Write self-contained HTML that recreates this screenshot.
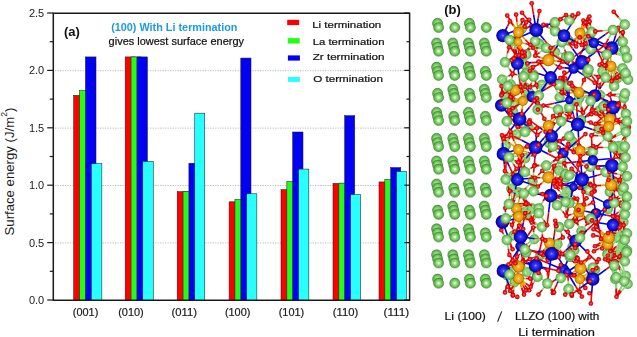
<!DOCTYPE html>
<html><head><meta charset="utf-8"><style>
html,body{margin:0;padding:0;background:#fff;width:637px;height:337px;overflow:hidden}
svg{display:block} text:not([transform]){will-change:transform}
</style></head><body>
<svg width="637" height="337" viewBox="0 0 637 337">
<defs>
<radialGradient id="gg" cx="50%" cy="50%" r="50%"><stop offset="0" stop-color="#ffffff"/><stop offset="0.12" stop-color="#f4fff0"/><stop offset="0.3" stop-color="#a5e88e"/><stop offset="0.56" stop-color="#7cd163"/><stop offset="0.85" stop-color="#5cb24a"/><stop offset="1" stop-color="#3f8535"/></radialGradient>
<radialGradient id="gb" cx="50%" cy="50%" r="50%"><stop offset="0" stop-color="#9a9aff"/><stop offset="0.22" stop-color="#3a3af4"/><stop offset="0.7" stop-color="#1010d8"/><stop offset="1" stop-color="#00007a"/></radialGradient>
<radialGradient id="go" cx="50%" cy="50%" r="50%"><stop offset="0" stop-color="#ffe9a0"/><stop offset="0.25" stop-color="#f7b52a"/><stop offset="0.75" stop-color="#e39a06"/><stop offset="1" stop-color="#9a5a00"/></radialGradient>
<radialGradient id="gr" cx="50%" cy="50%" r="50%"><stop offset="0" stop-color="#ffa0a0"/><stop offset="0.3" stop-color="#ff2a2a"/><stop offset="0.8" stop-color="#e00000"/><stop offset="1" stop-color="#8a0000"/></radialGradient>
<radialGradient id="gl" cx="50%" cy="50%" r="50%"><stop offset="0" stop-color="#ffffff"/><stop offset="0.13" stop-color="#eefce8"/><stop offset="0.36" stop-color="#a9e594"/><stop offset="0.66" stop-color="#88d072"/><stop offset="0.9" stop-color="#67b455"/><stop offset="1" stop-color="#4a8e40"/></radialGradient>
</defs>
<line x1="55" y1="242.90" x2="409" y2="242.90" stroke="#bdbdbd" stroke-width="1" stroke-dasharray="1.3 1.2"/>
<line x1="55" y1="185.50" x2="409" y2="185.50" stroke="#bdbdbd" stroke-width="1" stroke-dasharray="1.3 1.2"/>
<line x1="55" y1="128.10" x2="409" y2="128.10" stroke="#bdbdbd" stroke-width="1" stroke-dasharray="1.3 1.2"/>
<line x1="55" y1="70.70" x2="409" y2="70.70" stroke="#bdbdbd" stroke-width="1" stroke-dasharray="1.3 1.2"/>
<rect x="73.70" y="95.38" width="10.6" height="204.92" fill="#ff0000" stroke="#202020" stroke-width="0.55"/>
<rect x="79.55" y="90.68" width="10.6" height="209.62" fill="#22ff14" stroke="#202020" stroke-width="0.55"/>
<rect x="85.40" y="56.92" width="10.6" height="243.38" fill="#0000f5" stroke="#202020" stroke-width="0.55"/>
<rect x="91.25" y="163.69" width="10.6" height="136.61" fill="#28ffff" stroke="#202020" stroke-width="0.55"/>
<rect x="125.20" y="56.92" width="10.5" height="243.38" fill="#ff0000" stroke="#202020" stroke-width="0.55"/>
<rect x="131.05" y="56.92" width="10.5" height="243.38" fill="#22ff14" stroke="#202020" stroke-width="0.55"/>
<rect x="136.90" y="56.92" width="10.5" height="243.38" fill="#0000f5" stroke="#202020" stroke-width="0.55"/>
<rect x="142.75" y="161.39" width="10.5" height="138.91" fill="#28ffff" stroke="#202020" stroke-width="0.55"/>
<rect x="177.20" y="191.70" width="10.0" height="108.60" fill="#ff0000" stroke="#202020" stroke-width="0.55"/>
<rect x="183.05" y="191.24" width="10.0" height="109.06" fill="#22ff14" stroke="#202020" stroke-width="0.55"/>
<rect x="188.90" y="163.23" width="10.0" height="137.07" fill="#0000f5" stroke="#202020" stroke-width="0.55"/>
<rect x="194.75" y="113.18" width="10.0" height="187.12" fill="#28ffff" stroke="#202020" stroke-width="0.55"/>
<rect x="229.10" y="201.80" width="10.2" height="98.50" fill="#ff0000" stroke="#202020" stroke-width="0.55"/>
<rect x="234.95" y="199.51" width="10.2" height="100.79" fill="#22ff14" stroke="#202020" stroke-width="0.55"/>
<rect x="240.80" y="58.07" width="10.2" height="242.23" fill="#0000f5" stroke="#202020" stroke-width="0.55"/>
<rect x="246.65" y="193.77" width="10.2" height="106.53" fill="#28ffff" stroke="#202020" stroke-width="0.55"/>
<rect x="281.00" y="189.63" width="10.3" height="110.67" fill="#ff0000" stroke="#202020" stroke-width="0.55"/>
<rect x="286.85" y="181.60" width="10.3" height="118.70" fill="#22ff14" stroke="#202020" stroke-width="0.55"/>
<rect x="292.70" y="132.00" width="10.3" height="168.30" fill="#0000f5" stroke="#202020" stroke-width="0.55"/>
<rect x="298.55" y="169.08" width="10.3" height="131.22" fill="#28ffff" stroke="#202020" stroke-width="0.55"/>
<rect x="333.00" y="183.43" width="10.05" height="116.87" fill="#ff0000" stroke="#202020" stroke-width="0.55"/>
<rect x="338.85" y="183.09" width="10.05" height="117.21" fill="#22ff14" stroke="#202020" stroke-width="0.55"/>
<rect x="344.70" y="115.70" width="10.05" height="184.60" fill="#0000f5" stroke="#202020" stroke-width="0.55"/>
<rect x="350.55" y="194.57" width="10.05" height="105.73" fill="#28ffff" stroke="#202020" stroke-width="0.55"/>
<rect x="379.00" y="181.94" width="10.05" height="118.36" fill="#ff0000" stroke="#202020" stroke-width="0.55"/>
<rect x="384.85" y="179.53" width="10.05" height="120.77" fill="#22ff14" stroke="#202020" stroke-width="0.55"/>
<rect x="390.70" y="167.59" width="10.05" height="132.71" fill="#0000f5" stroke="#202020" stroke-width="0.55"/>
<rect x="396.55" y="171.49" width="10.05" height="128.81" fill="#28ffff" stroke="#202020" stroke-width="0.55"/>
<path d="M53.3 13.3 H409.6 V300.3 H53.3 Z" fill="none" stroke="#1a1a1a" stroke-width="1.5"/>
<line x1="47.2" y1="300.00" x2="53.3" y2="300.00" stroke="#1a1a1a" stroke-width="1.2"/>
<line x1="404.2" y1="300.00" x2="409.6" y2="300.00" stroke="#1a1a1a" stroke-width="1.2"/>
<line x1="49.8" y1="271.30" x2="53.3" y2="271.30" stroke="#1a1a1a" stroke-width="1.2"/>
<line x1="406.5" y1="271.30" x2="409.6" y2="271.30" stroke="#1a1a1a" stroke-width="1.2"/>
<line x1="47.2" y1="242.60" x2="53.3" y2="242.60" stroke="#1a1a1a" stroke-width="1.2"/>
<line x1="404.2" y1="242.60" x2="409.6" y2="242.60" stroke="#1a1a1a" stroke-width="1.2"/>
<line x1="49.8" y1="213.90" x2="53.3" y2="213.90" stroke="#1a1a1a" stroke-width="1.2"/>
<line x1="406.5" y1="213.90" x2="409.6" y2="213.90" stroke="#1a1a1a" stroke-width="1.2"/>
<line x1="47.2" y1="185.20" x2="53.3" y2="185.20" stroke="#1a1a1a" stroke-width="1.2"/>
<line x1="404.2" y1="185.20" x2="409.6" y2="185.20" stroke="#1a1a1a" stroke-width="1.2"/>
<line x1="49.8" y1="156.50" x2="53.3" y2="156.50" stroke="#1a1a1a" stroke-width="1.2"/>
<line x1="406.5" y1="156.50" x2="409.6" y2="156.50" stroke="#1a1a1a" stroke-width="1.2"/>
<line x1="47.2" y1="127.80" x2="53.3" y2="127.80" stroke="#1a1a1a" stroke-width="1.2"/>
<line x1="404.2" y1="127.80" x2="409.6" y2="127.80" stroke="#1a1a1a" stroke-width="1.2"/>
<line x1="49.8" y1="99.10" x2="53.3" y2="99.10" stroke="#1a1a1a" stroke-width="1.2"/>
<line x1="406.5" y1="99.10" x2="409.6" y2="99.10" stroke="#1a1a1a" stroke-width="1.2"/>
<line x1="47.2" y1="70.40" x2="53.3" y2="70.40" stroke="#1a1a1a" stroke-width="1.2"/>
<line x1="404.2" y1="70.40" x2="409.6" y2="70.40" stroke="#1a1a1a" stroke-width="1.2"/>
<line x1="49.8" y1="41.70" x2="53.3" y2="41.70" stroke="#1a1a1a" stroke-width="1.2"/>
<line x1="406.5" y1="41.70" x2="409.6" y2="41.70" stroke="#1a1a1a" stroke-width="1.2"/>
<line x1="47.2" y1="13.00" x2="53.3" y2="13.00" stroke="#1a1a1a" stroke-width="1.2"/>
<line x1="404.2" y1="13.00" x2="409.6" y2="13.00" stroke="#1a1a1a" stroke-width="1.2"/>
<text x="44.2" y="17.00" text-anchor="end" font-size="11" fill="#1a1a1a" font-family="Liberation Sans, sans-serif">2.5</text>
<text x="44.2" y="74.40" text-anchor="end" font-size="11" fill="#1a1a1a" font-family="Liberation Sans, sans-serif">2.0</text>
<text x="44.2" y="131.80" text-anchor="end" font-size="11" fill="#1a1a1a" font-family="Liberation Sans, sans-serif">1.5</text>
<text x="44.2" y="189.20" text-anchor="end" font-size="11" fill="#1a1a1a" font-family="Liberation Sans, sans-serif">1.0</text>
<text x="44.2" y="246.60" text-anchor="end" font-size="11" fill="#1a1a1a" font-family="Liberation Sans, sans-serif">0.5</text>
<text x="44.2" y="304.00" text-anchor="end" font-size="11" fill="#1a1a1a" font-family="Liberation Sans, sans-serif">0.0</text>
<text transform="translate(13.6,235.5) rotate(-90)" font-size="13.2" fill="#1a1a1a" font-family="Liberation Sans, sans-serif">Surface energy (J/m<tspan font-size="8.6" dy="-6.9">2</tspan><tspan dy="6.9">)</tspan></text>
<text x="72.8" y="315.8" font-size="11" fill="#1a1a1a" stroke="#1a1a1a" stroke-width="0.2" textLength="25.5" lengthAdjust="spacingAndGlyphs" font-family="Liberation Sans, sans-serif">(001)</text>
<text x="118.2" y="315.8" font-size="11" fill="#1a1a1a" stroke="#1a1a1a" stroke-width="0.2" textLength="25.5" lengthAdjust="spacingAndGlyphs" font-family="Liberation Sans, sans-serif">(010)</text>
<text x="171.6" y="315.8" font-size="11" fill="#1a1a1a" stroke="#1a1a1a" stroke-width="0.2" textLength="25.5" lengthAdjust="spacingAndGlyphs" font-family="Liberation Sans, sans-serif">(011)</text>
<text x="224.9" y="315.8" font-size="11" fill="#1a1a1a" stroke="#1a1a1a" stroke-width="0.2" textLength="25.5" lengthAdjust="spacingAndGlyphs" font-family="Liberation Sans, sans-serif">(100)</text>
<text x="278.7" y="315.8" font-size="11" fill="#1a1a1a" stroke="#1a1a1a" stroke-width="0.2" textLength="25.5" lengthAdjust="spacingAndGlyphs" font-family="Liberation Sans, sans-serif">(101)</text>
<text x="332.7" y="315.8" font-size="11" fill="#1a1a1a" stroke="#1a1a1a" stroke-width="0.2" textLength="25.5" lengthAdjust="spacingAndGlyphs" font-family="Liberation Sans, sans-serif">(110)</text>
<text x="383.6" y="315.8" font-size="11" fill="#1a1a1a" stroke="#1a1a1a" stroke-width="0.2" textLength="25.5" lengthAdjust="spacingAndGlyphs" font-family="Liberation Sans, sans-serif">(111)</text>
<text x="64.0" y="36.0" font-size="13" font-weight="bold" fill="#111" font-family="Liberation Sans, sans-serif">(a)</text>
<text x="111.2" y="31" font-size="10.6" font-weight="bold" fill="#1c9be4" textLength="126.3" lengthAdjust="spacingAndGlyphs" font-family="Liberation Sans, sans-serif">(100) With Li termination</text>
<text x="108.6" y="45.0" font-size="10.8" fill="#111" stroke="#111" stroke-width="0.22" textLength="135.5" lengthAdjust="spacingAndGlyphs" font-family="Liberation Sans, sans-serif">gives lowest surface energy</text>
<rect x="287.2" y="19.8" width="12" height="5.3" fill="#ff0000"/>
<text x="312.2" y="28.1" font-size="9.8" fill="#111" stroke="#111" stroke-width="0.22" textLength="69.0" lengthAdjust="spacingAndGlyphs" font-family="Liberation Sans, sans-serif">Li termination</text>
<rect x="287.7" y="38.1" width="12" height="5.4" fill="#22ff14"/>
<text x="312.7" y="45.0" font-size="9.8" fill="#111" stroke="#111" stroke-width="0.22" textLength="71.8" lengthAdjust="spacingAndGlyphs" font-family="Liberation Sans, sans-serif">La termination</text>
<rect x="287.9" y="55.4" width="12" height="5.2" fill="#0000f5"/>
<text x="312.7" y="59.9" font-size="9.8" fill="#111" stroke="#111" stroke-width="0.22" textLength="71.8" lengthAdjust="spacingAndGlyphs" font-family="Liberation Sans, sans-serif">Zr termination</text>
<rect x="287.9" y="77.0" width="12" height="4.9" fill="#28ffff"/>
<text x="313.2" y="81.5" font-size="9.8" fill="#111" stroke="#111" stroke-width="0.22" textLength="69.8" lengthAdjust="spacingAndGlyphs" font-family="Liberation Sans, sans-serif">O termination</text>
<g><circle cx="437.6" cy="23.4" r="5.1" fill="url(#gg)" stroke="#437f38" stroke-width="0.5"/>
<circle cx="438.6" cy="27.5" r="5.1" fill="url(#gg)" stroke="#437f38" stroke-width="0.5"/>
<circle cx="454.8" cy="27.5" r="5.1" fill="url(#gg)" stroke="#437f38" stroke-width="0.5"/>
<circle cx="469.4" cy="23.4" r="5.1" fill="url(#gg)" stroke="#437f38" stroke-width="0.5"/>
<circle cx="470.4" cy="27.5" r="5.1" fill="url(#gg)" stroke="#437f38" stroke-width="0.5"/>
<circle cx="486.3" cy="27.5" r="5.1" fill="url(#gg)" stroke="#437f38" stroke-width="0.5"/>
<circle cx="436.6" cy="43.0" r="5.1" fill="url(#gg)" stroke="#437f38" stroke-width="0.5"/>
<circle cx="437.6" cy="47.1" r="5.1" fill="url(#gg)" stroke="#437f38" stroke-width="0.5"/>
<circle cx="438.6" cy="51.2" r="5.1" fill="url(#gg)" stroke="#437f38" stroke-width="0.5"/>
<circle cx="452.8" cy="43.0" r="5.1" fill="url(#gg)" stroke="#437f38" stroke-width="0.5"/>
<circle cx="453.8" cy="47.1" r="5.1" fill="url(#gg)" stroke="#437f38" stroke-width="0.5"/>
<circle cx="454.8" cy="51.2" r="5.1" fill="url(#gg)" stroke="#437f38" stroke-width="0.5"/>
<circle cx="468.4" cy="43.0" r="5.1" fill="url(#gg)" stroke="#437f38" stroke-width="0.5"/>
<circle cx="469.4" cy="47.1" r="5.1" fill="url(#gg)" stroke="#437f38" stroke-width="0.5"/>
<circle cx="470.4" cy="51.2" r="5.1" fill="url(#gg)" stroke="#437f38" stroke-width="0.5"/>
<circle cx="484.3" cy="43.0" r="5.1" fill="url(#gg)" stroke="#437f38" stroke-width="0.5"/>
<circle cx="485.3" cy="47.1" r="5.1" fill="url(#gg)" stroke="#437f38" stroke-width="0.5"/>
<circle cx="486.3" cy="51.2" r="5.1" fill="url(#gg)" stroke="#437f38" stroke-width="0.5"/>
<circle cx="436.6" cy="67.2" r="5.1" fill="url(#gg)" stroke="#437f38" stroke-width="0.5"/>
<circle cx="437.6" cy="71.3" r="5.1" fill="url(#gg)" stroke="#437f38" stroke-width="0.5"/>
<circle cx="438.6" cy="75.4" r="5.1" fill="url(#gg)" stroke="#437f38" stroke-width="0.5"/>
<circle cx="453.8" cy="71.3" r="5.1" fill="url(#gg)" stroke="#437f38" stroke-width="0.5"/>
<circle cx="454.8" cy="75.4" r="5.1" fill="url(#gg)" stroke="#437f38" stroke-width="0.5"/>
<circle cx="468.4" cy="67.2" r="5.1" fill="url(#gg)" stroke="#437f38" stroke-width="0.5"/>
<circle cx="469.4" cy="71.3" r="5.1" fill="url(#gg)" stroke="#437f38" stroke-width="0.5"/>
<circle cx="470.4" cy="75.4" r="5.1" fill="url(#gg)" stroke="#437f38" stroke-width="0.5"/>
<circle cx="485.3" cy="71.3" r="5.1" fill="url(#gg)" stroke="#437f38" stroke-width="0.5"/>
<circle cx="486.3" cy="75.4" r="5.1" fill="url(#gg)" stroke="#437f38" stroke-width="0.5"/>
<circle cx="437.6" cy="93.4" r="5.1" fill="url(#gg)" stroke="#437f38" stroke-width="0.5"/>
<circle cx="438.6" cy="97.5" r="5.1" fill="url(#gg)" stroke="#437f38" stroke-width="0.5"/>
<circle cx="452.8" cy="89.3" r="5.1" fill="url(#gg)" stroke="#437f38" stroke-width="0.5"/>
<circle cx="453.8" cy="93.4" r="5.1" fill="url(#gg)" stroke="#437f38" stroke-width="0.5"/>
<circle cx="454.8" cy="97.5" r="5.1" fill="url(#gg)" stroke="#437f38" stroke-width="0.5"/>
<circle cx="469.4" cy="93.4" r="5.1" fill="url(#gg)" stroke="#437f38" stroke-width="0.5"/>
<circle cx="470.4" cy="97.5" r="5.1" fill="url(#gg)" stroke="#437f38" stroke-width="0.5"/>
<circle cx="484.3" cy="89.3" r="5.1" fill="url(#gg)" stroke="#437f38" stroke-width="0.5"/>
<circle cx="485.3" cy="93.4" r="5.1" fill="url(#gg)" stroke="#437f38" stroke-width="0.5"/>
<circle cx="486.3" cy="97.5" r="5.1" fill="url(#gg)" stroke="#437f38" stroke-width="0.5"/>
<circle cx="436.6" cy="112.3" r="5.1" fill="url(#gg)" stroke="#437f38" stroke-width="0.5"/>
<circle cx="437.6" cy="116.4" r="5.1" fill="url(#gg)" stroke="#437f38" stroke-width="0.5"/>
<circle cx="438.6" cy="120.5" r="5.1" fill="url(#gg)" stroke="#437f38" stroke-width="0.5"/>
<circle cx="453.8" cy="116.4" r="5.1" fill="url(#gg)" stroke="#437f38" stroke-width="0.5"/>
<circle cx="454.8" cy="120.5" r="5.1" fill="url(#gg)" stroke="#437f38" stroke-width="0.5"/>
<circle cx="468.4" cy="112.3" r="5.1" fill="url(#gg)" stroke="#437f38" stroke-width="0.5"/>
<circle cx="469.4" cy="116.4" r="5.1" fill="url(#gg)" stroke="#437f38" stroke-width="0.5"/>
<circle cx="470.4" cy="120.5" r="5.1" fill="url(#gg)" stroke="#437f38" stroke-width="0.5"/>
<circle cx="485.3" cy="116.4" r="5.1" fill="url(#gg)" stroke="#437f38" stroke-width="0.5"/>
<circle cx="486.3" cy="120.5" r="5.1" fill="url(#gg)" stroke="#437f38" stroke-width="0.5"/>
<circle cx="436.6" cy="138.4" r="5.1" fill="url(#gg)" stroke="#437f38" stroke-width="0.5"/>
<circle cx="437.6" cy="142.5" r="5.1" fill="url(#gg)" stroke="#437f38" stroke-width="0.5"/>
<circle cx="438.6" cy="146.6" r="5.1" fill="url(#gg)" stroke="#437f38" stroke-width="0.5"/>
<circle cx="452.8" cy="138.4" r="5.1" fill="url(#gg)" stroke="#437f38" stroke-width="0.5"/>
<circle cx="453.8" cy="142.5" r="5.1" fill="url(#gg)" stroke="#437f38" stroke-width="0.5"/>
<circle cx="454.8" cy="146.6" r="5.1" fill="url(#gg)" stroke="#437f38" stroke-width="0.5"/>
<circle cx="468.4" cy="138.4" r="5.1" fill="url(#gg)" stroke="#437f38" stroke-width="0.5"/>
<circle cx="469.4" cy="142.5" r="5.1" fill="url(#gg)" stroke="#437f38" stroke-width="0.5"/>
<circle cx="470.4" cy="146.6" r="5.1" fill="url(#gg)" stroke="#437f38" stroke-width="0.5"/>
<circle cx="484.3" cy="138.4" r="5.1" fill="url(#gg)" stroke="#437f38" stroke-width="0.5"/>
<circle cx="485.3" cy="142.5" r="5.1" fill="url(#gg)" stroke="#437f38" stroke-width="0.5"/>
<circle cx="486.3" cy="146.6" r="5.1" fill="url(#gg)" stroke="#437f38" stroke-width="0.5"/>
<circle cx="436.6" cy="161.0" r="5.1" fill="url(#gg)" stroke="#437f38" stroke-width="0.5"/>
<circle cx="437.6" cy="165.1" r="5.1" fill="url(#gg)" stroke="#437f38" stroke-width="0.5"/>
<circle cx="438.6" cy="169.2" r="5.1" fill="url(#gg)" stroke="#437f38" stroke-width="0.5"/>
<circle cx="452.8" cy="161.0" r="5.1" fill="url(#gg)" stroke="#437f38" stroke-width="0.5"/>
<circle cx="453.8" cy="165.1" r="5.1" fill="url(#gg)" stroke="#437f38" stroke-width="0.5"/>
<circle cx="454.8" cy="169.2" r="5.1" fill="url(#gg)" stroke="#437f38" stroke-width="0.5"/>
<circle cx="468.4" cy="161.0" r="5.1" fill="url(#gg)" stroke="#437f38" stroke-width="0.5"/>
<circle cx="469.4" cy="165.1" r="5.1" fill="url(#gg)" stroke="#437f38" stroke-width="0.5"/>
<circle cx="470.4" cy="169.2" r="5.1" fill="url(#gg)" stroke="#437f38" stroke-width="0.5"/>
<circle cx="484.3" cy="161.0" r="5.1" fill="url(#gg)" stroke="#437f38" stroke-width="0.5"/>
<circle cx="485.3" cy="165.1" r="5.1" fill="url(#gg)" stroke="#437f38" stroke-width="0.5"/>
<circle cx="486.3" cy="169.2" r="5.1" fill="url(#gg)" stroke="#437f38" stroke-width="0.5"/>
<circle cx="436.6" cy="184.0" r="5.1" fill="url(#gg)" stroke="#437f38" stroke-width="0.5"/>
<circle cx="437.6" cy="188.1" r="5.1" fill="url(#gg)" stroke="#437f38" stroke-width="0.5"/>
<circle cx="438.6" cy="192.2" r="5.1" fill="url(#gg)" stroke="#437f38" stroke-width="0.5"/>
<circle cx="453.8" cy="188.1" r="5.1" fill="url(#gg)" stroke="#437f38" stroke-width="0.5"/>
<circle cx="454.8" cy="192.2" r="5.1" fill="url(#gg)" stroke="#437f38" stroke-width="0.5"/>
<circle cx="468.4" cy="184.0" r="5.1" fill="url(#gg)" stroke="#437f38" stroke-width="0.5"/>
<circle cx="469.4" cy="188.1" r="5.1" fill="url(#gg)" stroke="#437f38" stroke-width="0.5"/>
<circle cx="470.4" cy="192.2" r="5.1" fill="url(#gg)" stroke="#437f38" stroke-width="0.5"/>
<circle cx="485.3" cy="188.1" r="5.1" fill="url(#gg)" stroke="#437f38" stroke-width="0.5"/>
<circle cx="486.3" cy="192.2" r="5.1" fill="url(#gg)" stroke="#437f38" stroke-width="0.5"/>
<circle cx="437.6" cy="210.2" r="5.1" fill="url(#gg)" stroke="#437f38" stroke-width="0.5"/>
<circle cx="438.6" cy="214.3" r="5.1" fill="url(#gg)" stroke="#437f38" stroke-width="0.5"/>
<circle cx="452.8" cy="206.1" r="5.1" fill="url(#gg)" stroke="#437f38" stroke-width="0.5"/>
<circle cx="453.8" cy="210.2" r="5.1" fill="url(#gg)" stroke="#437f38" stroke-width="0.5"/>
<circle cx="454.8" cy="214.3" r="5.1" fill="url(#gg)" stroke="#437f38" stroke-width="0.5"/>
<circle cx="469.4" cy="210.2" r="5.1" fill="url(#gg)" stroke="#437f38" stroke-width="0.5"/>
<circle cx="470.4" cy="214.3" r="5.1" fill="url(#gg)" stroke="#437f38" stroke-width="0.5"/>
<circle cx="484.3" cy="206.1" r="5.1" fill="url(#gg)" stroke="#437f38" stroke-width="0.5"/>
<circle cx="485.3" cy="210.2" r="5.1" fill="url(#gg)" stroke="#437f38" stroke-width="0.5"/>
<circle cx="486.3" cy="214.3" r="5.1" fill="url(#gg)" stroke="#437f38" stroke-width="0.5"/>
<circle cx="436.6" cy="228.8" r="5.1" fill="url(#gg)" stroke="#437f38" stroke-width="0.5"/>
<circle cx="437.6" cy="232.9" r="5.1" fill="url(#gg)" stroke="#437f38" stroke-width="0.5"/>
<circle cx="438.6" cy="237.0" r="5.1" fill="url(#gg)" stroke="#437f38" stroke-width="0.5"/>
<circle cx="453.8" cy="232.9" r="5.1" fill="url(#gg)" stroke="#437f38" stroke-width="0.5"/>
<circle cx="454.8" cy="237.0" r="5.1" fill="url(#gg)" stroke="#437f38" stroke-width="0.5"/>
<circle cx="468.4" cy="228.8" r="5.1" fill="url(#gg)" stroke="#437f38" stroke-width="0.5"/>
<circle cx="469.4" cy="232.9" r="5.1" fill="url(#gg)" stroke="#437f38" stroke-width="0.5"/>
<circle cx="470.4" cy="237.0" r="5.1" fill="url(#gg)" stroke="#437f38" stroke-width="0.5"/>
<circle cx="485.3" cy="232.9" r="5.1" fill="url(#gg)" stroke="#437f38" stroke-width="0.5"/>
<circle cx="486.3" cy="237.0" r="5.1" fill="url(#gg)" stroke="#437f38" stroke-width="0.5"/>
<circle cx="436.6" cy="254.8" r="5.1" fill="url(#gg)" stroke="#437f38" stroke-width="0.5"/>
<circle cx="437.6" cy="258.9" r="5.1" fill="url(#gg)" stroke="#437f38" stroke-width="0.5"/>
<circle cx="438.6" cy="263.0" r="5.1" fill="url(#gg)" stroke="#437f38" stroke-width="0.5"/>
<circle cx="452.8" cy="254.8" r="5.1" fill="url(#gg)" stroke="#437f38" stroke-width="0.5"/>
<circle cx="453.8" cy="258.9" r="5.1" fill="url(#gg)" stroke="#437f38" stroke-width="0.5"/>
<circle cx="454.8" cy="263.0" r="5.1" fill="url(#gg)" stroke="#437f38" stroke-width="0.5"/>
<circle cx="468.4" cy="254.8" r="5.1" fill="url(#gg)" stroke="#437f38" stroke-width="0.5"/>
<circle cx="469.4" cy="258.9" r="5.1" fill="url(#gg)" stroke="#437f38" stroke-width="0.5"/>
<circle cx="470.4" cy="263.0" r="5.1" fill="url(#gg)" stroke="#437f38" stroke-width="0.5"/>
<circle cx="484.3" cy="254.8" r="5.1" fill="url(#gg)" stroke="#437f38" stroke-width="0.5"/>
<circle cx="485.3" cy="258.9" r="5.1" fill="url(#gg)" stroke="#437f38" stroke-width="0.5"/>
<circle cx="486.3" cy="263.0" r="5.1" fill="url(#gg)" stroke="#437f38" stroke-width="0.5"/>
<circle cx="437.6" cy="279.1" r="5.1" fill="url(#gg)" stroke="#437f38" stroke-width="0.5"/>
<circle cx="438.6" cy="283.2" r="5.1" fill="url(#gg)" stroke="#437f38" stroke-width="0.5"/>
<circle cx="454.8" cy="283.2" r="5.1" fill="url(#gg)" stroke="#437f38" stroke-width="0.5"/>
<circle cx="469.4" cy="279.1" r="5.1" fill="url(#gg)" stroke="#437f38" stroke-width="0.5"/>
<circle cx="470.4" cy="283.2" r="5.1" fill="url(#gg)" stroke="#437f38" stroke-width="0.5"/>
<circle cx="485.3" cy="279.1" r="5.1" fill="url(#gg)" stroke="#437f38" stroke-width="0.5"/>
<circle cx="486.3" cy="283.2" r="5.1" fill="url(#gg)" stroke="#437f38" stroke-width="0.5"/></g>
<g><circle cx="559.0" cy="170.5" r="4.8" fill="url(#gl)" stroke="#5a9a4e" stroke-width="0.5"/>
<circle cx="618.5" cy="146.1" r="4.8" fill="url(#gl)" stroke="#5a9a4e" stroke-width="0.5"/>
<circle cx="566.0" cy="177.7" r="4.8" fill="url(#gl)" stroke="#5a9a4e" stroke-width="0.5"/>
<circle cx="525.3" cy="158.1" r="4.8" fill="url(#gl)" stroke="#5a9a4e" stroke-width="0.5"/>
<circle cx="581.4" cy="231.2" r="4.8" fill="url(#gl)" stroke="#5a9a4e" stroke-width="0.5"/>
<circle cx="513.9" cy="103.9" r="4.8" fill="url(#gl)" stroke="#5a9a4e" stroke-width="0.5"/>
<circle cx="513.4" cy="235.5" r="4.8" fill="url(#gl)" stroke="#5a9a4e" stroke-width="0.5"/>
<circle cx="589.4" cy="35.9" r="4.8" fill="url(#gl)" stroke="#5a9a4e" stroke-width="0.5"/>
<circle cx="625.8" cy="275.8" r="4.8" fill="url(#gl)" stroke="#5a9a4e" stroke-width="0.5"/>
<circle cx="584.4" cy="185.0" r="4.8" fill="url(#gl)" stroke="#5a9a4e" stroke-width="0.5"/>
<circle cx="521.8" cy="28.9" r="4.8" fill="url(#gl)" stroke="#5a9a4e" stroke-width="0.5"/>
<circle cx="568.6" cy="40.5" r="4.8" fill="url(#gl)" stroke="#5a9a4e" stroke-width="0.5"/>
<circle cx="526.0" cy="87.9" r="4.8" fill="url(#gl)" stroke="#5a9a4e" stroke-width="0.5"/>
<circle cx="505.8" cy="145.6" r="4.8" fill="url(#gl)" stroke="#5a9a4e" stroke-width="0.5"/>
<circle cx="557.5" cy="244.0" r="4.8" fill="url(#gl)" stroke="#5a9a4e" stroke-width="0.5"/>
<circle cx="567.4" cy="191.5" r="4.8" fill="url(#gl)" stroke="#5a9a4e" stroke-width="0.5"/>
<circle cx="565.0" cy="197.2" r="4.8" fill="url(#gl)" stroke="#5a9a4e" stroke-width="0.5"/>
<circle cx="559.6" cy="97.3" r="4.8" fill="url(#gl)" stroke="#5a9a4e" stroke-width="0.5"/>
<circle cx="627.7" cy="283.9" r="4.8" fill="url(#gl)" stroke="#5a9a4e" stroke-width="0.5"/>
<circle cx="607.9" cy="209.0" r="4.8" fill="url(#gl)" stroke="#5a9a4e" stroke-width="0.5"/>
<circle cx="541.7" cy="84.7" r="4.8" fill="url(#gl)" stroke="#5a9a4e" stroke-width="0.5"/>
<circle cx="538.4" cy="43.3" r="4.8" fill="url(#gl)" stroke="#5a9a4e" stroke-width="0.5"/>
<circle cx="598.6" cy="129.1" r="4.8" fill="url(#gl)" stroke="#5a9a4e" stroke-width="0.5"/>
<circle cx="608.7" cy="125.5" r="4.8" fill="url(#gl)" stroke="#5a9a4e" stroke-width="0.5"/>
<circle cx="622.7" cy="245.3" r="4.8" fill="url(#gl)" stroke="#5a9a4e" stroke-width="0.5"/>
<circle cx="502.1" cy="79.5" r="4.8" fill="url(#gl)" stroke="#5a9a4e" stroke-width="0.5"/>
<circle cx="616.7" cy="147.2" r="4.8" fill="url(#gl)" stroke="#5a9a4e" stroke-width="0.5"/>
<circle cx="625.5" cy="128.3" r="4.8" fill="url(#gl)" stroke="#5a9a4e" stroke-width="0.5"/>
<circle cx="511.2" cy="188.7" r="4.8" fill="url(#gl)" stroke="#5a9a4e" stroke-width="0.5"/>
<circle cx="600.1" cy="95.1" r="4.8" fill="url(#gl)" stroke="#5a9a4e" stroke-width="0.5"/>
<circle cx="513.0" cy="111.5" r="4.8" fill="url(#gl)" stroke="#5a9a4e" stroke-width="0.5"/>
<circle cx="623.5" cy="222.1" r="4.8" fill="url(#gl)" stroke="#5a9a4e" stroke-width="0.5"/>
<circle cx="516.9" cy="89.1" r="4.8" fill="url(#gl)" stroke="#5a9a4e" stroke-width="0.5"/>
<circle cx="514.7" cy="40.6" r="4.8" fill="url(#gl)" stroke="#5a9a4e" stroke-width="0.5"/>
<circle cx="602.4" cy="71.2" r="4.8" fill="url(#gl)" stroke="#5a9a4e" stroke-width="0.5"/>
<circle cx="572.5" cy="141.3" r="4.8" fill="url(#gl)" stroke="#5a9a4e" stroke-width="0.5"/>
<circle cx="526.0" cy="215.3" r="4.8" fill="url(#gl)" stroke="#5a9a4e" stroke-width="0.5"/>
<circle cx="518.5" cy="192.4" r="4.8" fill="url(#gl)" stroke="#5a9a4e" stroke-width="0.5"/>
<circle cx="516.7" cy="134.4" r="4.8" fill="url(#gl)" stroke="#5a9a4e" stroke-width="0.5"/>
<circle cx="528.8" cy="95.1" r="4.8" fill="url(#gl)" stroke="#5a9a4e" stroke-width="0.5"/>
<circle cx="624.3" cy="233.9" r="4.8" fill="url(#gl)" stroke="#5a9a4e" stroke-width="0.5"/>
<circle cx="540.3" cy="255.1" r="4.8" fill="url(#gl)" stroke="#5a9a4e" stroke-width="0.5"/>
<circle cx="528.5" cy="127.5" r="4.8" fill="url(#gl)" stroke="#5a9a4e" stroke-width="0.5"/>
<circle cx="609.7" cy="191.9" r="4.8" fill="url(#gl)" stroke="#5a9a4e" stroke-width="0.5"/>
<circle cx="514.6" cy="282.2" r="4.8" fill="url(#gl)" stroke="#5a9a4e" stroke-width="0.5"/>
<circle cx="528.9" cy="92.2" r="4.8" fill="url(#gl)" stroke="#5a9a4e" stroke-width="0.5"/>
<circle cx="599.4" cy="110.5" r="4.8" fill="url(#gl)" stroke="#5a9a4e" stroke-width="0.5"/>
<circle cx="539.3" cy="44.1" r="4.8" fill="url(#gl)" stroke="#5a9a4e" stroke-width="0.5"/>
<circle cx="513.4" cy="176.5" r="4.8" fill="url(#gl)" stroke="#5a9a4e" stroke-width="0.5"/>
<circle cx="532.6" cy="181.3" r="4.8" fill="url(#gl)" stroke="#5a9a4e" stroke-width="0.5"/>
<circle cx="548.8" cy="142.8" r="4.8" fill="url(#gl)" stroke="#5a9a4e" stroke-width="0.5"/>
<circle cx="622.9" cy="150.8" r="4.8" fill="url(#gl)" stroke="#5a9a4e" stroke-width="0.5"/>
<circle cx="574.4" cy="250.3" r="4.8" fill="url(#gl)" stroke="#5a9a4e" stroke-width="0.5"/>
<circle cx="525.0" cy="65.1" r="4.8" fill="url(#gl)" stroke="#5a9a4e" stroke-width="0.5"/>
<circle cx="616.5" cy="237.6" r="4.8" fill="url(#gl)" stroke="#5a9a4e" stroke-width="0.5"/>
<circle cx="533.4" cy="74.3" r="4.8" fill="url(#gl)" stroke="#5a9a4e" stroke-width="0.5"/>
<circle cx="595.2" cy="269.5" r="4.8" fill="url(#gl)" stroke="#5a9a4e" stroke-width="0.5"/>
<circle cx="526.8" cy="272.0" r="4.8" fill="url(#gl)" stroke="#5a9a4e" stroke-width="0.5"/>
<circle cx="613.2" cy="181.9" r="4.8" fill="url(#gl)" stroke="#5a9a4e" stroke-width="0.5"/>
<circle cx="555.1" cy="52.0" r="4.8" fill="url(#gl)" stroke="#5a9a4e" stroke-width="0.5"/>
<circle cx="506.9" cy="275.3" r="4.8" fill="url(#gl)" stroke="#5a9a4e" stroke-width="0.5"/>
<circle cx="532.0" cy="208.2" r="4.8" fill="url(#gl)" stroke="#5a9a4e" stroke-width="0.5"/>
<circle cx="534.4" cy="239.2" r="4.8" fill="url(#gl)" stroke="#5a9a4e" stroke-width="0.5"/>
<circle cx="577.2" cy="101.3" r="4.8" fill="url(#gl)" stroke="#5a9a4e" stroke-width="0.5"/>
<circle cx="524.1" cy="212.3" r="4.8" fill="url(#gl)" stroke="#5a9a4e" stroke-width="0.5"/>
<circle cx="510.7" cy="84.4" r="4.8" fill="url(#gl)" stroke="#5a9a4e" stroke-width="0.5"/>
<circle cx="572.5" cy="246.6" r="4.8" fill="url(#gl)" stroke="#5a9a4e" stroke-width="0.5"/>
<circle cx="579.4" cy="97.9" r="4.8" fill="url(#gl)" stroke="#5a9a4e" stroke-width="0.5"/>
<circle cx="617.6" cy="78.0" r="4.8" fill="url(#gl)" stroke="#5a9a4e" stroke-width="0.5"/>
<circle cx="504.1" cy="95.0" r="4.8" fill="url(#gl)" stroke="#5a9a4e" stroke-width="0.5"/>
<line x1="518.5" y1="149.6" x2="521.1" y2="153.8" stroke="#e8a000" stroke-width="1.6"/>
<line x1="521.1" y1="153.8" x2="522.1" y2="155.3" stroke="#ee0000" stroke-width="1.6"/>
<line x1="555.0" y1="22.3" x2="547.9" y2="23.8" stroke="#8ad67a" stroke-width="1.6"/>
<line x1="547.9" y1="23.8" x2="543.4" y2="24.7" stroke="#ee0000" stroke-width="1.6"/>
<line x1="510.7" y1="84.4" x2="510.6" y2="92.0" stroke="#8ad67a" stroke-width="1.6"/>
<line x1="510.6" y1="92.0" x2="510.6" y2="97.0" stroke="#ee0000" stroke-width="1.6"/>
<line x1="522.8" y1="101.0" x2="515.2" y2="100.8" stroke="#e8a000" stroke-width="1.6"/>
<line x1="515.2" y1="100.8" x2="510.8" y2="100.6" stroke="#ee0000" stroke-width="1.6"/>
<line x1="561.2" y1="159.2" x2="560.6" y2="156.5" stroke="#8ad67a" stroke-width="1.6"/>
<line x1="560.6" y1="156.5" x2="560.5" y2="155.8" stroke="#ee0000" stroke-width="1.6"/>
<line x1="550.6" y1="77.5" x2="559.8" y2="64.4" stroke="#0000e6" stroke-width="1.6"/>
<line x1="559.8" y1="64.4" x2="566.7" y2="54.6" stroke="#ee0000" stroke-width="1.6"/>
<line x1="518.5" y1="278.4" x2="511.9" y2="283.6" stroke="#e8a000" stroke-width="1.6"/>
<line x1="511.9" y1="283.6" x2="507.7" y2="286.8" stroke="#ee0000" stroke-width="1.6"/>
<line x1="509.5" y1="40.0" x2="509.2" y2="44.9" stroke="#8ad67a" stroke-width="1.6"/>
<line x1="509.2" y1="44.9" x2="509.1" y2="47.2" stroke="#ee0000" stroke-width="1.6"/>
<line x1="548.8" y1="142.8" x2="542.3" y2="144.2" stroke="#8ad67a" stroke-width="1.6"/>
<line x1="542.3" y1="144.2" x2="538.3" y2="145.0" stroke="#ee0000" stroke-width="1.6"/>
<line x1="559.0" y1="85.0" x2="555.2" y2="84.4" stroke="#8ad67a" stroke-width="1.6"/>
<line x1="555.2" y1="84.4" x2="554.1" y2="84.3" stroke="#ee0000" stroke-width="1.6"/>
<line x1="589.4" y1="35.9" x2="583.3" y2="36.9" stroke="#8ad67a" stroke-width="1.6"/>
<line x1="583.3" y1="36.9" x2="579.8" y2="37.4" stroke="#ee0000" stroke-width="1.6"/>
<line x1="538.8" y1="213.2" x2="543.7" y2="220.3" stroke="#8ad67a" stroke-width="1.6"/>
<line x1="543.7" y1="220.3" x2="547.1" y2="225.2" stroke="#ee0000" stroke-width="1.6"/>
<line x1="508.9" y1="157.1" x2="515.5" y2="161.9" stroke="#8ad67a" stroke-width="1.6"/>
<line x1="515.5" y1="161.9" x2="519.9" y2="165.1" stroke="#ee0000" stroke-width="1.6"/>
<line x1="550.6" y1="195.6" x2="552.6" y2="178.8" stroke="#0000e6" stroke-width="1.6"/>
<line x1="552.6" y1="178.8" x2="554.2" y2="165.9" stroke="#ee0000" stroke-width="1.6"/>
<line x1="605.6" y1="77.5" x2="605.6" y2="79.5" stroke="#8ad67a" stroke-width="1.6"/>
<line x1="605.6" y1="79.5" x2="605.6" y2="80.0" stroke="#ee0000" stroke-width="1.6"/>
<line x1="505.7" y1="179.5" x2="505.1" y2="173.9" stroke="#8ad67a" stroke-width="1.6"/>
<line x1="505.1" y1="173.9" x2="504.9" y2="171.0" stroke="#ee0000" stroke-width="1.6"/>
<line x1="613.2" y1="181.9" x2="610.8" y2="175.7" stroke="#8ad67a" stroke-width="1.6"/>
<line x1="610.8" y1="175.7" x2="609.4" y2="172.1" stroke="#ee0000" stroke-width="1.6"/>
<line x1="605.6" y1="172.0" x2="607.4" y2="177.2" stroke="#8ad67a" stroke-width="1.6"/>
<line x1="607.4" y1="177.2" x2="608.4" y2="180.0" stroke="#ee0000" stroke-width="1.6"/>
<line x1="552.7" y1="146.4" x2="550.7" y2="149.5" stroke="#8ad67a" stroke-width="1.6"/>
<line x1="550.7" y1="149.5" x2="550.1" y2="150.4" stroke="#ee0000" stroke-width="1.6"/>
<line x1="540.3" y1="255.1" x2="545.2" y2="258.4" stroke="#8ad67a" stroke-width="1.6"/>
<line x1="545.2" y1="258.4" x2="547.8" y2="260.1" stroke="#ee0000" stroke-width="1.6"/>
<line x1="548.4" y1="125.6" x2="545.5" y2="120.8" stroke="#e8a000" stroke-width="1.6"/>
<line x1="545.5" y1="120.8" x2="544.3" y2="118.7" stroke="#ee0000" stroke-width="1.6"/>
<line x1="508.9" y1="204.1" x2="506.2" y2="207.1" stroke="#8ad67a" stroke-width="1.6"/>
<line x1="506.2" y1="207.1" x2="505.3" y2="208.1" stroke="#ee0000" stroke-width="1.6"/>
<line x1="627.0" y1="121.3" x2="625.6" y2="113.0" stroke="#8ad67a" stroke-width="1.6"/>
<line x1="625.6" y1="113.0" x2="624.6" y2="107.4" stroke="#ee0000" stroke-width="1.6"/>
<line x1="561.2" y1="159.2" x2="558.3" y2="158.8" stroke="#8ad67a" stroke-width="1.6"/>
<line x1="558.3" y1="158.8" x2="557.5" y2="158.7" stroke="#ee0000" stroke-width="1.6"/>
<line x1="595.2" y1="269.5" x2="596.4" y2="264.4" stroke="#8ad67a" stroke-width="1.6"/>
<line x1="596.4" y1="264.4" x2="596.9" y2="262.0" stroke="#ee0000" stroke-width="1.6"/>
<line x1="533.5" y1="76.4" x2="535.4" y2="82.0" stroke="#8ad67a" stroke-width="1.6"/>
<line x1="535.4" y1="82.0" x2="536.4" y2="85.1" stroke="#ee0000" stroke-width="1.6"/>
<line x1="532.4" y1="96.7" x2="525.8" y2="84.6" stroke="#0000e6" stroke-width="1.6"/>
<line x1="525.8" y1="84.6" x2="521.2" y2="76.0" stroke="#ee0000" stroke-width="1.6"/>
<line x1="516.9" y1="89.1" x2="520.3" y2="90.5" stroke="#8ad67a" stroke-width="1.6"/>
<line x1="520.3" y1="90.5" x2="521.3" y2="90.9" stroke="#ee0000" stroke-width="1.6"/>
<line x1="513.0" y1="111.5" x2="512.8" y2="109.0" stroke="#8ad67a" stroke-width="1.6"/>
<line x1="512.8" y1="109.0" x2="512.8" y2="108.3" stroke="#ee0000" stroke-width="1.6"/>
<line x1="513.9" y1="103.9" x2="511.7" y2="99.2" stroke="#8ad67a" stroke-width="1.6"/>
<line x1="511.7" y1="99.2" x2="510.6" y2="97.0" stroke="#ee0000" stroke-width="1.6"/>
<line x1="549.5" y1="243.1" x2="553.0" y2="251.9" stroke="#e8a000" stroke-width="1.6"/>
<line x1="553.0" y1="251.9" x2="555.3" y2="257.7" stroke="#ee0000" stroke-width="1.6"/>
<line x1="538.8" y1="95.6" x2="539.1" y2="102.3" stroke="#8ad67a" stroke-width="1.6"/>
<line x1="539.1" y1="102.3" x2="539.2" y2="106.2" stroke="#ee0000" stroke-width="1.6"/>
<line x1="528.5" y1="127.5" x2="534.1" y2="128.0" stroke="#8ad67a" stroke-width="1.6"/>
<line x1="534.1" y1="128.0" x2="536.9" y2="128.2" stroke="#ee0000" stroke-width="1.6"/>
<line x1="575.7" y1="241.0" x2="587.1" y2="230.2" stroke="#0000e6" stroke-width="1.6"/>
<line x1="587.1" y1="230.2" x2="595.6" y2="222.1" stroke="#ee0000" stroke-width="1.6"/>
<line x1="549.5" y1="243.1" x2="552.1" y2="247.3" stroke="#e8a000" stroke-width="1.6"/>
<line x1="552.1" y1="247.3" x2="553.0" y2="248.7" stroke="#ee0000" stroke-width="1.6"/>
<line x1="607.7" y1="244.2" x2="599.4" y2="248.4" stroke="#e8a000" stroke-width="1.6"/>
<line x1="599.4" y1="248.4" x2="593.9" y2="251.2" stroke="#ee0000" stroke-width="1.6"/>
<line x1="515.3" y1="90.3" x2="512.4" y2="96.9" stroke="#e8a000" stroke-width="1.6"/>
<line x1="512.4" y1="96.9" x2="510.8" y2="100.6" stroke="#ee0000" stroke-width="1.6"/>
<line x1="592.8" y1="151.8" x2="589.0" y2="152.9" stroke="#8ad67a" stroke-width="1.6"/>
<line x1="589.0" y1="152.9" x2="587.8" y2="153.2" stroke="#ee0000" stroke-width="1.6"/>
<line x1="607.7" y1="136.2" x2="601.0" y2="142.7" stroke="#8ad67a" stroke-width="1.6"/>
<line x1="601.0" y1="142.7" x2="596.2" y2="147.4" stroke="#ee0000" stroke-width="1.6"/>
<line x1="598.6" y1="129.1" x2="600.9" y2="129.1" stroke="#8ad67a" stroke-width="1.6"/>
<line x1="600.9" y1="129.1" x2="601.5" y2="129.1" stroke="#ee0000" stroke-width="1.6"/>
<line x1="580.5" y1="268.3" x2="585.9" y2="261.5" stroke="#e8a000" stroke-width="1.6"/>
<line x1="585.9" y1="261.5" x2="589.4" y2="257.2" stroke="#ee0000" stroke-width="1.6"/>
<line x1="609.9" y1="119.1" x2="606.8" y2="110.9" stroke="#e8a000" stroke-width="1.6"/>
<line x1="606.8" y1="110.9" x2="604.9" y2="105.7" stroke="#ee0000" stroke-width="1.6"/>
<line x1="523.8" y1="193.4" x2="532.0" y2="189.4" stroke="#8ad67a" stroke-width="1.6"/>
<line x1="532.0" y1="189.4" x2="537.8" y2="186.6" stroke="#ee0000" stroke-width="1.6"/>
<line x1="591.7" y1="32.0" x2="590.4" y2="25.4" stroke="#8ad67a" stroke-width="1.6"/>
<line x1="590.4" y1="25.4" x2="589.6" y2="21.4" stroke="#ee0000" stroke-width="1.6"/>
<line x1="518.5" y1="266.6" x2="517.5" y2="260.1" stroke="#e8a000" stroke-width="1.6"/>
<line x1="517.5" y1="260.1" x2="517.0" y2="256.7" stroke="#ee0000" stroke-width="1.6"/>
<line x1="538.4" y1="43.3" x2="530.4" y2="48.7" stroke="#8ad67a" stroke-width="1.6"/>
<line x1="530.4" y1="48.7" x2="524.6" y2="52.6" stroke="#ee0000" stroke-width="1.6"/>
<line x1="608.8" y1="237.8" x2="615.4" y2="231.5" stroke="#e8a000" stroke-width="1.6"/>
<line x1="615.4" y1="231.5" x2="619.7" y2="227.3" stroke="#ee0000" stroke-width="1.6"/>
<line x1="548.4" y1="177.4" x2="552.9" y2="183.4" stroke="#e8a000" stroke-width="1.6"/>
<line x1="552.9" y1="183.4" x2="555.5" y2="186.8" stroke="#ee0000" stroke-width="1.6"/>
<line x1="615.4" y1="279.0" x2="615.9" y2="269.1" stroke="#8ad67a" stroke-width="1.6"/>
<line x1="615.9" y1="269.1" x2="616.2" y2="262.0" stroke="#ee0000" stroke-width="1.6"/>
<line x1="569.3" y1="136.2" x2="565.3" y2="137.9" stroke="#8ad67a" stroke-width="1.6"/>
<line x1="565.3" y1="137.9" x2="563.9" y2="138.6" stroke="#ee0000" stroke-width="1.6"/>
<line x1="622.5" y1="68.5" x2="612.1" y2="66.7" stroke="#8ad67a" stroke-width="1.6"/>
<line x1="612.1" y1="66.7" x2="604.4" y2="65.4" stroke="#ee0000" stroke-width="1.6"/>
<line x1="616.7" y1="147.2" x2="609.0" y2="139.2" stroke="#8ad67a" stroke-width="1.6"/>
<line x1="609.0" y1="139.2" x2="603.1" y2="133.1" stroke="#ee0000" stroke-width="1.6"/>
<line x1="533.5" y1="76.4" x2="531.4" y2="83.0" stroke="#8ad67a" stroke-width="1.6"/>
<line x1="531.4" y1="83.0" x2="530.0" y2="87.1" stroke="#ee0000" stroke-width="1.6"/>
<line x1="534.4" y1="239.2" x2="527.1" y2="243.9" stroke="#8ad67a" stroke-width="1.6"/>
<line x1="527.1" y1="243.9" x2="522.1" y2="247.1" stroke="#ee0000" stroke-width="1.6"/>
<line x1="607.7" y1="253.8" x2="610.0" y2="257.3" stroke="#8ad67a" stroke-width="1.6"/>
<line x1="610.0" y1="257.3" x2="610.8" y2="258.6" stroke="#ee0000" stroke-width="1.6"/>
<line x1="580.0" y1="208.4" x2="583.1" y2="205.2" stroke="#e8a000" stroke-width="1.6"/>
<line x1="583.1" y1="205.2" x2="584.0" y2="204.2" stroke="#ee0000" stroke-width="1.6"/>
<line x1="609.9" y1="119.1" x2="604.7" y2="125.3" stroke="#e8a000" stroke-width="1.6"/>
<line x1="604.7" y1="125.3" x2="601.5" y2="129.1" stroke="#ee0000" stroke-width="1.6"/>
<line x1="518.0" y1="42.0" x2="516.6" y2="50.3" stroke="#e8a000" stroke-width="1.6"/>
<line x1="516.6" y1="50.3" x2="515.8" y2="55.4" stroke="#ee0000" stroke-width="1.6"/>
<line x1="528.9" y1="92.2" x2="526.3" y2="88.3" stroke="#8ad67a" stroke-width="1.6"/>
<line x1="526.3" y1="88.3" x2="525.2" y2="86.7" stroke="#ee0000" stroke-width="1.6"/>
<line x1="579.7" y1="279.0" x2="587.5" y2="281.1" stroke="#e8a000" stroke-width="1.6"/>
<line x1="587.5" y1="281.1" x2="592.2" y2="282.4" stroke="#ee0000" stroke-width="1.6"/>
<line x1="600.1" y1="95.1" x2="606.3" y2="94.9" stroke="#8ad67a" stroke-width="1.6"/>
<line x1="606.3" y1="94.9" x2="609.7" y2="94.7" stroke="#ee0000" stroke-width="1.6"/>
<line x1="578.9" y1="92.4" x2="569.2" y2="92.9" stroke="#e8a000" stroke-width="1.6"/>
<line x1="569.2" y1="92.9" x2="562.6" y2="93.2" stroke="#ee0000" stroke-width="1.6"/>
<line x1="624.8" y1="214.3" x2="620.7" y2="207.9" stroke="#8ad67a" stroke-width="1.6"/>
<line x1="620.7" y1="207.9" x2="618.0" y2="203.7" stroke="#ee0000" stroke-width="1.6"/>
<line x1="563.4" y1="152.8" x2="574.2" y2="165.4" stroke="#0000e6" stroke-width="1.6"/>
<line x1="574.2" y1="165.4" x2="582.4" y2="175.0" stroke="#ee0000" stroke-width="1.6"/>
<line x1="590.6" y1="218.5" x2="594.2" y2="221.1" stroke="#8ad67a" stroke-width="1.6"/>
<line x1="594.2" y1="221.1" x2="595.6" y2="222.1" stroke="#ee0000" stroke-width="1.6"/>
<line x1="607.7" y1="244.2" x2="599.8" y2="245.5" stroke="#e8a000" stroke-width="1.6"/>
<line x1="599.8" y1="245.5" x2="595.0" y2="246.2" stroke="#ee0000" stroke-width="1.6"/>
<line x1="592.8" y1="160.3" x2="593.6" y2="175.5" stroke="#0000e6" stroke-width="1.6"/>
<line x1="593.6" y1="175.5" x2="594.3" y2="186.7" stroke="#ee0000" stroke-width="1.6"/>
<line x1="535.6" y1="147.5" x2="544.1" y2="137.9" stroke="#0000e6" stroke-width="1.6"/>
<line x1="544.1" y1="137.9" x2="550.0" y2="131.3" stroke="#ee0000" stroke-width="1.6"/>
<line x1="546.3" y1="165.6" x2="539.0" y2="165.8" stroke="#8ad67a" stroke-width="1.6"/>
<line x1="539.0" y1="165.8" x2="534.3" y2="166.0" stroke="#ee0000" stroke-width="1.6"/>
<line x1="513.4" y1="235.5" x2="519.5" y2="231.6" stroke="#8ad67a" stroke-width="1.6"/>
<line x1="519.5" y1="231.6" x2="523.2" y2="229.1" stroke="#ee0000" stroke-width="1.6"/>
<line x1="560.8" y1="277.9" x2="565.6" y2="276.0" stroke="#8ad67a" stroke-width="1.6"/>
<line x1="565.6" y1="276.0" x2="567.9" y2="275.1" stroke="#ee0000" stroke-width="1.6"/>
<line x1="518.4" y1="32.3" x2="515.2" y2="37.5" stroke="#e8a000" stroke-width="1.6"/>
<line x1="515.2" y1="37.5" x2="513.8" y2="39.9" stroke="#ee0000" stroke-width="1.6"/>
<line x1="525.0" y1="65.1" x2="524.9" y2="59.1" stroke="#8ad67a" stroke-width="1.6"/>
<line x1="524.9" y1="59.1" x2="524.8" y2="55.9" stroke="#ee0000" stroke-width="1.6"/>
<line x1="537.7" y1="109.5" x2="535.5" y2="103.8" stroke="#8ad67a" stroke-width="1.6"/>
<line x1="535.5" y1="103.8" x2="534.3" y2="100.6" stroke="#ee0000" stroke-width="1.6"/>
<line x1="524.9" y1="172.0" x2="521.6" y2="167.4" stroke="#8ad67a" stroke-width="1.6"/>
<line x1="521.6" y1="167.4" x2="519.9" y2="165.1" stroke="#ee0000" stroke-width="1.6"/>
<line x1="627.0" y1="57.7" x2="624.0" y2="52.1" stroke="#8ad67a" stroke-width="1.6"/>
<line x1="624.0" y1="52.1" x2="622.2" y2="48.8" stroke="#ee0000" stroke-width="1.6"/>
<line x1="579.4" y1="97.9" x2="573.1" y2="91.4" stroke="#8ad67a" stroke-width="1.6"/>
<line x1="573.1" y1="91.4" x2="568.7" y2="86.9" stroke="#ee0000" stroke-width="1.6"/>
<line x1="623.7" y1="187.5" x2="621.2" y2="182.5" stroke="#8ad67a" stroke-width="1.6"/>
<line x1="621.2" y1="182.5" x2="619.9" y2="179.9" stroke="#ee0000" stroke-width="1.6"/>
<line x1="557.0" y1="205.2" x2="562.6" y2="211.5" stroke="#8ad67a" stroke-width="1.6"/>
<line x1="562.6" y1="211.5" x2="566.5" y2="215.8" stroke="#ee0000" stroke-width="1.6"/>
<line x1="532.4" y1="96.7" x2="537.0" y2="103.1" stroke="#0000e6" stroke-width="1.6"/>
<line x1="537.0" y1="103.1" x2="539.2" y2="106.2" stroke="#ee0000" stroke-width="1.6"/>
<line x1="607.7" y1="244.2" x2="609.6" y2="253.0" stroke="#e8a000" stroke-width="1.6"/>
<line x1="609.6" y1="253.0" x2="610.8" y2="258.6" stroke="#ee0000" stroke-width="1.6"/>
<line x1="506.8" y1="121.3" x2="513.4" y2="124.6" stroke="#8ad67a" stroke-width="1.6"/>
<line x1="513.4" y1="124.6" x2="517.6" y2="126.8" stroke="#ee0000" stroke-width="1.6"/>
<line x1="580.0" y1="150.7" x2="572.8" y2="146.6" stroke="#e8a000" stroke-width="1.6"/>
<line x1="572.8" y1="146.6" x2="568.3" y2="144.1" stroke="#ee0000" stroke-width="1.6"/>
<line x1="559.0" y1="85.0" x2="559.8" y2="80.2" stroke="#8ad67a" stroke-width="1.6"/>
<line x1="559.8" y1="80.2" x2="560.2" y2="78.0" stroke="#ee0000" stroke-width="1.6"/>
<line x1="611.0" y1="184.9" x2="614.0" y2="188.3" stroke="#e8a000" stroke-width="1.6"/>
<line x1="614.0" y1="188.3" x2="614.8" y2="189.3" stroke="#ee0000" stroke-width="1.6"/>
<line x1="518.0" y1="42.0" x2="520.6" y2="48.8" stroke="#e8a000" stroke-width="1.6"/>
<line x1="520.6" y1="48.8" x2="522.1" y2="52.5" stroke="#ee0000" stroke-width="1.6"/>
<line x1="537.4" y1="276.7" x2="533.3" y2="282.9" stroke="#88d878" stroke-width="1.6"/>
<line x1="533.3" y1="282.9" x2="530.7" y2="286.8" stroke="#ee0000" stroke-width="1.6"/>
<line x1="555.1" y1="52.0" x2="559.8" y2="57.9" stroke="#8ad67a" stroke-width="1.6"/>
<line x1="559.8" y1="57.9" x2="562.8" y2="61.8" stroke="#ee0000" stroke-width="1.6"/>
<line x1="509.5" y1="40.0" x2="512.9" y2="40.0" stroke="#8ad67a" stroke-width="1.6"/>
<line x1="512.9" y1="40.0" x2="513.8" y2="39.9" stroke="#ee0000" stroke-width="1.6"/>
<line x1="515.3" y1="90.3" x2="521.8" y2="88.0" stroke="#e8a000" stroke-width="1.6"/>
<line x1="521.8" y1="88.0" x2="525.2" y2="86.7" stroke="#ee0000" stroke-width="1.6"/>
<line x1="611.0" y1="66.2" x2="606.7" y2="58.3" stroke="#e8a000" stroke-width="1.6"/>
<line x1="606.7" y1="58.3" x2="603.9" y2="53.2" stroke="#ee0000" stroke-width="1.6"/>
<line x1="602.4" y1="71.2" x2="603.9" y2="67.0" stroke="#8ad67a" stroke-width="1.6"/>
<line x1="603.9" y1="67.0" x2="604.4" y2="65.4" stroke="#ee0000" stroke-width="1.6"/>
<line x1="535.6" y1="265.6" x2="539.6" y2="250.2" stroke="#0000e6" stroke-width="1.6"/>
<line x1="539.6" y1="250.2" x2="542.5" y2="238.7" stroke="#ee0000" stroke-width="1.6"/>
<line x1="622.5" y1="68.5" x2="612.9" y2="66.8" stroke="#8ad67a" stroke-width="1.6"/>
<line x1="612.9" y1="66.8" x2="606.0" y2="65.6" stroke="#ee0000" stroke-width="1.6"/>
<line x1="532.4" y1="96.7" x2="539.3" y2="109.5" stroke="#0000e6" stroke-width="1.6"/>
<line x1="539.3" y1="109.5" x2="544.3" y2="118.7" stroke="#ee0000" stroke-width="1.6"/>
<line x1="518.5" y1="149.6" x2="509.7" y2="143.1" stroke="#e8a000" stroke-width="1.6"/>
<line x1="509.7" y1="143.1" x2="503.4" y2="138.5" stroke="#ee0000" stroke-width="1.6"/>
<line x1="627.0" y1="121.3" x2="623.8" y2="121.6" stroke="#8ad67a" stroke-width="1.6"/>
<line x1="623.8" y1="121.6" x2="623.0" y2="121.7" stroke="#ee0000" stroke-width="1.6"/>
<line x1="508.9" y1="157.1" x2="513.5" y2="164.1" stroke="#8ad67a" stroke-width="1.6"/>
<line x1="513.5" y1="164.1" x2="516.6" y2="168.8" stroke="#ee0000" stroke-width="1.6"/>
<line x1="608.8" y1="126.6" x2="601.3" y2="118.9" stroke="#e8a000" stroke-width="1.6"/>
<line x1="601.3" y1="118.9" x2="596.1" y2="113.5" stroke="#ee0000" stroke-width="1.6"/>
<line x1="507.8" y1="86.0" x2="504.2" y2="91.0" stroke="#8ad67a" stroke-width="1.6"/>
<line x1="504.2" y1="91.0" x2="502.2" y2="93.7" stroke="#ee0000" stroke-width="1.6"/>
<line x1="513.9" y1="103.9" x2="509.7" y2="101.0" stroke="#8ad67a" stroke-width="1.6"/>
<line x1="509.7" y1="101.0" x2="507.8" y2="99.7" stroke="#ee0000" stroke-width="1.6"/>
<line x1="561.2" y1="121.3" x2="555.8" y2="123.1" stroke="#8ad67a" stroke-width="1.6"/>
<line x1="555.8" y1="123.1" x2="552.9" y2="124.0" stroke="#ee0000" stroke-width="1.6"/>
<line x1="594.9" y1="95.6" x2="587.9" y2="105.8" stroke="#0000e6" stroke-width="1.6"/>
<line x1="587.9" y1="105.8" x2="583.1" y2="112.8" stroke="#ee0000" stroke-width="1.6"/>
<line x1="616.5" y1="237.6" x2="612.8" y2="245.7" stroke="#8ad67a" stroke-width="1.6"/>
<line x1="612.8" y1="245.7" x2="610.3" y2="251.3" stroke="#ee0000" stroke-width="1.6"/>
<line x1="532.0" y1="208.2" x2="528.9" y2="205.0" stroke="#8ad67a" stroke-width="1.6"/>
<line x1="528.9" y1="205.0" x2="527.6" y2="203.7" stroke="#ee0000" stroke-width="1.6"/>
<line x1="594.9" y1="95.6" x2="597.1" y2="84.3" stroke="#0000e6" stroke-width="1.6"/>
<line x1="597.1" y1="84.3" x2="598.5" y2="76.9" stroke="#ee0000" stroke-width="1.6"/>
<line x1="607.7" y1="253.8" x2="607.8" y2="258.3" stroke="#8ad67a" stroke-width="1.6"/>
<line x1="607.8" y1="258.3" x2="607.9" y2="260.2" stroke="#ee0000" stroke-width="1.6"/>
<line x1="607.7" y1="244.2" x2="609.5" y2="249.3" stroke="#e8a000" stroke-width="1.6"/>
<line x1="609.5" y1="249.3" x2="610.3" y2="251.3" stroke="#ee0000" stroke-width="1.6"/>
<line x1="607.7" y1="244.2" x2="607.8" y2="251.4" stroke="#e8a000" stroke-width="1.6"/>
<line x1="607.8" y1="251.4" x2="607.9" y2="255.5" stroke="#ee0000" stroke-width="1.6"/>
<line x1="588.5" y1="69.4" x2="588.7" y2="69.4" stroke="#8ad67a" stroke-width="1.6"/>
<line x1="588.7" y1="69.4" x2="588.8" y2="69.4" stroke="#ee0000" stroke-width="1.6"/>
<line x1="535.6" y1="265.6" x2="548.9" y2="268.7" stroke="#0000e6" stroke-width="1.6"/>
<line x1="548.9" y1="268.7" x2="558.4" y2="270.8" stroke="#ee0000" stroke-width="1.6"/>
<line x1="580.0" y1="237.8" x2="581.0" y2="233.9" stroke="#8ad67a" stroke-width="1.6"/>
<line x1="581.0" y1="233.9" x2="581.4" y2="232.7" stroke="#ee0000" stroke-width="1.6"/>
<line x1="549.5" y1="243.1" x2="555.0" y2="251.5" stroke="#e8a000" stroke-width="1.6"/>
<line x1="555.0" y1="251.5" x2="558.7" y2="257.2" stroke="#ee0000" stroke-width="1.6"/>
<line x1="517.3" y1="63.4" x2="514.2" y2="70.4" stroke="#0000e6" stroke-width="1.6"/>
<line x1="514.2" y1="70.4" x2="512.7" y2="73.8" stroke="#ee0000" stroke-width="1.6"/>
<line x1="559.6" y1="97.3" x2="561.9" y2="94.2" stroke="#8ad67a" stroke-width="1.6"/>
<line x1="561.9" y1="94.2" x2="562.6" y2="93.2" stroke="#ee0000" stroke-width="1.6"/>
<line x1="525.3" y1="158.1" x2="531.1" y2="155.9" stroke="#8ad67a" stroke-width="1.6"/>
<line x1="531.1" y1="155.9" x2="534.4" y2="154.7" stroke="#ee0000" stroke-width="1.6"/>
<line x1="573.5" y1="68.4" x2="580.5" y2="54.3" stroke="#0000e6" stroke-width="1.6"/>
<line x1="580.5" y1="54.3" x2="585.7" y2="43.7" stroke="#ee0000" stroke-width="1.6"/>
<line x1="502.5" y1="221.8" x2="511.8" y2="215.9" stroke="#0000e6" stroke-width="1.6"/>
<line x1="511.8" y1="215.9" x2="517.6" y2="212.2" stroke="#ee0000" stroke-width="1.6"/>
<line x1="522.8" y1="101.0" x2="522.1" y2="109.0" stroke="#e8a000" stroke-width="1.6"/>
<line x1="522.1" y1="109.0" x2="521.7" y2="113.8" stroke="#ee0000" stroke-width="1.6"/>
<line x1="568.6" y1="289.0" x2="568.2" y2="280.7" stroke="#8ad67a" stroke-width="1.6"/>
<line x1="568.2" y1="280.7" x2="567.9" y2="275.1" stroke="#ee0000" stroke-width="1.6"/>
<line x1="535.6" y1="147.5" x2="521.6" y2="140.3" stroke="#0000e6" stroke-width="1.6"/>
<line x1="521.6" y1="140.3" x2="511.2" y2="135.0" stroke="#ee0000" stroke-width="1.6"/>
<line x1="510.7" y1="84.4" x2="512.0" y2="77.7" stroke="#8ad67a" stroke-width="1.6"/>
<line x1="512.0" y1="77.7" x2="512.7" y2="73.8" stroke="#ee0000" stroke-width="1.6"/>
<line x1="548.4" y1="60.1" x2="557.2" y2="61.1" stroke="#e8a000" stroke-width="1.6"/>
<line x1="557.2" y1="61.1" x2="562.8" y2="61.8" stroke="#ee0000" stroke-width="1.6"/>
<line x1="623.7" y1="187.5" x2="624.2" y2="195.0" stroke="#8ad67a" stroke-width="1.6"/>
<line x1="624.2" y1="195.0" x2="624.6" y2="199.9" stroke="#ee0000" stroke-width="1.6"/>
<line x1="607.6" y1="254.5" x2="607.8" y2="258.7" stroke="#8ad67a" stroke-width="1.6"/>
<line x1="607.8" y1="258.7" x2="607.9" y2="260.2" stroke="#ee0000" stroke-width="1.6"/>
<line x1="605.6" y1="172.0" x2="606.6" y2="171.4" stroke="#8ad67a" stroke-width="1.6"/>
<line x1="606.6" y1="171.4" x2="606.9" y2="171.2" stroke="#ee0000" stroke-width="1.6"/>
<line x1="596.0" y1="213.2" x2="606.5" y2="215.2" stroke="#0000e6" stroke-width="1.6"/>
<line x1="606.5" y1="215.2" x2="613.1" y2="216.4" stroke="#ee0000" stroke-width="1.6"/>
<line x1="627.7" y1="283.9" x2="621.2" y2="291.4" stroke="#8ad67a" stroke-width="1.6"/>
<line x1="621.2" y1="291.4" x2="616.5" y2="296.8" stroke="#ee0000" stroke-width="1.6"/>
<line x1="577.8" y1="124.5" x2="592.4" y2="129.5" stroke="#0000e6" stroke-width="1.6"/>
<line x1="592.4" y1="129.5" x2="603.1" y2="133.1" stroke="#ee0000" stroke-width="1.6"/>
<line x1="627.0" y1="250.6" x2="617.7" y2="255.2" stroke="#8ad67a" stroke-width="1.6"/>
<line x1="617.7" y1="255.2" x2="610.8" y2="258.6" stroke="#ee0000" stroke-width="1.6"/>
<line x1="603.5" y1="106.3" x2="598.8" y2="110.8" stroke="#8ad67a" stroke-width="1.6"/>
<line x1="598.8" y1="110.8" x2="596.1" y2="113.5" stroke="#ee0000" stroke-width="1.6"/>
<line x1="565.0" y1="197.2" x2="559.1" y2="196.8" stroke="#8ad67a" stroke-width="1.6"/>
<line x1="559.1" y1="196.8" x2="556.0" y2="196.6" stroke="#ee0000" stroke-width="1.6"/>
<line x1="588.5" y1="190.2" x2="593.0" y2="190.7" stroke="#8ad67a" stroke-width="1.6"/>
<line x1="593.0" y1="190.7" x2="594.7" y2="191.0" stroke="#ee0000" stroke-width="1.6"/>
<line x1="522.8" y1="101.0" x2="514.2" y2="100.9" stroke="#e8a000" stroke-width="1.6"/>
<line x1="514.2" y1="100.9" x2="508.8" y2="100.8" stroke="#ee0000" stroke-width="1.6"/>
<line x1="613.2" y1="181.9" x2="614.3" y2="186.9" stroke="#8ad67a" stroke-width="1.6"/>
<line x1="614.3" y1="186.9" x2="614.8" y2="189.3" stroke="#ee0000" stroke-width="1.6"/>
<line x1="526.2" y1="73.4" x2="530.6" y2="69.3" stroke="#8ad67a" stroke-width="1.6"/>
<line x1="530.6" y1="69.3" x2="533.0" y2="67.1" stroke="#ee0000" stroke-width="1.6"/>
<line x1="516.4" y1="208.4" x2="519.5" y2="198.8" stroke="#e8a000" stroke-width="1.6"/>
<line x1="519.5" y1="198.8" x2="521.6" y2="192.2" stroke="#ee0000" stroke-width="1.6"/>
<line x1="525.3" y1="158.1" x2="520.6" y2="160.9" stroke="#8ad67a" stroke-width="1.6"/>
<line x1="520.6" y1="160.9" x2="518.3" y2="162.3" stroke="#ee0000" stroke-width="1.6"/>
<line x1="579.7" y1="279.0" x2="579.8" y2="287.1" stroke="#e8a000" stroke-width="1.6"/>
<line x1="579.8" y1="287.1" x2="579.8" y2="292.1" stroke="#ee0000" stroke-width="1.6"/>
<line x1="518.5" y1="266.6" x2="511.9" y2="265.2" stroke="#e8a000" stroke-width="1.6"/>
<line x1="511.9" y1="265.2" x2="508.4" y2="264.5" stroke="#ee0000" stroke-width="1.6"/>
<line x1="599.4" y1="110.5" x2="601.2" y2="111.1" stroke="#8ad67a" stroke-width="1.6"/>
<line x1="601.2" y1="111.1" x2="601.7" y2="111.3" stroke="#ee0000" stroke-width="1.6"/>
<line x1="613.2" y1="181.9" x2="617.8" y2="180.5" stroke="#8ad67a" stroke-width="1.6"/>
<line x1="617.8" y1="180.5" x2="619.9" y2="179.9" stroke="#ee0000" stroke-width="1.6"/>
<line x1="535.0" y1="41.2" x2="528.9" y2="47.9" stroke="#8ad67a" stroke-width="1.6"/>
<line x1="528.9" y1="47.9" x2="524.6" y2="52.6" stroke="#ee0000" stroke-width="1.6"/>
<line x1="575.7" y1="241.0" x2="587.7" y2="252.9" stroke="#0000e6" stroke-width="1.6"/>
<line x1="587.7" y1="252.9" x2="596.9" y2="262.0" stroke="#ee0000" stroke-width="1.6"/>
<line x1="572.5" y1="246.6" x2="574.7" y2="247.7" stroke="#8ad67a" stroke-width="1.6"/>
<line x1="574.7" y1="247.7" x2="575.2" y2="248.0" stroke="#ee0000" stroke-width="1.6"/>
<line x1="516.4" y1="208.4" x2="513.8" y2="218.2" stroke="#e8a000" stroke-width="1.6"/>
<line x1="513.8" y1="218.2" x2="512.0" y2="225.0" stroke="#ee0000" stroke-width="1.6"/>
<line x1="505.8" y1="145.6" x2="506.0" y2="154.6" stroke="#8ad67a" stroke-width="1.6"/>
<line x1="506.0" y1="154.6" x2="506.1" y2="160.9" stroke="#ee0000" stroke-width="1.6"/>
<line x1="546.2" y1="47.9" x2="549.7" y2="47.7" stroke="#8ad67a" stroke-width="1.6"/>
<line x1="549.7" y1="47.7" x2="550.6" y2="47.7" stroke="#ee0000" stroke-width="1.6"/>
<line x1="582.0" y1="62.0" x2="591.5" y2="75.4" stroke="#0000e6" stroke-width="1.6"/>
<line x1="591.5" y1="75.4" x2="598.6" y2="85.5" stroke="#ee0000" stroke-width="1.6"/>
<line x1="533.4" y1="74.3" x2="533.1" y2="69.4" stroke="#8ad67a" stroke-width="1.6"/>
<line x1="533.1" y1="69.4" x2="533.0" y2="67.1" stroke="#ee0000" stroke-width="1.6"/>
<line x1="509.5" y1="274.5" x2="511.7" y2="276.3" stroke="#8ad67a" stroke-width="1.6"/>
<line x1="511.7" y1="276.3" x2="512.3" y2="276.8" stroke="#ee0000" stroke-width="1.6"/>
<line x1="506.9" y1="275.3" x2="510.9" y2="276.4" stroke="#8ad67a" stroke-width="1.6"/>
<line x1="510.9" y1="276.4" x2="512.3" y2="276.8" stroke="#ee0000" stroke-width="1.6"/>
<line x1="538.8" y1="213.2" x2="530.7" y2="213.1" stroke="#8ad67a" stroke-width="1.6"/>
<line x1="530.7" y1="213.1" x2="525.2" y2="213.1" stroke="#ee0000" stroke-width="1.6"/>
<line x1="589.4" y1="35.9" x2="593.4" y2="32.8" stroke="#8ad67a" stroke-width="1.6"/>
<line x1="593.4" y1="32.8" x2="595.3" y2="31.4" stroke="#ee0000" stroke-width="1.6"/>
<line x1="532.6" y1="181.3" x2="538.4" y2="175.0" stroke="#8ad67a" stroke-width="1.6"/>
<line x1="538.4" y1="175.0" x2="542.3" y2="170.7" stroke="#ee0000" stroke-width="1.6"/>
<line x1="582.1" y1="179.5" x2="575.5" y2="172.7" stroke="#0000e6" stroke-width="1.6"/>
<line x1="575.5" y1="172.7" x2="571.6" y2="168.8" stroke="#ee0000" stroke-width="1.6"/>
<line x1="593.8" y1="42.7" x2="581.3" y2="51.6" stroke="#0000e6" stroke-width="1.6"/>
<line x1="581.3" y1="51.6" x2="572.1" y2="58.2" stroke="#ee0000" stroke-width="1.6"/>
<line x1="511.2" y1="188.7" x2="510.0" y2="190.4" stroke="#8ad67a" stroke-width="1.6"/>
<line x1="510.0" y1="190.4" x2="509.7" y2="190.9" stroke="#ee0000" stroke-width="1.6"/>
<line x1="590.6" y1="166.7" x2="584.2" y2="162.7" stroke="#8ad67a" stroke-width="1.6"/>
<line x1="584.2" y1="162.7" x2="580.1" y2="160.2" stroke="#ee0000" stroke-width="1.6"/>
<line x1="557.5" y1="244.0" x2="550.0" y2="241.8" stroke="#8ad67a" stroke-width="1.6"/>
<line x1="550.0" y1="241.8" x2="545.2" y2="240.4" stroke="#ee0000" stroke-width="1.6"/>
<line x1="516.4" y1="208.4" x2="521.5" y2="213.6" stroke="#e8a000" stroke-width="1.6"/>
<line x1="521.5" y1="213.6" x2="524.3" y2="216.5" stroke="#ee0000" stroke-width="1.6"/>
<line x1="516.7" y1="134.4" x2="517.3" y2="129.2" stroke="#8ad67a" stroke-width="1.6"/>
<line x1="517.3" y1="129.2" x2="517.6" y2="126.8" stroke="#ee0000" stroke-width="1.6"/>
<line x1="580.0" y1="208.4" x2="574.9" y2="216.0" stroke="#e8a000" stroke-width="1.6"/>
<line x1="574.9" y1="216.0" x2="571.6" y2="221.0" stroke="#ee0000" stroke-width="1.6"/>
<line x1="614.1" y1="265.6" x2="610.0" y2="262.0" stroke="#8ad67a" stroke-width="1.6"/>
<line x1="610.0" y1="262.0" x2="607.9" y2="260.2" stroke="#ee0000" stroke-width="1.6"/>
<line x1="557.0" y1="205.2" x2="550.6" y2="199.7" stroke="#8ad67a" stroke-width="1.6"/>
<line x1="550.6" y1="199.7" x2="546.2" y2="196.0" stroke="#ee0000" stroke-width="1.6"/>
<line x1="625.5" y1="128.3" x2="626.2" y2="132.7" stroke="#8ad67a" stroke-width="1.6"/>
<line x1="626.2" y1="132.7" x2="626.5" y2="134.4" stroke="#ee0000" stroke-width="1.6"/>
<line x1="613.0" y1="30.0" x2="616.8" y2="28.3" stroke="#8ad67a" stroke-width="1.6"/>
<line x1="616.8" y1="28.3" x2="618.2" y2="27.7" stroke="#ee0000" stroke-width="1.6"/>
<line x1="506.8" y1="103.0" x2="508.4" y2="101.2" stroke="#8ad67a" stroke-width="1.6"/>
<line x1="508.4" y1="101.2" x2="508.8" y2="100.8" stroke="#ee0000" stroke-width="1.6"/>
<line x1="526.2" y1="73.4" x2="529.1" y2="71.4" stroke="#8ad67a" stroke-width="1.6"/>
<line x1="529.1" y1="71.4" x2="529.8" y2="70.8" stroke="#ee0000" stroke-width="1.6"/>
<line x1="569.3" y1="175.3" x2="563.8" y2="180.4" stroke="#8ad67a" stroke-width="1.6"/>
<line x1="563.8" y1="180.4" x2="560.3" y2="183.7" stroke="#ee0000" stroke-width="1.6"/>
<line x1="627.0" y1="57.7" x2="622.8" y2="67.8" stroke="#8ad67a" stroke-width="1.6"/>
<line x1="622.8" y1="67.8" x2="619.7" y2="75.5" stroke="#ee0000" stroke-width="1.6"/>
<line x1="520.6" y1="246.3" x2="519.3" y2="236.1" stroke="#0000e6" stroke-width="1.6"/>
<line x1="519.3" y1="236.1" x2="518.5" y2="229.8" stroke="#ee0000" stroke-width="1.6"/>
<line x1="548.4" y1="177.4" x2="541.9" y2="183.1" stroke="#e8a000" stroke-width="1.6"/>
<line x1="541.9" y1="183.1" x2="537.8" y2="186.6" stroke="#ee0000" stroke-width="1.6"/>
<line x1="599.4" y1="110.5" x2="603.2" y2="107.2" stroke="#8ad67a" stroke-width="1.6"/>
<line x1="603.2" y1="107.2" x2="604.9" y2="105.7" stroke="#ee0000" stroke-width="1.6"/>
<line x1="569.3" y1="203.0" x2="561.4" y2="199.2" stroke="#8ad67a" stroke-width="1.6"/>
<line x1="561.4" y1="199.2" x2="556.0" y2="196.6" stroke="#ee0000" stroke-width="1.6"/>
<line x1="548.4" y1="177.4" x2="555.8" y2="181.3" stroke="#e8a000" stroke-width="1.6"/>
<line x1="555.8" y1="181.3" x2="560.3" y2="183.7" stroke="#ee0000" stroke-width="1.6"/>
<line x1="624.8" y1="239.9" x2="621.8" y2="232.4" stroke="#8ad67a" stroke-width="1.6"/>
<line x1="621.8" y1="232.4" x2="619.7" y2="227.3" stroke="#ee0000" stroke-width="1.6"/>
<line x1="561.2" y1="159.2" x2="556.7" y2="163.5" stroke="#8ad67a" stroke-width="1.6"/>
<line x1="556.7" y1="163.5" x2="554.2" y2="165.9" stroke="#ee0000" stroke-width="1.6"/>
<line x1="559.0" y1="170.5" x2="558.1" y2="163.3" stroke="#8ad67a" stroke-width="1.6"/>
<line x1="558.1" y1="163.3" x2="557.5" y2="158.7" stroke="#ee0000" stroke-width="1.6"/>
<line x1="526.8" y1="272.0" x2="534.1" y2="272.7" stroke="#8ad67a" stroke-width="1.6"/>
<line x1="534.1" y1="272.7" x2="538.8" y2="273.0" stroke="#ee0000" stroke-width="1.6"/>
<line x1="590.6" y1="49.1" x2="598.5" y2="51.5" stroke="#8ad67a" stroke-width="1.6"/>
<line x1="598.5" y1="51.5" x2="603.9" y2="53.2" stroke="#ee0000" stroke-width="1.6"/>
<line x1="612.0" y1="165.6" x2="610.2" y2="150.6" stroke="#0000e6" stroke-width="1.6"/>
<line x1="610.2" y1="150.6" x2="608.9" y2="139.5" stroke="#ee0000" stroke-width="1.6"/>
<line x1="528.8" y1="95.1" x2="534.1" y2="97.2" stroke="#8ad67a" stroke-width="1.6"/>
<line x1="534.1" y1="97.2" x2="536.9" y2="98.3" stroke="#ee0000" stroke-width="1.6"/>
<line x1="526.8" y1="272.0" x2="524.5" y2="265.2" stroke="#8ad67a" stroke-width="1.6"/>
<line x1="524.5" y1="265.2" x2="523.1" y2="261.0" stroke="#ee0000" stroke-width="1.6"/>
<line x1="581.0" y1="120.2" x2="587.1" y2="121.7" stroke="#8ad67a" stroke-width="1.6"/>
<line x1="587.1" y1="121.7" x2="590.7" y2="122.5" stroke="#ee0000" stroke-width="1.6"/>
<line x1="559.0" y1="85.0" x2="561.8" y2="80.5" stroke="#8ad67a" stroke-width="1.6"/>
<line x1="561.8" y1="80.5" x2="563.2" y2="78.2" stroke="#ee0000" stroke-width="1.6"/>
<line x1="526.2" y1="73.4" x2="525.6" y2="81.4" stroke="#8ad67a" stroke-width="1.6"/>
<line x1="525.6" y1="81.4" x2="525.2" y2="86.7" stroke="#ee0000" stroke-width="1.6"/>
<line x1="574.4" y1="250.3" x2="575.1" y2="248.5" stroke="#8ad67a" stroke-width="1.6"/>
<line x1="575.1" y1="248.5" x2="575.2" y2="248.0" stroke="#ee0000" stroke-width="1.6"/>
<line x1="508.9" y1="204.1" x2="511.7" y2="205.0" stroke="#8ad67a" stroke-width="1.6"/>
<line x1="511.7" y1="205.0" x2="512.4" y2="205.2" stroke="#ee0000" stroke-width="1.6"/>
<line x1="504.1" y1="95.0" x2="507.3" y2="98.9" stroke="#8ad67a" stroke-width="1.6"/>
<line x1="507.3" y1="98.9" x2="508.8" y2="100.8" stroke="#ee0000" stroke-width="1.6"/>
<line x1="513.0" y1="111.5" x2="510.9" y2="114.2" stroke="#8ad67a" stroke-width="1.6"/>
<line x1="510.9" y1="114.2" x2="510.3" y2="114.9" stroke="#ee0000" stroke-width="1.6"/>
<line x1="625.8" y1="275.8" x2="620.2" y2="267.8" stroke="#8ad67a" stroke-width="1.6"/>
<line x1="620.2" y1="267.8" x2="616.2" y2="262.0" stroke="#ee0000" stroke-width="1.6"/>
<line x1="608.8" y1="126.6" x2="608.9" y2="134.7" stroke="#e8a000" stroke-width="1.6"/>
<line x1="608.9" y1="134.7" x2="608.9" y2="139.5" stroke="#ee0000" stroke-width="1.6"/>
<line x1="580.0" y1="237.8" x2="576.7" y2="242.1" stroke="#8ad67a" stroke-width="1.6"/>
<line x1="576.7" y1="242.1" x2="575.1" y2="244.3" stroke="#ee0000" stroke-width="1.6"/>
<line x1="624.3" y1="233.9" x2="621.3" y2="229.5" stroke="#8ad67a" stroke-width="1.6"/>
<line x1="621.3" y1="229.5" x2="619.7" y2="227.3" stroke="#ee0000" stroke-width="1.6"/>
<line x1="506.8" y1="103.0" x2="509.9" y2="101.1" stroke="#8ad67a" stroke-width="1.6"/>
<line x1="509.9" y1="101.1" x2="510.8" y2="100.6" stroke="#ee0000" stroke-width="1.6"/>
<line x1="611.6" y1="48.1" x2="604.4" y2="58.1" stroke="#0000e6" stroke-width="1.6"/>
<line x1="604.4" y1="58.1" x2="599.6" y2="64.8" stroke="#ee0000" stroke-width="1.6"/>
<line x1="607.7" y1="204.1" x2="605.4" y2="208.6" stroke="#0000e6" stroke-width="1.6"/>
<line x1="605.4" y1="208.6" x2="604.8" y2="209.7" stroke="#ee0000" stroke-width="1.6"/>
<line x1="579.4" y1="97.9" x2="581.6" y2="106.6" stroke="#8ad67a" stroke-width="1.6"/>
<line x1="581.6" y1="106.6" x2="583.1" y2="112.8" stroke="#ee0000" stroke-width="1.6"/>
<line x1="622.9" y1="150.8" x2="621.7" y2="155.4" stroke="#8ad67a" stroke-width="1.6"/>
<line x1="621.7" y1="155.4" x2="621.2" y2="157.5" stroke="#ee0000" stroke-width="1.6"/>
<line x1="607.6" y1="254.5" x2="610.0" y2="257.6" stroke="#8ad67a" stroke-width="1.6"/>
<line x1="610.0" y1="257.6" x2="610.8" y2="258.6" stroke="#ee0000" stroke-width="1.6"/>
<line x1="625.0" y1="93.5" x2="620.6" y2="100.6" stroke="#8ad67a" stroke-width="1.6"/>
<line x1="620.6" y1="100.6" x2="617.7" y2="105.4" stroke="#ee0000" stroke-width="1.6"/>
<line x1="593.8" y1="42.7" x2="600.0" y2="55.9" stroke="#0000e6" stroke-width="1.6"/>
<line x1="600.0" y1="55.9" x2="604.4" y2="65.4" stroke="#ee0000" stroke-width="1.6"/>
<line x1="622.7" y1="191.3" x2="617.4" y2="189.9" stroke="#8ad67a" stroke-width="1.6"/>
<line x1="617.4" y1="189.9" x2="614.8" y2="189.3" stroke="#ee0000" stroke-width="1.6"/>
<line x1="538.8" y1="208.4" x2="530.7" y2="211.2" stroke="#8ad67a" stroke-width="1.6"/>
<line x1="530.7" y1="211.2" x2="525.2" y2="213.1" stroke="#ee0000" stroke-width="1.6"/>
<line x1="563.4" y1="269.8" x2="557.3" y2="283.2" stroke="#0000e6" stroke-width="1.6"/>
<line x1="557.3" y1="283.2" x2="552.8" y2="293.0" stroke="#ee0000" stroke-width="1.6"/>
<line x1="592.8" y1="267.7" x2="595.7" y2="263.7" stroke="#8ad67a" stroke-width="1.6"/>
<line x1="595.7" y1="263.7" x2="596.9" y2="262.0" stroke="#ee0000" stroke-width="1.6"/>
<line x1="542.0" y1="227.0" x2="536.3" y2="227.3" stroke="#8ad67a" stroke-width="1.6"/>
<line x1="536.3" y1="227.3" x2="533.2" y2="227.5" stroke="#ee0000" stroke-width="1.6"/>
<line x1="608.7" y1="125.5" x2="605.1" y2="130.4" stroke="#8ad67a" stroke-width="1.6"/>
<line x1="605.1" y1="130.4" x2="603.1" y2="133.1" stroke="#ee0000" stroke-width="1.6"/>
<line x1="625.9" y1="132.0" x2="620.4" y2="125.0" stroke="#8ad67a" stroke-width="1.6"/>
<line x1="620.4" y1="125.0" x2="616.5" y2="120.2" stroke="#ee0000" stroke-width="1.6"/>
<line x1="569.3" y1="136.2" x2="575.2" y2="141.9" stroke="#8ad67a" stroke-width="1.6"/>
<line x1="575.2" y1="141.9" x2="579.2" y2="145.8" stroke="#ee0000" stroke-width="1.6"/>
<line x1="625.5" y1="73.0" x2="621.4" y2="74.8" stroke="#8ad67a" stroke-width="1.6"/>
<line x1="621.4" y1="74.8" x2="619.7" y2="75.5" stroke="#ee0000" stroke-width="1.6"/>
<line x1="625.0" y1="93.5" x2="621.3" y2="99.9" stroke="#8ad67a" stroke-width="1.6"/>
<line x1="621.3" y1="99.9" x2="618.9" y2="104.0" stroke="#ee0000" stroke-width="1.6"/>
<line x1="592.8" y1="267.7" x2="592.7" y2="269.5" stroke="#8ad67a" stroke-width="1.6"/>
<line x1="592.7" y1="269.5" x2="592.7" y2="270.0" stroke="#ee0000" stroke-width="1.6"/>
<line x1="538.4" y1="43.3" x2="545.8" y2="45.9" stroke="#8ad67a" stroke-width="1.6"/>
<line x1="545.8" y1="45.9" x2="550.6" y2="47.7" stroke="#ee0000" stroke-width="1.6"/>
<line x1="518.4" y1="32.3" x2="525.4" y2="39.7" stroke="#e8a000" stroke-width="1.6"/>
<line x1="525.4" y1="39.7" x2="530.3" y2="44.8" stroke="#ee0000" stroke-width="1.6"/>
<line x1="563.4" y1="269.8" x2="570.1" y2="255.2" stroke="#0000e6" stroke-width="1.6"/>
<line x1="570.1" y1="255.2" x2="575.1" y2="244.3" stroke="#ee0000" stroke-width="1.6"/>
<line x1="535.6" y1="265.6" x2="531.9" y2="279.9" stroke="#0000e6" stroke-width="1.6"/>
<line x1="531.9" y1="279.9" x2="529.2" y2="290.3" stroke="#ee0000" stroke-width="1.6"/>
<line x1="625.0" y1="93.5" x2="624.8" y2="101.8" stroke="#8ad67a" stroke-width="1.6"/>
<line x1="624.8" y1="101.8" x2="624.6" y2="107.4" stroke="#ee0000" stroke-width="1.6"/>
<line x1="559.6" y1="97.3" x2="561.2" y2="93.5" stroke="#8ad67a" stroke-width="1.6"/>
<line x1="561.2" y1="93.5" x2="561.7" y2="92.2" stroke="#ee0000" stroke-width="1.6"/>
<line x1="537.4" y1="276.7" x2="537.0" y2="273.3" stroke="#8ad67a" stroke-width="1.6"/>
<line x1="537.0" y1="273.3" x2="536.9" y2="272.5" stroke="#ee0000" stroke-width="1.6"/>
<line x1="541.7" y1="84.7" x2="534.6" y2="86.2" stroke="#8ad67a" stroke-width="1.6"/>
<line x1="534.6" y1="86.2" x2="530.0" y2="87.1" stroke="#ee0000" stroke-width="1.6"/>
<line x1="518.5" y1="192.4" x2="523.9" y2="199.1" stroke="#8ad67a" stroke-width="1.6"/>
<line x1="523.9" y1="199.1" x2="527.6" y2="203.7" stroke="#ee0000" stroke-width="1.6"/>
<line x1="605.6" y1="77.5" x2="600.7" y2="77.1" stroke="#8ad67a" stroke-width="1.6"/>
<line x1="600.7" y1="77.1" x2="598.5" y2="76.9" stroke="#ee0000" stroke-width="1.6"/>
<line x1="513.4" y1="176.5" x2="513.3" y2="175.0" stroke="#8ad67a" stroke-width="1.6"/>
<line x1="513.3" y1="175.0" x2="513.3" y2="174.6" stroke="#ee0000" stroke-width="1.6"/>
<line x1="611.0" y1="66.2" x2="603.7" y2="65.3" stroke="#e8a000" stroke-width="1.6"/>
<line x1="603.7" y1="65.3" x2="599.6" y2="64.8" stroke="#ee0000" stroke-width="1.6"/>
<line x1="522.8" y1="101.0" x2="524.3" y2="92.3" stroke="#e8a000" stroke-width="1.6"/>
<line x1="524.3" y1="92.3" x2="525.2" y2="86.7" stroke="#ee0000" stroke-width="1.6"/>
<line x1="505.8" y1="145.6" x2="508.6" y2="137.3" stroke="#8ad67a" stroke-width="1.6"/>
<line x1="508.6" y1="137.3" x2="510.5" y2="131.6" stroke="#ee0000" stroke-width="1.6"/>
<line x1="558.0" y1="109.5" x2="565.2" y2="111.9" stroke="#8ad67a" stroke-width="1.6"/>
<line x1="565.2" y1="111.9" x2="569.9" y2="113.4" stroke="#ee0000" stroke-width="1.6"/>
<line x1="603.5" y1="106.3" x2="604.6" y2="105.8" stroke="#8ad67a" stroke-width="1.6"/>
<line x1="604.6" y1="105.8" x2="604.9" y2="105.7" stroke="#ee0000" stroke-width="1.6"/>
<line x1="515.3" y1="90.3" x2="512.0" y2="94.9" stroke="#e8a000" stroke-width="1.6"/>
<line x1="512.0" y1="94.9" x2="510.6" y2="97.0" stroke="#ee0000" stroke-width="1.6"/>
<line x1="582.0" y1="62.0" x2="576.7" y2="63.9" stroke="#0000e6" stroke-width="1.6"/>
<line x1="576.7" y1="63.9" x2="575.2" y2="64.4" stroke="#ee0000" stroke-width="1.6"/>
<line x1="516.7" y1="134.4" x2="508.8" y2="136.9" stroke="#8ad67a" stroke-width="1.6"/>
<line x1="508.8" y1="136.9" x2="503.4" y2="138.5" stroke="#ee0000" stroke-width="1.6"/>
<line x1="569.3" y1="20.3" x2="566.9" y2="16.5" stroke="#8ad67a" stroke-width="1.6"/>
<line x1="566.9" y1="16.5" x2="566.0" y2="15.0" stroke="#ee0000" stroke-width="1.6"/>
<line x1="623.5" y1="222.1" x2="620.8" y2="225.8" stroke="#8ad67a" stroke-width="1.6"/>
<line x1="620.8" y1="225.8" x2="619.7" y2="227.3" stroke="#ee0000" stroke-width="1.6"/>
<line x1="559.1" y1="227.1" x2="556.4" y2="225.1" stroke="#8ad67a" stroke-width="1.6"/>
<line x1="556.4" y1="225.1" x2="555.7" y2="224.6" stroke="#ee0000" stroke-width="1.6"/>
<line x1="608.8" y1="237.8" x2="599.4" y2="236.4" stroke="#e8a000" stroke-width="1.6"/>
<line x1="599.4" y1="236.4" x2="593.2" y2="235.4" stroke="#ee0000" stroke-width="1.6"/>
<line x1="516.4" y1="208.4" x2="523.5" y2="205.4" stroke="#e8a000" stroke-width="1.6"/>
<line x1="523.5" y1="205.4" x2="527.6" y2="203.7" stroke="#ee0000" stroke-width="1.6"/>
<line x1="517.3" y1="63.4" x2="519.2" y2="77.0" stroke="#0000e6" stroke-width="1.6"/>
<line x1="519.2" y1="77.0" x2="520.6" y2="86.7" stroke="#ee0000" stroke-width="1.6"/>
<line x1="528.8" y1="95.1" x2="532.5" y2="98.9" stroke="#8ad67a" stroke-width="1.6"/>
<line x1="532.5" y1="98.9" x2="534.3" y2="100.6" stroke="#ee0000" stroke-width="1.6"/>
<line x1="615.4" y1="279.0" x2="611.1" y2="268.3" stroke="#8ad67a" stroke-width="1.6"/>
<line x1="611.1" y1="268.3" x2="607.9" y2="260.2" stroke="#ee0000" stroke-width="1.6"/>
<line x1="503.5" y1="270.9" x2="509.6" y2="274.9" stroke="#0000e6" stroke-width="1.6"/>
<line x1="509.6" y1="274.9" x2="512.3" y2="276.8" stroke="#ee0000" stroke-width="1.6"/>
<line x1="624.8" y1="261.3" x2="616.4" y2="255.5" stroke="#8ad67a" stroke-width="1.6"/>
<line x1="616.4" y1="255.5" x2="610.3" y2="251.3" stroke="#ee0000" stroke-width="1.6"/>
<line x1="524.9" y1="249.5" x2="520.0" y2="254.0" stroke="#8ad67a" stroke-width="1.6"/>
<line x1="520.0" y1="254.0" x2="517.0" y2="256.7" stroke="#ee0000" stroke-width="1.6"/>
<line x1="624.8" y1="50.2" x2="622.7" y2="49.1" stroke="#8ad67a" stroke-width="1.6"/>
<line x1="622.7" y1="49.1" x2="622.2" y2="48.8" stroke="#ee0000" stroke-width="1.6"/>
<line x1="513.4" y1="235.5" x2="516.8" y2="231.6" stroke="#8ad67a" stroke-width="1.6"/>
<line x1="516.8" y1="231.6" x2="518.5" y2="229.8" stroke="#ee0000" stroke-width="1.6"/>
<line x1="569.3" y1="20.3" x2="566.9" y2="16.5" stroke="#88d878" stroke-width="1.6"/>
<line x1="566.9" y1="16.5" x2="566.0" y2="15.0" stroke="#ee0000" stroke-width="1.6"/>
<line x1="623.7" y1="187.5" x2="617.9" y2="188.6" stroke="#8ad67a" stroke-width="1.6"/>
<line x1="617.9" y1="188.6" x2="614.8" y2="189.3" stroke="#ee0000" stroke-width="1.6"/>
<line x1="548.4" y1="125.6" x2="546.4" y2="130.3" stroke="#e8a000" stroke-width="1.6"/>
<line x1="546.4" y1="130.3" x2="545.6" y2="132.0" stroke="#ee0000" stroke-width="1.6"/>
<line x1="560.8" y1="277.9" x2="559.8" y2="271.7" stroke="#8ad67a" stroke-width="1.6"/>
<line x1="559.8" y1="271.7" x2="559.2" y2="268.3" stroke="#ee0000" stroke-width="1.6"/>
<line x1="570.3" y1="254.9" x2="564.8" y2="254.3" stroke="#8ad67a" stroke-width="1.6"/>
<line x1="564.8" y1="254.3" x2="562.1" y2="254.0" stroke="#ee0000" stroke-width="1.6"/>
<line x1="627.0" y1="176.3" x2="620.0" y2="183.8" stroke="#8ad67a" stroke-width="1.6"/>
<line x1="620.0" y1="183.8" x2="614.8" y2="189.3" stroke="#ee0000" stroke-width="1.6"/>
<line x1="607.7" y1="136.2" x2="608.7" y2="138.9" stroke="#8ad67a" stroke-width="1.6"/>
<line x1="608.7" y1="138.9" x2="608.9" y2="139.5" stroke="#ee0000" stroke-width="1.6"/>
<line x1="579.4" y1="97.9" x2="577.4" y2="102.2" stroke="#8ad67a" stroke-width="1.6"/>
<line x1="577.4" y1="102.2" x2="576.5" y2="104.2" stroke="#ee0000" stroke-width="1.6"/>
<line x1="569.3" y1="203.0" x2="574.4" y2="200.2" stroke="#8ad67a" stroke-width="1.6"/>
<line x1="574.4" y1="200.2" x2="577.2" y2="198.7" stroke="#ee0000" stroke-width="1.6"/>
<line x1="580.0" y1="33.1" x2="585.8" y2="26.0" stroke="#e8a000" stroke-width="1.6"/>
<line x1="585.8" y1="26.0" x2="589.6" y2="21.4" stroke="#ee0000" stroke-width="1.6"/>
<line x1="541.7" y1="84.7" x2="532.1" y2="85.9" stroke="#8ad67a" stroke-width="1.6"/>
<line x1="532.1" y1="85.9" x2="525.2" y2="86.7" stroke="#ee0000" stroke-width="1.6"/>
<line x1="626.0" y1="206.0" x2="619.8" y2="201.9" stroke="#8ad67a" stroke-width="1.6"/>
<line x1="619.8" y1="201.9" x2="615.9" y2="199.2" stroke="#ee0000" stroke-width="1.6"/>
<line x1="549.5" y1="243.1" x2="544.3" y2="249.6" stroke="#e8a000" stroke-width="1.6"/>
<line x1="544.3" y1="249.6" x2="541.1" y2="253.6" stroke="#ee0000" stroke-width="1.6"/>
<line x1="567.4" y1="191.5" x2="573.4" y2="195.9" stroke="#8ad67a" stroke-width="1.6"/>
<line x1="573.4" y1="195.9" x2="577.2" y2="198.7" stroke="#ee0000" stroke-width="1.6"/>
<line x1="513.4" y1="235.5" x2="512.6" y2="228.9" stroke="#8ad67a" stroke-width="1.6"/>
<line x1="512.6" y1="228.9" x2="512.0" y2="225.0" stroke="#ee0000" stroke-width="1.6"/>
<line x1="533.5" y1="191.3" x2="536.5" y2="188.0" stroke="#8ad67a" stroke-width="1.6"/>
<line x1="536.5" y1="188.0" x2="537.8" y2="186.6" stroke="#ee0000" stroke-width="1.6"/>
<line x1="528.5" y1="127.5" x2="529.3" y2="122.6" stroke="#8ad67a" stroke-width="1.6"/>
<line x1="529.3" y1="122.6" x2="529.7" y2="120.3" stroke="#ee0000" stroke-width="1.6"/>
<line x1="625.5" y1="128.3" x2="616.1" y2="134.7" stroke="#8ad67a" stroke-width="1.6"/>
<line x1="616.1" y1="134.7" x2="608.9" y2="139.5" stroke="#ee0000" stroke-width="1.6"/>
<line x1="548.4" y1="60.1" x2="543.7" y2="61.5" stroke="#e8a000" stroke-width="1.6"/>
<line x1="543.7" y1="61.5" x2="542.0" y2="62.0" stroke="#ee0000" stroke-width="1.6"/>
<line x1="514.6" y1="282.2" x2="513.6" y2="290.0" stroke="#8ad67a" stroke-width="1.6"/>
<line x1="513.6" y1="290.0" x2="513.0" y2="295.1" stroke="#ee0000" stroke-width="1.6"/>
<line x1="552.7" y1="146.4" x2="557.0" y2="147.2" stroke="#8ad67a" stroke-width="1.6"/>
<line x1="557.0" y1="147.2" x2="558.7" y2="147.5" stroke="#ee0000" stroke-width="1.6"/>
<line x1="612.0" y1="165.6" x2="614.1" y2="157.2" stroke="#0000e6" stroke-width="1.6"/>
<line x1="614.1" y1="157.2" x2="615.3" y2="152.6" stroke="#ee0000" stroke-width="1.6"/>
<line x1="570.3" y1="254.9" x2="575.0" y2="257.0" stroke="#8ad67a" stroke-width="1.6"/>
<line x1="575.0" y1="257.0" x2="577.3" y2="257.9" stroke="#ee0000" stroke-width="1.6"/>
<line x1="578.9" y1="212.1" x2="577.3" y2="218.4" stroke="#e8a000" stroke-width="1.6"/>
<line x1="577.3" y1="218.4" x2="576.5" y2="221.6" stroke="#ee0000" stroke-width="1.6"/>
<line x1="565.0" y1="197.2" x2="571.1" y2="191.7" stroke="#8ad67a" stroke-width="1.6"/>
<line x1="571.1" y1="191.7" x2="575.2" y2="187.9" stroke="#ee0000" stroke-width="1.6"/>
<line x1="548.4" y1="60.1" x2="550.9" y2="55.6" stroke="#e8a000" stroke-width="1.6"/>
<line x1="550.9" y1="55.6" x2="551.9" y2="53.8" stroke="#ee0000" stroke-width="1.6"/>
<line x1="503.5" y1="153.9" x2="509.2" y2="166.1" stroke="#0000e6" stroke-width="1.6"/>
<line x1="509.2" y1="166.1" x2="513.3" y2="174.6" stroke="#ee0000" stroke-width="1.6"/>
<line x1="547.4" y1="283.4" x2="542.1" y2="290.1" stroke="#88d878" stroke-width="1.6"/>
<line x1="542.1" y1="290.1" x2="538.5" y2="294.6" stroke="#ee0000" stroke-width="1.6"/>
<line x1="624.8" y1="146.4" x2="625.9" y2="139.1" stroke="#8ad67a" stroke-width="1.6"/>
<line x1="625.9" y1="139.1" x2="626.5" y2="134.4" stroke="#ee0000" stroke-width="1.6"/>
<line x1="575.7" y1="241.0" x2="564.0" y2="229.5" stroke="#0000e6" stroke-width="1.6"/>
<line x1="564.0" y1="229.5" x2="555.2" y2="220.7" stroke="#ee0000" stroke-width="1.6"/>
<line x1="579.7" y1="279.0" x2="588.1" y2="276.7" stroke="#e8a000" stroke-width="1.6"/>
<line x1="588.1" y1="276.7" x2="593.5" y2="275.3" stroke="#ee0000" stroke-width="1.6"/>
<line x1="569.3" y1="20.3" x2="571.6" y2="16.7" stroke="#8ad67a" stroke-width="1.6"/>
<line x1="571.6" y1="16.7" x2="572.5" y2="15.4" stroke="#ee0000" stroke-width="1.6"/>
<line x1="596.0" y1="213.2" x2="592.9" y2="197.2" stroke="#0000e6" stroke-width="1.6"/>
<line x1="592.9" y1="197.2" x2="590.6" y2="185.1" stroke="#ee0000" stroke-width="1.6"/>
<line x1="523.8" y1="76.4" x2="521.8" y2="82.8" stroke="#8ad67a" stroke-width="1.6"/>
<line x1="521.8" y1="82.8" x2="520.6" y2="86.7" stroke="#ee0000" stroke-width="1.6"/>
<line x1="626.5" y1="252.2" x2="620.4" y2="258.0" stroke="#8ad67a" stroke-width="1.6"/>
<line x1="620.4" y1="258.0" x2="616.2" y2="262.0" stroke="#ee0000" stroke-width="1.6"/>
<line x1="522.8" y1="101.0" x2="521.8" y2="94.4" stroke="#e8a000" stroke-width="1.6"/>
<line x1="521.8" y1="94.4" x2="521.3" y2="90.9" stroke="#ee0000" stroke-width="1.6"/>
<line x1="520.6" y1="236.7" x2="517.6" y2="251.9" stroke="#0000e6" stroke-width="1.6"/>
<line x1="517.6" y1="251.9" x2="515.4" y2="263.2" stroke="#ee0000" stroke-width="1.6"/>
<line x1="568.2" y1="86.0" x2="568.6" y2="86.7" stroke="#8ad67a" stroke-width="1.6"/>
<line x1="568.6" y1="86.7" x2="568.7" y2="86.9" stroke="#ee0000" stroke-width="1.6"/>
<line x1="624.8" y1="24.6" x2="618.4" y2="17.2" stroke="#88d878" stroke-width="1.6"/>
<line x1="618.4" y1="17.2" x2="613.7" y2="11.8" stroke="#ee0000" stroke-width="1.6"/>
<line x1="578.9" y1="92.4" x2="588.6" y2="92.9" stroke="#e8a000" stroke-width="1.6"/>
<line x1="588.6" y1="92.9" x2="595.2" y2="93.2" stroke="#ee0000" stroke-width="1.6"/>
<line x1="594.9" y1="95.6" x2="608.1" y2="101.3" stroke="#0000e6" stroke-width="1.6"/>
<line x1="608.1" y1="101.3" x2="617.7" y2="105.4" stroke="#ee0000" stroke-width="1.6"/>
<line x1="616.5" y1="237.6" x2="618.5" y2="231.2" stroke="#8ad67a" stroke-width="1.6"/>
<line x1="618.5" y1="231.2" x2="619.7" y2="227.3" stroke="#ee0000" stroke-width="1.6"/>
<line x1="522.8" y1="101.0" x2="531.4" y2="99.3" stroke="#e8a000" stroke-width="1.6"/>
<line x1="531.4" y1="99.3" x2="536.9" y2="98.3" stroke="#ee0000" stroke-width="1.6"/>
<line x1="624.8" y1="261.3" x2="621.3" y2="257.9" stroke="#8ad67a" stroke-width="1.6"/>
<line x1="621.3" y1="257.9" x2="619.7" y2="256.3" stroke="#ee0000" stroke-width="1.6"/>
<line x1="579.7" y1="279.0" x2="587.5" y2="273.6" stroke="#e8a000" stroke-width="1.6"/>
<line x1="587.5" y1="273.6" x2="592.7" y2="270.0" stroke="#ee0000" stroke-width="1.6"/>
<line x1="538.8" y1="95.6" x2="537.3" y2="89.1" stroke="#8ad67a" stroke-width="1.6"/>
<line x1="537.3" y1="89.1" x2="536.4" y2="85.1" stroke="#ee0000" stroke-width="1.6"/>
<line x1="551.6" y1="136.2" x2="539.0" y2="127.1" stroke="#0000e6" stroke-width="1.6"/>
<line x1="539.0" y1="127.1" x2="529.7" y2="120.3" stroke="#ee0000" stroke-width="1.6"/>
<line x1="616.3" y1="277.3" x2="613.2" y2="266.6" stroke="#8ad67a" stroke-width="1.6"/>
<line x1="613.2" y1="266.6" x2="610.8" y2="258.6" stroke="#ee0000" stroke-width="1.6"/>
<line x1="602.4" y1="71.2" x2="604.9" y2="67.2" stroke="#8ad67a" stroke-width="1.6"/>
<line x1="604.9" y1="67.2" x2="606.0" y2="65.6" stroke="#ee0000" stroke-width="1.6"/>
<line x1="555.0" y1="22.3" x2="552.8" y2="24.5" stroke="#8ad67a" stroke-width="1.6"/>
<line x1="552.8" y1="24.5" x2="552.2" y2="25.1" stroke="#ee0000" stroke-width="1.6"/>
<line x1="613.1" y1="147.5" x2="603.3" y2="147.5" stroke="#8ad67a" stroke-width="1.6"/>
<line x1="603.3" y1="147.5" x2="596.2" y2="147.4" stroke="#ee0000" stroke-width="1.6"/>
<line x1="580.0" y1="237.8" x2="582.1" y2="234.1" stroke="#8ad67a" stroke-width="1.6"/>
<line x1="582.1" y1="234.1" x2="582.8" y2="232.8" stroke="#ee0000" stroke-width="1.6"/>
<line x1="587.4" y1="72.1" x2="594.2" y2="75.1" stroke="#8ad67a" stroke-width="1.6"/>
<line x1="594.2" y1="75.1" x2="598.5" y2="76.9" stroke="#ee0000" stroke-width="1.6"/>
<line x1="598.6" y1="129.1" x2="593.6" y2="124.9" stroke="#8ad67a" stroke-width="1.6"/>
<line x1="593.6" y1="124.9" x2="590.7" y2="122.5" stroke="#ee0000" stroke-width="1.6"/>
<line x1="535.0" y1="41.2" x2="533.0" y2="32.2" stroke="#8ad67a" stroke-width="1.6"/>
<line x1="533.0" y1="32.2" x2="531.5" y2="25.8" stroke="#ee0000" stroke-width="1.6"/>
<line x1="524.1" y1="212.3" x2="525.4" y2="206.6" stroke="#8ad67a" stroke-width="1.6"/>
<line x1="525.4" y1="206.6" x2="526.0" y2="203.6" stroke="#ee0000" stroke-width="1.6"/>
<line x1="578.9" y1="212.1" x2="571.1" y2="214.4" stroke="#e8a000" stroke-width="1.6"/>
<line x1="571.1" y1="214.4" x2="566.5" y2="215.8" stroke="#ee0000" stroke-width="1.6"/>
<line x1="507.8" y1="86.0" x2="515.5" y2="86.4" stroke="#8ad67a" stroke-width="1.6"/>
<line x1="515.5" y1="86.4" x2="520.6" y2="86.7" stroke="#ee0000" stroke-width="1.6"/>
<line x1="508.9" y1="204.1" x2="509.4" y2="196.1" stroke="#8ad67a" stroke-width="1.6"/>
<line x1="509.4" y1="196.1" x2="509.7" y2="190.9" stroke="#ee0000" stroke-width="1.6"/>
<line x1="622.7" y1="166.7" x2="618.3" y2="158.5" stroke="#8ad67a" stroke-width="1.6"/>
<line x1="618.3" y1="158.5" x2="615.3" y2="152.6" stroke="#ee0000" stroke-width="1.6"/>
<line x1="590.6" y1="101.0" x2="591.0" y2="109.0" stroke="#8ad67a" stroke-width="1.6"/>
<line x1="591.0" y1="109.0" x2="591.3" y2="114.3" stroke="#ee0000" stroke-width="1.6"/>
<line x1="569.3" y1="175.3" x2="570.9" y2="170.8" stroke="#8ad67a" stroke-width="1.6"/>
<line x1="570.9" y1="170.8" x2="571.6" y2="168.8" stroke="#ee0000" stroke-width="1.6"/>
<line x1="573.5" y1="68.4" x2="561.0" y2="60.0" stroke="#0000e6" stroke-width="1.6"/>
<line x1="561.0" y1="60.0" x2="551.9" y2="53.8" stroke="#ee0000" stroke-width="1.6"/>
<line x1="569.3" y1="203.0" x2="578.0" y2="203.7" stroke="#8ad67a" stroke-width="1.6"/>
<line x1="578.0" y1="203.7" x2="584.0" y2="204.2" stroke="#ee0000" stroke-width="1.6"/>
<line x1="528.8" y1="95.1" x2="526.5" y2="89.7" stroke="#8ad67a" stroke-width="1.6"/>
<line x1="526.5" y1="89.7" x2="525.2" y2="86.7" stroke="#ee0000" stroke-width="1.6"/>
<line x1="611.0" y1="184.9" x2="610.8" y2="193.3" stroke="#e8a000" stroke-width="1.6"/>
<line x1="610.8" y1="193.3" x2="610.7" y2="198.4" stroke="#ee0000" stroke-width="1.6"/>
<line x1="575.7" y1="241.0" x2="571.6" y2="247.0" stroke="#0000e6" stroke-width="1.6"/>
<line x1="571.6" y1="247.0" x2="569.8" y2="249.7" stroke="#ee0000" stroke-width="1.6"/>
<line x1="614.1" y1="265.6" x2="611.9" y2="260.9" stroke="#8ad67a" stroke-width="1.6"/>
<line x1="611.9" y1="260.9" x2="610.8" y2="258.6" stroke="#ee0000" stroke-width="1.6"/>
<line x1="626.5" y1="252.2" x2="617.0" y2="251.7" stroke="#8ad67a" stroke-width="1.6"/>
<line x1="617.0" y1="251.7" x2="610.3" y2="251.3" stroke="#ee0000" stroke-width="1.6"/>
<line x1="611.6" y1="48.1" x2="608.2" y2="58.7" stroke="#0000e6" stroke-width="1.6"/>
<line x1="608.2" y1="58.7" x2="606.0" y2="65.6" stroke="#ee0000" stroke-width="1.6"/>
<line x1="596.0" y1="213.2" x2="608.8" y2="207.7" stroke="#0000e6" stroke-width="1.6"/>
<line x1="608.8" y1="207.7" x2="618.0" y2="203.7" stroke="#ee0000" stroke-width="1.6"/>
<line x1="502.1" y1="79.5" x2="501.7" y2="84.2" stroke="#8ad67a" stroke-width="1.6"/>
<line x1="501.7" y1="84.2" x2="501.5" y2="86.1" stroke="#ee0000" stroke-width="1.6"/>
<line x1="528.5" y1="127.5" x2="521.7" y2="127.1" stroke="#8ad67a" stroke-width="1.6"/>
<line x1="521.7" y1="127.1" x2="517.6" y2="126.8" stroke="#ee0000" stroke-width="1.6"/>
<line x1="611.0" y1="66.2" x2="606.1" y2="65.6" stroke="#e8a000" stroke-width="1.6"/>
<line x1="606.1" y1="65.6" x2="604.4" y2="65.4" stroke="#ee0000" stroke-width="1.6"/>
<line x1="560.8" y1="277.9" x2="564.8" y2="275.9" stroke="#8ad67a" stroke-width="1.6"/>
<line x1="564.8" y1="275.9" x2="566.3" y2="275.1" stroke="#ee0000" stroke-width="1.6"/>
<line x1="503.5" y1="153.9" x2="502.6" y2="142.7" stroke="#0000e6" stroke-width="1.6"/>
<line x1="502.6" y1="142.7" x2="502.0" y2="135.4" stroke="#ee0000" stroke-width="1.6"/>
<line x1="602.4" y1="71.2" x2="604.4" y2="76.9" stroke="#8ad67a" stroke-width="1.6"/>
<line x1="604.4" y1="76.9" x2="605.6" y2="80.0" stroke="#ee0000" stroke-width="1.6"/>
<line x1="609.7" y1="191.9" x2="613.6" y2="196.6" stroke="#8ad67a" stroke-width="1.6"/>
<line x1="613.6" y1="196.6" x2="615.9" y2="199.2" stroke="#ee0000" stroke-width="1.6"/>
<line x1="525.3" y1="158.1" x2="521.8" y2="162.7" stroke="#8ad67a" stroke-width="1.6"/>
<line x1="521.8" y1="162.7" x2="519.9" y2="165.1" stroke="#ee0000" stroke-width="1.6"/>
<line x1="525.0" y1="132.0" x2="527.6" y2="125.8" stroke="#8ad67a" stroke-width="1.6"/>
<line x1="527.6" y1="125.8" x2="529.2" y2="122.0" stroke="#ee0000" stroke-width="1.6"/>
<line x1="623.5" y1="222.1" x2="614.6" y2="228.4" stroke="#8ad67a" stroke-width="1.6"/>
<line x1="614.6" y1="228.4" x2="608.0" y2="233.1" stroke="#ee0000" stroke-width="1.6"/>
<line x1="613.1" y1="225.0" x2="614.7" y2="210.1" stroke="#0000e6" stroke-width="1.6"/>
<line x1="614.7" y1="210.1" x2="615.9" y2="199.2" stroke="#ee0000" stroke-width="1.6"/>
<line x1="514.7" y1="40.6" x2="514.1" y2="39.7" stroke="#8ad67a" stroke-width="1.6"/>
<line x1="514.1" y1="39.7" x2="513.9" y2="39.4" stroke="#ee0000" stroke-width="1.6"/>
<line x1="536.2" y1="30.0" x2="538.2" y2="18.5" stroke="#0000e6" stroke-width="1.6"/>
<line x1="538.2" y1="18.5" x2="539.4" y2="11.0" stroke="#ee0000" stroke-width="1.6"/>
<line x1="587.4" y1="72.1" x2="589.1" y2="74.0" stroke="#8ad67a" stroke-width="1.6"/>
<line x1="589.1" y1="74.0" x2="589.6" y2="74.4" stroke="#ee0000" stroke-width="1.6"/>
<line x1="555.1" y1="52.0" x2="551.7" y2="55.5" stroke="#8ad67a" stroke-width="1.6"/>
<line x1="551.7" y1="55.5" x2="550.1" y2="57.0" stroke="#ee0000" stroke-width="1.6"/>
<line x1="517.4" y1="179.5" x2="514.5" y2="194.3" stroke="#0000e6" stroke-width="1.6"/>
<line x1="514.5" y1="194.3" x2="512.4" y2="205.2" stroke="#ee0000" stroke-width="1.6"/>
<line x1="515.3" y1="90.3" x2="511.2" y2="96.9" stroke="#e8a000" stroke-width="1.6"/>
<line x1="511.2" y1="96.9" x2="508.8" y2="100.8" stroke="#ee0000" stroke-width="1.6"/>
<line x1="568.2" y1="86.0" x2="569.1" y2="84.0" stroke="#8ad67a" stroke-width="1.6"/>
<line x1="569.1" y1="84.0" x2="569.3" y2="83.5" stroke="#ee0000" stroke-width="1.6"/>
<line x1="569.3" y1="56.6" x2="573.1" y2="61.6" stroke="#8ad67a" stroke-width="1.6"/>
<line x1="573.1" y1="61.6" x2="575.2" y2="64.4" stroke="#ee0000" stroke-width="1.6"/>
<line x1="519.6" y1="119.1" x2="529.5" y2="107.2" stroke="#0000e6" stroke-width="1.6"/>
<line x1="529.5" y1="107.2" x2="536.9" y2="98.3" stroke="#ee0000" stroke-width="1.6"/>
<line x1="580.5" y1="268.3" x2="577.7" y2="263.2" stroke="#e8a000" stroke-width="1.6"/>
<line x1="577.7" y1="263.2" x2="576.4" y2="260.8" stroke="#ee0000" stroke-width="1.6"/>
<line x1="600.1" y1="95.1" x2="595.8" y2="94.8" stroke="#8ad67a" stroke-width="1.6"/>
<line x1="595.8" y1="94.8" x2="594.1" y2="94.6" stroke="#ee0000" stroke-width="1.6"/>
<line x1="525.0" y1="132.0" x2="532.3" y2="129.7" stroke="#8ad67a" stroke-width="1.6"/>
<line x1="532.3" y1="129.7" x2="536.9" y2="128.2" stroke="#ee0000" stroke-width="1.6"/>
<line x1="506.9" y1="275.3" x2="507.8" y2="268.6" stroke="#8ad67a" stroke-width="1.6"/>
<line x1="507.8" y1="268.6" x2="508.4" y2="264.5" stroke="#ee0000" stroke-width="1.6"/>
<line x1="559.0" y1="170.5" x2="562.6" y2="165.7" stroke="#8ad67a" stroke-width="1.6"/>
<line x1="562.6" y1="165.7" x2="564.5" y2="163.1" stroke="#ee0000" stroke-width="1.6"/>
<line x1="515.3" y1="90.3" x2="507.2" y2="92.4" stroke="#e8a000" stroke-width="1.6"/>
<line x1="507.2" y1="92.4" x2="502.2" y2="93.7" stroke="#ee0000" stroke-width="1.6"/>
<line x1="611.0" y1="184.9" x2="609.0" y2="181.0" stroke="#e8a000" stroke-width="1.6"/>
<line x1="609.0" y1="181.0" x2="608.4" y2="180.0" stroke="#ee0000" stroke-width="1.6"/>
<line x1="517.3" y1="63.4" x2="515.3" y2="49.4" stroke="#0000e6" stroke-width="1.6"/>
<line x1="515.3" y1="49.4" x2="513.9" y2="39.4" stroke="#ee0000" stroke-width="1.6"/>
<line x1="578.9" y1="212.1" x2="574.2" y2="217.8" stroke="#e8a000" stroke-width="1.6"/>
<line x1="574.2" y1="217.8" x2="571.6" y2="221.0" stroke="#ee0000" stroke-width="1.6"/>
<line x1="548.4" y1="60.1" x2="540.3" y2="57.4" stroke="#e8a000" stroke-width="1.6"/>
<line x1="540.3" y1="57.4" x2="535.2" y2="55.7" stroke="#ee0000" stroke-width="1.6"/>
<line x1="592.8" y1="279.0" x2="606.1" y2="269.3" stroke="#0000e6" stroke-width="1.6"/>
<line x1="606.1" y1="269.3" x2="616.2" y2="262.0" stroke="#ee0000" stroke-width="1.6"/>
<line x1="539.3" y1="44.1" x2="536.8" y2="51.2" stroke="#8ad67a" stroke-width="1.6"/>
<line x1="536.8" y1="51.2" x2="535.2" y2="55.7" stroke="#ee0000" stroke-width="1.6"/>
<line x1="627.0" y1="250.6" x2="616.1" y2="253.4" stroke="#8ad67a" stroke-width="1.6"/>
<line x1="616.1" y1="253.4" x2="607.9" y2="255.5" stroke="#ee0000" stroke-width="1.6"/>
<line x1="614.1" y1="203.0" x2="620.6" y2="201.0" stroke="#8ad67a" stroke-width="1.6"/>
<line x1="620.6" y1="201.0" x2="624.6" y2="199.9" stroke="#ee0000" stroke-width="1.6"/>
<line x1="588.5" y1="190.2" x2="591.2" y2="192.3" stroke="#8ad67a" stroke-width="1.6"/>
<line x1="591.2" y1="192.3" x2="591.8" y2="192.8" stroke="#ee0000" stroke-width="1.6"/>
<line x1="600.1" y1="95.1" x2="596.4" y2="93.7" stroke="#8ad67a" stroke-width="1.6"/>
<line x1="596.4" y1="93.7" x2="595.2" y2="93.2" stroke="#ee0000" stroke-width="1.6"/>
<line x1="516.4" y1="208.4" x2="522.2" y2="211.5" stroke="#e8a000" stroke-width="1.6"/>
<line x1="522.2" y1="211.5" x2="525.2" y2="213.1" stroke="#ee0000" stroke-width="1.6"/>
<line x1="611.0" y1="66.2" x2="616.5" y2="72.0" stroke="#e8a000" stroke-width="1.6"/>
<line x1="616.5" y1="72.0" x2="619.7" y2="75.5" stroke="#ee0000" stroke-width="1.6"/>
<line x1="561.2" y1="159.2" x2="560.4" y2="157.0" stroke="#8ad67a" stroke-width="1.6"/>
<line x1="560.4" y1="157.0" x2="560.2" y2="156.4" stroke="#ee0000" stroke-width="1.6"/>
<line x1="608.8" y1="126.6" x2="613.9" y2="122.4" stroke="#e8a000" stroke-width="1.6"/>
<line x1="613.9" y1="122.4" x2="616.5" y2="120.2" stroke="#ee0000" stroke-width="1.6"/>
<line x1="564.0" y1="35.6" x2="551.9" y2="29.2" stroke="#0000e6" stroke-width="1.6"/>
<line x1="551.9" y1="29.2" x2="543.4" y2="24.7" stroke="#ee0000" stroke-width="1.6"/>
<line x1="518.4" y1="32.3" x2="524.8" y2="24.8" stroke="#e8a000" stroke-width="1.6"/>
<line x1="524.8" y1="24.8" x2="529.2" y2="19.7" stroke="#ee0000" stroke-width="1.6"/>
<line x1="548.4" y1="60.1" x2="541.8" y2="61.1" stroke="#e8a000" stroke-width="1.6"/>
<line x1="541.8" y1="61.1" x2="538.5" y2="61.6" stroke="#ee0000" stroke-width="1.6"/>
<line x1="559.6" y1="97.3" x2="561.3" y2="92.3" stroke="#8ad67a" stroke-width="1.6"/>
<line x1="561.3" y1="92.3" x2="562.0" y2="89.9" stroke="#ee0000" stroke-width="1.6"/>
<line x1="624.3" y1="233.9" x2="614.8" y2="233.4" stroke="#8ad67a" stroke-width="1.6"/>
<line x1="614.8" y1="233.4" x2="608.0" y2="233.1" stroke="#ee0000" stroke-width="1.6"/>
<line x1="577.8" y1="124.5" x2="569.4" y2="132.9" stroke="#0000e6" stroke-width="1.6"/>
<line x1="569.4" y1="132.9" x2="563.9" y2="138.6" stroke="#ee0000" stroke-width="1.6"/>
<line x1="565.5" y1="202.0" x2="566.1" y2="210.2" stroke="#8ad67a" stroke-width="1.6"/>
<line x1="566.1" y1="210.2" x2="566.5" y2="215.8" stroke="#ee0000" stroke-width="1.6"/>
<line x1="581.4" y1="231.2" x2="582.5" y2="232.5" stroke="#8ad67a" stroke-width="1.6"/>
<line x1="582.5" y1="232.5" x2="582.8" y2="232.8" stroke="#ee0000" stroke-width="1.6"/>
<line x1="533.5" y1="191.3" x2="534.3" y2="183.2" stroke="#8ad67a" stroke-width="1.6"/>
<line x1="534.3" y1="183.2" x2="534.8" y2="177.8" stroke="#ee0000" stroke-width="1.6"/>
<line x1="518.5" y1="278.4" x2="516.6" y2="269.2" stroke="#e8a000" stroke-width="1.6"/>
<line x1="516.6" y1="269.2" x2="515.4" y2="263.2" stroke="#ee0000" stroke-width="1.6"/>
<line x1="561.8" y1="42.3" x2="561.4" y2="36.0" stroke="#8ad67a" stroke-width="1.6"/>
<line x1="561.4" y1="36.0" x2="561.1" y2="32.3" stroke="#ee0000" stroke-width="1.6"/>
<line x1="591.7" y1="32.0" x2="587.8" y2="26.1" stroke="#88d878" stroke-width="1.6"/>
<line x1="587.8" y1="26.1" x2="585.3" y2="22.4" stroke="#ee0000" stroke-width="1.6"/>
<line x1="519.6" y1="119.1" x2="510.2" y2="130.3" stroke="#0000e6" stroke-width="1.6"/>
<line x1="510.2" y1="130.3" x2="503.4" y2="138.5" stroke="#ee0000" stroke-width="1.6"/>
<line x1="518.5" y1="216.4" x2="518.9" y2="222.7" stroke="#e8a000" stroke-width="1.6"/>
<line x1="518.9" y1="222.7" x2="519.1" y2="225.8" stroke="#ee0000" stroke-width="1.6"/>
<line x1="580.0" y1="237.8" x2="577.0" y2="244.1" stroke="#8ad67a" stroke-width="1.6"/>
<line x1="577.0" y1="244.1" x2="575.2" y2="248.0" stroke="#ee0000" stroke-width="1.6"/>
<line x1="569.7" y1="256.7" x2="569.7" y2="251.8" stroke="#8ad67a" stroke-width="1.6"/>
<line x1="569.7" y1="251.8" x2="569.8" y2="249.7" stroke="#ee0000" stroke-width="1.6"/>
<line x1="526.2" y1="252.2" x2="523.3" y2="248.6" stroke="#8ad67a" stroke-width="1.6"/>
<line x1="523.3" y1="248.6" x2="522.1" y2="247.1" stroke="#ee0000" stroke-width="1.6"/>
<line x1="506.8" y1="239.9" x2="511.6" y2="234.8" stroke="#8ad67a" stroke-width="1.6"/>
<line x1="511.6" y1="234.8" x2="514.6" y2="231.6" stroke="#ee0000" stroke-width="1.6"/>
<line x1="627.0" y1="233.5" x2="624.8" y2="228.1" stroke="#8ad67a" stroke-width="1.6"/>
<line x1="624.8" y1="228.1" x2="623.6" y2="225.1" stroke="#ee0000" stroke-width="1.6"/>
<line x1="508.9" y1="157.1" x2="516.8" y2="156.0" stroke="#8ad67a" stroke-width="1.6"/>
<line x1="516.8" y1="156.0" x2="522.1" y2="155.3" stroke="#ee0000" stroke-width="1.6"/>
<line x1="548.8" y1="142.8" x2="550.0" y2="143.2" stroke="#8ad67a" stroke-width="1.6"/>
<line x1="550.0" y1="143.2" x2="550.3" y2="143.4" stroke="#ee0000" stroke-width="1.6"/>
<line x1="503.5" y1="153.9" x2="517.2" y2="149.5" stroke="#0000e6" stroke-width="1.6"/>
<line x1="517.2" y1="149.5" x2="527.1" y2="146.4" stroke="#ee0000" stroke-width="1.6"/>
<line x1="516.4" y1="208.4" x2="509.2" y2="208.2" stroke="#e8a000" stroke-width="1.6"/>
<line x1="509.2" y1="208.2" x2="505.3" y2="208.1" stroke="#ee0000" stroke-width="1.6"/>
<line x1="518.5" y1="216.4" x2="521.4" y2="224.2" stroke="#e8a000" stroke-width="1.6"/>
<line x1="521.4" y1="224.2" x2="523.2" y2="229.1" stroke="#ee0000" stroke-width="1.6"/>
<line x1="578.9" y1="92.4" x2="574.4" y2="88.0" stroke="#e8a000" stroke-width="1.6"/>
<line x1="574.4" y1="88.0" x2="572.1" y2="85.8" stroke="#ee0000" stroke-width="1.6"/>
<line x1="506.8" y1="103.0" x2="507.6" y2="100.4" stroke="#8ad67a" stroke-width="1.6"/>
<line x1="507.6" y1="100.4" x2="507.8" y2="99.7" stroke="#ee0000" stroke-width="1.6"/>
<line x1="625.0" y1="93.5" x2="620.8" y2="99.5" stroke="#8ad67a" stroke-width="1.6"/>
<line x1="620.8" y1="99.5" x2="618.1" y2="103.3" stroke="#ee0000" stroke-width="1.6"/>
<line x1="521.8" y1="28.9" x2="524.1" y2="27.2" stroke="#8ad67a" stroke-width="1.6"/>
<line x1="524.1" y1="27.2" x2="524.7" y2="26.8" stroke="#ee0000" stroke-width="1.6"/>
<line x1="611.0" y1="184.9" x2="601.2" y2="185.4" stroke="#e8a000" stroke-width="1.6"/>
<line x1="601.2" y1="185.4" x2="594.5" y2="185.8" stroke="#ee0000" stroke-width="1.6"/>
<line x1="548.4" y1="177.4" x2="540.0" y2="177.7" stroke="#e8a000" stroke-width="1.6"/>
<line x1="540.0" y1="177.7" x2="534.8" y2="177.8" stroke="#ee0000" stroke-width="1.6"/>
<line x1="627.0" y1="196.6" x2="621.4" y2="201.0" stroke="#8ad67a" stroke-width="1.6"/>
<line x1="621.4" y1="201.0" x2="618.0" y2="203.7" stroke="#ee0000" stroke-width="1.6"/>
<line x1="623.5" y1="222.1" x2="623.6" y2="224.5" stroke="#8ad67a" stroke-width="1.6"/>
<line x1="623.6" y1="224.5" x2="623.6" y2="225.1" stroke="#ee0000" stroke-width="1.6"/>
<line x1="616.7" y1="147.2" x2="615.6" y2="151.2" stroke="#8ad67a" stroke-width="1.6"/>
<line x1="615.6" y1="151.2" x2="615.3" y2="152.6" stroke="#ee0000" stroke-width="1.6"/>
<line x1="533.4" y1="74.3" x2="530.7" y2="71.6" stroke="#8ad67a" stroke-width="1.6"/>
<line x1="530.7" y1="71.6" x2="529.8" y2="70.8" stroke="#ee0000" stroke-width="1.6"/>
<line x1="578.9" y1="92.4" x2="577.4" y2="99.9" stroke="#e8a000" stroke-width="1.6"/>
<line x1="577.4" y1="99.9" x2="576.5" y2="104.2" stroke="#ee0000" stroke-width="1.6"/>
<line x1="548.4" y1="125.6" x2="551.4" y2="119.4" stroke="#e8a000" stroke-width="1.6"/>
<line x1="551.4" y1="119.4" x2="553.1" y2="116.1" stroke="#ee0000" stroke-width="1.6"/>
<line x1="625.5" y1="157.5" x2="619.2" y2="154.5" stroke="#8ad67a" stroke-width="1.6"/>
<line x1="619.2" y1="154.5" x2="615.3" y2="152.6" stroke="#ee0000" stroke-width="1.6"/>
<line x1="568.6" y1="289.0" x2="566.2" y2="293.0" stroke="#88d878" stroke-width="1.6"/>
<line x1="566.2" y1="293.0" x2="565.2" y2="294.6" stroke="#ee0000" stroke-width="1.6"/>
<line x1="612.0" y1="165.6" x2="609.7" y2="174.7" stroke="#0000e6" stroke-width="1.6"/>
<line x1="609.7" y1="174.7" x2="608.4" y2="180.0" stroke="#ee0000" stroke-width="1.6"/>
<line x1="546.2" y1="47.9" x2="548.7" y2="53.7" stroke="#8ad67a" stroke-width="1.6"/>
<line x1="548.7" y1="53.7" x2="550.1" y2="57.0" stroke="#ee0000" stroke-width="1.6"/>
<line x1="584.4" y1="185.0" x2="581.1" y2="187.3" stroke="#8ad67a" stroke-width="1.6"/>
<line x1="581.1" y1="187.3" x2="580.1" y2="188.0" stroke="#ee0000" stroke-width="1.6"/>
<line x1="623.8" y1="97.8" x2="620.5" y2="102.0" stroke="#8ad67a" stroke-width="1.6"/>
<line x1="620.5" y1="102.0" x2="618.9" y2="104.0" stroke="#ee0000" stroke-width="1.6"/>
<line x1="569.3" y1="175.3" x2="577.2" y2="175.1" stroke="#8ad67a" stroke-width="1.6"/>
<line x1="577.2" y1="175.1" x2="582.4" y2="175.0" stroke="#ee0000" stroke-width="1.6"/>
<line x1="566.2" y1="56.8" x2="566.6" y2="55.1" stroke="#8ad67a" stroke-width="1.6"/>
<line x1="566.6" y1="55.1" x2="566.7" y2="54.6" stroke="#ee0000" stroke-width="1.6"/>
<line x1="561.8" y1="42.3" x2="564.8" y2="39.7" stroke="#8ad67a" stroke-width="1.6"/>
<line x1="564.8" y1="39.7" x2="565.7" y2="38.9" stroke="#ee0000" stroke-width="1.6"/>
<line x1="594.9" y1="95.6" x2="601.4" y2="86.2" stroke="#0000e6" stroke-width="1.6"/>
<line x1="601.4" y1="86.2" x2="605.6" y2="80.0" stroke="#ee0000" stroke-width="1.6"/>
<line x1="561.2" y1="159.2" x2="563.7" y2="162.2" stroke="#8ad67a" stroke-width="1.6"/>
<line x1="563.7" y1="162.2" x2="564.5" y2="163.1" stroke="#ee0000" stroke-width="1.6"/>
<line x1="624.3" y1="233.9" x2="623.9" y2="228.2" stroke="#8ad67a" stroke-width="1.6"/>
<line x1="623.9" y1="228.2" x2="623.6" y2="225.1" stroke="#ee0000" stroke-width="1.6"/>
<line x1="520.6" y1="236.7" x2="523.3" y2="222.9" stroke="#0000e6" stroke-width="1.6"/>
<line x1="523.3" y1="222.9" x2="525.2" y2="213.1" stroke="#ee0000" stroke-width="1.6"/>
<line x1="608.8" y1="126.6" x2="608.7" y2="116.5" stroke="#e8a000" stroke-width="1.6"/>
<line x1="608.7" y1="116.5" x2="608.6" y2="109.6" stroke="#ee0000" stroke-width="1.6"/>
<line x1="584.4" y1="185.0" x2="583.8" y2="189.8" stroke="#8ad67a" stroke-width="1.6"/>
<line x1="583.8" y1="189.8" x2="583.5" y2="191.9" stroke="#ee0000" stroke-width="1.6"/>
<line x1="534.4" y1="239.2" x2="539.8" y2="238.9" stroke="#8ad67a" stroke-width="1.6"/>
<line x1="539.8" y1="238.9" x2="542.5" y2="238.7" stroke="#ee0000" stroke-width="1.6"/>
<line x1="559.6" y1="97.3" x2="556.3" y2="89.5" stroke="#8ad67a" stroke-width="1.6"/>
<line x1="556.3" y1="89.5" x2="554.1" y2="84.3" stroke="#ee0000" stroke-width="1.6"/>
<line x1="547.4" y1="283.4" x2="547.6" y2="282.5" stroke="#8ad67a" stroke-width="1.6"/>
<line x1="547.6" y1="282.5" x2="547.6" y2="282.3" stroke="#ee0000" stroke-width="1.6"/>
<line x1="588.5" y1="69.4" x2="585.7" y2="76.0" stroke="#8ad67a" stroke-width="1.6"/>
<line x1="585.7" y1="76.0" x2="584.0" y2="80.0" stroke="#ee0000" stroke-width="1.6"/>
<line x1="546.3" y1="165.6" x2="551.6" y2="165.8" stroke="#8ad67a" stroke-width="1.6"/>
<line x1="551.6" y1="165.8" x2="554.2" y2="165.9" stroke="#ee0000" stroke-width="1.6"/>
<line x1="504.1" y1="95.0" x2="506.8" y2="98.4" stroke="#8ad67a" stroke-width="1.6"/>
<line x1="506.8" y1="98.4" x2="507.8" y2="99.7" stroke="#ee0000" stroke-width="1.6"/>
<line x1="538.8" y1="95.6" x2="535.7" y2="99.1" stroke="#8ad67a" stroke-width="1.6"/>
<line x1="535.7" y1="99.1" x2="534.3" y2="100.6" stroke="#ee0000" stroke-width="1.6"/>
<line x1="561.8" y1="42.3" x2="564.7" y2="49.7" stroke="#8ad67a" stroke-width="1.6"/>
<line x1="564.7" y1="49.7" x2="566.7" y2="54.6" stroke="#ee0000" stroke-width="1.6"/>
<line x1="521.8" y1="28.9" x2="522.3" y2="23.2" stroke="#8ad67a" stroke-width="1.6"/>
<line x1="522.3" y1="23.2" x2="522.5" y2="20.1" stroke="#ee0000" stroke-width="1.6"/>
<line x1="624.8" y1="24.6" x2="620.3" y2="26.7" stroke="#8ad67a" stroke-width="1.6"/>
<line x1="620.3" y1="26.7" x2="618.2" y2="27.7" stroke="#ee0000" stroke-width="1.6"/>
<line x1="607.7" y1="204.1" x2="614.7" y2="190.2" stroke="#0000e6" stroke-width="1.6"/>
<line x1="614.7" y1="190.2" x2="619.9" y2="179.9" stroke="#ee0000" stroke-width="1.6"/>
<line x1="607.6" y1="254.5" x2="607.8" y2="255.3" stroke="#8ad67a" stroke-width="1.6"/>
<line x1="607.8" y1="255.3" x2="607.9" y2="255.5" stroke="#ee0000" stroke-width="1.6"/>
<line x1="539.3" y1="44.1" x2="533.5" y2="44.6" stroke="#8ad67a" stroke-width="1.6"/>
<line x1="533.5" y1="44.6" x2="530.3" y2="44.8" stroke="#ee0000" stroke-width="1.6"/>
<line x1="627.0" y1="57.7" x2="617.3" y2="54.2" stroke="#8ad67a" stroke-width="1.6"/>
<line x1="617.3" y1="54.2" x2="610.2" y2="51.7" stroke="#ee0000" stroke-width="1.6"/>
<line x1="569.3" y1="20.3" x2="563.5" y2="19.7" stroke="#8ad67a" stroke-width="1.6"/>
<line x1="563.5" y1="19.7" x2="560.3" y2="19.3" stroke="#ee0000" stroke-width="1.6"/>
<line x1="573.5" y1="187.0" x2="586.1" y2="189.3" stroke="#0000e6" stroke-width="1.6"/>
<line x1="586.1" y1="189.3" x2="594.7" y2="191.0" stroke="#ee0000" stroke-width="1.6"/>
<line x1="625.9" y1="76.4" x2="614.4" y2="78.5" stroke="#8ad67a" stroke-width="1.6"/>
<line x1="614.4" y1="78.5" x2="605.6" y2="80.0" stroke="#ee0000" stroke-width="1.6"/>
<line x1="523.8" y1="193.4" x2="515.4" y2="191.9" stroke="#8ad67a" stroke-width="1.6"/>
<line x1="515.4" y1="191.9" x2="509.7" y2="190.9" stroke="#ee0000" stroke-width="1.6"/>
<line x1="528.9" y1="92.2" x2="523.6" y2="88.7" stroke="#8ad67a" stroke-width="1.6"/>
<line x1="523.6" y1="88.7" x2="520.6" y2="86.7" stroke="#ee0000" stroke-width="1.6"/>
<line x1="614.1" y1="265.6" x2="608.5" y2="261.6" stroke="#8ad67a" stroke-width="1.6"/>
<line x1="608.5" y1="261.6" x2="605.1" y2="259.2" stroke="#ee0000" stroke-width="1.6"/>
<line x1="505.8" y1="145.6" x2="503.4" y2="139.2" stroke="#8ad67a" stroke-width="1.6"/>
<line x1="503.4" y1="139.2" x2="502.0" y2="135.4" stroke="#ee0000" stroke-width="1.6"/>
<line x1="598.6" y1="129.1" x2="601.9" y2="132.0" stroke="#8ad67a" stroke-width="1.6"/>
<line x1="601.9" y1="132.0" x2="603.1" y2="133.1" stroke="#ee0000" stroke-width="1.6"/>
<line x1="613.1" y1="107.4" x2="610.9" y2="99.1" stroke="#0000e6" stroke-width="1.6"/>
<line x1="610.9" y1="99.1" x2="609.7" y2="94.7" stroke="#ee0000" stroke-width="1.6"/>
<line x1="614.1" y1="86.0" x2="608.7" y2="82.2" stroke="#8ad67a" stroke-width="1.6"/>
<line x1="608.7" y1="82.2" x2="605.6" y2="80.0" stroke="#ee0000" stroke-width="1.6"/>
<line x1="606.7" y1="54.5" x2="609.5" y2="52.2" stroke="#8ad67a" stroke-width="1.6"/>
<line x1="609.5" y1="52.2" x2="610.2" y2="51.7" stroke="#ee0000" stroke-width="1.6"/>
<line x1="525.0" y1="65.1" x2="528.3" y2="69.0" stroke="#8ad67a" stroke-width="1.6"/>
<line x1="528.3" y1="69.0" x2="529.8" y2="70.8" stroke="#ee0000" stroke-width="1.6"/>
<line x1="560.8" y1="277.9" x2="559.1" y2="273.1" stroke="#8ad67a" stroke-width="1.6"/>
<line x1="559.1" y1="273.1" x2="558.4" y2="270.8" stroke="#ee0000" stroke-width="1.6"/>
<line x1="627.0" y1="233.5" x2="622.3" y2="229.5" stroke="#8ad67a" stroke-width="1.6"/>
<line x1="622.3" y1="229.5" x2="619.7" y2="227.3" stroke="#ee0000" stroke-width="1.6"/>
<line x1="513.9" y1="103.9" x2="511.4" y2="101.3" stroke="#8ad67a" stroke-width="1.6"/>
<line x1="511.4" y1="101.3" x2="510.8" y2="100.6" stroke="#ee0000" stroke-width="1.6"/>
<line x1="580.0" y1="208.4" x2="584.1" y2="202.0" stroke="#e8a000" stroke-width="1.6"/>
<line x1="584.1" y1="202.0" x2="586.5" y2="198.3" stroke="#ee0000" stroke-width="1.6"/>
<line x1="622.7" y1="245.3" x2="615.3" y2="248.9" stroke="#8ad67a" stroke-width="1.6"/>
<line x1="615.3" y1="248.9" x2="610.3" y2="251.3" stroke="#ee0000" stroke-width="1.6"/>
<line x1="535.6" y1="147.5" x2="536.4" y2="135.9" stroke="#0000e6" stroke-width="1.6"/>
<line x1="536.4" y1="135.9" x2="536.9" y2="128.2" stroke="#ee0000" stroke-width="1.6"/>
<line x1="569.3" y1="56.6" x2="568.1" y2="60.6" stroke="#8ad67a" stroke-width="1.6"/>
<line x1="568.1" y1="60.6" x2="567.6" y2="62.0" stroke="#ee0000" stroke-width="1.6"/>
<line x1="526.0" y1="215.3" x2="524.6" y2="216.3" stroke="#8ad67a" stroke-width="1.6"/>
<line x1="524.6" y1="216.3" x2="524.3" y2="216.5" stroke="#ee0000" stroke-width="1.6"/>
<line x1="624.8" y1="239.9" x2="615.2" y2="236.0" stroke="#8ad67a" stroke-width="1.6"/>
<line x1="615.2" y1="236.0" x2="608.0" y2="233.1" stroke="#ee0000" stroke-width="1.6"/>
<line x1="588.5" y1="69.4" x2="588.4" y2="63.2" stroke="#8ad67a" stroke-width="1.6"/>
<line x1="588.4" y1="63.2" x2="588.3" y2="59.7" stroke="#ee0000" stroke-width="1.6"/>
<line x1="570.3" y1="254.9" x2="570.7" y2="258.5" stroke="#8ad67a" stroke-width="1.6"/>
<line x1="570.7" y1="258.5" x2="570.8" y2="259.5" stroke="#ee0000" stroke-width="1.6"/>
<line x1="538.8" y1="208.4" x2="543.2" y2="201.0" stroke="#8ad67a" stroke-width="1.6"/>
<line x1="543.2" y1="201.0" x2="546.2" y2="196.0" stroke="#ee0000" stroke-width="1.6"/>
<line x1="505.0" y1="62.3" x2="509.5" y2="61.0" stroke="#8ad67a" stroke-width="1.6"/>
<line x1="509.5" y1="61.0" x2="511.4" y2="60.4" stroke="#ee0000" stroke-width="1.6"/>
<line x1="580.5" y1="268.3" x2="572.8" y2="272.4" stroke="#e8a000" stroke-width="1.6"/>
<line x1="572.8" y1="272.4" x2="567.9" y2="275.1" stroke="#ee0000" stroke-width="1.6"/>
<line x1="569.7" y1="256.7" x2="574.8" y2="257.5" stroke="#8ad67a" stroke-width="1.6"/>
<line x1="574.8" y1="257.5" x2="577.3" y2="257.9" stroke="#ee0000" stroke-width="1.6"/>
<line x1="579.7" y1="279.0" x2="575.6" y2="276.3" stroke="#e8a000" stroke-width="1.6"/>
<line x1="575.6" y1="276.3" x2="574.1" y2="275.3" stroke="#ee0000" stroke-width="1.6"/>
<line x1="580.0" y1="208.4" x2="578.9" y2="209.6" stroke="#e8a000" stroke-width="1.6"/>
<line x1="578.9" y1="209.6" x2="578.6" y2="209.9" stroke="#ee0000" stroke-width="1.6"/>
<line x1="526.2" y1="73.4" x2="526.9" y2="67.1" stroke="#8ad67a" stroke-width="1.6"/>
<line x1="526.9" y1="67.1" x2="527.3" y2="63.5" stroke="#ee0000" stroke-width="1.6"/>
<line x1="557.5" y1="244.0" x2="558.2" y2="251.9" stroke="#8ad67a" stroke-width="1.6"/>
<line x1="558.2" y1="251.9" x2="558.7" y2="257.2" stroke="#ee0000" stroke-width="1.6"/>
<line x1="511.2" y1="188.7" x2="517.7" y2="190.9" stroke="#8ad67a" stroke-width="1.6"/>
<line x1="517.7" y1="190.9" x2="521.6" y2="192.2" stroke="#ee0000" stroke-width="1.6"/>
<line x1="569.3" y1="136.2" x2="563.3" y2="139.3" stroke="#8ad67a" stroke-width="1.6"/>
<line x1="563.3" y1="139.3" x2="559.8" y2="141.1" stroke="#ee0000" stroke-width="1.6"/>
<line x1="580.0" y1="150.7" x2="588.2" y2="147.8" stroke="#e8a000" stroke-width="1.6"/>
<line x1="588.2" y1="147.8" x2="593.3" y2="146.0" stroke="#ee0000" stroke-width="1.6"/>
<line x1="566.2" y1="56.8" x2="570.5" y2="57.8" stroke="#8ad67a" stroke-width="1.6"/>
<line x1="570.5" y1="57.8" x2="572.1" y2="58.2" stroke="#ee0000" stroke-width="1.6"/>
<line x1="535.6" y1="265.6" x2="543.5" y2="268.5" stroke="#0000e6" stroke-width="1.6"/>
<line x1="543.5" y1="268.5" x2="547.6" y2="270.0" stroke="#ee0000" stroke-width="1.6"/>
<line x1="538.8" y1="208.4" x2="534.1" y2="215.5" stroke="#8ad67a" stroke-width="1.6"/>
<line x1="534.1" y1="215.5" x2="530.9" y2="220.3" stroke="#ee0000" stroke-width="1.6"/>
<line x1="523.8" y1="193.4" x2="525.2" y2="199.8" stroke="#8ad67a" stroke-width="1.6"/>
<line x1="525.2" y1="199.8" x2="526.0" y2="203.6" stroke="#ee0000" stroke-width="1.6"/>
<line x1="624.8" y1="146.4" x2="615.6" y2="142.4" stroke="#8ad67a" stroke-width="1.6"/>
<line x1="615.6" y1="142.4" x2="608.9" y2="139.5" stroke="#ee0000" stroke-width="1.6"/>
<line x1="592.8" y1="160.3" x2="576.7" y2="161.9" stroke="#0000e6" stroke-width="1.6"/>
<line x1="576.7" y1="161.9" x2="564.5" y2="163.1" stroke="#ee0000" stroke-width="1.6"/>
<line x1="622.7" y1="41.7" x2="615.4" y2="47.5" stroke="#8ad67a" stroke-width="1.6"/>
<line x1="615.4" y1="47.5" x2="610.2" y2="51.7" stroke="#ee0000" stroke-width="1.6"/>
<line x1="595.2" y1="269.5" x2="593.2" y2="269.9" stroke="#8ad67a" stroke-width="1.6"/>
<line x1="593.2" y1="269.9" x2="592.7" y2="270.0" stroke="#ee0000" stroke-width="1.6"/>
<line x1="623.5" y1="222.1" x2="619.4" y2="219.2" stroke="#8ad67a" stroke-width="1.6"/>
<line x1="619.4" y1="219.2" x2="617.6" y2="217.9" stroke="#ee0000" stroke-width="1.6"/>
<line x1="518.0" y1="42.0" x2="514.7" y2="39.9" stroke="#e8a000" stroke-width="1.6"/>
<line x1="514.7" y1="39.9" x2="513.9" y2="39.4" stroke="#ee0000" stroke-width="1.6"/>
<line x1="520.6" y1="246.3" x2="521.9" y2="256.0" stroke="#0000e6" stroke-width="1.6"/>
<line x1="521.9" y1="256.0" x2="522.6" y2="261.7" stroke="#ee0000" stroke-width="1.6"/>
<line x1="577.2" y1="101.3" x2="568.7" y2="96.6" stroke="#8ad67a" stroke-width="1.6"/>
<line x1="568.7" y1="96.6" x2="562.6" y2="93.2" stroke="#ee0000" stroke-width="1.6"/>
<line x1="592.8" y1="160.3" x2="589.2" y2="155.1" stroke="#0000e6" stroke-width="1.6"/>
<line x1="589.2" y1="155.1" x2="587.8" y2="153.2" stroke="#ee0000" stroke-width="1.6"/>
<line x1="548.4" y1="125.6" x2="555.3" y2="119.0" stroke="#e8a000" stroke-width="1.6"/>
<line x1="555.3" y1="119.0" x2="559.9" y2="114.7" stroke="#ee0000" stroke-width="1.6"/>
<line x1="607.7" y1="253.8" x2="609.8" y2="251.8" stroke="#8ad67a" stroke-width="1.6"/>
<line x1="609.8" y1="251.8" x2="610.3" y2="251.3" stroke="#ee0000" stroke-width="1.6"/>
<line x1="609.7" y1="191.9" x2="608.9" y2="184.6" stroke="#8ad67a" stroke-width="1.6"/>
<line x1="608.9" y1="184.6" x2="608.4" y2="180.0" stroke="#ee0000" stroke-width="1.6"/>
<line x1="566.2" y1="56.8" x2="563.7" y2="60.4" stroke="#8ad67a" stroke-width="1.6"/>
<line x1="563.7" y1="60.4" x2="562.8" y2="61.8" stroke="#ee0000" stroke-width="1.6"/>
<line x1="624.3" y1="281.2" x2="619.8" y2="290.2" stroke="#88d878" stroke-width="1.6"/>
<line x1="619.8" y1="290.2" x2="616.5" y2="296.8" stroke="#ee0000" stroke-width="1.6"/>
<line x1="572.5" y1="246.6" x2="570.3" y2="249.1" stroke="#8ad67a" stroke-width="1.6"/>
<line x1="570.3" y1="249.1" x2="569.8" y2="249.7" stroke="#ee0000" stroke-width="1.6"/>
<line x1="569.3" y1="100.0" x2="583.7" y2="96.9" stroke="#0000e6" stroke-width="1.6"/>
<line x1="583.7" y1="96.9" x2="594.1" y2="94.6" stroke="#ee0000" stroke-width="1.6"/>
<line x1="533.4" y1="74.3" x2="529.7" y2="67.7" stroke="#8ad67a" stroke-width="1.6"/>
<line x1="529.7" y1="67.7" x2="527.3" y2="63.5" stroke="#ee0000" stroke-width="1.6"/>
<line x1="526.0" y1="215.3" x2="529.4" y2="218.8" stroke="#8ad67a" stroke-width="1.6"/>
<line x1="529.4" y1="218.8" x2="530.9" y2="220.3" stroke="#ee0000" stroke-width="1.6"/>
<line x1="522.8" y1="101.0" x2="516.5" y2="105.6" stroke="#e8a000" stroke-width="1.6"/>
<line x1="516.5" y1="105.6" x2="512.8" y2="108.3" stroke="#ee0000" stroke-width="1.6"/>
<line x1="627.0" y1="176.3" x2="616.9" y2="173.9" stroke="#8ad67a" stroke-width="1.6"/>
<line x1="616.9" y1="173.9" x2="609.4" y2="172.1" stroke="#ee0000" stroke-width="1.6"/>
<line x1="518.4" y1="32.3" x2="521.0" y2="24.7" stroke="#e8a000" stroke-width="1.6"/>
<line x1="521.0" y1="24.7" x2="522.5" y2="20.1" stroke="#ee0000" stroke-width="1.6"/>
<line x1="608.8" y1="237.8" x2="601.3" y2="231.3" stroke="#e8a000" stroke-width="1.6"/>
<line x1="601.3" y1="231.3" x2="596.2" y2="226.9" stroke="#ee0000" stroke-width="1.6"/>
<line x1="580.5" y1="268.3" x2="576.2" y2="273.0" stroke="#e8a000" stroke-width="1.6"/>
<line x1="576.2" y1="273.0" x2="574.1" y2="275.3" stroke="#ee0000" stroke-width="1.6"/>
<line x1="525.0" y1="132.0" x2="527.8" y2="124.9" stroke="#8ad67a" stroke-width="1.6"/>
<line x1="527.8" y1="124.9" x2="529.7" y2="120.3" stroke="#ee0000" stroke-width="1.6"/>
<line x1="524.1" y1="212.3" x2="524.2" y2="215.7" stroke="#8ad67a" stroke-width="1.6"/>
<line x1="524.2" y1="215.7" x2="524.3" y2="216.5" stroke="#ee0000" stroke-width="1.6"/>
<line x1="503.5" y1="270.9" x2="518.5" y2="264.2" stroke="#0000e6" stroke-width="1.6"/>
<line x1="518.5" y1="264.2" x2="529.8" y2="259.1" stroke="#ee0000" stroke-width="1.6"/>
<line x1="622.7" y1="166.7" x2="621.0" y2="174.6" stroke="#8ad67a" stroke-width="1.6"/>
<line x1="621.0" y1="174.6" x2="619.9" y2="179.9" stroke="#ee0000" stroke-width="1.6"/>
<line x1="569.3" y1="107.4" x2="569.7" y2="111.8" stroke="#8ad67a" stroke-width="1.6"/>
<line x1="569.7" y1="111.8" x2="569.9" y2="113.4" stroke="#ee0000" stroke-width="1.6"/>
<line x1="572.5" y1="141.3" x2="568.7" y2="146.3" stroke="#8ad67a" stroke-width="1.6"/>
<line x1="568.7" y1="146.3" x2="566.6" y2="149.2" stroke="#ee0000" stroke-width="1.6"/>
<line x1="518.5" y1="149.6" x2="528.0" y2="152.6" stroke="#e8a000" stroke-width="1.6"/>
<line x1="528.0" y1="152.6" x2="534.4" y2="154.7" stroke="#ee0000" stroke-width="1.6"/>
<line x1="572.5" y1="141.3" x2="576.9" y2="144.3" stroke="#8ad67a" stroke-width="1.6"/>
<line x1="576.9" y1="144.3" x2="579.2" y2="145.8" stroke="#ee0000" stroke-width="1.6"/>
<line x1="614.1" y1="203.0" x2="611.6" y2="199.6" stroke="#8ad67a" stroke-width="1.6"/>
<line x1="611.6" y1="199.6" x2="610.7" y2="198.4" stroke="#ee0000" stroke-width="1.6"/>
<line x1="580.0" y1="150.7" x2="579.3" y2="146.8" stroke="#e8a000" stroke-width="1.6"/>
<line x1="579.3" y1="146.8" x2="579.2" y2="145.8" stroke="#ee0000" stroke-width="1.6"/>
<line x1="560.8" y1="277.9" x2="562.2" y2="273.3" stroke="#8ad67a" stroke-width="1.6"/>
<line x1="562.2" y1="273.3" x2="562.9" y2="271.3" stroke="#ee0000" stroke-width="1.6"/>
<line x1="578.9" y1="92.4" x2="588.1" y2="93.7" stroke="#e8a000" stroke-width="1.6"/>
<line x1="588.1" y1="93.7" x2="594.1" y2="94.6" stroke="#ee0000" stroke-width="1.6"/>
<line x1="524.1" y1="212.3" x2="525.0" y2="212.9" stroke="#8ad67a" stroke-width="1.6"/>
<line x1="525.0" y1="212.9" x2="525.2" y2="213.1" stroke="#ee0000" stroke-width="1.6"/>
<line x1="505.8" y1="145.6" x2="509.1" y2="139.1" stroke="#8ad67a" stroke-width="1.6"/>
<line x1="509.1" y1="139.1" x2="511.2" y2="135.0" stroke="#ee0000" stroke-width="1.6"/>
<line x1="627.0" y1="176.3" x2="625.0" y2="175.1" stroke="#8ad67a" stroke-width="1.6"/>
<line x1="625.0" y1="175.1" x2="624.5" y2="174.8" stroke="#ee0000" stroke-width="1.6"/>
<line x1="590.6" y1="101.0" x2="593.0" y2="96.6" stroke="#8ad67a" stroke-width="1.6"/>
<line x1="593.0" y1="96.6" x2="594.1" y2="94.6" stroke="#ee0000" stroke-width="1.6"/>
<line x1="592.8" y1="160.3" x2="596.5" y2="165.7" stroke="#0000e6" stroke-width="1.6"/>
<line x1="596.5" y1="165.7" x2="598.0" y2="167.7" stroke="#ee0000" stroke-width="1.6"/>
<line x1="607.6" y1="254.5" x2="609.8" y2="251.9" stroke="#8ad67a" stroke-width="1.6"/>
<line x1="609.8" y1="251.9" x2="610.3" y2="251.3" stroke="#ee0000" stroke-width="1.6"/>
<line x1="614.1" y1="265.6" x2="617.6" y2="259.8" stroke="#8ad67a" stroke-width="1.6"/>
<line x1="617.6" y1="259.8" x2="619.7" y2="256.3" stroke="#ee0000" stroke-width="1.6"/>
<line x1="575.7" y1="241.0" x2="565.7" y2="250.5" stroke="#0000e6" stroke-width="1.6"/>
<line x1="565.7" y1="250.5" x2="558.7" y2="257.2" stroke="#ee0000" stroke-width="1.6"/>
<line x1="623.5" y1="222.1" x2="617.1" y2="218.6" stroke="#8ad67a" stroke-width="1.6"/>
<line x1="617.1" y1="218.6" x2="613.1" y2="216.4" stroke="#ee0000" stroke-width="1.6"/>
<line x1="580.0" y1="33.1" x2="581.1" y2="40.6" stroke="#e8a000" stroke-width="1.6"/>
<line x1="581.1" y1="40.6" x2="581.8" y2="45.0" stroke="#ee0000" stroke-width="1.6"/>
<line x1="515.3" y1="90.3" x2="506.9" y2="87.7" stroke="#e8a000" stroke-width="1.6"/>
<line x1="506.9" y1="87.7" x2="501.5" y2="86.1" stroke="#ee0000" stroke-width="1.6"/>
<line x1="523.8" y1="193.4" x2="526.2" y2="199.8" stroke="#8ad67a" stroke-width="1.6"/>
<line x1="526.2" y1="199.8" x2="527.6" y2="203.7" stroke="#ee0000" stroke-width="1.6"/>
<line x1="607.9" y1="209.0" x2="611.3" y2="213.8" stroke="#8ad67a" stroke-width="1.6"/>
<line x1="611.3" y1="213.8" x2="613.1" y2="216.4" stroke="#ee0000" stroke-width="1.6"/>
<line x1="616.5" y1="237.6" x2="620.7" y2="230.2" stroke="#8ad67a" stroke-width="1.6"/>
<line x1="620.7" y1="230.2" x2="623.6" y2="225.1" stroke="#ee0000" stroke-width="1.6"/>
<line x1="535.6" y1="265.6" x2="527.5" y2="262.6" stroke="#0000e6" stroke-width="1.6"/>
<line x1="527.5" y1="262.6" x2="523.1" y2="261.0" stroke="#ee0000" stroke-width="1.6"/>
<line x1="521.8" y1="28.9" x2="524.8" y2="24.5" stroke="#8ad67a" stroke-width="1.6"/>
<line x1="524.8" y1="24.5" x2="526.2" y2="22.4" stroke="#ee0000" stroke-width="1.6"/>
<line x1="518.5" y1="192.4" x2="521.0" y2="192.2" stroke="#8ad67a" stroke-width="1.6"/>
<line x1="521.0" y1="192.2" x2="521.6" y2="192.2" stroke="#ee0000" stroke-width="1.6"/>
<line x1="574.4" y1="250.3" x2="574.9" y2="245.9" stroke="#8ad67a" stroke-width="1.6"/>
<line x1="574.9" y1="245.9" x2="575.1" y2="244.3" stroke="#ee0000" stroke-width="1.6"/>
<line x1="608.8" y1="237.8" x2="599.8" y2="232.7" stroke="#e8a000" stroke-width="1.6"/>
<line x1="599.8" y1="232.7" x2="593.5" y2="229.2" stroke="#ee0000" stroke-width="1.6"/>
<line x1="615.4" y1="279.0" x2="616.0" y2="289.2" stroke="#8ad67a" stroke-width="1.6"/>
<line x1="616.0" y1="289.2" x2="616.5" y2="296.8" stroke="#ee0000" stroke-width="1.6"/>
<line x1="514.7" y1="40.6" x2="519.1" y2="47.7" stroke="#8ad67a" stroke-width="1.6"/>
<line x1="519.1" y1="47.7" x2="522.1" y2="52.5" stroke="#ee0000" stroke-width="1.6"/>
<line x1="526.8" y1="272.0" x2="533.2" y2="272.3" stroke="#8ad67a" stroke-width="1.6"/>
<line x1="533.2" y1="272.3" x2="536.9" y2="272.5" stroke="#ee0000" stroke-width="1.6"/>
<line x1="540.3" y1="255.1" x2="533.8" y2="257.6" stroke="#8ad67a" stroke-width="1.6"/>
<line x1="533.8" y1="257.6" x2="529.8" y2="259.1" stroke="#ee0000" stroke-width="1.6"/>
<line x1="607.9" y1="209.0" x2="605.4" y2="209.6" stroke="#8ad67a" stroke-width="1.6"/>
<line x1="605.4" y1="209.6" x2="604.8" y2="209.7" stroke="#ee0000" stroke-width="1.6"/>
<line x1="528.9" y1="92.2" x2="523.8" y2="91.3" stroke="#8ad67a" stroke-width="1.6"/>
<line x1="523.8" y1="91.3" x2="521.3" y2="90.9" stroke="#ee0000" stroke-width="1.6"/>
<line x1="569.7" y1="256.7" x2="574.2" y2="259.5" stroke="#8ad67a" stroke-width="1.6"/>
<line x1="574.2" y1="259.5" x2="576.4" y2="260.8" stroke="#ee0000" stroke-width="1.6"/>
<line x1="622.7" y1="41.7" x2="614.7" y2="45.7" stroke="#8ad67a" stroke-width="1.6"/>
<line x1="614.7" y1="45.7" x2="609.1" y2="48.5" stroke="#ee0000" stroke-width="1.6"/>
<line x1="581.0" y1="120.2" x2="573.9" y2="118.3" stroke="#8ad67a" stroke-width="1.6"/>
<line x1="573.9" y1="118.3" x2="569.3" y2="117.2" stroke="#ee0000" stroke-width="1.6"/>
<line x1="570.3" y1="254.9" x2="575.2" y2="257.2" stroke="#8ad67a" stroke-width="1.6"/>
<line x1="575.2" y1="257.2" x2="577.6" y2="258.4" stroke="#ee0000" stroke-width="1.6"/>
<line x1="524.9" y1="172.0" x2="524.1" y2="169.0" stroke="#8ad67a" stroke-width="1.6"/>
<line x1="524.1" y1="169.0" x2="523.9" y2="168.2" stroke="#ee0000" stroke-width="1.6"/>
<line x1="569.3" y1="20.3" x2="569.4" y2="20.9" stroke="#8ad67a" stroke-width="1.6"/>
<line x1="569.4" y1="20.9" x2="569.5" y2="21.0" stroke="#ee0000" stroke-width="1.6"/>
<line x1="599.4" y1="110.5" x2="594.1" y2="113.0" stroke="#8ad67a" stroke-width="1.6"/>
<line x1="594.1" y1="113.0" x2="591.3" y2="114.3" stroke="#ee0000" stroke-width="1.6"/>
<line x1="518.5" y1="192.4" x2="514.9" y2="200.0" stroke="#8ad67a" stroke-width="1.6"/>
<line x1="514.9" y1="200.0" x2="512.4" y2="205.2" stroke="#ee0000" stroke-width="1.6"/>
<line x1="618.5" y1="146.1" x2="623.3" y2="139.1" stroke="#8ad67a" stroke-width="1.6"/>
<line x1="623.3" y1="139.1" x2="626.5" y2="134.4" stroke="#ee0000" stroke-width="1.6"/>
<line x1="508.9" y1="204.1" x2="514.3" y2="209.1" stroke="#8ad67a" stroke-width="1.6"/>
<line x1="514.3" y1="209.1" x2="517.6" y2="212.2" stroke="#ee0000" stroke-width="1.6"/>
<line x1="623.8" y1="97.8" x2="619.9" y2="102.6" stroke="#8ad67a" stroke-width="1.6"/>
<line x1="619.9" y1="102.6" x2="617.7" y2="105.4" stroke="#ee0000" stroke-width="1.6"/>
<line x1="624.8" y1="24.6" x2="618.0" y2="26.9" stroke="#8ad67a" stroke-width="1.6"/>
<line x1="618.0" y1="26.9" x2="613.7" y2="28.4" stroke="#ee0000" stroke-width="1.6"/>
<line x1="606.7" y1="54.5" x2="604.5" y2="53.5" stroke="#8ad67a" stroke-width="1.6"/>
<line x1="604.5" y1="53.5" x2="603.9" y2="53.2" stroke="#ee0000" stroke-width="1.6"/>
<line x1="502.1" y1="79.5" x2="506.9" y2="89.5" stroke="#8ad67a" stroke-width="1.6"/>
<line x1="506.9" y1="89.5" x2="510.6" y2="97.0" stroke="#ee0000" stroke-width="1.6"/>
<line x1="613.1" y1="225.0" x2="611.5" y2="240.1" stroke="#0000e6" stroke-width="1.6"/>
<line x1="611.5" y1="240.1" x2="610.3" y2="251.3" stroke="#ee0000" stroke-width="1.6"/>
<line x1="511.2" y1="188.7" x2="511.9" y2="198.3" stroke="#8ad67a" stroke-width="1.6"/>
<line x1="511.9" y1="198.3" x2="512.4" y2="205.2" stroke="#ee0000" stroke-width="1.6"/>
<line x1="535.6" y1="147.5" x2="534.8" y2="158.7" stroke="#0000e6" stroke-width="1.6"/>
<line x1="534.8" y1="158.7" x2="534.3" y2="166.0" stroke="#ee0000" stroke-width="1.6"/>
<line x1="559.0" y1="170.5" x2="555.6" y2="167.3" stroke="#8ad67a" stroke-width="1.6"/>
<line x1="555.6" y1="167.3" x2="554.2" y2="165.9" stroke="#ee0000" stroke-width="1.6"/>
<line x1="618.5" y1="146.1" x2="609.8" y2="138.7" stroke="#8ad67a" stroke-width="1.6"/>
<line x1="609.8" y1="138.7" x2="603.1" y2="133.1" stroke="#ee0000" stroke-width="1.6"/>
<line x1="536.2" y1="30.0" x2="550.1" y2="23.9" stroke="#0000e6" stroke-width="1.6"/>
<line x1="550.1" y1="23.9" x2="560.3" y2="19.3" stroke="#ee0000" stroke-width="1.6"/>
<line x1="513.4" y1="235.5" x2="514.4" y2="232.4" stroke="#8ad67a" stroke-width="1.6"/>
<line x1="514.4" y1="232.4" x2="514.6" y2="231.6" stroke="#ee0000" stroke-width="1.6"/>
<line x1="548.4" y1="125.6" x2="541.6" y2="131.4" stroke="#e8a000" stroke-width="1.6"/>
<line x1="541.6" y1="131.4" x2="537.3" y2="135.1" stroke="#ee0000" stroke-width="1.6"/>
<line x1="567.1" y1="272.0" x2="575.5" y2="286.0" stroke="#0000e6" stroke-width="1.6"/>
<line x1="575.5" y1="286.0" x2="581.9" y2="296.6" stroke="#ee0000" stroke-width="1.6"/>
<line x1="528.8" y1="95.1" x2="529.6" y2="89.8" stroke="#8ad67a" stroke-width="1.6"/>
<line x1="529.6" y1="89.8" x2="530.0" y2="87.1" stroke="#ee0000" stroke-width="1.6"/>
<line x1="613.1" y1="147.5" x2="610.4" y2="142.3" stroke="#8ad67a" stroke-width="1.6"/>
<line x1="610.4" y1="142.3" x2="608.9" y2="139.5" stroke="#ee0000" stroke-width="1.6"/>
<line x1="606.7" y1="54.5" x2="605.6" y2="48.5" stroke="#8ad67a" stroke-width="1.6"/>
<line x1="605.6" y1="48.5" x2="605.0" y2="45.1" stroke="#ee0000" stroke-width="1.6"/>
<line x1="563.4" y1="269.8" x2="561.3" y2="266.0" stroke="#0000e6" stroke-width="1.6"/>
<line x1="561.3" y1="266.0" x2="560.8" y2="265.0" stroke="#ee0000" stroke-width="1.6"/>
<line x1="588.5" y1="69.4" x2="588.9" y2="73.6" stroke="#8ad67a" stroke-width="1.6"/>
<line x1="588.9" y1="73.6" x2="589.1" y2="75.1" stroke="#ee0000" stroke-width="1.6"/>
<line x1="627.0" y1="250.6" x2="617.3" y2="251.0" stroke="#8ad67a" stroke-width="1.6"/>
<line x1="617.3" y1="251.0" x2="610.3" y2="251.3" stroke="#ee0000" stroke-width="1.6"/>
<line x1="568.6" y1="289.0" x2="570.8" y2="293.6" stroke="#88d878" stroke-width="1.6"/>
<line x1="570.8" y1="293.6" x2="571.9" y2="295.7" stroke="#ee0000" stroke-width="1.6"/>
<line x1="590.6" y1="49.1" x2="589.2" y2="55.7" stroke="#8ad67a" stroke-width="1.6"/>
<line x1="589.2" y1="55.7" x2="588.3" y2="59.7" stroke="#ee0000" stroke-width="1.6"/>
<line x1="523.8" y1="76.4" x2="524.7" y2="82.9" stroke="#8ad67a" stroke-width="1.6"/>
<line x1="524.7" y1="82.9" x2="525.2" y2="86.7" stroke="#ee0000" stroke-width="1.6"/>
<line x1="590.6" y1="101.0" x2="593.6" y2="95.9" stroke="#8ad67a" stroke-width="1.6"/>
<line x1="593.6" y1="95.9" x2="595.2" y2="93.2" stroke="#ee0000" stroke-width="1.6"/>
<line x1="580.0" y1="150.7" x2="585.4" y2="152.4" stroke="#e8a000" stroke-width="1.6"/>
<line x1="585.4" y1="152.4" x2="587.8" y2="153.2" stroke="#ee0000" stroke-width="1.6"/>
<line x1="622.7" y1="245.3" x2="614.2" y2="251.1" stroke="#8ad67a" stroke-width="1.6"/>
<line x1="614.2" y1="251.1" x2="607.9" y2="255.5" stroke="#ee0000" stroke-width="1.6"/>
<line x1="624.8" y1="50.2" x2="615.6" y2="49.2" stroke="#8ad67a" stroke-width="1.6"/>
<line x1="615.6" y1="49.2" x2="609.1" y2="48.5" stroke="#ee0000" stroke-width="1.6"/>
<line x1="587.4" y1="72.1" x2="588.5" y2="69.9" stroke="#8ad67a" stroke-width="1.6"/>
<line x1="588.5" y1="69.9" x2="588.8" y2="69.4" stroke="#ee0000" stroke-width="1.6"/>
<line x1="588.5" y1="69.4" x2="589.3" y2="73.2" stroke="#8ad67a" stroke-width="1.6"/>
<line x1="589.3" y1="73.2" x2="589.6" y2="74.4" stroke="#ee0000" stroke-width="1.6"/>
<line x1="578.9" y1="212.1" x2="577.8" y2="203.8" stroke="#e8a000" stroke-width="1.6"/>
<line x1="577.8" y1="203.8" x2="577.2" y2="198.7" stroke="#ee0000" stroke-width="1.6"/>
<line x1="537.7" y1="109.5" x2="537.7" y2="105.0" stroke="#8ad67a" stroke-width="1.6"/>
<line x1="537.7" y1="105.0" x2="537.7" y2="103.1" stroke="#ee0000" stroke-width="1.6"/>
<line x1="565.5" y1="174.2" x2="558.7" y2="178.2" stroke="#8ad67a" stroke-width="1.6"/>
<line x1="558.7" y1="178.2" x2="554.1" y2="180.9" stroke="#ee0000" stroke-width="1.6"/>
<line x1="505.0" y1="62.3" x2="511.5" y2="58.1" stroke="#8ad67a" stroke-width="1.6"/>
<line x1="511.5" y1="58.1" x2="515.8" y2="55.4" stroke="#ee0000" stroke-width="1.6"/>
<line x1="568.6" y1="289.0" x2="570.8" y2="292.9" stroke="#8ad67a" stroke-width="1.6"/>
<line x1="570.8" y1="292.9" x2="571.6" y2="294.4" stroke="#ee0000" stroke-width="1.6"/>
<line x1="518.5" y1="149.6" x2="519.4" y2="158.9" stroke="#e8a000" stroke-width="1.6"/>
<line x1="519.4" y1="158.9" x2="519.9" y2="165.1" stroke="#ee0000" stroke-width="1.6"/>
<line x1="609.7" y1="191.9" x2="617.5" y2="188.8" stroke="#8ad67a" stroke-width="1.6"/>
<line x1="617.5" y1="188.8" x2="622.9" y2="186.8" stroke="#ee0000" stroke-width="1.6"/>
<line x1="627.0" y1="121.3" x2="628.3" y2="125.4" stroke="#8ad67a" stroke-width="1.6"/>
<line x1="628.3" y1="125.4" x2="628.8" y2="127.0" stroke="#ee0000" stroke-width="1.6"/>
<line x1="532.6" y1="181.3" x2="533.6" y2="172.3" stroke="#8ad67a" stroke-width="1.6"/>
<line x1="533.6" y1="172.3" x2="534.3" y2="166.0" stroke="#ee0000" stroke-width="1.6"/>
<line x1="617.6" y1="78.0" x2="610.2" y2="79.3" stroke="#8ad67a" stroke-width="1.6"/>
<line x1="610.2" y1="79.3" x2="605.6" y2="80.0" stroke="#ee0000" stroke-width="1.6"/>
<line x1="534.4" y1="239.2" x2="533.7" y2="232.0" stroke="#8ad67a" stroke-width="1.6"/>
<line x1="533.7" y1="232.0" x2="533.2" y2="227.5" stroke="#ee0000" stroke-width="1.6"/>
<line x1="510.7" y1="84.4" x2="504.7" y2="85.5" stroke="#8ad67a" stroke-width="1.6"/>
<line x1="504.7" y1="85.5" x2="501.5" y2="86.1" stroke="#ee0000" stroke-width="1.6"/>
<line x1="537.4" y1="276.7" x2="533.3" y2="282.9" stroke="#8ad67a" stroke-width="1.6"/>
<line x1="533.3" y1="282.9" x2="530.7" y2="286.8" stroke="#ee0000" stroke-width="1.6"/>
<line x1="607.7" y1="244.2" x2="603.7" y2="247.4" stroke="#e8a000" stroke-width="1.6"/>
<line x1="603.7" y1="247.4" x2="602.2" y2="248.5" stroke="#ee0000" stroke-width="1.6"/>
<line x1="516.4" y1="208.4" x2="513.2" y2="205.9" stroke="#e8a000" stroke-width="1.6"/>
<line x1="513.2" y1="205.9" x2="512.4" y2="205.2" stroke="#ee0000" stroke-width="1.6"/>
<line x1="605.6" y1="172.0" x2="600.6" y2="169.2" stroke="#8ad67a" stroke-width="1.6"/>
<line x1="600.6" y1="169.2" x2="598.0" y2="167.7" stroke="#ee0000" stroke-width="1.6"/>
<line x1="578.9" y1="92.4" x2="574.0" y2="86.3" stroke="#e8a000" stroke-width="1.6"/>
<line x1="574.0" y1="86.3" x2="571.2" y2="82.7" stroke="#ee0000" stroke-width="1.6"/>
<line x1="584.4" y1="185.0" x2="578.5" y2="186.9" stroke="#8ad67a" stroke-width="1.6"/>
<line x1="578.5" y1="186.9" x2="575.2" y2="187.9" stroke="#ee0000" stroke-width="1.6"/>
<line x1="514.6" y1="282.2" x2="513.5" y2="290.1" stroke="#8ad67a" stroke-width="1.6"/>
<line x1="513.5" y1="290.1" x2="512.7" y2="295.4" stroke="#ee0000" stroke-width="1.6"/>
<line x1="565.5" y1="202.0" x2="573.2" y2="206.7" stroke="#8ad67a" stroke-width="1.6"/>
<line x1="573.2" y1="206.7" x2="578.6" y2="209.9" stroke="#ee0000" stroke-width="1.6"/>
<line x1="517.4" y1="179.5" x2="528.1" y2="178.5" stroke="#0000e6" stroke-width="1.6"/>
<line x1="528.1" y1="178.5" x2="534.8" y2="177.8" stroke="#ee0000" stroke-width="1.6"/>
<line x1="505.0" y1="62.3" x2="509.6" y2="69.2" stroke="#8ad67a" stroke-width="1.6"/>
<line x1="509.6" y1="69.2" x2="512.7" y2="73.8" stroke="#ee0000" stroke-width="1.6"/>
<line x1="584.4" y1="185.0" x2="588.8" y2="185.1" stroke="#8ad67a" stroke-width="1.6"/>
<line x1="588.8" y1="185.1" x2="590.6" y2="185.1" stroke="#ee0000" stroke-width="1.6"/>
<line x1="528.8" y1="95.1" x2="523.9" y2="92.4" stroke="#8ad67a" stroke-width="1.6"/>
<line x1="523.9" y1="92.4" x2="521.3" y2="90.9" stroke="#ee0000" stroke-width="1.6"/>
<line x1="582.0" y1="62.0" x2="587.0" y2="60.2" stroke="#0000e6" stroke-width="1.6"/>
<line x1="587.0" y1="60.2" x2="588.3" y2="59.7" stroke="#ee0000" stroke-width="1.6"/>
<line x1="592.8" y1="151.8" x2="584.7" y2="148.3" stroke="#8ad67a" stroke-width="1.6"/>
<line x1="584.7" y1="148.3" x2="579.2" y2="145.8" stroke="#ee0000" stroke-width="1.6"/>
<line x1="528.5" y1="127.5" x2="529.1" y2="123.4" stroke="#8ad67a" stroke-width="1.6"/>
<line x1="529.1" y1="123.4" x2="529.2" y2="122.0" stroke="#ee0000" stroke-width="1.6"/>
<line x1="536.2" y1="30.0" x2="533.6" y2="14.7" stroke="#0000e6" stroke-width="1.6"/>
<line x1="533.6" y1="14.7" x2="531.7" y2="3.3" stroke="#ee0000" stroke-width="1.6"/>
<line x1="518.4" y1="32.3" x2="517.0" y2="21.8" stroke="#e8a000" stroke-width="1.6"/>
<line x1="517.0" y1="21.8" x2="516.1" y2="14.5" stroke="#ee0000" stroke-width="1.6"/>
<line x1="509.5" y1="274.5" x2="508.8" y2="268.2" stroke="#8ad67a" stroke-width="1.6"/>
<line x1="508.8" y1="268.2" x2="508.4" y2="264.5" stroke="#ee0000" stroke-width="1.6"/>
<line x1="506.8" y1="121.3" x2="509.1" y2="127.7" stroke="#8ad67a" stroke-width="1.6"/>
<line x1="509.1" y1="127.7" x2="510.5" y2="131.6" stroke="#ee0000" stroke-width="1.6"/>
<line x1="549.5" y1="243.1" x2="557.6" y2="239.6" stroke="#e8a000" stroke-width="1.6"/>
<line x1="557.6" y1="239.6" x2="562.8" y2="237.4" stroke="#ee0000" stroke-width="1.6"/>
<line x1="558.0" y1="109.5" x2="554.7" y2="113.9" stroke="#8ad67a" stroke-width="1.6"/>
<line x1="554.7" y1="113.9" x2="553.1" y2="116.1" stroke="#ee0000" stroke-width="1.6"/>
<line x1="524.9" y1="249.5" x2="522.6" y2="247.6" stroke="#8ad67a" stroke-width="1.6"/>
<line x1="522.6" y1="247.6" x2="522.1" y2="247.1" stroke="#ee0000" stroke-width="1.6"/>
<line x1="505.7" y1="179.5" x2="508.2" y2="186.5" stroke="#8ad67a" stroke-width="1.6"/>
<line x1="508.2" y1="186.5" x2="509.7" y2="190.9" stroke="#ee0000" stroke-width="1.6"/>
<line x1="590.6" y1="166.7" x2="585.5" y2="171.8" stroke="#8ad67a" stroke-width="1.6"/>
<line x1="585.5" y1="171.8" x2="582.4" y2="175.0" stroke="#ee0000" stroke-width="1.6"/>
<line x1="609.7" y1="191.9" x2="613.4" y2="190.0" stroke="#8ad67a" stroke-width="1.6"/>
<line x1="613.4" y1="190.0" x2="614.8" y2="189.3" stroke="#ee0000" stroke-width="1.6"/>
<line x1="519.6" y1="119.1" x2="509.1" y2="109.6" stroke="#0000e6" stroke-width="1.6"/>
<line x1="509.1" y1="109.6" x2="501.5" y2="102.7" stroke="#ee0000" stroke-width="1.6"/>
<line x1="516.9" y1="89.1" x2="522.4" y2="87.5" stroke="#8ad67a" stroke-width="1.6"/>
<line x1="522.4" y1="87.5" x2="525.2" y2="86.7" stroke="#ee0000" stroke-width="1.6"/>
<line x1="501.4" y1="105.3" x2="510.7" y2="117.6" stroke="#0000e6" stroke-width="1.6"/>
<line x1="510.7" y1="117.6" x2="517.6" y2="126.8" stroke="#ee0000" stroke-width="1.6"/>
<line x1="607.7" y1="204.1" x2="610.1" y2="199.5" stroke="#0000e6" stroke-width="1.6"/>
<line x1="610.1" y1="199.5" x2="610.7" y2="198.4" stroke="#ee0000" stroke-width="1.6"/>
<line x1="626.0" y1="206.0" x2="620.7" y2="204.5" stroke="#8ad67a" stroke-width="1.6"/>
<line x1="620.7" y1="204.5" x2="618.0" y2="203.7" stroke="#ee0000" stroke-width="1.6"/>
<line x1="582.0" y1="62.0" x2="572.7" y2="48.8" stroke="#0000e6" stroke-width="1.6"/>
<line x1="572.7" y1="48.8" x2="565.7" y2="38.9" stroke="#ee0000" stroke-width="1.6"/>
<line x1="611.6" y1="48.1" x2="618.4" y2="38.6" stroke="#0000e6" stroke-width="1.6"/>
<line x1="618.4" y1="38.6" x2="622.9" y2="32.4" stroke="#ee0000" stroke-width="1.6"/>
<line x1="607.6" y1="254.5" x2="605.7" y2="258.0" stroke="#8ad67a" stroke-width="1.6"/>
<line x1="605.7" y1="258.0" x2="605.1" y2="259.2" stroke="#ee0000" stroke-width="1.6"/>
<line x1="580.0" y1="150.7" x2="580.3" y2="155.0" stroke="#e8a000" stroke-width="1.6"/>
<line x1="580.3" y1="155.0" x2="580.3" y2="156.1" stroke="#ee0000" stroke-width="1.6"/>
<line x1="569.3" y1="203.0" x2="567.6" y2="210.7" stroke="#8ad67a" stroke-width="1.6"/>
<line x1="567.6" y1="210.7" x2="566.5" y2="215.8" stroke="#ee0000" stroke-width="1.6"/>
<line x1="607.7" y1="253.8" x2="605.8" y2="257.7" stroke="#8ad67a" stroke-width="1.6"/>
<line x1="605.8" y1="257.7" x2="605.1" y2="259.2" stroke="#ee0000" stroke-width="1.6"/>
<line x1="563.4" y1="152.8" x2="551.3" y2="163.0" stroke="#0000e6" stroke-width="1.6"/>
<line x1="551.3" y1="163.0" x2="542.3" y2="170.7" stroke="#ee0000" stroke-width="1.6"/>
<line x1="568.2" y1="86.0" x2="571.3" y2="85.9" stroke="#8ad67a" stroke-width="1.6"/>
<line x1="571.3" y1="85.9" x2="572.1" y2="85.8" stroke="#ee0000" stroke-width="1.6"/>
<line x1="582.0" y1="62.0" x2="569.5" y2="71.2" stroke="#0000e6" stroke-width="1.6"/>
<line x1="569.5" y1="71.2" x2="560.2" y2="78.0" stroke="#ee0000" stroke-width="1.6"/>
<line x1="505.7" y1="179.5" x2="512.1" y2="173.2" stroke="#8ad67a" stroke-width="1.6"/>
<line x1="512.1" y1="173.2" x2="516.6" y2="168.8" stroke="#ee0000" stroke-width="1.6"/>
<line x1="618.5" y1="146.1" x2="616.3" y2="150.6" stroke="#8ad67a" stroke-width="1.6"/>
<line x1="616.3" y1="150.6" x2="615.3" y2="152.6" stroke="#ee0000" stroke-width="1.6"/>
<line x1="547.4" y1="283.4" x2="546.5" y2="285.4" stroke="#8ad67a" stroke-width="1.6"/>
<line x1="546.5" y1="285.4" x2="546.3" y2="285.9" stroke="#ee0000" stroke-width="1.6"/>
<line x1="613.1" y1="107.4" x2="602.9" y2="117.0" stroke="#0000e6" stroke-width="1.6"/>
<line x1="602.9" y1="117.0" x2="595.5" y2="123.9" stroke="#ee0000" stroke-width="1.6"/>
<line x1="569.3" y1="223.9" x2="568.3" y2="229.3" stroke="#8ad67a" stroke-width="1.6"/>
<line x1="568.3" y1="229.3" x2="567.8" y2="232.0" stroke="#ee0000" stroke-width="1.6"/>
<line x1="514.6" y1="282.2" x2="511.8" y2="287.7" stroke="#8ad67a" stroke-width="1.6"/>
<line x1="511.8" y1="287.7" x2="510.2" y2="290.9" stroke="#ee0000" stroke-width="1.6"/>
<line x1="518.5" y1="278.4" x2="521.8" y2="288.0" stroke="#e8a000" stroke-width="1.6"/>
<line x1="521.8" y1="288.0" x2="524.0" y2="294.6" stroke="#ee0000" stroke-width="1.6"/>
<line x1="622.9" y1="150.8" x2="617.7" y2="152.0" stroke="#8ad67a" stroke-width="1.6"/>
<line x1="617.7" y1="152.0" x2="615.3" y2="152.6" stroke="#ee0000" stroke-width="1.6"/>
<line x1="559.0" y1="85.0" x2="561.2" y2="88.6" stroke="#8ad67a" stroke-width="1.6"/>
<line x1="561.2" y1="88.6" x2="562.0" y2="89.9" stroke="#ee0000" stroke-width="1.6"/>
<line x1="518.0" y1="42.0" x2="522.1" y2="48.7" stroke="#e8a000" stroke-width="1.6"/>
<line x1="522.1" y1="48.7" x2="524.6" y2="52.6" stroke="#ee0000" stroke-width="1.6"/>
<line x1="546.3" y1="165.6" x2="539.2" y2="165.3" stroke="#8ad67a" stroke-width="1.6"/>
<line x1="539.2" y1="165.3" x2="534.7" y2="165.0" stroke="#ee0000" stroke-width="1.6"/>
<line x1="611.6" y1="48.1" x2="615.5" y2="36.0" stroke="#0000e6" stroke-width="1.6"/>
<line x1="615.5" y1="36.0" x2="618.2" y2="27.7" stroke="#ee0000" stroke-width="1.6"/>
<line x1="607.7" y1="136.2" x2="604.3" y2="133.9" stroke="#8ad67a" stroke-width="1.6"/>
<line x1="604.3" y1="133.9" x2="603.1" y2="133.1" stroke="#ee0000" stroke-width="1.6"/>
<line x1="627.0" y1="196.6" x2="624.4" y2="190.4" stroke="#8ad67a" stroke-width="1.6"/>
<line x1="624.4" y1="190.4" x2="622.9" y2="186.8" stroke="#ee0000" stroke-width="1.6"/>
<line x1="572.5" y1="141.3" x2="569.3" y2="143.5" stroke="#8ad67a" stroke-width="1.6"/>
<line x1="569.3" y1="143.5" x2="568.3" y2="144.1" stroke="#ee0000" stroke-width="1.6"/>
<line x1="577.2" y1="101.3" x2="580.8" y2="108.2" stroke="#8ad67a" stroke-width="1.6"/>
<line x1="580.8" y1="108.2" x2="583.1" y2="112.8" stroke="#ee0000" stroke-width="1.6"/>
<line x1="590.6" y1="49.1" x2="585.0" y2="46.5" stroke="#8ad67a" stroke-width="1.6"/>
<line x1="585.0" y1="46.5" x2="581.8" y2="45.0" stroke="#ee0000" stroke-width="1.6"/>
<line x1="541.7" y1="84.7" x2="537.7" y2="85.0" stroke="#8ad67a" stroke-width="1.6"/>
<line x1="537.7" y1="85.0" x2="536.4" y2="85.1" stroke="#ee0000" stroke-width="1.6"/>
<line x1="541.7" y1="84.7" x2="549.2" y2="84.4" stroke="#8ad67a" stroke-width="1.6"/>
<line x1="549.2" y1="84.4" x2="554.1" y2="84.3" stroke="#ee0000" stroke-width="1.6"/>
<line x1="572.5" y1="246.6" x2="575.4" y2="253.5" stroke="#8ad67a" stroke-width="1.6"/>
<line x1="575.4" y1="253.5" x2="577.3" y2="257.9" stroke="#ee0000" stroke-width="1.6"/>
<line x1="548.4" y1="177.4" x2="544.3" y2="172.8" stroke="#e8a000" stroke-width="1.6"/>
<line x1="544.3" y1="172.8" x2="542.3" y2="170.7" stroke="#ee0000" stroke-width="1.6"/>
<line x1="616.3" y1="277.3" x2="616.4" y2="288.4" stroke="#8ad67a" stroke-width="1.6"/>
<line x1="616.4" y1="288.4" x2="616.5" y2="296.8" stroke="#ee0000" stroke-width="1.6"/>
<line x1="575.7" y1="241.0" x2="579.7" y2="235.2" stroke="#0000e6" stroke-width="1.6"/>
<line x1="579.7" y1="235.2" x2="581.4" y2="232.7" stroke="#ee0000" stroke-width="1.6"/>
<line x1="548.4" y1="177.4" x2="552.6" y2="180.0" stroke="#e8a000" stroke-width="1.6"/>
<line x1="552.6" y1="180.0" x2="554.1" y2="180.9" stroke="#ee0000" stroke-width="1.6"/>
<line x1="603.5" y1="106.3" x2="602.1" y2="110.1" stroke="#8ad67a" stroke-width="1.6"/>
<line x1="602.1" y1="110.1" x2="601.7" y2="111.3" stroke="#ee0000" stroke-width="1.6"/>
<line x1="526.0" y1="87.9" x2="522.0" y2="87.0" stroke="#8ad67a" stroke-width="1.6"/>
<line x1="522.0" y1="87.0" x2="520.6" y2="86.7" stroke="#ee0000" stroke-width="1.6"/>
<line x1="518.0" y1="42.0" x2="518.6" y2="50.1" stroke="#e8a000" stroke-width="1.6"/>
<line x1="518.6" y1="50.1" x2="519.0" y2="55.1" stroke="#ee0000" stroke-width="1.6"/>
<line x1="513.9" y1="103.9" x2="510.2" y2="101.6" stroke="#8ad67a" stroke-width="1.6"/>
<line x1="510.2" y1="101.6" x2="508.8" y2="100.8" stroke="#ee0000" stroke-width="1.6"/>
<line x1="520.6" y1="246.3" x2="513.4" y2="257.1" stroke="#0000e6" stroke-width="1.6"/>
<line x1="513.4" y1="257.1" x2="508.4" y2="264.5" stroke="#ee0000" stroke-width="1.6"/>
<line x1="513.9" y1="103.9" x2="513.0" y2="107.4" stroke="#8ad67a" stroke-width="1.6"/>
<line x1="513.0" y1="107.4" x2="512.8" y2="108.3" stroke="#ee0000" stroke-width="1.6"/>
<line x1="607.7" y1="136.2" x2="603.7" y2="131.6" stroke="#8ad67a" stroke-width="1.6"/>
<line x1="603.7" y1="131.6" x2="601.5" y2="129.1" stroke="#ee0000" stroke-width="1.6"/>
<line x1="569.3" y1="100.0" x2="554.4" y2="103.2" stroke="#0000e6" stroke-width="1.6"/>
<line x1="554.4" y1="103.2" x2="543.3" y2="105.6" stroke="#ee0000" stroke-width="1.6"/>
<line x1="579.7" y1="279.0" x2="583.4" y2="284.8" stroke="#e8a000" stroke-width="1.6"/>
<line x1="583.4" y1="284.8" x2="585.3" y2="287.9" stroke="#ee0000" stroke-width="1.6"/>
<line x1="578.9" y1="92.4" x2="572.9" y2="86.9" stroke="#e8a000" stroke-width="1.6"/>
<line x1="572.9" y1="86.9" x2="569.3" y2="83.5" stroke="#ee0000" stroke-width="1.6"/>
<line x1="590.6" y1="166.7" x2="587.3" y2="166.5" stroke="#8ad67a" stroke-width="1.6"/>
<line x1="587.3" y1="166.5" x2="586.5" y2="166.5" stroke="#ee0000" stroke-width="1.6"/>
<line x1="565.5" y1="174.2" x2="562.2" y2="177.2" stroke="#8ad67a" stroke-width="1.6"/>
<line x1="562.2" y1="177.2" x2="561.0" y2="178.4" stroke="#ee0000" stroke-width="1.6"/>
<line x1="580.5" y1="268.3" x2="578.4" y2="261.6" stroke="#e8a000" stroke-width="1.6"/>
<line x1="578.4" y1="261.6" x2="577.3" y2="257.9" stroke="#ee0000" stroke-width="1.6"/>
<line x1="523.8" y1="76.4" x2="517.0" y2="74.8" stroke="#8ad67a" stroke-width="1.6"/>
<line x1="517.0" y1="74.8" x2="512.7" y2="73.8" stroke="#ee0000" stroke-width="1.6"/>
<line x1="511.2" y1="188.7" x2="507.6" y2="178.6" stroke="#8ad67a" stroke-width="1.6"/>
<line x1="507.6" y1="178.6" x2="504.9" y2="171.0" stroke="#ee0000" stroke-width="1.6"/>
<line x1="550.6" y1="77.5" x2="561.8" y2="81.1" stroke="#0000e6" stroke-width="1.6"/>
<line x1="561.8" y1="81.1" x2="569.3" y2="83.5" stroke="#ee0000" stroke-width="1.6"/>
<line x1="505.7" y1="218.5" x2="505.4" y2="212.0" stroke="#8ad67a" stroke-width="1.6"/>
<line x1="505.4" y1="212.0" x2="505.3" y2="208.1" stroke="#ee0000" stroke-width="1.6"/>
<line x1="516.4" y1="208.4" x2="517.4" y2="211.4" stroke="#e8a000" stroke-width="1.6"/>
<line x1="517.4" y1="211.4" x2="517.6" y2="212.2" stroke="#ee0000" stroke-width="1.6"/>
<line x1="624.3" y1="281.2" x2="619.8" y2="290.2" stroke="#8ad67a" stroke-width="1.6"/>
<line x1="619.8" y1="290.2" x2="616.5" y2="296.8" stroke="#ee0000" stroke-width="1.6"/>
<line x1="623.7" y1="187.5" x2="623.1" y2="186.9" stroke="#8ad67a" stroke-width="1.6"/>
<line x1="623.1" y1="186.9" x2="622.9" y2="186.8" stroke="#ee0000" stroke-width="1.6"/>
<line x1="518.0" y1="42.0" x2="512.2" y2="45.4" stroke="#e8a000" stroke-width="1.6"/>
<line x1="512.2" y1="45.4" x2="509.1" y2="47.2" stroke="#ee0000" stroke-width="1.6"/>
<line x1="611.0" y1="66.2" x2="610.5" y2="57.3" stroke="#e8a000" stroke-width="1.6"/>
<line x1="610.5" y1="57.3" x2="610.2" y2="51.7" stroke="#ee0000" stroke-width="1.6"/>
<line x1="569.3" y1="107.4" x2="577.5" y2="110.6" stroke="#8ad67a" stroke-width="1.6"/>
<line x1="577.5" y1="110.6" x2="583.1" y2="112.8" stroke="#ee0000" stroke-width="1.6"/>
<line x1="548.8" y1="142.8" x2="555.6" y2="141.8" stroke="#8ad67a" stroke-width="1.6"/>
<line x1="555.6" y1="141.8" x2="559.8" y2="141.1" stroke="#ee0000" stroke-width="1.6"/>
<line x1="528.9" y1="92.2" x2="529.8" y2="88.3" stroke="#8ad67a" stroke-width="1.6"/>
<line x1="529.8" y1="88.3" x2="530.0" y2="87.1" stroke="#ee0000" stroke-width="1.6"/>
<line x1="514.7" y1="40.6" x2="511.0" y2="44.9" stroke="#8ad67a" stroke-width="1.6"/>
<line x1="511.0" y1="44.9" x2="509.1" y2="47.2" stroke="#ee0000" stroke-width="1.6"/>
<line x1="538.4" y1="43.3" x2="534.8" y2="46.5" stroke="#8ad67a" stroke-width="1.6"/>
<line x1="534.8" y1="46.5" x2="533.1" y2="48.0" stroke="#ee0000" stroke-width="1.6"/>
<line x1="626.0" y1="206.0" x2="625.0" y2="201.6" stroke="#8ad67a" stroke-width="1.6"/>
<line x1="625.0" y1="201.6" x2="624.6" y2="199.9" stroke="#ee0000" stroke-width="1.6"/>
<line x1="580.5" y1="268.3" x2="588.2" y2="269.4" stroke="#e8a000" stroke-width="1.6"/>
<line x1="588.2" y1="269.4" x2="592.7" y2="270.0" stroke="#ee0000" stroke-width="1.6"/>
<line x1="569.3" y1="175.3" x2="566.4" y2="167.9" stroke="#8ad67a" stroke-width="1.6"/>
<line x1="566.4" y1="167.9" x2="564.5" y2="163.1" stroke="#ee0000" stroke-width="1.6"/>
<line x1="536.2" y1="30.0" x2="544.7" y2="40.4" stroke="#0000e6" stroke-width="1.6"/>
<line x1="544.7" y1="40.4" x2="550.6" y2="47.7" stroke="#ee0000" stroke-width="1.6"/>
<line x1="590.6" y1="49.1" x2="589.2" y2="41.4" stroke="#8ad67a" stroke-width="1.6"/>
<line x1="589.2" y1="41.4" x2="588.3" y2="36.3" stroke="#ee0000" stroke-width="1.6"/>
<line x1="505.0" y1="62.3" x2="507.4" y2="53.4" stroke="#8ad67a" stroke-width="1.6"/>
<line x1="507.4" y1="53.4" x2="509.1" y2="47.2" stroke="#ee0000" stroke-width="1.6"/>
<line x1="622.7" y1="166.7" x2="621.7" y2="160.8" stroke="#8ad67a" stroke-width="1.6"/>
<line x1="621.7" y1="160.8" x2="621.2" y2="157.5" stroke="#ee0000" stroke-width="1.6"/>
<line x1="552.7" y1="146.4" x2="557.4" y2="152.2" stroke="#8ad67a" stroke-width="1.6"/>
<line x1="557.4" y1="152.2" x2="560.5" y2="155.8" stroke="#ee0000" stroke-width="1.6"/>
<line x1="609.9" y1="119.1" x2="614.8" y2="119.9" stroke="#e8a000" stroke-width="1.6"/>
<line x1="614.8" y1="119.9" x2="616.5" y2="120.2" stroke="#ee0000" stroke-width="1.6"/>
<line x1="523.8" y1="193.4" x2="522.1" y2="192.4" stroke="#8ad67a" stroke-width="1.6"/>
<line x1="522.1" y1="192.4" x2="521.6" y2="192.2" stroke="#ee0000" stroke-width="1.6"/>
<line x1="526.0" y1="87.9" x2="525.4" y2="87.0" stroke="#8ad67a" stroke-width="1.6"/>
<line x1="525.4" y1="87.0" x2="525.2" y2="86.7" stroke="#ee0000" stroke-width="1.6"/>
<line x1="616.7" y1="147.2" x2="622.4" y2="139.7" stroke="#8ad67a" stroke-width="1.6"/>
<line x1="622.4" y1="139.7" x2="626.5" y2="134.4" stroke="#ee0000" stroke-width="1.6"/>
<line x1="563.4" y1="269.8" x2="578.5" y2="276.3" stroke="#0000e6" stroke-width="1.6"/>
<line x1="578.5" y1="276.3" x2="590.0" y2="281.3" stroke="#ee0000" stroke-width="1.6"/>
<line x1="569.3" y1="107.4" x2="569.3" y2="113.6" stroke="#8ad67a" stroke-width="1.6"/>
<line x1="569.3" y1="113.6" x2="569.3" y2="117.2" stroke="#ee0000" stroke-width="1.6"/>
<line x1="608.8" y1="237.8" x2="603.3" y2="238.6" stroke="#e8a000" stroke-width="1.6"/>
<line x1="603.3" y1="238.6" x2="601.0" y2="238.9" stroke="#ee0000" stroke-width="1.6"/>
<line x1="581.4" y1="231.2" x2="585.4" y2="225.9" stroke="#8ad67a" stroke-width="1.6"/>
<line x1="585.4" y1="225.9" x2="587.8" y2="222.8" stroke="#ee0000" stroke-width="1.6"/>
<line x1="625.9" y1="113.8" x2="620.8" y2="108.6" stroke="#8ad67a" stroke-width="1.6"/>
<line x1="620.8" y1="108.6" x2="617.7" y2="105.4" stroke="#ee0000" stroke-width="1.6"/>
<line x1="591.7" y1="32.0" x2="584.5" y2="35.3" stroke="#8ad67a" stroke-width="1.6"/>
<line x1="584.5" y1="35.3" x2="579.8" y2="37.4" stroke="#ee0000" stroke-width="1.6"/>
<line x1="581.0" y1="120.2" x2="587.3" y2="116.6" stroke="#8ad67a" stroke-width="1.6"/>
<line x1="587.3" y1="116.6" x2="591.3" y2="114.3" stroke="#ee0000" stroke-width="1.6"/>
<line x1="624.3" y1="281.2" x2="619.8" y2="270.3" stroke="#8ad67a" stroke-width="1.6"/>
<line x1="619.8" y1="270.3" x2="616.2" y2="262.0" stroke="#ee0000" stroke-width="1.6"/>
<line x1="524.9" y1="172.0" x2="530.7" y2="168.3" stroke="#8ad67a" stroke-width="1.6"/>
<line x1="530.7" y1="168.3" x2="534.3" y2="166.0" stroke="#ee0000" stroke-width="1.6"/>
<line x1="567.1" y1="272.0" x2="579.9" y2="263.5" stroke="#0000e6" stroke-width="1.6"/>
<line x1="579.9" y1="263.5" x2="589.4" y2="257.2" stroke="#ee0000" stroke-width="1.6"/>
<line x1="533.5" y1="191.3" x2="539.3" y2="193.1" stroke="#8ad67a" stroke-width="1.6"/>
<line x1="539.3" y1="193.1" x2="542.5" y2="194.1" stroke="#ee0000" stroke-width="1.6"/>
<line x1="581.4" y1="231.2" x2="578.3" y2="225.2" stroke="#8ad67a" stroke-width="1.6"/>
<line x1="578.3" y1="225.2" x2="576.5" y2="221.6" stroke="#ee0000" stroke-width="1.6"/>
<line x1="592.8" y1="279.0" x2="584.0" y2="267.1" stroke="#0000e6" stroke-width="1.6"/>
<line x1="584.0" y1="267.1" x2="577.6" y2="258.4" stroke="#ee0000" stroke-width="1.6"/>
<line x1="624.8" y1="239.9" x2="621.8" y2="249.4" stroke="#8ad67a" stroke-width="1.6"/>
<line x1="621.8" y1="249.4" x2="619.7" y2="256.3" stroke="#ee0000" stroke-width="1.6"/>
<line x1="600.1" y1="95.1" x2="599.1" y2="89.0" stroke="#8ad67a" stroke-width="1.6"/>
<line x1="599.1" y1="89.0" x2="598.6" y2="85.5" stroke="#ee0000" stroke-width="1.6"/>
<line x1="613.1" y1="147.5" x2="618.0" y2="153.5" stroke="#8ad67a" stroke-width="1.6"/>
<line x1="618.0" y1="153.5" x2="621.2" y2="157.5" stroke="#ee0000" stroke-width="1.6"/>
<line x1="613.2" y1="181.9" x2="609.5" y2="180.4" stroke="#8ad67a" stroke-width="1.6"/>
<line x1="609.5" y1="180.4" x2="608.4" y2="180.0" stroke="#ee0000" stroke-width="1.6"/>
<line x1="588.5" y1="190.2" x2="590.0" y2="186.4" stroke="#8ad67a" stroke-width="1.6"/>
<line x1="590.0" y1="186.4" x2="590.6" y2="185.1" stroke="#ee0000" stroke-width="1.6"/>
<line x1="534.4" y1="239.2" x2="529.8" y2="245.6" stroke="#8ad67a" stroke-width="1.6"/>
<line x1="529.8" y1="245.6" x2="526.7" y2="249.8" stroke="#ee0000" stroke-width="1.6"/>
<line x1="551.6" y1="253.8" x2="566.4" y2="256.2" stroke="#0000e6" stroke-width="1.6"/>
<line x1="566.4" y1="256.2" x2="577.3" y2="257.9" stroke="#ee0000" stroke-width="1.6"/>
<line x1="537.4" y1="276.7" x2="538.5" y2="273.8" stroke="#8ad67a" stroke-width="1.6"/>
<line x1="538.5" y1="273.8" x2="538.8" y2="273.0" stroke="#ee0000" stroke-width="1.6"/>
<line x1="613.1" y1="225.0" x2="598.1" y2="222.7" stroke="#0000e6" stroke-width="1.6"/>
<line x1="598.1" y1="222.7" x2="587.0" y2="221.0" stroke="#ee0000" stroke-width="1.6"/>
<line x1="578.9" y1="212.1" x2="578.7" y2="210.4" stroke="#e8a000" stroke-width="1.6"/>
<line x1="578.7" y1="210.4" x2="578.6" y2="209.9" stroke="#ee0000" stroke-width="1.6"/>
<line x1="593.8" y1="42.7" x2="605.4" y2="34.4" stroke="#0000e6" stroke-width="1.6"/>
<line x1="605.4" y1="34.4" x2="613.7" y2="28.4" stroke="#ee0000" stroke-width="1.6"/>
<line x1="569.3" y1="56.6" x2="567.2" y2="55.0" stroke="#8ad67a" stroke-width="1.6"/>
<line x1="567.2" y1="55.0" x2="566.7" y2="54.6" stroke="#ee0000" stroke-width="1.6"/>
<line x1="532.4" y1="96.7" x2="518.9" y2="104.4" stroke="#0000e6" stroke-width="1.6"/>
<line x1="518.9" y1="104.4" x2="508.9" y2="110.2" stroke="#ee0000" stroke-width="1.6"/>
<line x1="501.4" y1="105.3" x2="513.0" y2="96.9" stroke="#0000e6" stroke-width="1.6"/>
<line x1="513.0" y1="96.9" x2="521.3" y2="90.9" stroke="#ee0000" stroke-width="1.6"/>
<line x1="502.8" y1="35.6" x2="507.3" y2="26.6" stroke="#0000e6" stroke-width="1.6"/>
<line x1="507.3" y1="26.6" x2="510.0" y2="21.2" stroke="#ee0000" stroke-width="1.6"/>
<line x1="547.4" y1="283.4" x2="547.5" y2="275.4" stroke="#8ad67a" stroke-width="1.6"/>
<line x1="547.5" y1="275.4" x2="547.6" y2="270.0" stroke="#ee0000" stroke-width="1.6"/>
<line x1="580.0" y1="33.1" x2="585.6" y2="35.3" stroke="#e8a000" stroke-width="1.6"/>
<line x1="585.6" y1="35.3" x2="588.3" y2="36.3" stroke="#ee0000" stroke-width="1.6"/>
<line x1="555.0" y1="31.2" x2="548.0" y2="27.3" stroke="#8ad67a" stroke-width="1.6"/>
<line x1="548.0" y1="27.3" x2="543.4" y2="24.7" stroke="#ee0000" stroke-width="1.6"/>
<line x1="595.2" y1="269.5" x2="593.9" y2="273.7" stroke="#8ad67a" stroke-width="1.6"/>
<line x1="593.9" y1="273.7" x2="593.5" y2="275.3" stroke="#ee0000" stroke-width="1.6"/>
<line x1="561.2" y1="121.3" x2="556.0" y2="118.0" stroke="#8ad67a" stroke-width="1.6"/>
<line x1="556.0" y1="118.0" x2="553.1" y2="116.1" stroke="#ee0000" stroke-width="1.6"/>
<line x1="579.7" y1="279.0" x2="572.3" y2="276.5" stroke="#e8a000" stroke-width="1.6"/>
<line x1="572.3" y1="276.5" x2="567.9" y2="275.1" stroke="#ee0000" stroke-width="1.6"/>
<line x1="506.8" y1="103.0" x2="509.4" y2="98.8" stroke="#8ad67a" stroke-width="1.6"/>
<line x1="509.4" y1="98.8" x2="510.6" y2="97.0" stroke="#ee0000" stroke-width="1.6"/>
<line x1="625.9" y1="113.8" x2="624.0" y2="119.0" stroke="#8ad67a" stroke-width="1.6"/>
<line x1="624.0" y1="119.0" x2="623.0" y2="121.7" stroke="#ee0000" stroke-width="1.6"/>
<line x1="525.0" y1="132.0" x2="520.2" y2="128.6" stroke="#8ad67a" stroke-width="1.6"/>
<line x1="520.2" y1="128.6" x2="517.6" y2="126.8" stroke="#ee0000" stroke-width="1.6"/>
<line x1="580.0" y1="150.7" x2="571.7" y2="149.8" stroke="#e8a000" stroke-width="1.6"/>
<line x1="571.7" y1="149.8" x2="566.6" y2="149.2" stroke="#ee0000" stroke-width="1.6"/>
<line x1="623.7" y1="187.5" x2="624.2" y2="179.8" stroke="#8ad67a" stroke-width="1.6"/>
<line x1="624.2" y1="179.8" x2="624.5" y2="174.8" stroke="#ee0000" stroke-width="1.6"/>
<line x1="625.9" y1="113.8" x2="625.0" y2="109.3" stroke="#8ad67a" stroke-width="1.6"/>
<line x1="625.0" y1="109.3" x2="624.6" y2="107.4" stroke="#ee0000" stroke-width="1.6"/>
<line x1="550.6" y1="77.5" x2="541.3" y2="90.7" stroke="#0000e6" stroke-width="1.6"/>
<line x1="541.3" y1="90.7" x2="534.3" y2="100.6" stroke="#ee0000" stroke-width="1.6"/>
<line x1="564.0" y1="35.6" x2="572.2" y2="22.9" stroke="#0000e6" stroke-width="1.6"/>
<line x1="572.2" y1="22.9" x2="578.3" y2="13.6" stroke="#ee0000" stroke-width="1.6"/>
<line x1="526.0" y1="87.9" x2="529.2" y2="87.2" stroke="#8ad67a" stroke-width="1.6"/>
<line x1="529.2" y1="87.2" x2="530.0" y2="87.1" stroke="#ee0000" stroke-width="1.6"/>
<line x1="518.5" y1="278.4" x2="513.5" y2="286.0" stroke="#e8a000" stroke-width="1.6"/>
<line x1="513.5" y1="286.0" x2="510.2" y2="290.9" stroke="#ee0000" stroke-width="1.6"/>
<line x1="515.3" y1="90.3" x2="510.6" y2="96.3" stroke="#e8a000" stroke-width="1.6"/>
<line x1="510.6" y1="96.3" x2="507.8" y2="99.7" stroke="#ee0000" stroke-width="1.6"/>
<line x1="569.3" y1="136.2" x2="568.6" y2="141.5" stroke="#8ad67a" stroke-width="1.6"/>
<line x1="568.6" y1="141.5" x2="568.3" y2="144.1" stroke="#ee0000" stroke-width="1.6"/>
<line x1="502.5" y1="221.8" x2="515.3" y2="218.7" stroke="#0000e6" stroke-width="1.6"/>
<line x1="515.3" y1="218.7" x2="524.3" y2="216.5" stroke="#ee0000" stroke-width="1.6"/>
<line x1="605.6" y1="77.5" x2="601.2" y2="82.5" stroke="#8ad67a" stroke-width="1.6"/>
<line x1="601.2" y1="82.5" x2="598.6" y2="85.5" stroke="#ee0000" stroke-width="1.6"/>
<line x1="532.6" y1="181.3" x2="536.1" y2="184.9" stroke="#8ad67a" stroke-width="1.6"/>
<line x1="536.1" y1="184.9" x2="537.8" y2="186.6" stroke="#ee0000" stroke-width="1.6"/>
<line x1="535.6" y1="147.5" x2="526.4" y2="157.8" stroke="#0000e6" stroke-width="1.6"/>
<line x1="526.4" y1="157.8" x2="519.9" y2="165.1" stroke="#ee0000" stroke-width="1.6"/>
<line x1="509.5" y1="40.0" x2="513.0" y2="39.5" stroke="#8ad67a" stroke-width="1.6"/>
<line x1="513.0" y1="39.5" x2="513.9" y2="39.4" stroke="#ee0000" stroke-width="1.6"/>
<line x1="607.9" y1="209.0" x2="609.6" y2="202.4" stroke="#8ad67a" stroke-width="1.6"/>
<line x1="609.6" y1="202.4" x2="610.7" y2="198.4" stroke="#ee0000" stroke-width="1.6"/>
<line x1="548.4" y1="60.1" x2="555.5" y2="64.7" stroke="#e8a000" stroke-width="1.6"/>
<line x1="555.5" y1="64.7" x2="559.9" y2="67.6" stroke="#ee0000" stroke-width="1.6"/>
<line x1="564.0" y1="35.6" x2="571.6" y2="42.4" stroke="#0000e6" stroke-width="1.6"/>
<line x1="571.6" y1="42.4" x2="576.2" y2="46.5" stroke="#ee0000" stroke-width="1.6"/>
<line x1="573.5" y1="187.0" x2="577.3" y2="171.7" stroke="#0000e6" stroke-width="1.6"/>
<line x1="577.3" y1="171.7" x2="580.1" y2="160.2" stroke="#ee0000" stroke-width="1.6"/>
<line x1="514.7" y1="40.6" x2="515.3" y2="49.3" stroke="#8ad67a" stroke-width="1.6"/>
<line x1="515.3" y1="49.3" x2="515.8" y2="55.4" stroke="#ee0000" stroke-width="1.6"/>
<line x1="505.0" y1="62.3" x2="510.6" y2="59.8" stroke="#8ad67a" stroke-width="1.6"/>
<line x1="510.6" y1="59.8" x2="513.8" y2="58.5" stroke="#ee0000" stroke-width="1.6"/>
<line x1="532.6" y1="181.3" x2="534.4" y2="178.5" stroke="#8ad67a" stroke-width="1.6"/>
<line x1="534.4" y1="178.5" x2="534.8" y2="177.8" stroke="#ee0000" stroke-width="1.6"/>
<line x1="580.0" y1="208.4" x2="577.9" y2="216.5" stroke="#e8a000" stroke-width="1.6"/>
<line x1="577.9" y1="216.5" x2="576.5" y2="221.6" stroke="#ee0000" stroke-width="1.6"/>
<line x1="524.1" y1="212.3" x2="526.4" y2="206.7" stroke="#8ad67a" stroke-width="1.6"/>
<line x1="526.4" y1="206.7" x2="527.6" y2="203.7" stroke="#ee0000" stroke-width="1.6"/>
<line x1="573.5" y1="187.0" x2="584.6" y2="190.5" stroke="#0000e6" stroke-width="1.6"/>
<line x1="584.6" y1="190.5" x2="591.8" y2="192.8" stroke="#ee0000" stroke-width="1.6"/>
<line x1="506.8" y1="121.3" x2="509.2" y2="116.9" stroke="#8ad67a" stroke-width="1.6"/>
<line x1="509.2" y1="116.9" x2="510.3" y2="114.9" stroke="#ee0000" stroke-width="1.6"/>
<line x1="626.5" y1="252.2" x2="617.4" y2="255.9" stroke="#8ad67a" stroke-width="1.6"/>
<line x1="617.4" y1="255.9" x2="610.8" y2="258.6" stroke="#ee0000" stroke-width="1.6"/>
<line x1="558.0" y1="109.5" x2="549.4" y2="107.2" stroke="#8ad67a" stroke-width="1.6"/>
<line x1="549.4" y1="107.2" x2="543.3" y2="105.6" stroke="#ee0000" stroke-width="1.6"/>
<line x1="578.9" y1="212.1" x2="584.4" y2="218.7" stroke="#e8a000" stroke-width="1.6"/>
<line x1="584.4" y1="218.7" x2="587.8" y2="222.8" stroke="#ee0000" stroke-width="1.6"/>
<line x1="579.4" y1="97.9" x2="588.1" y2="95.9" stroke="#8ad67a" stroke-width="1.6"/>
<line x1="588.1" y1="95.9" x2="594.1" y2="94.6" stroke="#ee0000" stroke-width="1.6"/>
<line x1="569.3" y1="56.6" x2="565.0" y2="60.0" stroke="#8ad67a" stroke-width="1.6"/>
<line x1="565.0" y1="60.0" x2="562.8" y2="61.8" stroke="#ee0000" stroke-width="1.6"/>
<line x1="611.0" y1="184.9" x2="610.0" y2="176.9" stroke="#e8a000" stroke-width="1.6"/>
<line x1="610.0" y1="176.9" x2="609.4" y2="172.1" stroke="#ee0000" stroke-width="1.6"/>
<line x1="622.7" y1="41.7" x2="622.8" y2="35.7" stroke="#8ad67a" stroke-width="1.6"/>
<line x1="622.8" y1="35.7" x2="622.9" y2="32.4" stroke="#ee0000" stroke-width="1.6"/>
<line x1="550.6" y1="195.6" x2="565.9" y2="197.4" stroke="#0000e6" stroke-width="1.6"/>
<line x1="565.9" y1="197.4" x2="577.2" y2="198.7" stroke="#ee0000" stroke-width="1.6"/>
<line x1="609.9" y1="119.1" x2="618.0" y2="120.7" stroke="#e8a000" stroke-width="1.6"/>
<line x1="618.0" y1="120.7" x2="623.0" y2="121.7" stroke="#ee0000" stroke-width="1.6"/>
<line x1="611.0" y1="184.9" x2="616.8" y2="181.6" stroke="#e8a000" stroke-width="1.6"/>
<line x1="616.8" y1="181.6" x2="619.9" y2="179.9" stroke="#ee0000" stroke-width="1.6"/>
<line x1="521.8" y1="28.9" x2="526.3" y2="23.3" stroke="#8ad67a" stroke-width="1.6"/>
<line x1="526.3" y1="23.3" x2="529.2" y2="19.7" stroke="#ee0000" stroke-width="1.6"/>
<line x1="510.7" y1="84.4" x2="516.9" y2="85.8" stroke="#8ad67a" stroke-width="1.6"/>
<line x1="516.9" y1="85.8" x2="520.6" y2="86.7" stroke="#ee0000" stroke-width="1.6"/>
<line x1="625.5" y1="73.0" x2="614.5" y2="68.8" stroke="#8ad67a" stroke-width="1.6"/>
<line x1="614.5" y1="68.8" x2="606.0" y2="65.6" stroke="#ee0000" stroke-width="1.6"/>
<line x1="593.8" y1="42.7" x2="585.0" y2="39.3" stroke="#0000e6" stroke-width="1.6"/>
<line x1="585.0" y1="39.3" x2="579.8" y2="37.4" stroke="#ee0000" stroke-width="1.6"/>
<line x1="519.6" y1="119.1" x2="529.9" y2="128.5" stroke="#0000e6" stroke-width="1.6"/>
<line x1="529.9" y1="128.5" x2="537.3" y2="135.1" stroke="#ee0000" stroke-width="1.6"/>
<line x1="569.3" y1="223.9" x2="571.1" y2="221.6" stroke="#8ad67a" stroke-width="1.6"/>
<line x1="571.1" y1="221.6" x2="571.6" y2="221.0" stroke="#ee0000" stroke-width="1.6"/>
<line x1="590.6" y1="101.0" x2="593.9" y2="108.5" stroke="#8ad67a" stroke-width="1.6"/>
<line x1="593.9" y1="108.5" x2="596.1" y2="113.5" stroke="#ee0000" stroke-width="1.6"/>
<line x1="513.4" y1="235.5" x2="516.9" y2="229.5" stroke="#8ad67a" stroke-width="1.6"/>
<line x1="516.9" y1="229.5" x2="519.1" y2="225.8" stroke="#ee0000" stroke-width="1.6"/>
<line x1="555.0" y1="31.2" x2="559.4" y2="32.0" stroke="#8ad67a" stroke-width="1.6"/>
<line x1="559.4" y1="32.0" x2="561.1" y2="32.3" stroke="#ee0000" stroke-width="1.6"/>
<line x1="573.5" y1="187.0" x2="561.9" y2="183.3" stroke="#0000e6" stroke-width="1.6"/>
<line x1="561.9" y1="183.3" x2="554.1" y2="180.9" stroke="#ee0000" stroke-width="1.6"/>
<line x1="525.0" y1="65.1" x2="526.9" y2="63.8" stroke="#8ad67a" stroke-width="1.6"/>
<line x1="526.9" y1="63.8" x2="527.3" y2="63.5" stroke="#ee0000" stroke-width="1.6"/>
<line x1="580.0" y1="208.4" x2="578.1" y2="202.0" stroke="#e8a000" stroke-width="1.6"/>
<line x1="578.1" y1="202.0" x2="577.2" y2="198.7" stroke="#ee0000" stroke-width="1.6"/>
<line x1="613.0" y1="30.0" x2="602.8" y2="30.8" stroke="#8ad67a" stroke-width="1.6"/>
<line x1="602.8" y1="30.8" x2="595.3" y2="31.4" stroke="#ee0000" stroke-width="1.6"/>
<line x1="608.8" y1="237.8" x2="609.7" y2="246.1" stroke="#e8a000" stroke-width="1.6"/>
<line x1="609.7" y1="246.1" x2="610.3" y2="251.3" stroke="#ee0000" stroke-width="1.6"/>
<line x1="580.5" y1="268.3" x2="581.1" y2="263.8" stroke="#e8a000" stroke-width="1.6"/>
<line x1="581.1" y1="263.8" x2="581.2" y2="262.5" stroke="#ee0000" stroke-width="1.6"/>
<line x1="625.9" y1="76.4" x2="617.5" y2="79.2" stroke="#8ad67a" stroke-width="1.6"/>
<line x1="617.5" y1="79.2" x2="611.7" y2="81.1" stroke="#ee0000" stroke-width="1.6"/>
<line x1="616.5" y1="237.6" x2="611.1" y2="234.7" stroke="#8ad67a" stroke-width="1.6"/>
<line x1="611.1" y1="234.7" x2="608.0" y2="233.1" stroke="#ee0000" stroke-width="1.6"/>
<line x1="548.4" y1="125.6" x2="549.5" y2="136.1" stroke="#e8a000" stroke-width="1.6"/>
<line x1="549.5" y1="136.1" x2="550.3" y2="143.4" stroke="#ee0000" stroke-width="1.6"/>
<line x1="520.6" y1="236.7" x2="521.6" y2="243.9" stroke="#0000e6" stroke-width="1.6"/>
<line x1="521.6" y1="243.9" x2="522.1" y2="247.1" stroke="#ee0000" stroke-width="1.6"/>
<line x1="524.9" y1="249.5" x2="526.4" y2="249.7" stroke="#8ad67a" stroke-width="1.6"/>
<line x1="526.4" y1="249.7" x2="526.7" y2="249.8" stroke="#ee0000" stroke-width="1.6"/>
<line x1="582.0" y1="62.0" x2="595.1" y2="52.4" stroke="#0000e6" stroke-width="1.6"/>
<line x1="595.1" y1="52.4" x2="605.0" y2="45.1" stroke="#ee0000" stroke-width="1.6"/>
<line x1="538.4" y1="43.3" x2="533.0" y2="44.3" stroke="#8ad67a" stroke-width="1.6"/>
<line x1="533.0" y1="44.3" x2="530.3" y2="44.8" stroke="#ee0000" stroke-width="1.6"/>
<line x1="502.8" y1="35.6" x2="515.6" y2="30.4" stroke="#0000e6" stroke-width="1.6"/>
<line x1="515.6" y1="30.4" x2="524.7" y2="26.8" stroke="#ee0000" stroke-width="1.6"/>
<line x1="565.5" y1="202.0" x2="559.6" y2="198.6" stroke="#8ad67a" stroke-width="1.6"/>
<line x1="559.6" y1="198.6" x2="556.0" y2="196.6" stroke="#ee0000" stroke-width="1.6"/>
<line x1="589.4" y1="35.9" x2="588.5" y2="36.2" stroke="#8ad67a" stroke-width="1.6"/>
<line x1="588.5" y1="36.2" x2="588.3" y2="36.3" stroke="#ee0000" stroke-width="1.6"/>
<line x1="513.4" y1="176.5" x2="508.0" y2="173.0" stroke="#8ad67a" stroke-width="1.6"/>
<line x1="508.0" y1="173.0" x2="504.9" y2="171.0" stroke="#ee0000" stroke-width="1.6"/>
<line x1="537.7" y1="109.5" x2="538.9" y2="106.9" stroke="#8ad67a" stroke-width="1.6"/>
<line x1="538.9" y1="106.9" x2="539.2" y2="106.2" stroke="#ee0000" stroke-width="1.6"/>
<line x1="602.4" y1="71.2" x2="600.4" y2="66.8" stroke="#8ad67a" stroke-width="1.6"/>
<line x1="600.4" y1="66.8" x2="599.6" y2="64.8" stroke="#ee0000" stroke-width="1.6"/>
<line x1="608.8" y1="126.6" x2="604.9" y2="131.1" stroke="#e8a000" stroke-width="1.6"/>
<line x1="604.9" y1="131.1" x2="603.1" y2="133.1" stroke="#ee0000" stroke-width="1.6"/>
<line x1="580.0" y1="33.1" x2="582.1" y2="25.3" stroke="#e8a000" stroke-width="1.6"/>
<line x1="582.1" y1="25.3" x2="583.4" y2="20.5" stroke="#ee0000" stroke-width="1.6"/>
<line x1="624.8" y1="24.6" x2="618.4" y2="17.2" stroke="#8ad67a" stroke-width="1.6"/>
<line x1="618.4" y1="17.2" x2="613.7" y2="11.8" stroke="#ee0000" stroke-width="1.6"/>
<line x1="578.9" y1="92.4" x2="582.1" y2="84.7" stroke="#e8a000" stroke-width="1.6"/>
<line x1="582.1" y1="84.7" x2="584.0" y2="80.0" stroke="#ee0000" stroke-width="1.6"/>
<line x1="622.9" y1="150.8" x2="625.0" y2="141.3" stroke="#8ad67a" stroke-width="1.6"/>
<line x1="625.0" y1="141.3" x2="626.5" y2="134.4" stroke="#ee0000" stroke-width="1.6"/>
<line x1="557.5" y1="244.0" x2="560.4" y2="250.3" stroke="#8ad67a" stroke-width="1.6"/>
<line x1="560.4" y1="250.3" x2="562.1" y2="254.0" stroke="#ee0000" stroke-width="1.6"/>
<line x1="505.7" y1="218.5" x2="509.8" y2="222.7" stroke="#8ad67a" stroke-width="1.6"/>
<line x1="509.8" y1="222.7" x2="512.0" y2="225.0" stroke="#ee0000" stroke-width="1.6"/>
<line x1="596.0" y1="213.2" x2="598.9" y2="228.0" stroke="#0000e6" stroke-width="1.6"/>
<line x1="598.9" y1="228.0" x2="601.0" y2="238.9" stroke="#ee0000" stroke-width="1.6"/>
<line x1="518.0" y1="42.0" x2="514.6" y2="40.4" stroke="#e8a000" stroke-width="1.6"/>
<line x1="514.6" y1="40.4" x2="513.8" y2="39.9" stroke="#ee0000" stroke-width="1.6"/>
<line x1="627.0" y1="250.6" x2="622.3" y2="254.3" stroke="#8ad67a" stroke-width="1.6"/>
<line x1="622.3" y1="254.3" x2="619.7" y2="256.3" stroke="#ee0000" stroke-width="1.6"/>
<line x1="528.5" y1="127.5" x2="529.5" y2="124.5" stroke="#8ad67a" stroke-width="1.6"/>
<line x1="529.5" y1="124.5" x2="529.7" y2="123.7" stroke="#ee0000" stroke-width="1.6"/>
<line x1="627.0" y1="176.3" x2="624.5" y2="182.8" stroke="#8ad67a" stroke-width="1.6"/>
<line x1="624.5" y1="182.8" x2="622.9" y2="186.8" stroke="#ee0000" stroke-width="1.6"/>
<line x1="548.4" y1="177.4" x2="556.3" y2="178.0" stroke="#e8a000" stroke-width="1.6"/>
<line x1="556.3" y1="178.0" x2="561.0" y2="178.4" stroke="#ee0000" stroke-width="1.6"/>
<line x1="614.1" y1="203.0" x2="617.2" y2="203.6" stroke="#8ad67a" stroke-width="1.6"/>
<line x1="617.2" y1="203.6" x2="618.0" y2="203.7" stroke="#ee0000" stroke-width="1.6"/>
<line x1="566.0" y1="177.7" x2="562.1" y2="178.2" stroke="#8ad67a" stroke-width="1.6"/>
<line x1="562.1" y1="178.2" x2="561.0" y2="178.4" stroke="#ee0000" stroke-width="1.6"/>
<line x1="506.8" y1="103.0" x2="502.8" y2="102.8" stroke="#8ad67a" stroke-width="1.6"/>
<line x1="502.8" y1="102.8" x2="501.5" y2="102.7" stroke="#ee0000" stroke-width="1.6"/>
<line x1="622.9" y1="150.8" x2="614.8" y2="144.3" stroke="#8ad67a" stroke-width="1.6"/>
<line x1="614.8" y1="144.3" x2="608.9" y2="139.5" stroke="#ee0000" stroke-width="1.6"/>
<line x1="518.5" y1="216.4" x2="514.7" y2="209.4" stroke="#e8a000" stroke-width="1.6"/>
<line x1="514.7" y1="209.4" x2="512.4" y2="205.2" stroke="#ee0000" stroke-width="1.6"/>
<line x1="526.0" y1="215.3" x2="525.4" y2="213.5" stroke="#8ad67a" stroke-width="1.6"/>
<line x1="525.4" y1="213.5" x2="525.2" y2="213.1" stroke="#ee0000" stroke-width="1.6"/>
<line x1="502.1" y1="79.5" x2="501.7" y2="88.7" stroke="#8ad67a" stroke-width="1.6"/>
<line x1="501.7" y1="88.7" x2="501.5" y2="95.2" stroke="#ee0000" stroke-width="1.6"/>
<line x1="565.0" y1="197.2" x2="559.4" y2="191.0" stroke="#8ad67a" stroke-width="1.6"/>
<line x1="559.4" y1="191.0" x2="555.5" y2="186.8" stroke="#ee0000" stroke-width="1.6"/>
<line x1="625.8" y1="275.8" x2="622.3" y2="264.8" stroke="#8ad67a" stroke-width="1.6"/>
<line x1="622.3" y1="264.8" x2="619.7" y2="256.3" stroke="#ee0000" stroke-width="1.6"/>
<line x1="628.0" y1="79.6" x2="618.5" y2="80.5" stroke="#8ad67a" stroke-width="1.6"/>
<line x1="618.5" y1="80.5" x2="611.7" y2="81.1" stroke="#ee0000" stroke-width="1.6"/>
<line x1="625.5" y1="128.3" x2="628.1" y2="127.3" stroke="#8ad67a" stroke-width="1.6"/>
<line x1="628.1" y1="127.3" x2="628.8" y2="127.0" stroke="#ee0000" stroke-width="1.6"/>
<line x1="506.8" y1="239.9" x2="510.4" y2="245.7" stroke="#8ad67a" stroke-width="1.6"/>
<line x1="510.4" y1="245.7" x2="512.6" y2="249.2" stroke="#ee0000" stroke-width="1.6"/>
<line x1="550.6" y1="195.6" x2="554.9" y2="196.4" stroke="#0000e6" stroke-width="1.6"/>
<line x1="554.9" y1="196.4" x2="556.0" y2="196.6" stroke="#ee0000" stroke-width="1.6"/>
<line x1="546.3" y1="165.6" x2="543.5" y2="169.2" stroke="#8ad67a" stroke-width="1.6"/>
<line x1="543.5" y1="169.2" x2="542.3" y2="170.7" stroke="#ee0000" stroke-width="1.6"/>
<line x1="558.0" y1="109.5" x2="559.4" y2="113.3" stroke="#8ad67a" stroke-width="1.6"/>
<line x1="559.4" y1="113.3" x2="559.9" y2="114.7" stroke="#ee0000" stroke-width="1.6"/>
<line x1="618.5" y1="146.1" x2="612.6" y2="142.0" stroke="#8ad67a" stroke-width="1.6"/>
<line x1="612.6" y1="142.0" x2="608.9" y2="139.5" stroke="#ee0000" stroke-width="1.6"/>
<line x1="533.5" y1="76.4" x2="530.9" y2="72.5" stroke="#8ad67a" stroke-width="1.6"/>
<line x1="530.9" y1="72.5" x2="529.8" y2="70.8" stroke="#ee0000" stroke-width="1.6"/>
<line x1="509.5" y1="40.0" x2="513.1" y2="49.0" stroke="#8ad67a" stroke-width="1.6"/>
<line x1="513.1" y1="49.0" x2="515.8" y2="55.4" stroke="#ee0000" stroke-width="1.6"/>
<line x1="611.0" y1="184.9" x2="613.9" y2="193.6" stroke="#e8a000" stroke-width="1.6"/>
<line x1="613.9" y1="193.6" x2="615.9" y2="199.2" stroke="#ee0000" stroke-width="1.6"/>
<line x1="569.3" y1="203.0" x2="575.0" y2="207.3" stroke="#8ad67a" stroke-width="1.6"/>
<line x1="575.0" y1="207.3" x2="578.6" y2="209.9" stroke="#ee0000" stroke-width="1.6"/>
<line x1="516.7" y1="134.4" x2="512.6" y2="134.9" stroke="#8ad67a" stroke-width="1.6"/>
<line x1="512.6" y1="134.9" x2="511.2" y2="135.0" stroke="#ee0000" stroke-width="1.6"/>
<line x1="569.3" y1="56.6" x2="571.6" y2="57.9" stroke="#8ad67a" stroke-width="1.6"/>
<line x1="571.6" y1="57.9" x2="572.1" y2="58.2" stroke="#ee0000" stroke-width="1.6"/>
<line x1="569.3" y1="175.3" x2="563.9" y2="177.3" stroke="#8ad67a" stroke-width="1.6"/>
<line x1="563.9" y1="177.3" x2="561.0" y2="178.4" stroke="#ee0000" stroke-width="1.6"/>
<line x1="563.4" y1="152.8" x2="553.2" y2="140.9" stroke="#0000e6" stroke-width="1.6"/>
<line x1="553.2" y1="140.9" x2="545.6" y2="132.0" stroke="#ee0000" stroke-width="1.6"/>
<line x1="611.0" y1="66.2" x2="611.4" y2="75.3" stroke="#e8a000" stroke-width="1.6"/>
<line x1="611.4" y1="75.3" x2="611.7" y2="81.1" stroke="#ee0000" stroke-width="1.6"/>
<line x1="624.8" y1="214.3" x2="621.8" y2="222.1" stroke="#8ad67a" stroke-width="1.6"/>
<line x1="621.8" y1="222.1" x2="619.7" y2="227.3" stroke="#ee0000" stroke-width="1.6"/>
<line x1="513.0" y1="111.5" x2="509.7" y2="110.4" stroke="#8ad67a" stroke-width="1.6"/>
<line x1="509.7" y1="110.4" x2="508.9" y2="110.2" stroke="#ee0000" stroke-width="1.6"/>
<line x1="622.7" y1="245.3" x2="619.0" y2="254.9" stroke="#8ad67a" stroke-width="1.6"/>
<line x1="619.0" y1="254.9" x2="616.2" y2="262.0" stroke="#ee0000" stroke-width="1.6"/>
<line x1="568.6" y1="40.5" x2="563.9" y2="35.4" stroke="#8ad67a" stroke-width="1.6"/>
<line x1="563.9" y1="35.4" x2="561.1" y2="32.3" stroke="#ee0000" stroke-width="1.6"/>
<line x1="508.9" y1="157.1" x2="506.7" y2="160.1" stroke="#8ad67a" stroke-width="1.6"/>
<line x1="506.7" y1="160.1" x2="506.1" y2="160.9" stroke="#ee0000" stroke-width="1.6"/>
<line x1="522.8" y1="101.0" x2="515.2" y2="98.5" stroke="#e8a000" stroke-width="1.6"/>
<line x1="515.2" y1="98.5" x2="510.6" y2="97.0" stroke="#ee0000" stroke-width="1.6"/>
<line x1="627.0" y1="233.5" x2="616.2" y2="233.3" stroke="#8ad67a" stroke-width="1.6"/>
<line x1="616.2" y1="233.3" x2="608.0" y2="233.1" stroke="#ee0000" stroke-width="1.6"/>
<line x1="618.5" y1="146.1" x2="620.2" y2="153.1" stroke="#8ad67a" stroke-width="1.6"/>
<line x1="620.2" y1="153.1" x2="621.2" y2="157.5" stroke="#ee0000" stroke-width="1.6"/>
<line x1="518.5" y1="278.4" x2="524.9" y2="285.5" stroke="#e8a000" stroke-width="1.6"/>
<line x1="524.9" y1="285.5" x2="529.2" y2="290.3" stroke="#ee0000" stroke-width="1.6"/>
<line x1="568.6" y1="40.5" x2="575.5" y2="38.6" stroke="#8ad67a" stroke-width="1.6"/>
<line x1="575.5" y1="38.6" x2="579.8" y2="37.4" stroke="#ee0000" stroke-width="1.6"/>
<line x1="579.4" y1="97.9" x2="575.1" y2="90.7" stroke="#8ad67a" stroke-width="1.6"/>
<line x1="575.1" y1="90.7" x2="572.1" y2="85.8" stroke="#ee0000" stroke-width="1.6"/>
<line x1="608.7" y1="125.5" x2="613.7" y2="122.1" stroke="#8ad67a" stroke-width="1.6"/>
<line x1="613.7" y1="122.1" x2="616.5" y2="120.2" stroke="#ee0000" stroke-width="1.6"/>
<line x1="518.5" y1="216.4" x2="523.3" y2="214.0" stroke="#e8a000" stroke-width="1.6"/>
<line x1="523.3" y1="214.0" x2="525.2" y2="213.1" stroke="#ee0000" stroke-width="1.6"/>
<line x1="518.5" y1="149.6" x2="524.3" y2="147.4" stroke="#e8a000" stroke-width="1.6"/>
<line x1="524.3" y1="147.4" x2="527.1" y2="146.4" stroke="#ee0000" stroke-width="1.6"/>
<line x1="518.0" y1="42.0" x2="520.7" y2="50.7" stroke="#e8a000" stroke-width="1.6"/>
<line x1="520.7" y1="50.7" x2="522.5" y2="56.4" stroke="#ee0000" stroke-width="1.6"/>
<line x1="591.7" y1="32.0" x2="587.8" y2="26.1" stroke="#8ad67a" stroke-width="1.6"/>
<line x1="587.8" y1="26.1" x2="585.3" y2="22.4" stroke="#ee0000" stroke-width="1.6"/>
<line x1="614.1" y1="86.0" x2="611.3" y2="91.6" stroke="#8ad67a" stroke-width="1.6"/>
<line x1="611.3" y1="91.6" x2="609.7" y2="94.7" stroke="#ee0000" stroke-width="1.6"/>
<line x1="611.0" y1="66.2" x2="607.7" y2="74.6" stroke="#e8a000" stroke-width="1.6"/>
<line x1="607.7" y1="74.6" x2="605.6" y2="80.0" stroke="#ee0000" stroke-width="1.6"/>
<line x1="506.8" y1="121.3" x2="508.1" y2="114.4" stroke="#8ad67a" stroke-width="1.6"/>
<line x1="508.1" y1="114.4" x2="508.9" y2="110.2" stroke="#ee0000" stroke-width="1.6"/>
<line x1="569.3" y1="20.3" x2="571.6" y2="16.7" stroke="#88d878" stroke-width="1.6"/>
<line x1="571.6" y1="16.7" x2="572.5" y2="15.4" stroke="#ee0000" stroke-width="1.6"/>
<line x1="566.2" y1="56.8" x2="567.3" y2="60.7" stroke="#8ad67a" stroke-width="1.6"/>
<line x1="567.3" y1="60.7" x2="567.6" y2="62.0" stroke="#ee0000" stroke-width="1.6"/>
<line x1="526.0" y1="215.3" x2="529.7" y2="220.0" stroke="#8ad67a" stroke-width="1.6"/>
<line x1="529.7" y1="220.0" x2="531.8" y2="222.6" stroke="#ee0000" stroke-width="1.6"/>
<line x1="580.0" y1="33.1" x2="577.7" y2="41.3" stroke="#e8a000" stroke-width="1.6"/>
<line x1="577.7" y1="41.3" x2="576.2" y2="46.5" stroke="#ee0000" stroke-width="1.6"/>
<line x1="513.0" y1="111.5" x2="518.6" y2="113.0" stroke="#8ad67a" stroke-width="1.6"/>
<line x1="518.6" y1="113.0" x2="521.7" y2="113.8" stroke="#ee0000" stroke-width="1.6"/>
<line x1="555.0" y1="22.3" x2="558.8" y2="28.5" stroke="#8ad67a" stroke-width="1.6"/>
<line x1="558.8" y1="28.5" x2="561.1" y2="32.3" stroke="#ee0000" stroke-width="1.6"/>
<line x1="626.0" y1="206.0" x2="618.5" y2="212.1" stroke="#8ad67a" stroke-width="1.6"/>
<line x1="618.5" y1="212.1" x2="613.1" y2="216.4" stroke="#ee0000" stroke-width="1.6"/>
<line x1="522.8" y1="101.0" x2="530.2" y2="100.8" stroke="#e8a000" stroke-width="1.6"/>
<line x1="530.2" y1="100.8" x2="534.3" y2="100.6" stroke="#ee0000" stroke-width="1.6"/>
<line x1="599.4" y1="110.5" x2="594.3" y2="110.3" stroke="#8ad67a" stroke-width="1.6"/>
<line x1="594.3" y1="110.3" x2="592.0" y2="110.2" stroke="#ee0000" stroke-width="1.6"/>
<line x1="625.5" y1="157.5" x2="622.1" y2="157.5" stroke="#8ad67a" stroke-width="1.6"/>
<line x1="622.1" y1="157.5" x2="621.2" y2="157.5" stroke="#ee0000" stroke-width="1.6"/>
<line x1="548.8" y1="142.8" x2="555.0" y2="145.7" stroke="#8ad67a" stroke-width="1.6"/>
<line x1="555.0" y1="145.7" x2="558.7" y2="147.5" stroke="#ee0000" stroke-width="1.6"/>
<line x1="580.0" y1="33.1" x2="575.5" y2="39.5" stroke="#e8a000" stroke-width="1.6"/>
<line x1="575.5" y1="39.5" x2="572.8" y2="43.4" stroke="#ee0000" stroke-width="1.6"/>
<line x1="624.8" y1="146.4" x2="627.1" y2="135.4" stroke="#8ad67a" stroke-width="1.6"/>
<line x1="627.1" y1="135.4" x2="628.8" y2="127.0" stroke="#ee0000" stroke-width="1.6"/>
<line x1="590.6" y1="101.0" x2="591.5" y2="106.9" stroke="#8ad67a" stroke-width="1.6"/>
<line x1="591.5" y1="106.9" x2="592.0" y2="110.2" stroke="#ee0000" stroke-width="1.6"/>
<line x1="580.0" y1="150.7" x2="579.0" y2="159.3" stroke="#e8a000" stroke-width="1.6"/>
<line x1="579.0" y1="159.3" x2="578.4" y2="164.7" stroke="#ee0000" stroke-width="1.6"/>
<line x1="555.1" y1="52.0" x2="551.9" y2="48.9" stroke="#8ad67a" stroke-width="1.6"/>
<line x1="551.9" y1="48.9" x2="550.6" y2="47.7" stroke="#ee0000" stroke-width="1.6"/>
<line x1="518.4" y1="32.3" x2="522.8" y2="28.5" stroke="#e8a000" stroke-width="1.6"/>
<line x1="522.8" y1="28.5" x2="524.7" y2="26.8" stroke="#ee0000" stroke-width="1.6"/>
<line x1="533.5" y1="191.3" x2="540.8" y2="193.4" stroke="#8ad67a" stroke-width="1.6"/>
<line x1="540.8" y1="193.4" x2="545.4" y2="194.7" stroke="#ee0000" stroke-width="1.6"/>
<line x1="627.0" y1="196.6" x2="620.1" y2="198.2" stroke="#8ad67a" stroke-width="1.6"/>
<line x1="620.1" y1="198.2" x2="615.9" y2="199.2" stroke="#ee0000" stroke-width="1.6"/>
<line x1="524.9" y1="172.0" x2="519.5" y2="169.9" stroke="#8ad67a" stroke-width="1.6"/>
<line x1="519.5" y1="169.9" x2="516.6" y2="168.8" stroke="#ee0000" stroke-width="1.6"/>
<line x1="520.6" y1="246.3" x2="533.6" y2="251.4" stroke="#0000e6" stroke-width="1.6"/>
<line x1="533.6" y1="251.4" x2="542.9" y2="255.1" stroke="#ee0000" stroke-width="1.6"/>
<line x1="568.6" y1="40.5" x2="573.5" y2="44.3" stroke="#8ad67a" stroke-width="1.6"/>
<line x1="573.5" y1="44.3" x2="576.2" y2="46.5" stroke="#ee0000" stroke-width="1.6"/>
<line x1="538.8" y1="213.2" x2="533.9" y2="217.6" stroke="#8ad67a" stroke-width="1.6"/>
<line x1="533.9" y1="217.6" x2="530.9" y2="220.3" stroke="#ee0000" stroke-width="1.6"/>
<line x1="548.4" y1="125.6" x2="541.1" y2="127.3" stroke="#e8a000" stroke-width="1.6"/>
<line x1="541.1" y1="127.3" x2="536.9" y2="128.2" stroke="#ee0000" stroke-width="1.6"/>
<line x1="608.7" y1="125.5" x2="600.8" y2="124.6" stroke="#8ad67a" stroke-width="1.6"/>
<line x1="600.8" y1="124.6" x2="595.5" y2="123.9" stroke="#ee0000" stroke-width="1.6"/>
<line x1="582.1" y1="179.5" x2="581.1" y2="165.8" stroke="#0000e6" stroke-width="1.6"/>
<line x1="581.1" y1="165.8" x2="580.3" y2="156.1" stroke="#ee0000" stroke-width="1.6"/>
<line x1="592.8" y1="279.0" x2="593.3" y2="276.0" stroke="#0000e6" stroke-width="1.6"/>
<line x1="593.3" y1="276.0" x2="593.5" y2="275.3" stroke="#ee0000" stroke-width="1.6"/>
<line x1="563.4" y1="152.8" x2="560.9" y2="155.7" stroke="#0000e6" stroke-width="1.6"/>
<line x1="560.9" y1="155.7" x2="560.2" y2="156.4" stroke="#ee0000" stroke-width="1.6"/>
<line x1="538.8" y1="213.2" x2="532.2" y2="207.6" stroke="#8ad67a" stroke-width="1.6"/>
<line x1="532.2" y1="207.6" x2="527.6" y2="203.7" stroke="#ee0000" stroke-width="1.6"/>
<line x1="546.3" y1="165.6" x2="553.1" y2="161.5" stroke="#8ad67a" stroke-width="1.6"/>
<line x1="553.1" y1="161.5" x2="557.5" y2="158.7" stroke="#ee0000" stroke-width="1.6"/>
<line x1="557.0" y1="205.2" x2="550.2" y2="199.0" stroke="#8ad67a" stroke-width="1.6"/>
<line x1="550.2" y1="199.0" x2="545.4" y2="194.7" stroke="#ee0000" stroke-width="1.6"/>
<line x1="614.1" y1="86.0" x2="612.3" y2="82.3" stroke="#8ad67a" stroke-width="1.6"/>
<line x1="612.3" y1="82.3" x2="611.7" y2="81.1" stroke="#ee0000" stroke-width="1.6"/>
<line x1="551.6" y1="136.2" x2="564.3" y2="145.4" stroke="#0000e6" stroke-width="1.6"/>
<line x1="564.3" y1="145.4" x2="573.8" y2="152.3" stroke="#ee0000" stroke-width="1.6"/>
<line x1="611.6" y1="48.1" x2="598.2" y2="41.3" stroke="#0000e6" stroke-width="1.6"/>
<line x1="598.2" y1="41.3" x2="588.3" y2="36.3" stroke="#ee0000" stroke-width="1.6"/>
<line x1="573.5" y1="187.0" x2="561.7" y2="184.8" stroke="#0000e6" stroke-width="1.6"/>
<line x1="561.7" y1="184.8" x2="553.8" y2="183.3" stroke="#ee0000" stroke-width="1.6"/>
<line x1="622.7" y1="191.3" x2="618.4" y2="196.3" stroke="#8ad67a" stroke-width="1.6"/>
<line x1="618.4" y1="196.3" x2="615.9" y2="199.2" stroke="#ee0000" stroke-width="1.6"/>
<line x1="622.7" y1="245.3" x2="615.9" y2="252.9" stroke="#8ad67a" stroke-width="1.6"/>
<line x1="615.9" y1="252.9" x2="610.8" y2="258.6" stroke="#ee0000" stroke-width="1.6"/>
<line x1="518.5" y1="216.4" x2="518.5" y2="224.7" stroke="#e8a000" stroke-width="1.6"/>
<line x1="518.5" y1="224.7" x2="518.5" y2="229.8" stroke="#ee0000" stroke-width="1.6"/>
<line x1="624.8" y1="239.9" x2="616.5" y2="246.4" stroke="#8ad67a" stroke-width="1.6"/>
<line x1="616.5" y1="246.4" x2="610.3" y2="251.3" stroke="#ee0000" stroke-width="1.6"/>
<line x1="624.8" y1="146.4" x2="618.9" y2="150.3" stroke="#8ad67a" stroke-width="1.6"/>
<line x1="618.9" y1="150.3" x2="615.3" y2="152.6" stroke="#ee0000" stroke-width="1.6"/>
<line x1="550.6" y1="77.5" x2="557.8" y2="87.0" stroke="#0000e6" stroke-width="1.6"/>
<line x1="557.8" y1="87.0" x2="562.6" y2="93.2" stroke="#ee0000" stroke-width="1.6"/>
<line x1="577.8" y1="124.5" x2="586.3" y2="115.9" stroke="#0000e6" stroke-width="1.6"/>
<line x1="586.3" y1="115.9" x2="592.0" y2="110.2" stroke="#ee0000" stroke-width="1.6"/>
<line x1="613.0" y1="30.0" x2="608.4" y2="38.8" stroke="#8ad67a" stroke-width="1.6"/>
<line x1="608.4" y1="38.8" x2="605.0" y2="45.1" stroke="#ee0000" stroke-width="1.6"/>
<line x1="533.5" y1="191.3" x2="526.2" y2="191.8" stroke="#8ad67a" stroke-width="1.6"/>
<line x1="526.2" y1="191.8" x2="521.6" y2="192.2" stroke="#ee0000" stroke-width="1.6"/>
<line x1="625.5" y1="73.0" x2="620.4" y2="75.7" stroke="#8ad67a" stroke-width="1.6"/>
<line x1="620.4" y1="75.7" x2="617.7" y2="77.2" stroke="#ee0000" stroke-width="1.6"/>
<line x1="608.8" y1="126.6" x2="617.4" y2="123.6" stroke="#e8a000" stroke-width="1.6"/>
<line x1="617.4" y1="123.6" x2="623.0" y2="121.7" stroke="#ee0000" stroke-width="1.6"/>
<line x1="565.5" y1="202.0" x2="572.6" y2="200.0" stroke="#8ad67a" stroke-width="1.6"/>
<line x1="572.6" y1="200.0" x2="577.2" y2="198.7" stroke="#ee0000" stroke-width="1.6"/>
<line x1="577.8" y1="124.5" x2="563.5" y2="119.6" stroke="#0000e6" stroke-width="1.6"/>
<line x1="563.5" y1="119.6" x2="553.1" y2="116.1" stroke="#ee0000" stroke-width="1.6"/>
<line x1="516.7" y1="134.4" x2="512.4" y2="132.4" stroke="#8ad67a" stroke-width="1.6"/>
<line x1="512.4" y1="132.4" x2="510.5" y2="131.6" stroke="#ee0000" stroke-width="1.6"/>
<line x1="615.4" y1="279.0" x2="612.8" y2="267.5" stroke="#8ad67a" stroke-width="1.6"/>
<line x1="612.8" y1="267.5" x2="610.8" y2="258.6" stroke="#ee0000" stroke-width="1.6"/>
<line x1="526.0" y1="215.3" x2="520.6" y2="213.3" stroke="#8ad67a" stroke-width="1.6"/>
<line x1="520.6" y1="213.3" x2="517.6" y2="212.2" stroke="#ee0000" stroke-width="1.6"/>
<line x1="573.5" y1="68.4" x2="564.7" y2="67.9" stroke="#0000e6" stroke-width="1.6"/>
<line x1="564.7" y1="67.9" x2="559.9" y2="67.6" stroke="#ee0000" stroke-width="1.6"/>
<line x1="625.9" y1="132.0" x2="624.1" y2="125.5" stroke="#8ad67a" stroke-width="1.6"/>
<line x1="624.1" y1="125.5" x2="623.0" y2="121.7" stroke="#ee0000" stroke-width="1.6"/>
<line x1="567.4" y1="191.5" x2="560.5" y2="194.6" stroke="#8ad67a" stroke-width="1.6"/>
<line x1="560.5" y1="194.6" x2="556.0" y2="196.6" stroke="#ee0000" stroke-width="1.6"/>
<line x1="566.0" y1="177.7" x2="569.5" y2="172.1" stroke="#8ad67a" stroke-width="1.6"/>
<line x1="569.5" y1="172.1" x2="571.6" y2="168.8" stroke="#ee0000" stroke-width="1.6"/>
<line x1="579.7" y1="279.0" x2="583.4" y2="284.8" stroke="#e8a000" stroke-width="1.6"/>
<line x1="583.4" y1="284.8" x2="585.3" y2="287.9" stroke="#ee0000" stroke-width="1.6"/>
<line x1="605.6" y1="172.0" x2="608.6" y2="172.0" stroke="#8ad67a" stroke-width="1.6"/>
<line x1="608.6" y1="172.0" x2="609.4" y2="172.1" stroke="#ee0000" stroke-width="1.6"/>
<line x1="503.5" y1="153.9" x2="504.3" y2="164.4" stroke="#0000e6" stroke-width="1.6"/>
<line x1="504.3" y1="164.4" x2="504.9" y2="171.0" stroke="#ee0000" stroke-width="1.6"/>
<line x1="572.5" y1="141.3" x2="573.3" y2="148.1" stroke="#8ad67a" stroke-width="1.6"/>
<line x1="573.3" y1="148.1" x2="573.8" y2="152.3" stroke="#ee0000" stroke-width="1.6"/>
<line x1="607.7" y1="244.2" x2="606.1" y2="253.3" stroke="#e8a000" stroke-width="1.6"/>
<line x1="606.1" y1="253.3" x2="605.1" y2="259.2" stroke="#ee0000" stroke-width="1.6"/>
<line x1="525.3" y1="158.1" x2="522.7" y2="155.9" stroke="#8ad67a" stroke-width="1.6"/>
<line x1="522.7" y1="155.9" x2="522.1" y2="155.3" stroke="#ee0000" stroke-width="1.6"/>
<line x1="582.1" y1="179.5" x2="566.9" y2="183.7" stroke="#0000e6" stroke-width="1.6"/>
<line x1="566.9" y1="183.7" x2="555.5" y2="186.8" stroke="#ee0000" stroke-width="1.6"/>
<line x1="559.0" y1="170.5" x2="556.0" y2="176.9" stroke="#8ad67a" stroke-width="1.6"/>
<line x1="556.0" y1="176.9" x2="554.1" y2="180.9" stroke="#ee0000" stroke-width="1.6"/>
<line x1="550.6" y1="195.6" x2="534.1" y2="193.7" stroke="#0000e6" stroke-width="1.6"/>
<line x1="534.1" y1="193.7" x2="521.6" y2="192.2" stroke="#ee0000" stroke-width="1.6"/>
<line x1="518.5" y1="192.4" x2="512.8" y2="191.4" stroke="#8ad67a" stroke-width="1.6"/>
<line x1="512.8" y1="191.4" x2="509.7" y2="190.9" stroke="#ee0000" stroke-width="1.6"/>
<line x1="547.4" y1="283.4" x2="551.6" y2="289.0" stroke="#8ad67a" stroke-width="1.6"/>
<line x1="551.6" y1="289.0" x2="554.1" y2="292.4" stroke="#ee0000" stroke-width="1.6"/>
<line x1="589.4" y1="35.9" x2="584.7" y2="41.5" stroke="#8ad67a" stroke-width="1.6"/>
<line x1="584.7" y1="41.5" x2="581.8" y2="45.0" stroke="#ee0000" stroke-width="1.6"/>
<line x1="592.8" y1="267.7" x2="595.7" y2="268.2" stroke="#8ad67a" stroke-width="1.6"/>
<line x1="595.7" y1="268.2" x2="596.4" y2="268.3" stroke="#ee0000" stroke-width="1.6"/>
<line x1="590.6" y1="218.5" x2="591.6" y2="220.0" stroke="#8ad67a" stroke-width="1.6"/>
<line x1="591.6" y1="220.0" x2="591.9" y2="220.4" stroke="#ee0000" stroke-width="1.6"/>
<line x1="555.0" y1="22.3" x2="561.6" y2="17.9" stroke="#8ad67a" stroke-width="1.6"/>
<line x1="561.6" y1="17.9" x2="566.0" y2="15.0" stroke="#ee0000" stroke-width="1.6"/>
<line x1="559.1" y1="227.1" x2="564.6" y2="230.2" stroke="#8ad67a" stroke-width="1.6"/>
<line x1="564.6" y1="230.2" x2="567.8" y2="232.0" stroke="#ee0000" stroke-width="1.6"/>
<line x1="588.5" y1="190.2" x2="592.5" y2="191.2" stroke="#8ad67a" stroke-width="1.6"/>
<line x1="592.5" y1="191.2" x2="593.9" y2="191.6" stroke="#ee0000" stroke-width="1.6"/>
<line x1="624.8" y1="261.3" x2="615.0" y2="260.7" stroke="#8ad67a" stroke-width="1.6"/>
<line x1="615.0" y1="260.7" x2="607.9" y2="260.2" stroke="#ee0000" stroke-width="1.6"/>
<line x1="627.0" y1="176.3" x2="622.2" y2="178.7" stroke="#8ad67a" stroke-width="1.6"/>
<line x1="622.2" y1="178.7" x2="619.9" y2="179.9" stroke="#ee0000" stroke-width="1.6"/>
<line x1="592.8" y1="267.7" x2="596.5" y2="262.4" stroke="#8ad67a" stroke-width="1.6"/>
<line x1="596.5" y1="262.4" x2="598.7" y2="259.3" stroke="#ee0000" stroke-width="1.6"/>
<line x1="518.0" y1="42.0" x2="525.7" y2="43.8" stroke="#e8a000" stroke-width="1.6"/>
<line x1="525.7" y1="43.8" x2="530.3" y2="44.8" stroke="#ee0000" stroke-width="1.6"/>
<line x1="541.7" y1="84.7" x2="538.9" y2="92.8" stroke="#8ad67a" stroke-width="1.6"/>
<line x1="538.9" y1="92.8" x2="536.9" y2="98.3" stroke="#ee0000" stroke-width="1.6"/>
<line x1="555.0" y1="31.2" x2="553.1" y2="26.9" stroke="#8ad67a" stroke-width="1.6"/>
<line x1="553.1" y1="26.9" x2="552.2" y2="25.1" stroke="#ee0000" stroke-width="1.6"/>
<line x1="623.8" y1="97.8" x2="620.0" y2="101.5" stroke="#8ad67a" stroke-width="1.6"/>
<line x1="620.0" y1="101.5" x2="618.1" y2="103.3" stroke="#ee0000" stroke-width="1.6"/>
<line x1="536.2" y1="30.0" x2="523.1" y2="35.8" stroke="#0000e6" stroke-width="1.6"/>
<line x1="523.1" y1="35.8" x2="513.8" y2="39.9" stroke="#ee0000" stroke-width="1.6"/>
<line x1="567.4" y1="191.5" x2="572.5" y2="189.2" stroke="#8ad67a" stroke-width="1.6"/>
<line x1="572.5" y1="189.2" x2="575.2" y2="187.9" stroke="#ee0000" stroke-width="1.6"/>
<line x1="596.0" y1="213.2" x2="584.4" y2="218.2" stroke="#0000e6" stroke-width="1.6"/>
<line x1="584.4" y1="218.2" x2="576.5" y2="221.6" stroke="#ee0000" stroke-width="1.6"/>
<line x1="580.5" y1="268.3" x2="574.5" y2="262.8" stroke="#e8a000" stroke-width="1.6"/>
<line x1="574.5" y1="262.8" x2="570.8" y2="259.5" stroke="#ee0000" stroke-width="1.6"/>
<line x1="608.7" y1="125.5" x2="608.8" y2="133.9" stroke="#8ad67a" stroke-width="1.6"/>
<line x1="608.8" y1="133.9" x2="608.9" y2="139.5" stroke="#ee0000" stroke-width="1.6"/>
<line x1="616.5" y1="237.6" x2="607.4" y2="238.4" stroke="#8ad67a" stroke-width="1.6"/>
<line x1="607.4" y1="238.4" x2="601.0" y2="238.9" stroke="#ee0000" stroke-width="1.6"/>
<line x1="580.0" y1="208.4" x2="588.0" y2="204.9" stroke="#e8a000" stroke-width="1.6"/>
<line x1="588.0" y1="204.9" x2="593.0" y2="202.6" stroke="#ee0000" stroke-width="1.6"/>
<line x1="548.8" y1="142.8" x2="549.7" y2="148.0" stroke="#8ad67a" stroke-width="1.6"/>
<line x1="549.7" y1="148.0" x2="550.1" y2="150.4" stroke="#ee0000" stroke-width="1.6"/>
<line x1="518.5" y1="266.6" x2="521.6" y2="262.9" stroke="#e8a000" stroke-width="1.6"/>
<line x1="521.6" y1="262.9" x2="522.6" y2="261.7" stroke="#ee0000" stroke-width="1.6"/>
<line x1="607.7" y1="244.2" x2="603.1" y2="240.6" stroke="#e8a000" stroke-width="1.6"/>
<line x1="603.1" y1="240.6" x2="601.0" y2="238.9" stroke="#ee0000" stroke-width="1.6"/>
<line x1="580.0" y1="33.1" x2="583.4" y2="26.3" stroke="#e8a000" stroke-width="1.6"/>
<line x1="583.4" y1="26.3" x2="585.3" y2="22.4" stroke="#ee0000" stroke-width="1.6"/>
<line x1="558.0" y1="109.5" x2="564.8" y2="114.1" stroke="#8ad67a" stroke-width="1.6"/>
<line x1="564.8" y1="114.1" x2="569.3" y2="117.2" stroke="#ee0000" stroke-width="1.6"/>
<line x1="609.9" y1="119.1" x2="605.8" y2="127.6" stroke="#e8a000" stroke-width="1.6"/>
<line x1="605.8" y1="127.6" x2="603.1" y2="133.1" stroke="#ee0000" stroke-width="1.6"/>
<line x1="608.8" y1="237.8" x2="600.5" y2="242.8" stroke="#e8a000" stroke-width="1.6"/>
<line x1="600.5" y1="242.8" x2="595.0" y2="246.2" stroke="#ee0000" stroke-width="1.6"/>
<line x1="625.9" y1="113.8" x2="621.6" y2="107.8" stroke="#8ad67a" stroke-width="1.6"/>
<line x1="621.6" y1="107.8" x2="618.9" y2="104.0" stroke="#ee0000" stroke-width="1.6"/>
<line x1="609.9" y1="119.1" x2="601.5" y2="115.7" stroke="#e8a000" stroke-width="1.6"/>
<line x1="601.5" y1="115.7" x2="596.1" y2="113.5" stroke="#ee0000" stroke-width="1.6"/>
<line x1="588.5" y1="190.2" x2="584.7" y2="191.5" stroke="#8ad67a" stroke-width="1.6"/>
<line x1="584.7" y1="191.5" x2="583.5" y2="191.9" stroke="#ee0000" stroke-width="1.6"/>
<line x1="628.0" y1="79.6" x2="622.6" y2="76.9" stroke="#8ad67a" stroke-width="1.6"/>
<line x1="622.6" y1="76.9" x2="619.7" y2="75.5" stroke="#ee0000" stroke-width="1.6"/>
<line x1="506.9" y1="275.3" x2="507.4" y2="282.4" stroke="#8ad67a" stroke-width="1.6"/>
<line x1="507.4" y1="282.4" x2="507.7" y2="286.8" stroke="#ee0000" stroke-width="1.6"/>
<line x1="523.8" y1="76.4" x2="521.7" y2="76.1" stroke="#8ad67a" stroke-width="1.6"/>
<line x1="521.7" y1="76.1" x2="521.2" y2="76.0" stroke="#ee0000" stroke-width="1.6"/>
<line x1="506.9" y1="275.3" x2="511.9" y2="268.1" stroke="#8ad67a" stroke-width="1.6"/>
<line x1="511.9" y1="268.1" x2="515.4" y2="263.2" stroke="#ee0000" stroke-width="1.6"/>
<line x1="561.2" y1="121.3" x2="560.3" y2="116.7" stroke="#8ad67a" stroke-width="1.6"/>
<line x1="560.3" y1="116.7" x2="559.9" y2="114.7" stroke="#ee0000" stroke-width="1.6"/>
<line x1="624.3" y1="233.9" x2="620.4" y2="224.6" stroke="#8ad67a" stroke-width="1.6"/>
<line x1="620.4" y1="224.6" x2="617.6" y2="217.9" stroke="#ee0000" stroke-width="1.6"/>
<line x1="592.8" y1="160.3" x2="609.0" y2="158.7" stroke="#0000e6" stroke-width="1.6"/>
<line x1="609.0" y1="158.7" x2="621.2" y2="157.5" stroke="#ee0000" stroke-width="1.6"/>
<line x1="518.5" y1="149.6" x2="511.1" y2="156.3" stroke="#e8a000" stroke-width="1.6"/>
<line x1="511.1" y1="156.3" x2="506.1" y2="160.9" stroke="#ee0000" stroke-width="1.6"/>
<line x1="590.6" y1="218.5" x2="588.5" y2="221.8" stroke="#8ad67a" stroke-width="1.6"/>
<line x1="588.5" y1="221.8" x2="587.8" y2="222.8" stroke="#ee0000" stroke-width="1.6"/>
<line x1="569.3" y1="136.2" x2="567.7" y2="144.0" stroke="#8ad67a" stroke-width="1.6"/>
<line x1="567.7" y1="144.0" x2="566.6" y2="149.2" stroke="#ee0000" stroke-width="1.6"/>
<line x1="573.5" y1="68.4" x2="566.7" y2="82.1" stroke="#0000e6" stroke-width="1.6"/>
<line x1="566.7" y1="82.1" x2="561.7" y2="92.2" stroke="#ee0000" stroke-width="1.6"/>
<line x1="569.3" y1="107.4" x2="563.5" y2="111.9" stroke="#8ad67a" stroke-width="1.6"/>
<line x1="563.5" y1="111.9" x2="559.9" y2="114.7" stroke="#ee0000" stroke-width="1.6"/>
<line x1="513.4" y1="176.5" x2="519.7" y2="171.5" stroke="#8ad67a" stroke-width="1.6"/>
<line x1="519.7" y1="171.5" x2="523.9" y2="168.2" stroke="#ee0000" stroke-width="1.6"/>
<line x1="600.1" y1="95.1" x2="603.1" y2="101.6" stroke="#8ad67a" stroke-width="1.6"/>
<line x1="603.1" y1="101.6" x2="604.9" y2="105.7" stroke="#ee0000" stroke-width="1.6"/>
<line x1="507.8" y1="86.0" x2="503.9" y2="91.7" stroke="#8ad67a" stroke-width="1.6"/>
<line x1="503.9" y1="91.7" x2="501.5" y2="95.2" stroke="#ee0000" stroke-width="1.6"/>
<line x1="624.8" y1="261.3" x2="619.2" y2="261.8" stroke="#8ad67a" stroke-width="1.6"/>
<line x1="619.2" y1="261.8" x2="616.2" y2="262.0" stroke="#ee0000" stroke-width="1.6"/>
<line x1="526.2" y1="252.2" x2="523.9" y2="258.2" stroke="#8ad67a" stroke-width="1.6"/>
<line x1="523.9" y1="258.2" x2="522.6" y2="261.7" stroke="#ee0000" stroke-width="1.6"/>
<line x1="513.0" y1="111.5" x2="511.0" y2="112.2" stroke="#8ad67a" stroke-width="1.6"/>
<line x1="511.0" y1="112.2" x2="510.5" y2="112.3" stroke="#ee0000" stroke-width="1.6"/>
<line x1="538.4" y1="43.3" x2="536.5" y2="50.8" stroke="#8ad67a" stroke-width="1.6"/>
<line x1="536.5" y1="50.8" x2="535.2" y2="55.7" stroke="#ee0000" stroke-width="1.6"/>
<line x1="526.0" y1="87.9" x2="522.5" y2="90.1" stroke="#8ad67a" stroke-width="1.6"/>
<line x1="522.5" y1="90.1" x2="521.3" y2="90.9" stroke="#ee0000" stroke-width="1.6"/>
<line x1="617.6" y1="78.0" x2="613.5" y2="80.2" stroke="#8ad67a" stroke-width="1.6"/>
<line x1="613.5" y1="80.2" x2="611.7" y2="81.1" stroke="#ee0000" stroke-width="1.6"/>
<line x1="548.4" y1="60.1" x2="539.2" y2="64.3" stroke="#e8a000" stroke-width="1.6"/>
<line x1="539.2" y1="64.3" x2="533.0" y2="67.1" stroke="#ee0000" stroke-width="1.6"/>
<line x1="607.9" y1="209.0" x2="614.1" y2="205.8" stroke="#8ad67a" stroke-width="1.6"/>
<line x1="614.1" y1="205.8" x2="618.0" y2="203.7" stroke="#ee0000" stroke-width="1.6"/>
<line x1="540.3" y1="255.1" x2="540.9" y2="253.9" stroke="#8ad67a" stroke-width="1.6"/>
<line x1="540.9" y1="253.9" x2="541.1" y2="253.6" stroke="#ee0000" stroke-width="1.6"/>
<line x1="611.0" y1="184.9" x2="608.5" y2="176.5" stroke="#e8a000" stroke-width="1.6"/>
<line x1="608.5" y1="176.5" x2="606.9" y2="171.2" stroke="#ee0000" stroke-width="1.6"/>
<line x1="559.0" y1="170.5" x2="560.3" y2="175.8" stroke="#8ad67a" stroke-width="1.6"/>
<line x1="560.3" y1="175.8" x2="561.0" y2="178.4" stroke="#ee0000" stroke-width="1.6"/>
<line x1="539.3" y1="44.1" x2="546.2" y2="46.3" stroke="#8ad67a" stroke-width="1.6"/>
<line x1="546.2" y1="46.3" x2="550.6" y2="47.7" stroke="#ee0000" stroke-width="1.6"/>
<line x1="624.8" y1="50.2" x2="616.1" y2="51.1" stroke="#8ad67a" stroke-width="1.6"/>
<line x1="616.1" y1="51.1" x2="610.2" y2="51.7" stroke="#ee0000" stroke-width="1.6"/>
<line x1="518.5" y1="278.4" x2="523.1" y2="285.7" stroke="#e8a000" stroke-width="1.6"/>
<line x1="523.1" y1="285.7" x2="525.9" y2="290.4" stroke="#ee0000" stroke-width="1.6"/>
<line x1="573.5" y1="68.4" x2="583.1" y2="69.0" stroke="#0000e6" stroke-width="1.6"/>
<line x1="583.1" y1="69.0" x2="588.8" y2="69.4" stroke="#ee0000" stroke-width="1.6"/>
<line x1="539.3" y1="44.1" x2="546.7" y2="49.8" stroke="#8ad67a" stroke-width="1.6"/>
<line x1="546.7" y1="49.8" x2="551.9" y2="53.8" stroke="#ee0000" stroke-width="1.6"/>
<line x1="538.8" y1="95.6" x2="537.3" y2="97.7" stroke="#8ad67a" stroke-width="1.6"/>
<line x1="537.3" y1="97.7" x2="536.9" y2="98.3" stroke="#ee0000" stroke-width="1.6"/>
<line x1="613.1" y1="225.0" x2="616.4" y2="219.8" stroke="#0000e6" stroke-width="1.6"/>
<line x1="616.4" y1="219.8" x2="617.6" y2="217.9" stroke="#ee0000" stroke-width="1.6"/>
<line x1="526.2" y1="54.5" x2="521.2" y2="54.9" stroke="#8ad67a" stroke-width="1.6"/>
<line x1="521.2" y1="54.9" x2="519.0" y2="55.1" stroke="#ee0000" stroke-width="1.6"/>
<line x1="524.9" y1="249.5" x2="523.8" y2="256.6" stroke="#8ad67a" stroke-width="1.6"/>
<line x1="523.8" y1="256.6" x2="523.1" y2="261.0" stroke="#ee0000" stroke-width="1.6"/>
<line x1="592.8" y1="279.0" x2="580.6" y2="287.9" stroke="#0000e6" stroke-width="1.6"/>
<line x1="580.6" y1="287.9" x2="571.6" y2="294.4" stroke="#ee0000" stroke-width="1.6"/>
<line x1="569.3" y1="223.9" x2="573.7" y2="222.0" stroke="#8ad67a" stroke-width="1.6"/>
<line x1="573.7" y1="222.0" x2="575.7" y2="221.1" stroke="#ee0000" stroke-width="1.6"/>
<line x1="521.8" y1="28.9" x2="528.0" y2="26.9" stroke="#8ad67a" stroke-width="1.6"/>
<line x1="528.0" y1="26.9" x2="531.5" y2="25.8" stroke="#ee0000" stroke-width="1.6"/>
<line x1="518.5" y1="278.4" x2="521.8" y2="288.0" stroke="#e8a000" stroke-width="1.6"/>
<line x1="521.8" y1="288.0" x2="524.0" y2="294.6" stroke="#ee0000" stroke-width="1.6"/>
<line x1="518.5" y1="192.4" x2="523.0" y2="199.1" stroke="#8ad67a" stroke-width="1.6"/>
<line x1="523.0" y1="199.1" x2="526.0" y2="203.6" stroke="#ee0000" stroke-width="1.6"/>
<line x1="518.4" y1="32.3" x2="515.3" y2="37.2" stroke="#e8a000" stroke-width="1.6"/>
<line x1="515.3" y1="37.2" x2="513.9" y2="39.4" stroke="#ee0000" stroke-width="1.6"/>
<line x1="627.0" y1="233.5" x2="621.6" y2="224.5" stroke="#8ad67a" stroke-width="1.6"/>
<line x1="621.6" y1="224.5" x2="617.6" y2="217.9" stroke="#ee0000" stroke-width="1.6"/>
<line x1="622.7" y1="191.3" x2="621.0" y2="184.3" stroke="#8ad67a" stroke-width="1.6"/>
<line x1="621.0" y1="184.3" x2="619.9" y2="179.9" stroke="#ee0000" stroke-width="1.6"/>
<line x1="581.0" y1="120.2" x2="577.5" y2="123.0" stroke="#8ad67a" stroke-width="1.6"/>
<line x1="577.5" y1="123.0" x2="576.1" y2="124.1" stroke="#ee0000" stroke-width="1.6"/>
<line x1="551.6" y1="253.8" x2="558.8" y2="254.0" stroke="#0000e6" stroke-width="1.6"/>
<line x1="558.8" y1="254.0" x2="562.1" y2="254.0" stroke="#ee0000" stroke-width="1.6"/>
<line x1="592.8" y1="267.7" x2="593.3" y2="272.8" stroke="#8ad67a" stroke-width="1.6"/>
<line x1="593.3" y1="272.8" x2="593.5" y2="275.3" stroke="#ee0000" stroke-width="1.6"/>
<line x1="506.8" y1="239.9" x2="513.7" y2="234.0" stroke="#8ad67a" stroke-width="1.6"/>
<line x1="513.7" y1="234.0" x2="518.5" y2="229.8" stroke="#ee0000" stroke-width="1.6"/>
<line x1="524.9" y1="172.0" x2="531.0" y2="175.6" stroke="#8ad67a" stroke-width="1.6"/>
<line x1="531.0" y1="175.6" x2="534.8" y2="177.8" stroke="#ee0000" stroke-width="1.6"/>
<line x1="623.8" y1="97.8" x2="624.3" y2="103.9" stroke="#8ad67a" stroke-width="1.6"/>
<line x1="624.3" y1="103.9" x2="624.6" y2="107.4" stroke="#ee0000" stroke-width="1.6"/>
<line x1="508.9" y1="204.1" x2="518.8" y2="203.8" stroke="#8ad67a" stroke-width="1.6"/>
<line x1="518.8" y1="203.8" x2="526.0" y2="203.6" stroke="#ee0000" stroke-width="1.6"/>
<line x1="625.5" y1="73.0" x2="617.5" y2="77.7" stroke="#8ad67a" stroke-width="1.6"/>
<line x1="617.5" y1="77.7" x2="611.7" y2="81.1" stroke="#ee0000" stroke-width="1.6"/>
<line x1="569.3" y1="100.0" x2="565.7" y2="87.2" stroke="#0000e6" stroke-width="1.6"/>
<line x1="565.7" y1="87.2" x2="563.2" y2="78.2" stroke="#ee0000" stroke-width="1.6"/>
<line x1="607.9" y1="209.0" x2="612.7" y2="203.1" stroke="#8ad67a" stroke-width="1.6"/>
<line x1="612.7" y1="203.1" x2="615.9" y2="199.2" stroke="#ee0000" stroke-width="1.6"/>
<line x1="605.6" y1="77.5" x2="609.8" y2="80.0" stroke="#8ad67a" stroke-width="1.6"/>
<line x1="609.8" y1="80.0" x2="611.7" y2="81.1" stroke="#ee0000" stroke-width="1.6"/>
<line x1="509.5" y1="274.5" x2="513.1" y2="267.6" stroke="#8ad67a" stroke-width="1.6"/>
<line x1="513.1" y1="267.6" x2="515.4" y2="263.2" stroke="#ee0000" stroke-width="1.6"/>
<line x1="617.6" y1="78.0" x2="610.9" y2="70.8" stroke="#8ad67a" stroke-width="1.6"/>
<line x1="610.9" y1="70.8" x2="606.0" y2="65.6" stroke="#ee0000" stroke-width="1.6"/>
<line x1="550.6" y1="77.5" x2="543.3" y2="68.0" stroke="#0000e6" stroke-width="1.6"/>
<line x1="543.3" y1="68.0" x2="538.5" y2="61.6" stroke="#ee0000" stroke-width="1.6"/>
<line x1="608.8" y1="126.6" x2="604.6" y2="117.5" stroke="#e8a000" stroke-width="1.6"/>
<line x1="604.6" y1="117.5" x2="601.7" y2="111.3" stroke="#ee0000" stroke-width="1.6"/>
<line x1="566.2" y1="56.8" x2="571.7" y2="61.5" stroke="#8ad67a" stroke-width="1.6"/>
<line x1="571.7" y1="61.5" x2="575.2" y2="64.4" stroke="#ee0000" stroke-width="1.6"/>
<line x1="625.5" y1="157.5" x2="624.9" y2="167.5" stroke="#8ad67a" stroke-width="1.6"/>
<line x1="624.9" y1="167.5" x2="624.5" y2="174.8" stroke="#ee0000" stroke-width="1.6"/>
<line x1="532.0" y1="208.2" x2="531.4" y2="215.6" stroke="#8ad67a" stroke-width="1.6"/>
<line x1="531.4" y1="215.6" x2="530.9" y2="220.3" stroke="#ee0000" stroke-width="1.6"/>
<line x1="569.7" y1="256.7" x2="570.6" y2="258.9" stroke="#8ad67a" stroke-width="1.6"/>
<line x1="570.6" y1="258.9" x2="570.8" y2="259.5" stroke="#ee0000" stroke-width="1.6"/>
<line x1="590.6" y1="218.5" x2="587.7" y2="220.5" stroke="#8ad67a" stroke-width="1.6"/>
<line x1="587.7" y1="220.5" x2="587.0" y2="221.0" stroke="#ee0000" stroke-width="1.6"/>
<line x1="526.0" y1="87.9" x2="532.5" y2="86.2" stroke="#8ad67a" stroke-width="1.6"/>
<line x1="532.5" y1="86.2" x2="536.4" y2="85.1" stroke="#ee0000" stroke-width="1.6"/>
<line x1="609.9" y1="119.1" x2="609.0" y2="112.8" stroke="#e8a000" stroke-width="1.6"/>
<line x1="609.0" y1="112.8" x2="608.6" y2="109.6" stroke="#ee0000" stroke-width="1.6"/>
<line x1="567.1" y1="272.0" x2="572.4" y2="274.5" stroke="#0000e6" stroke-width="1.6"/>
<line x1="572.4" y1="274.5" x2="574.1" y2="275.3" stroke="#ee0000" stroke-width="1.6"/>
<line x1="537.4" y1="276.7" x2="543.7" y2="280.1" stroke="#8ad67a" stroke-width="1.6"/>
<line x1="543.7" y1="280.1" x2="547.6" y2="282.3" stroke="#ee0000" stroke-width="1.6"/>
<line x1="505.8" y1="145.6" x2="504.2" y2="140.8" stroke="#8ad67a" stroke-width="1.6"/>
<line x1="504.2" y1="140.8" x2="503.4" y2="138.5" stroke="#ee0000" stroke-width="1.6"/>
<line x1="514.6" y1="282.2" x2="512.9" y2="278.2" stroke="#8ad67a" stroke-width="1.6"/>
<line x1="512.9" y1="278.2" x2="512.3" y2="276.8" stroke="#ee0000" stroke-width="1.6"/>
<line x1="605.6" y1="172.0" x2="613.9" y2="176.6" stroke="#8ad67a" stroke-width="1.6"/>
<line x1="613.9" y1="176.6" x2="619.9" y2="179.9" stroke="#ee0000" stroke-width="1.6"/>
<line x1="624.8" y1="146.4" x2="622.6" y2="153.2" stroke="#8ad67a" stroke-width="1.6"/>
<line x1="622.6" y1="153.2" x2="621.2" y2="157.5" stroke="#ee0000" stroke-width="1.6"/>
<line x1="502.1" y1="79.5" x2="502.1" y2="88.0" stroke="#8ad67a" stroke-width="1.6"/>
<line x1="502.1" y1="88.0" x2="502.2" y2="93.7" stroke="#ee0000" stroke-width="1.6"/>
<line x1="572.5" y1="246.6" x2="574.6" y2="244.7" stroke="#8ad67a" stroke-width="1.6"/>
<line x1="574.6" y1="244.7" x2="575.1" y2="244.3" stroke="#ee0000" stroke-width="1.6"/>
<line x1="525.0" y1="65.1" x2="530.3" y2="66.4" stroke="#8ad67a" stroke-width="1.6"/>
<line x1="530.3" y1="66.4" x2="533.0" y2="67.1" stroke="#ee0000" stroke-width="1.6"/>
<line x1="551.6" y1="136.2" x2="552.5" y2="128.1" stroke="#0000e6" stroke-width="1.6"/>
<line x1="552.5" y1="128.1" x2="552.9" y2="124.0" stroke="#ee0000" stroke-width="1.6"/>
<line x1="509.5" y1="274.5" x2="508.4" y2="282.0" stroke="#8ad67a" stroke-width="1.6"/>
<line x1="508.4" y1="282.0" x2="507.7" y2="286.8" stroke="#ee0000" stroke-width="1.6"/>
<line x1="566.0" y1="177.7" x2="562.2" y2="181.7" stroke="#8ad67a" stroke-width="1.6"/>
<line x1="562.2" y1="181.7" x2="560.3" y2="183.7" stroke="#ee0000" stroke-width="1.6"/>
<line x1="616.7" y1="147.2" x2="619.5" y2="153.6" stroke="#8ad67a" stroke-width="1.6"/>
<line x1="619.5" y1="153.6" x2="621.2" y2="157.5" stroke="#ee0000" stroke-width="1.6"/>
<line x1="539.3" y1="44.1" x2="535.1" y2="46.7" stroke="#8ad67a" stroke-width="1.6"/>
<line x1="535.1" y1="46.7" x2="533.1" y2="48.0" stroke="#ee0000" stroke-width="1.6"/>
<line x1="574.4" y1="250.3" x2="576.3" y2="255.4" stroke="#8ad67a" stroke-width="1.6"/>
<line x1="576.3" y1="255.4" x2="577.3" y2="257.9" stroke="#ee0000" stroke-width="1.6"/>
<line x1="580.0" y1="150.7" x2="580.0" y2="157.1" stroke="#e8a000" stroke-width="1.6"/>
<line x1="580.0" y1="157.1" x2="580.1" y2="160.2" stroke="#ee0000" stroke-width="1.6"/>
<line x1="520.6" y1="236.7" x2="534.9" y2="238.8" stroke="#0000e6" stroke-width="1.6"/>
<line x1="534.9" y1="238.8" x2="545.2" y2="240.4" stroke="#ee0000" stroke-width="1.6"/>
<line x1="563.4" y1="269.8" x2="565.7" y2="274.0" stroke="#0000e6" stroke-width="1.6"/>
<line x1="565.7" y1="274.0" x2="566.3" y2="275.1" stroke="#ee0000" stroke-width="1.6"/>
<line x1="591.7" y1="32.0" x2="589.2" y2="35.2" stroke="#8ad67a" stroke-width="1.6"/>
<line x1="589.2" y1="35.2" x2="588.3" y2="36.3" stroke="#ee0000" stroke-width="1.6"/>
<line x1="565.5" y1="202.0" x2="571.1" y2="193.9" stroke="#8ad67a" stroke-width="1.6"/>
<line x1="571.1" y1="193.9" x2="575.2" y2="187.9" stroke="#ee0000" stroke-width="1.6"/>
<line x1="557.5" y1="244.0" x2="561.0" y2="239.7" stroke="#8ad67a" stroke-width="1.6"/>
<line x1="561.0" y1="239.7" x2="562.8" y2="237.4" stroke="#ee0000" stroke-width="1.6"/>
<line x1="509.5" y1="274.5" x2="511.4" y2="266.1" stroke="#8ad67a" stroke-width="1.6"/>
<line x1="511.4" y1="266.1" x2="512.7" y2="260.4" stroke="#ee0000" stroke-width="1.6"/>
<line x1="623.8" y1="97.8" x2="615.5" y2="96.0" stroke="#8ad67a" stroke-width="1.6"/>
<line x1="615.5" y1="96.0" x2="609.7" y2="94.7" stroke="#ee0000" stroke-width="1.6"/>
<line x1="559.0" y1="85.0" x2="560.9" y2="89.9" stroke="#8ad67a" stroke-width="1.6"/>
<line x1="560.9" y1="89.9" x2="561.7" y2="92.2" stroke="#ee0000" stroke-width="1.6"/>
<line x1="569.3" y1="100.0" x2="568.9" y2="91.5" stroke="#0000e6" stroke-width="1.6"/>
<line x1="568.9" y1="91.5" x2="568.7" y2="86.9" stroke="#ee0000" stroke-width="1.6"/>
<line x1="518.5" y1="278.4" x2="513.8" y2="277.2" stroke="#e8a000" stroke-width="1.6"/>
<line x1="513.8" y1="277.2" x2="512.3" y2="276.8" stroke="#ee0000" stroke-width="1.6"/>
<line x1="625.0" y1="93.5" x2="616.0" y2="94.2" stroke="#8ad67a" stroke-width="1.6"/>
<line x1="616.0" y1="94.2" x2="609.7" y2="94.7" stroke="#ee0000" stroke-width="1.6"/>
<line x1="505.7" y1="218.5" x2="505.3" y2="222.0" stroke="#8ad67a" stroke-width="1.6"/>
<line x1="505.3" y1="222.0" x2="505.2" y2="222.8" stroke="#ee0000" stroke-width="1.6"/>
<line x1="581.0" y1="120.2" x2="582.4" y2="115.2" stroke="#8ad67a" stroke-width="1.6"/>
<line x1="582.4" y1="115.2" x2="583.1" y2="112.8" stroke="#ee0000" stroke-width="1.6"/>
<line x1="607.7" y1="204.1" x2="593.8" y2="197.1" stroke="#0000e6" stroke-width="1.6"/>
<line x1="593.8" y1="197.1" x2="583.5" y2="191.9" stroke="#ee0000" stroke-width="1.6"/>
<line x1="516.7" y1="134.4" x2="508.0" y2="135.0" stroke="#8ad67a" stroke-width="1.6"/>
<line x1="508.0" y1="135.0" x2="502.0" y2="135.4" stroke="#ee0000" stroke-width="1.6"/>
<line x1="550.6" y1="77.5" x2="538.3" y2="73.6" stroke="#0000e6" stroke-width="1.6"/>
<line x1="538.3" y1="73.6" x2="529.8" y2="70.8" stroke="#ee0000" stroke-width="1.6"/>
<line x1="517.3" y1="63.4" x2="520.5" y2="56.1" stroke="#0000e6" stroke-width="1.6"/>
<line x1="520.5" y1="56.1" x2="522.1" y2="52.5" stroke="#ee0000" stroke-width="1.6"/>
<line x1="611.0" y1="66.2" x2="615.2" y2="73.1" stroke="#e8a000" stroke-width="1.6"/>
<line x1="615.2" y1="73.1" x2="617.7" y2="77.2" stroke="#ee0000" stroke-width="1.6"/>
<line x1="518.5" y1="149.6" x2="528.5" y2="148.1" stroke="#e8a000" stroke-width="1.6"/>
<line x1="528.5" y1="148.1" x2="535.2" y2="147.0" stroke="#ee0000" stroke-width="1.6"/>
<line x1="574.4" y1="250.3" x2="576.5" y2="255.6" stroke="#8ad67a" stroke-width="1.6"/>
<line x1="576.5" y1="255.6" x2="577.6" y2="258.4" stroke="#ee0000" stroke-width="1.6"/>
<line x1="557.0" y1="205.2" x2="551.5" y2="200.1" stroke="#8ad67a" stroke-width="1.6"/>
<line x1="551.5" y1="200.1" x2="547.9" y2="196.8" stroke="#ee0000" stroke-width="1.6"/>
<line x1="538.8" y1="213.2" x2="534.5" y2="219.0" stroke="#8ad67a" stroke-width="1.6"/>
<line x1="534.5" y1="219.0" x2="531.8" y2="222.6" stroke="#ee0000" stroke-width="1.6"/>
<line x1="596.0" y1="213.2" x2="585.3" y2="211.2" stroke="#0000e6" stroke-width="1.6"/>
<line x1="585.3" y1="211.2" x2="578.6" y2="209.9" stroke="#ee0000" stroke-width="1.6"/>
<line x1="518.4" y1="32.3" x2="526.4" y2="28.3" stroke="#e8a000" stroke-width="1.6"/>
<line x1="526.4" y1="28.3" x2="531.5" y2="25.8" stroke="#ee0000" stroke-width="1.6"/>
<line x1="569.3" y1="223.9" x2="574.2" y2="222.3" stroke="#8ad67a" stroke-width="1.6"/>
<line x1="574.2" y1="222.3" x2="576.5" y2="221.6" stroke="#ee0000" stroke-width="1.6"/>
<line x1="608.8" y1="126.6" x2="600.6" y2="124.9" stroke="#e8a000" stroke-width="1.6"/>
<line x1="600.6" y1="124.9" x2="595.5" y2="123.9" stroke="#ee0000" stroke-width="1.6"/>
<line x1="607.7" y1="253.8" x2="607.8" y2="255.1" stroke="#8ad67a" stroke-width="1.6"/>
<line x1="607.8" y1="255.1" x2="607.9" y2="255.5" stroke="#ee0000" stroke-width="1.6"/>
<line x1="617.6" y1="78.0" x2="617.6" y2="77.4" stroke="#8ad67a" stroke-width="1.6"/>
<line x1="617.6" y1="77.4" x2="617.7" y2="77.2" stroke="#ee0000" stroke-width="1.6"/>
<line x1="567.4" y1="191.5" x2="560.2" y2="188.6" stroke="#8ad67a" stroke-width="1.6"/>
<line x1="560.2" y1="188.6" x2="555.5" y2="186.8" stroke="#ee0000" stroke-width="1.6"/>
<line x1="505.7" y1="218.5" x2="512.9" y2="214.7" stroke="#8ad67a" stroke-width="1.6"/>
<line x1="512.9" y1="214.7" x2="517.6" y2="212.2" stroke="#ee0000" stroke-width="1.6"/>
<line x1="622.7" y1="191.3" x2="622.9" y2="187.7" stroke="#8ad67a" stroke-width="1.6"/>
<line x1="622.9" y1="187.7" x2="622.9" y2="186.8" stroke="#ee0000" stroke-width="1.6"/>
<line x1="518.5" y1="266.6" x2="514.6" y2="273.0" stroke="#e8a000" stroke-width="1.6"/>
<line x1="514.6" y1="273.0" x2="512.3" y2="276.8" stroke="#ee0000" stroke-width="1.6"/>
<line x1="609.7" y1="191.9" x2="610.4" y2="196.5" stroke="#8ad67a" stroke-width="1.6"/>
<line x1="610.4" y1="196.5" x2="610.7" y2="198.4" stroke="#ee0000" stroke-width="1.6"/>
<line x1="573.5" y1="68.4" x2="585.8" y2="76.7" stroke="#0000e6" stroke-width="1.6"/>
<line x1="585.8" y1="76.7" x2="594.7" y2="82.7" stroke="#ee0000" stroke-width="1.6"/>
<line x1="542.0" y1="227.0" x2="535.7" y2="224.3" stroke="#8ad67a" stroke-width="1.6"/>
<line x1="535.7" y1="224.3" x2="531.8" y2="222.6" stroke="#ee0000" stroke-width="1.6"/>
<line x1="524.9" y1="249.5" x2="527.9" y2="255.5" stroke="#8ad67a" stroke-width="1.6"/>
<line x1="527.9" y1="255.5" x2="529.8" y2="259.1" stroke="#ee0000" stroke-width="1.6"/>
<line x1="538.8" y1="208.4" x2="531.2" y2="205.5" stroke="#8ad67a" stroke-width="1.6"/>
<line x1="531.2" y1="205.5" x2="526.0" y2="203.6" stroke="#ee0000" stroke-width="1.6"/>
<line x1="557.5" y1="244.0" x2="554.3" y2="247.3" stroke="#8ad67a" stroke-width="1.6"/>
<line x1="554.3" y1="247.3" x2="553.0" y2="248.7" stroke="#ee0000" stroke-width="1.6"/>
<line x1="517.4" y1="179.5" x2="520.1" y2="165.5" stroke="#0000e6" stroke-width="1.6"/>
<line x1="520.1" y1="165.5" x2="522.1" y2="155.3" stroke="#ee0000" stroke-width="1.6"/>
<line x1="590.6" y1="218.5" x2="590.9" y2="219.6" stroke="#8ad67a" stroke-width="1.6"/>
<line x1="590.9" y1="219.6" x2="591.0" y2="219.9" stroke="#ee0000" stroke-width="1.6"/>
<line x1="534.4" y1="239.2" x2="541.1" y2="239.9" stroke="#8ad67a" stroke-width="1.6"/>
<line x1="541.1" y1="239.9" x2="545.2" y2="240.4" stroke="#ee0000" stroke-width="1.6"/>
<line x1="538.8" y1="95.6" x2="538.0" y2="100.7" stroke="#8ad67a" stroke-width="1.6"/>
<line x1="538.0" y1="100.7" x2="537.7" y2="103.1" stroke="#ee0000" stroke-width="1.6"/>
<line x1="559.1" y1="227.1" x2="561.4" y2="233.5" stroke="#8ad67a" stroke-width="1.6"/>
<line x1="561.4" y1="233.5" x2="562.8" y2="237.4" stroke="#ee0000" stroke-width="1.6"/>
<line x1="606.7" y1="54.5" x2="608.4" y2="50.2" stroke="#8ad67a" stroke-width="1.6"/>
<line x1="608.4" y1="50.2" x2="609.1" y2="48.5" stroke="#ee0000" stroke-width="1.6"/>
<line x1="614.1" y1="203.0" x2="608.3" y2="207.2" stroke="#8ad67a" stroke-width="1.6"/>
<line x1="608.3" y1="207.2" x2="604.8" y2="209.7" stroke="#ee0000" stroke-width="1.6"/>
<line x1="548.4" y1="177.4" x2="552.2" y2="181.6" stroke="#e8a000" stroke-width="1.6"/>
<line x1="552.2" y1="181.6" x2="553.8" y2="183.3" stroke="#ee0000" stroke-width="1.6"/>
<line x1="613.1" y1="225.0" x2="609.5" y2="230.7" stroke="#0000e6" stroke-width="1.6"/>
<line x1="609.5" y1="230.7" x2="608.0" y2="233.1" stroke="#ee0000" stroke-width="1.6"/>
<line x1="608.8" y1="126.6" x2="603.7" y2="128.4" stroke="#e8a000" stroke-width="1.6"/>
<line x1="603.7" y1="128.4" x2="601.5" y2="129.1" stroke="#ee0000" stroke-width="1.6"/>
<line x1="627.0" y1="196.6" x2="619.7" y2="192.2" stroke="#8ad67a" stroke-width="1.6"/>
<line x1="619.7" y1="192.2" x2="614.8" y2="189.3" stroke="#ee0000" stroke-width="1.6"/>
<line x1="567.1" y1="272.0" x2="559.0" y2="258.6" stroke="#0000e6" stroke-width="1.6"/>
<line x1="559.0" y1="258.6" x2="553.0" y2="248.7" stroke="#ee0000" stroke-width="1.6"/>
<line x1="516.9" y1="89.1" x2="513.2" y2="96.0" stroke="#8ad67a" stroke-width="1.6"/>
<line x1="513.2" y1="96.0" x2="510.8" y2="100.6" stroke="#ee0000" stroke-width="1.6"/>
<line x1="582.1" y1="179.5" x2="589.4" y2="187.0" stroke="#0000e6" stroke-width="1.6"/>
<line x1="589.4" y1="187.0" x2="593.9" y2="191.6" stroke="#ee0000" stroke-width="1.6"/>
<line x1="626.5" y1="252.2" x2="615.9" y2="254.1" stroke="#8ad67a" stroke-width="1.6"/>
<line x1="615.9" y1="254.1" x2="607.9" y2="255.5" stroke="#ee0000" stroke-width="1.6"/>
<line x1="533.4" y1="74.3" x2="535.3" y2="81.0" stroke="#8ad67a" stroke-width="1.6"/>
<line x1="535.3" y1="81.0" x2="536.4" y2="85.1" stroke="#ee0000" stroke-width="1.6"/>
<line x1="551.6" y1="136.2" x2="561.8" y2="125.2" stroke="#0000e6" stroke-width="1.6"/>
<line x1="561.8" y1="125.2" x2="569.3" y2="117.2" stroke="#ee0000" stroke-width="1.6"/>
<line x1="567.4" y1="191.5" x2="562.9" y2="186.6" stroke="#8ad67a" stroke-width="1.6"/>
<line x1="562.9" y1="186.6" x2="560.3" y2="183.7" stroke="#ee0000" stroke-width="1.6"/>
<line x1="535.6" y1="265.6" x2="522.2" y2="262.5" stroke="#0000e6" stroke-width="1.6"/>
<line x1="522.2" y1="262.5" x2="512.7" y2="260.4" stroke="#ee0000" stroke-width="1.6"/>
<line x1="625.9" y1="76.4" x2="620.4" y2="76.9" stroke="#8ad67a" stroke-width="1.6"/>
<line x1="620.4" y1="76.9" x2="617.7" y2="77.2" stroke="#ee0000" stroke-width="1.6"/>
<line x1="532.6" y1="181.3" x2="526.2" y2="187.7" stroke="#8ad67a" stroke-width="1.6"/>
<line x1="526.2" y1="187.7" x2="521.6" y2="192.2" stroke="#ee0000" stroke-width="1.6"/>
<line x1="592.8" y1="151.8" x2="595.3" y2="148.5" stroke="#8ad67a" stroke-width="1.6"/>
<line x1="595.3" y1="148.5" x2="596.2" y2="147.4" stroke="#ee0000" stroke-width="1.6"/>
<line x1="559.1" y1="227.1" x2="556.4" y2="222.8" stroke="#8ad67a" stroke-width="1.6"/>
<line x1="556.4" y1="222.8" x2="555.2" y2="220.7" stroke="#ee0000" stroke-width="1.6"/>
<line x1="625.9" y1="132.0" x2="626.4" y2="133.9" stroke="#8ad67a" stroke-width="1.6"/>
<line x1="626.4" y1="133.9" x2="626.5" y2="134.4" stroke="#ee0000" stroke-width="1.6"/>
<line x1="593.8" y1="42.7" x2="603.3" y2="46.3" stroke="#0000e6" stroke-width="1.6"/>
<line x1="603.3" y1="46.3" x2="609.1" y2="48.5" stroke="#ee0000" stroke-width="1.6"/>
<line x1="578.9" y1="212.1" x2="582.3" y2="206.8" stroke="#e8a000" stroke-width="1.6"/>
<line x1="582.3" y1="206.8" x2="584.0" y2="204.2" stroke="#ee0000" stroke-width="1.6"/>
<line x1="613.1" y1="107.4" x2="602.6" y2="99.0" stroke="#0000e6" stroke-width="1.6"/>
<line x1="602.6" y1="99.0" x2="595.2" y2="93.2" stroke="#ee0000" stroke-width="1.6"/>
<line x1="613.0" y1="30.0" x2="619.3" y2="31.5" stroke="#8ad67a" stroke-width="1.6"/>
<line x1="619.3" y1="31.5" x2="622.9" y2="32.4" stroke="#ee0000" stroke-width="1.6"/>
<line x1="578.9" y1="212.1" x2="576.8" y2="218.1" stroke="#e8a000" stroke-width="1.6"/>
<line x1="576.8" y1="218.1" x2="575.7" y2="221.1" stroke="#ee0000" stroke-width="1.6"/>
<line x1="569.3" y1="100.0" x2="569.7" y2="108.7" stroke="#0000e6" stroke-width="1.6"/>
<line x1="569.7" y1="108.7" x2="569.9" y2="113.4" stroke="#ee0000" stroke-width="1.6"/>
<line x1="548.4" y1="125.6" x2="552.0" y2="124.3" stroke="#e8a000" stroke-width="1.6"/>
<line x1="552.0" y1="124.3" x2="552.9" y2="124.0" stroke="#ee0000" stroke-width="1.6"/>
<line x1="508.9" y1="157.1" x2="514.8" y2="160.4" stroke="#8ad67a" stroke-width="1.6"/>
<line x1="514.8" y1="160.4" x2="518.3" y2="162.3" stroke="#ee0000" stroke-width="1.6"/>
<line x1="552.7" y1="146.4" x2="550.8" y2="144.0" stroke="#8ad67a" stroke-width="1.6"/>
<line x1="550.8" y1="144.0" x2="550.3" y2="143.4" stroke="#ee0000" stroke-width="1.6"/>
<line x1="504.1" y1="95.0" x2="502.0" y2="95.1" stroke="#8ad67a" stroke-width="1.6"/>
<line x1="502.0" y1="95.1" x2="501.5" y2="95.2" stroke="#ee0000" stroke-width="1.6"/>
<line x1="580.5" y1="268.3" x2="578.6" y2="261.8" stroke="#e8a000" stroke-width="1.6"/>
<line x1="578.6" y1="261.8" x2="577.6" y2="258.4" stroke="#ee0000" stroke-width="1.6"/>
<line x1="505.7" y1="179.5" x2="510.6" y2="176.3" stroke="#8ad67a" stroke-width="1.6"/>
<line x1="510.6" y1="176.3" x2="513.3" y2="174.6" stroke="#ee0000" stroke-width="1.6"/>
<line x1="509.5" y1="274.5" x2="506.9" y2="284.8" stroke="#88d878" stroke-width="1.6"/>
<line x1="506.9" y1="284.8" x2="505.0" y2="292.4" stroke="#ee0000" stroke-width="1.6"/>
<line x1="564.0" y1="35.6" x2="556.0" y2="48.0" stroke="#0000e6" stroke-width="1.6"/>
<line x1="556.0" y1="48.0" x2="550.1" y2="57.0" stroke="#ee0000" stroke-width="1.6"/>
<line x1="624.8" y1="50.2" x2="623.7" y2="39.9" stroke="#8ad67a" stroke-width="1.6"/>
<line x1="623.7" y1="39.9" x2="622.9" y2="32.4" stroke="#ee0000" stroke-width="1.6"/>
<line x1="622.5" y1="68.5" x2="619.4" y2="74.0" stroke="#8ad67a" stroke-width="1.6"/>
<line x1="619.4" y1="74.0" x2="617.7" y2="77.2" stroke="#ee0000" stroke-width="1.6"/>
<line x1="611.0" y1="184.9" x2="618.5" y2="186.1" stroke="#e8a000" stroke-width="1.6"/>
<line x1="618.5" y1="186.1" x2="622.9" y2="186.8" stroke="#ee0000" stroke-width="1.6"/>
<line x1="568.6" y1="40.5" x2="571.8" y2="42.7" stroke="#8ad67a" stroke-width="1.6"/>
<line x1="571.8" y1="42.7" x2="572.8" y2="43.4" stroke="#ee0000" stroke-width="1.6"/>
<line x1="592.8" y1="151.8" x2="593.2" y2="147.5" stroke="#8ad67a" stroke-width="1.6"/>
<line x1="593.2" y1="147.5" x2="593.3" y2="146.0" stroke="#ee0000" stroke-width="1.6"/>
<line x1="520.6" y1="236.7" x2="519.5" y2="229.3" stroke="#0000e6" stroke-width="1.6"/>
<line x1="519.5" y1="229.3" x2="519.1" y2="225.8" stroke="#ee0000" stroke-width="1.6"/>
<line x1="595.2" y1="269.5" x2="597.3" y2="263.1" stroke="#8ad67a" stroke-width="1.6"/>
<line x1="597.3" y1="263.1" x2="598.7" y2="259.3" stroke="#ee0000" stroke-width="1.6"/>
<line x1="549.5" y1="243.1" x2="546.0" y2="240.9" stroke="#e8a000" stroke-width="1.6"/>
<line x1="546.0" y1="240.9" x2="545.2" y2="240.4" stroke="#ee0000" stroke-width="1.6"/>
<line x1="517.4" y1="179.5" x2="529.5" y2="183.7" stroke="#0000e6" stroke-width="1.6"/>
<line x1="529.5" y1="183.7" x2="537.8" y2="186.6" stroke="#ee0000" stroke-width="1.6"/>
<line x1="548.4" y1="60.1" x2="549.8" y2="57.6" stroke="#e8a000" stroke-width="1.6"/>
<line x1="549.8" y1="57.6" x2="550.1" y2="57.0" stroke="#ee0000" stroke-width="1.6"/>
<line x1="504.1" y1="95.0" x2="508.6" y2="96.4" stroke="#8ad67a" stroke-width="1.6"/>
<line x1="508.6" y1="96.4" x2="510.6" y2="97.0" stroke="#ee0000" stroke-width="1.6"/>
<line x1="625.5" y1="128.3" x2="623.8" y2="123.8" stroke="#8ad67a" stroke-width="1.6"/>
<line x1="623.8" y1="123.8" x2="623.0" y2="121.7" stroke="#ee0000" stroke-width="1.6"/>
<line x1="577.8" y1="124.5" x2="578.6" y2="137.1" stroke="#0000e6" stroke-width="1.6"/>
<line x1="578.6" y1="137.1" x2="579.2" y2="145.8" stroke="#ee0000" stroke-width="1.6"/>
<line x1="513.4" y1="176.5" x2="517.3" y2="169.6" stroke="#8ad67a" stroke-width="1.6"/>
<line x1="517.3" y1="169.6" x2="519.9" y2="165.1" stroke="#ee0000" stroke-width="1.6"/>
<line x1="622.5" y1="68.5" x2="620.6" y2="73.2" stroke="#8ad67a" stroke-width="1.6"/>
<line x1="620.6" y1="73.2" x2="619.7" y2="75.5" stroke="#ee0000" stroke-width="1.6"/>
<line x1="608.7" y1="125.5" x2="603.9" y2="127.9" stroke="#8ad67a" stroke-width="1.6"/>
<line x1="603.9" y1="127.9" x2="601.5" y2="129.1" stroke="#ee0000" stroke-width="1.6"/>
<line x1="568.6" y1="289.0" x2="570.8" y2="293.6" stroke="#8ad67a" stroke-width="1.6"/>
<line x1="570.8" y1="293.6" x2="571.9" y2="295.7" stroke="#ee0000" stroke-width="1.6"/>
<line x1="564.0" y1="35.6" x2="574.7" y2="41.2" stroke="#0000e6" stroke-width="1.6"/>
<line x1="574.7" y1="41.2" x2="581.8" y2="45.0" stroke="#ee0000" stroke-width="1.6"/>
<line x1="518.4" y1="32.3" x2="511.9" y2="22.6" stroke="#e8a000" stroke-width="1.6"/>
<line x1="511.9" y1="22.6" x2="507.2" y2="15.6" stroke="#ee0000" stroke-width="1.6"/>
<line x1="594.9" y1="95.6" x2="581.7" y2="89.9" stroke="#0000e6" stroke-width="1.6"/>
<line x1="581.7" y1="89.9" x2="572.1" y2="85.8" stroke="#ee0000" stroke-width="1.6"/>
<line x1="540.3" y1="255.1" x2="537.3" y2="257.5" stroke="#8ad67a" stroke-width="1.6"/>
<line x1="537.3" y1="257.5" x2="536.4" y2="258.2" stroke="#ee0000" stroke-width="1.6"/>
<line x1="567.1" y1="272.0" x2="555.0" y2="280.0" stroke="#0000e6" stroke-width="1.6"/>
<line x1="555.0" y1="280.0" x2="546.3" y2="285.9" stroke="#ee0000" stroke-width="1.6"/>
<line x1="561.8" y1="42.3" x2="555.0" y2="45.6" stroke="#8ad67a" stroke-width="1.6"/>
<line x1="555.0" y1="45.6" x2="550.6" y2="47.7" stroke="#ee0000" stroke-width="1.6"/>
<line x1="577.2" y1="101.3" x2="572.8" y2="108.5" stroke="#8ad67a" stroke-width="1.6"/>
<line x1="572.8" y1="108.5" x2="569.9" y2="113.4" stroke="#ee0000" stroke-width="1.6"/>
<line x1="584.4" y1="185.0" x2="588.6" y2="184.1" stroke="#8ad67a" stroke-width="1.6"/>
<line x1="588.6" y1="184.1" x2="590.2" y2="183.8" stroke="#ee0000" stroke-width="1.6"/>
<line x1="555.0" y1="31.2" x2="561.4" y2="35.9" stroke="#8ad67a" stroke-width="1.6"/>
<line x1="561.4" y1="35.9" x2="565.7" y2="38.9" stroke="#ee0000" stroke-width="1.6"/>
<line x1="617.6" y1="78.0" x2="619.3" y2="76.0" stroke="#8ad67a" stroke-width="1.6"/>
<line x1="619.3" y1="76.0" x2="619.7" y2="75.5" stroke="#ee0000" stroke-width="1.6"/>
<line x1="613.2" y1="181.9" x2="619.2" y2="184.9" stroke="#8ad67a" stroke-width="1.6"/>
<line x1="619.2" y1="184.9" x2="622.9" y2="186.8" stroke="#ee0000" stroke-width="1.6"/>
<line x1="516.9" y1="89.1" x2="512.9" y2="94.1" stroke="#8ad67a" stroke-width="1.6"/>
<line x1="512.9" y1="94.1" x2="510.6" y2="97.0" stroke="#ee0000" stroke-width="1.6"/>
<line x1="627.0" y1="121.3" x2="626.7" y2="129.2" stroke="#8ad67a" stroke-width="1.6"/>
<line x1="626.7" y1="129.2" x2="626.5" y2="134.4" stroke="#ee0000" stroke-width="1.6"/>
<line x1="518.5" y1="216.4" x2="526.2" y2="218.8" stroke="#e8a000" stroke-width="1.6"/>
<line x1="526.2" y1="218.8" x2="530.9" y2="220.3" stroke="#ee0000" stroke-width="1.6"/>
<line x1="507.8" y1="86.0" x2="509.5" y2="92.8" stroke="#8ad67a" stroke-width="1.6"/>
<line x1="509.5" y1="92.8" x2="510.6" y2="97.0" stroke="#ee0000" stroke-width="1.6"/>
<line x1="609.9" y1="119.1" x2="601.2" y2="122.0" stroke="#e8a000" stroke-width="1.6"/>
<line x1="601.2" y1="122.0" x2="595.5" y2="123.9" stroke="#ee0000" stroke-width="1.6"/>
<line x1="526.2" y1="54.5" x2="523.2" y2="56.0" stroke="#8ad67a" stroke-width="1.6"/>
<line x1="523.2" y1="56.0" x2="522.5" y2="56.4" stroke="#ee0000" stroke-width="1.6"/>
<line x1="555.0" y1="31.2" x2="558.2" y2="24.0" stroke="#8ad67a" stroke-width="1.6"/>
<line x1="558.2" y1="24.0" x2="560.3" y2="19.3" stroke="#ee0000" stroke-width="1.6"/>
<line x1="518.5" y1="216.4" x2="523.0" y2="216.5" stroke="#e8a000" stroke-width="1.6"/>
<line x1="523.0" y1="216.5" x2="524.3" y2="216.5" stroke="#ee0000" stroke-width="1.6"/>
<line x1="514.7" y1="40.6" x2="513.9" y2="40.1" stroke="#8ad67a" stroke-width="1.6"/>
<line x1="513.9" y1="40.1" x2="513.8" y2="39.9" stroke="#ee0000" stroke-width="1.6"/>
<line x1="614.1" y1="265.6" x2="615.8" y2="262.7" stroke="#8ad67a" stroke-width="1.6"/>
<line x1="615.8" y1="262.7" x2="616.2" y2="262.0" stroke="#ee0000" stroke-width="1.6"/>
<line x1="518.5" y1="278.4" x2="525.9" y2="278.5" stroke="#e8a000" stroke-width="1.6"/>
<line x1="525.9" y1="278.5" x2="530.2" y2="278.6" stroke="#ee0000" stroke-width="1.6"/>
<line x1="624.8" y1="50.2" x2="613.6" y2="47.3" stroke="#8ad67a" stroke-width="1.6"/>
<line x1="613.6" y1="47.3" x2="605.0" y2="45.1" stroke="#ee0000" stroke-width="1.6"/>
<line x1="613.0" y1="30.0" x2="613.6" y2="28.7" stroke="#8ad67a" stroke-width="1.6"/>
<line x1="613.6" y1="28.7" x2="613.7" y2="28.4" stroke="#ee0000" stroke-width="1.6"/>
<line x1="514.6" y1="282.2" x2="510.1" y2="285.3" stroke="#8ad67a" stroke-width="1.6"/>
<line x1="510.1" y1="285.3" x2="507.7" y2="286.8" stroke="#ee0000" stroke-width="1.6"/>
<line x1="590.6" y1="49.1" x2="587.2" y2="45.4" stroke="#8ad67a" stroke-width="1.6"/>
<line x1="587.2" y1="45.4" x2="585.7" y2="43.7" stroke="#ee0000" stroke-width="1.6"/>
<line x1="533.5" y1="76.4" x2="526.0" y2="76.1" stroke="#8ad67a" stroke-width="1.6"/>
<line x1="526.0" y1="76.1" x2="521.2" y2="76.0" stroke="#ee0000" stroke-width="1.6"/>
<line x1="625.5" y1="128.3" x2="620.0" y2="123.4" stroke="#8ad67a" stroke-width="1.6"/>
<line x1="620.0" y1="123.4" x2="616.5" y2="120.2" stroke="#ee0000" stroke-width="1.6"/>
<line x1="537.7" y1="109.5" x2="541.6" y2="106.8" stroke="#8ad67a" stroke-width="1.6"/>
<line x1="541.6" y1="106.8" x2="543.3" y2="105.6" stroke="#ee0000" stroke-width="1.6"/>
<line x1="548.4" y1="60.1" x2="549.8" y2="52.3" stroke="#e8a000" stroke-width="1.6"/>
<line x1="549.8" y1="52.3" x2="550.6" y2="47.7" stroke="#ee0000" stroke-width="1.6"/>
<line x1="598.6" y1="129.1" x2="594.0" y2="133.1" stroke="#8ad67a" stroke-width="1.6"/>
<line x1="594.0" y1="133.1" x2="591.4" y2="135.4" stroke="#ee0000" stroke-width="1.6"/>
<line x1="526.2" y1="54.5" x2="524.9" y2="53.0" stroke="#8ad67a" stroke-width="1.6"/>
<line x1="524.9" y1="53.0" x2="524.6" y2="52.6" stroke="#ee0000" stroke-width="1.6"/>
<line x1="602.4" y1="71.2" x2="599.7" y2="75.2" stroke="#8ad67a" stroke-width="1.6"/>
<line x1="599.7" y1="75.2" x2="598.5" y2="76.9" stroke="#ee0000" stroke-width="1.6"/>
<line x1="542.0" y1="227.0" x2="542.3" y2="234.2" stroke="#8ad67a" stroke-width="1.6"/>
<line x1="542.3" y1="234.2" x2="542.5" y2="238.7" stroke="#ee0000" stroke-width="1.6"/>
<line x1="515.3" y1="90.3" x2="519.3" y2="87.6" stroke="#e8a000" stroke-width="1.6"/>
<line x1="519.3" y1="87.6" x2="520.6" y2="86.7" stroke="#ee0000" stroke-width="1.6"/>
<line x1="546.2" y1="47.9" x2="539.6" y2="52.6" stroke="#8ad67a" stroke-width="1.6"/>
<line x1="539.6" y1="52.6" x2="535.2" y2="55.7" stroke="#ee0000" stroke-width="1.6"/>
<line x1="580.0" y1="150.7" x2="575.3" y2="151.9" stroke="#e8a000" stroke-width="1.6"/>
<line x1="575.3" y1="151.9" x2="573.8" y2="152.3" stroke="#ee0000" stroke-width="1.6"/>
<line x1="616.3" y1="277.3" x2="611.5" y2="267.5" stroke="#8ad67a" stroke-width="1.6"/>
<line x1="611.5" y1="267.5" x2="607.9" y2="260.2" stroke="#ee0000" stroke-width="1.6"/>
<line x1="532.0" y1="208.2" x2="527.5" y2="211.4" stroke="#8ad67a" stroke-width="1.6"/>
<line x1="527.5" y1="211.4" x2="525.2" y2="213.1" stroke="#ee0000" stroke-width="1.6"/>
<line x1="624.8" y1="214.3" x2="617.6" y2="215.6" stroke="#8ad67a" stroke-width="1.6"/>
<line x1="617.6" y1="215.6" x2="613.1" y2="216.4" stroke="#ee0000" stroke-width="1.6"/>
<line x1="592.8" y1="279.0" x2="592.3" y2="281.7" stroke="#0000e6" stroke-width="1.6"/>
<line x1="592.3" y1="281.7" x2="592.2" y2="282.4" stroke="#ee0000" stroke-width="1.6"/>
<line x1="608.8" y1="237.8" x2="604.6" y2="244.5" stroke="#e8a000" stroke-width="1.6"/>
<line x1="604.6" y1="244.5" x2="602.2" y2="248.5" stroke="#ee0000" stroke-width="1.6"/>
<line x1="520.6" y1="246.3" x2="528.0" y2="235.2" stroke="#0000e6" stroke-width="1.6"/>
<line x1="528.0" y1="235.2" x2="533.2" y2="227.5" stroke="#ee0000" stroke-width="1.6"/>
<line x1="595.2" y1="269.5" x2="596.2" y2="268.6" stroke="#8ad67a" stroke-width="1.6"/>
<line x1="596.2" y1="268.6" x2="596.4" y2="268.3" stroke="#ee0000" stroke-width="1.6"/>
<line x1="502.5" y1="221.8" x2="508.3" y2="237.4" stroke="#0000e6" stroke-width="1.6"/>
<line x1="508.3" y1="237.4" x2="512.6" y2="249.2" stroke="#ee0000" stroke-width="1.6"/>
<line x1="591.7" y1="32.0" x2="590.4" y2="25.4" stroke="#88d878" stroke-width="1.6"/>
<line x1="590.4" y1="25.4" x2="589.6" y2="21.4" stroke="#ee0000" stroke-width="1.6"/>
<line x1="580.0" y1="237.8" x2="573.4" y2="237.6" stroke="#8ad67a" stroke-width="1.6"/>
<line x1="573.4" y1="237.6" x2="569.6" y2="237.4" stroke="#ee0000" stroke-width="1.6"/>
<line x1="518.5" y1="149.6" x2="514.1" y2="140.9" stroke="#e8a000" stroke-width="1.6"/>
<line x1="514.1" y1="140.9" x2="511.2" y2="135.0" stroke="#ee0000" stroke-width="1.6"/>
<line x1="627.0" y1="121.3" x2="620.4" y2="120.6" stroke="#8ad67a" stroke-width="1.6"/>
<line x1="620.4" y1="120.6" x2="616.5" y2="120.2" stroke="#ee0000" stroke-width="1.6"/>
<line x1="502.1" y1="79.5" x2="508.6" y2="76.0" stroke="#8ad67a" stroke-width="1.6"/>
<line x1="508.6" y1="76.0" x2="512.7" y2="73.8" stroke="#ee0000" stroke-width="1.6"/>
<line x1="511.2" y1="188.7" x2="512.4" y2="180.3" stroke="#8ad67a" stroke-width="1.6"/>
<line x1="512.4" y1="180.3" x2="513.3" y2="174.6" stroke="#ee0000" stroke-width="1.6"/>
<line x1="626.5" y1="252.2" x2="621.9" y2="255.0" stroke="#8ad67a" stroke-width="1.6"/>
<line x1="621.9" y1="255.0" x2="619.7" y2="256.3" stroke="#ee0000" stroke-width="1.6"/>
<line x1="555.1" y1="52.0" x2="562.2" y2="53.6" stroke="#8ad67a" stroke-width="1.6"/>
<line x1="562.2" y1="53.6" x2="566.7" y2="54.6" stroke="#ee0000" stroke-width="1.6"/>
<line x1="582.1" y1="179.5" x2="597.7" y2="175.2" stroke="#0000e6" stroke-width="1.6"/>
<line x1="597.7" y1="175.2" x2="609.4" y2="172.1" stroke="#ee0000" stroke-width="1.6"/>
<line x1="559.1" y1="227.1" x2="557.0" y2="226.3" stroke="#8ad67a" stroke-width="1.6"/>
<line x1="557.0" y1="226.3" x2="556.4" y2="226.2" stroke="#ee0000" stroke-width="1.6"/>
<line x1="535.0" y1="41.2" x2="533.7" y2="45.9" stroke="#8ad67a" stroke-width="1.6"/>
<line x1="533.7" y1="45.9" x2="533.1" y2="48.0" stroke="#ee0000" stroke-width="1.6"/>
<line x1="518.5" y1="149.6" x2="518.4" y2="157.6" stroke="#e8a000" stroke-width="1.6"/>
<line x1="518.4" y1="157.6" x2="518.3" y2="162.3" stroke="#ee0000" stroke-width="1.6"/>
<line x1="622.7" y1="191.3" x2="623.9" y2="196.9" stroke="#8ad67a" stroke-width="1.6"/>
<line x1="623.9" y1="196.9" x2="624.6" y2="199.9" stroke="#ee0000" stroke-width="1.6"/>
<line x1="518.5" y1="266.6" x2="525.5" y2="262.0" stroke="#e8a000" stroke-width="1.6"/>
<line x1="525.5" y1="262.0" x2="529.8" y2="259.1" stroke="#ee0000" stroke-width="1.6"/>
<line x1="568.6" y1="40.5" x2="566.2" y2="39.2" stroke="#8ad67a" stroke-width="1.6"/>
<line x1="566.2" y1="39.2" x2="565.7" y2="38.9" stroke="#ee0000" stroke-width="1.6"/>
<line x1="551.6" y1="253.8" x2="553.9" y2="237.2" stroke="#0000e6" stroke-width="1.6"/>
<line x1="553.9" y1="237.2" x2="555.7" y2="224.6" stroke="#ee0000" stroke-width="1.6"/>
<line x1="565.5" y1="174.2" x2="569.6" y2="170.6" stroke="#8ad67a" stroke-width="1.6"/>
<line x1="569.6" y1="170.6" x2="571.6" y2="168.8" stroke="#ee0000" stroke-width="1.6"/>
<line x1="524.1" y1="212.3" x2="519.5" y2="212.2" stroke="#8ad67a" stroke-width="1.6"/>
<line x1="519.5" y1="212.2" x2="517.6" y2="212.2" stroke="#ee0000" stroke-width="1.6"/>
<line x1="605.6" y1="77.5" x2="605.8" y2="70.2" stroke="#8ad67a" stroke-width="1.6"/>
<line x1="605.8" y1="70.2" x2="606.0" y2="65.6" stroke="#ee0000" stroke-width="1.6"/>
<line x1="625.9" y1="132.0" x2="628.0" y2="128.3" stroke="#8ad67a" stroke-width="1.6"/>
<line x1="628.0" y1="128.3" x2="628.8" y2="127.0" stroke="#ee0000" stroke-width="1.6"/>
<line x1="526.2" y1="54.5" x2="522.9" y2="52.9" stroke="#8ad67a" stroke-width="1.6"/>
<line x1="522.9" y1="52.9" x2="522.1" y2="52.5" stroke="#ee0000" stroke-width="1.6"/>
<line x1="609.9" y1="119.1" x2="604.6" y2="114.1" stroke="#e8a000" stroke-width="1.6"/>
<line x1="604.6" y1="114.1" x2="601.7" y2="111.3" stroke="#ee0000" stroke-width="1.6"/>
<line x1="568.2" y1="86.0" x2="570.6" y2="83.3" stroke="#8ad67a" stroke-width="1.6"/>
<line x1="570.6" y1="83.3" x2="571.2" y2="82.7" stroke="#ee0000" stroke-width="1.6"/>
<line x1="517.3" y1="63.4" x2="531.7" y2="62.6" stroke="#0000e6" stroke-width="1.6"/>
<line x1="531.7" y1="62.6" x2="542.0" y2="62.0" stroke="#ee0000" stroke-width="1.6"/>
<line x1="580.0" y1="208.4" x2="577.3" y2="216.3" stroke="#e8a000" stroke-width="1.6"/>
<line x1="577.3" y1="216.3" x2="575.7" y2="221.1" stroke="#ee0000" stroke-width="1.6"/>
<line x1="581.4" y1="231.2" x2="581.4" y2="232.4" stroke="#8ad67a" stroke-width="1.6"/>
<line x1="581.4" y1="232.4" x2="581.4" y2="232.7" stroke="#ee0000" stroke-width="1.6"/>
<line x1="515.3" y1="90.3" x2="519.9" y2="90.8" stroke="#e8a000" stroke-width="1.6"/>
<line x1="519.9" y1="90.8" x2="521.3" y2="90.9" stroke="#ee0000" stroke-width="1.6"/>
<line x1="566.0" y1="177.7" x2="558.7" y2="181.1" stroke="#8ad67a" stroke-width="1.6"/>
<line x1="558.7" y1="181.1" x2="553.8" y2="183.3" stroke="#ee0000" stroke-width="1.6"/>
<line x1="624.8" y1="239.9" x2="624.1" y2="231.2" stroke="#8ad67a" stroke-width="1.6"/>
<line x1="624.1" y1="231.2" x2="623.6" y2="225.1" stroke="#ee0000" stroke-width="1.6"/>
<line x1="569.3" y1="20.3" x2="574.9" y2="16.1" stroke="#8ad67a" stroke-width="1.6"/>
<line x1="574.9" y1="16.1" x2="578.3" y2="13.6" stroke="#ee0000" stroke-width="1.6"/>
<line x1="590.6" y1="166.7" x2="595.6" y2="167.4" stroke="#8ad67a" stroke-width="1.6"/>
<line x1="595.6" y1="167.4" x2="598.0" y2="167.7" stroke="#ee0000" stroke-width="1.6"/>
<line x1="526.2" y1="252.2" x2="524.2" y2="257.9" stroke="#8ad67a" stroke-width="1.6"/>
<line x1="524.2" y1="257.9" x2="523.1" y2="261.0" stroke="#ee0000" stroke-width="1.6"/>
<line x1="577.2" y1="101.3" x2="574.2" y2="92.3" stroke="#8ad67a" stroke-width="1.6"/>
<line x1="574.2" y1="92.3" x2="572.1" y2="85.8" stroke="#ee0000" stroke-width="1.6"/>
<line x1="547.4" y1="283.4" x2="551.6" y2="289.0" stroke="#88d878" stroke-width="1.6"/>
<line x1="551.6" y1="289.0" x2="554.1" y2="292.4" stroke="#ee0000" stroke-width="1.6"/>
<line x1="546.2" y1="47.9" x2="538.3" y2="47.9" stroke="#8ad67a" stroke-width="1.6"/>
<line x1="538.3" y1="47.9" x2="533.1" y2="48.0" stroke="#ee0000" stroke-width="1.6"/>
<line x1="519.6" y1="119.1" x2="526.5" y2="122.2" stroke="#0000e6" stroke-width="1.6"/>
<line x1="526.5" y1="122.2" x2="529.7" y2="123.7" stroke="#ee0000" stroke-width="1.6"/>
<line x1="582.1" y1="179.5" x2="583.2" y2="193.9" stroke="#0000e6" stroke-width="1.6"/>
<line x1="583.2" y1="193.9" x2="584.0" y2="204.2" stroke="#ee0000" stroke-width="1.6"/>
<line x1="536.2" y1="30.0" x2="534.3" y2="41.0" stroke="#0000e6" stroke-width="1.6"/>
<line x1="534.3" y1="41.0" x2="533.1" y2="48.0" stroke="#ee0000" stroke-width="1.6"/>
<line x1="525.0" y1="132.0" x2="528.0" y2="126.7" stroke="#8ad67a" stroke-width="1.6"/>
<line x1="528.0" y1="126.7" x2="529.7" y2="123.7" stroke="#ee0000" stroke-width="1.6"/>
<line x1="523.8" y1="76.4" x2="527.8" y2="72.7" stroke="#8ad67a" stroke-width="1.6"/>
<line x1="527.8" y1="72.7" x2="529.8" y2="70.8" stroke="#ee0000" stroke-width="1.6"/>
<line x1="587.4" y1="72.1" x2="585.2" y2="77.3" stroke="#8ad67a" stroke-width="1.6"/>
<line x1="585.2" y1="77.3" x2="584.0" y2="80.0" stroke="#ee0000" stroke-width="1.6"/>
<line x1="622.7" y1="41.7" x2="620.0" y2="33.4" stroke="#8ad67a" stroke-width="1.6"/>
<line x1="620.0" y1="33.4" x2="618.2" y2="27.7" stroke="#ee0000" stroke-width="1.6"/>
<line x1="569.3" y1="100.0" x2="573.2" y2="114.0" stroke="#0000e6" stroke-width="1.6"/>
<line x1="573.2" y1="114.0" x2="576.1" y2="124.1" stroke="#ee0000" stroke-width="1.6"/>
<line x1="569.3" y1="107.4" x2="574.1" y2="105.2" stroke="#8ad67a" stroke-width="1.6"/>
<line x1="574.1" y1="105.2" x2="576.5" y2="104.2" stroke="#ee0000" stroke-width="1.6"/>
<line x1="606.7" y1="54.5" x2="606.3" y2="61.4" stroke="#8ad67a" stroke-width="1.6"/>
<line x1="606.3" y1="61.4" x2="606.0" y2="65.6" stroke="#ee0000" stroke-width="1.6"/>
<line x1="565.5" y1="174.2" x2="564.9" y2="167.3" stroke="#8ad67a" stroke-width="1.6"/>
<line x1="564.9" y1="167.3" x2="564.5" y2="163.1" stroke="#ee0000" stroke-width="1.6"/>
<line x1="603.5" y1="106.3" x2="596.5" y2="108.7" stroke="#8ad67a" stroke-width="1.6"/>
<line x1="596.5" y1="108.7" x2="592.0" y2="110.2" stroke="#ee0000" stroke-width="1.6"/>
<line x1="540.3" y1="255.1" x2="542.4" y2="255.1" stroke="#8ad67a" stroke-width="1.6"/>
<line x1="542.4" y1="255.1" x2="542.9" y2="255.1" stroke="#ee0000" stroke-width="1.6"/>
<line x1="518.5" y1="266.6" x2="521.8" y2="262.6" stroke="#e8a000" stroke-width="1.6"/>
<line x1="521.8" y1="262.6" x2="523.1" y2="261.0" stroke="#ee0000" stroke-width="1.6"/>
<line x1="506.9" y1="275.3" x2="508.8" y2="284.4" stroke="#8ad67a" stroke-width="1.6"/>
<line x1="508.8" y1="284.4" x2="510.2" y2="290.9" stroke="#ee0000" stroke-width="1.6"/>
<line x1="612.0" y1="165.6" x2="613.6" y2="179.4" stroke="#0000e6" stroke-width="1.6"/>
<line x1="613.6" y1="179.4" x2="614.8" y2="189.3" stroke="#ee0000" stroke-width="1.6"/>
<line x1="612.0" y1="165.6" x2="597.2" y2="166.1" stroke="#0000e6" stroke-width="1.6"/>
<line x1="597.2" y1="166.1" x2="586.5" y2="166.5" stroke="#ee0000" stroke-width="1.6"/>
<line x1="526.2" y1="252.2" x2="526.6" y2="250.3" stroke="#8ad67a" stroke-width="1.6"/>
<line x1="526.6" y1="250.3" x2="526.7" y2="249.8" stroke="#ee0000" stroke-width="1.6"/>
<line x1="594.9" y1="95.6" x2="592.7" y2="106.9" stroke="#0000e6" stroke-width="1.6"/>
<line x1="592.7" y1="106.9" x2="591.3" y2="114.3" stroke="#ee0000" stroke-width="1.6"/>
<line x1="613.1" y1="147.5" x2="607.4" y2="139.2" stroke="#8ad67a" stroke-width="1.6"/>
<line x1="607.4" y1="139.2" x2="603.1" y2="133.1" stroke="#ee0000" stroke-width="1.6"/>
<line x1="577.8" y1="124.5" x2="577.0" y2="112.3" stroke="#0000e6" stroke-width="1.6"/>
<line x1="577.0" y1="112.3" x2="576.5" y2="104.2" stroke="#ee0000" stroke-width="1.6"/>
<line x1="505.7" y1="218.5" x2="503.0" y2="225.6" stroke="#8ad67a" stroke-width="1.6"/>
<line x1="503.0" y1="225.6" x2="501.3" y2="230.1" stroke="#ee0000" stroke-width="1.6"/>
<line x1="535.0" y1="41.2" x2="535.1" y2="49.8" stroke="#8ad67a" stroke-width="1.6"/>
<line x1="535.1" y1="49.8" x2="535.2" y2="55.7" stroke="#ee0000" stroke-width="1.6"/>
<line x1="506.8" y1="239.9" x2="503.4" y2="233.8" stroke="#8ad67a" stroke-width="1.6"/>
<line x1="503.4" y1="233.8" x2="501.3" y2="230.1" stroke="#ee0000" stroke-width="1.6"/>
<line x1="532.4" y1="96.7" x2="545.0" y2="89.5" stroke="#0000e6" stroke-width="1.6"/>
<line x1="545.0" y1="89.5" x2="554.1" y2="84.3" stroke="#ee0000" stroke-width="1.6"/>
<line x1="568.6" y1="289.0" x2="566.2" y2="293.0" stroke="#8ad67a" stroke-width="1.6"/>
<line x1="566.2" y1="293.0" x2="565.2" y2="294.6" stroke="#ee0000" stroke-width="1.6"/>
<line x1="557.0" y1="205.2" x2="556.3" y2="199.5" stroke="#8ad67a" stroke-width="1.6"/>
<line x1="556.3" y1="199.5" x2="556.0" y2="196.6" stroke="#ee0000" stroke-width="1.6"/>
<line x1="625.9" y1="113.8" x2="620.1" y2="117.8" stroke="#8ad67a" stroke-width="1.6"/>
<line x1="620.1" y1="117.8" x2="616.5" y2="120.2" stroke="#ee0000" stroke-width="1.6"/>
<line x1="549.5" y1="243.1" x2="557.0" y2="249.6" stroke="#e8a000" stroke-width="1.6"/>
<line x1="557.0" y1="249.6" x2="562.1" y2="254.0" stroke="#ee0000" stroke-width="1.6"/>
<line x1="616.3" y1="277.3" x2="616.3" y2="268.3" stroke="#8ad67a" stroke-width="1.6"/>
<line x1="616.3" y1="268.3" x2="616.2" y2="262.0" stroke="#ee0000" stroke-width="1.6"/>
<line x1="622.7" y1="245.3" x2="620.8" y2="252.1" stroke="#8ad67a" stroke-width="1.6"/>
<line x1="620.8" y1="252.1" x2="619.7" y2="256.3" stroke="#ee0000" stroke-width="1.6"/>
<line x1="592.8" y1="151.8" x2="585.3" y2="154.4" stroke="#8ad67a" stroke-width="1.6"/>
<line x1="585.3" y1="154.4" x2="580.3" y2="156.1" stroke="#ee0000" stroke-width="1.6"/>
<line x1="518.5" y1="266.6" x2="514.5" y2="262.3" stroke="#e8a000" stroke-width="1.6"/>
<line x1="514.5" y1="262.3" x2="512.7" y2="260.4" stroke="#ee0000" stroke-width="1.6"/>
<line x1="569.7" y1="256.7" x2="575.0" y2="257.8" stroke="#8ad67a" stroke-width="1.6"/>
<line x1="575.0" y1="257.8" x2="577.6" y2="258.4" stroke="#ee0000" stroke-width="1.6"/>
<line x1="535.6" y1="147.5" x2="548.3" y2="154.0" stroke="#0000e6" stroke-width="1.6"/>
<line x1="548.3" y1="154.0" x2="557.5" y2="158.7" stroke="#ee0000" stroke-width="1.6"/>
<line x1="563.4" y1="269.8" x2="548.1" y2="263.2" stroke="#0000e6" stroke-width="1.6"/>
<line x1="548.1" y1="263.2" x2="536.4" y2="258.2" stroke="#ee0000" stroke-width="1.6"/>
<line x1="627.0" y1="250.6" x2="620.7" y2="257.3" stroke="#8ad67a" stroke-width="1.6"/>
<line x1="620.7" y1="257.3" x2="616.2" y2="262.0" stroke="#ee0000" stroke-width="1.6"/>
<line x1="614.1" y1="86.0" x2="617.5" y2="79.5" stroke="#8ad67a" stroke-width="1.6"/>
<line x1="617.5" y1="79.5" x2="619.7" y2="75.5" stroke="#ee0000" stroke-width="1.6"/>
<line x1="538.8" y1="208.4" x2="532.0" y2="205.5" stroke="#8ad67a" stroke-width="1.6"/>
<line x1="532.0" y1="205.5" x2="527.6" y2="203.7" stroke="#ee0000" stroke-width="1.6"/>
<line x1="622.7" y1="166.7" x2="614.8" y2="169.9" stroke="#8ad67a" stroke-width="1.6"/>
<line x1="614.8" y1="169.9" x2="609.4" y2="172.1" stroke="#ee0000" stroke-width="1.6"/>
<line x1="608.8" y1="237.8" x2="608.2" y2="234.0" stroke="#e8a000" stroke-width="1.6"/>
<line x1="608.2" y1="234.0" x2="608.0" y2="233.1" stroke="#ee0000" stroke-width="1.6"/>
<line x1="516.9" y1="89.1" x2="519.8" y2="87.2" stroke="#8ad67a" stroke-width="1.6"/>
<line x1="519.8" y1="87.2" x2="520.6" y2="86.7" stroke="#ee0000" stroke-width="1.6"/>
<line x1="580.0" y1="33.1" x2="579.9" y2="36.5" stroke="#e8a000" stroke-width="1.6"/>
<line x1="579.9" y1="36.5" x2="579.8" y2="37.4" stroke="#ee0000" stroke-width="1.6"/>
<line x1="532.0" y1="208.2" x2="528.0" y2="205.1" stroke="#8ad67a" stroke-width="1.6"/>
<line x1="528.0" y1="205.1" x2="526.0" y2="203.6" stroke="#ee0000" stroke-width="1.6"/>
<line x1="505.7" y1="179.5" x2="505.9" y2="168.8" stroke="#8ad67a" stroke-width="1.6"/>
<line x1="505.9" y1="168.8" x2="506.1" y2="160.9" stroke="#ee0000" stroke-width="1.6"/>
<line x1="551.6" y1="253.8" x2="544.4" y2="253.6" stroke="#0000e6" stroke-width="1.6"/>
<line x1="544.4" y1="253.6" x2="541.1" y2="253.6" stroke="#ee0000" stroke-width="1.6"/>
<line x1="507.8" y1="86.0" x2="503.3" y2="86.1" stroke="#8ad67a" stroke-width="1.6"/>
<line x1="503.3" y1="86.1" x2="501.5" y2="86.1" stroke="#ee0000" stroke-width="1.6"/>
<line x1="551.6" y1="253.8" x2="549.3" y2="270.0" stroke="#0000e6" stroke-width="1.6"/>
<line x1="549.3" y1="270.0" x2="547.6" y2="282.3" stroke="#ee0000" stroke-width="1.6"/>
<line x1="536.2" y1="30.0" x2="527.9" y2="19.8" stroke="#0000e6" stroke-width="1.6"/>
<line x1="527.9" y1="19.8" x2="522.1" y2="12.7" stroke="#ee0000" stroke-width="1.6"/>
<line x1="533.4" y1="74.3" x2="526.0" y2="75.3" stroke="#8ad67a" stroke-width="1.6"/>
<line x1="526.0" y1="75.3" x2="521.2" y2="76.0" stroke="#ee0000" stroke-width="1.6"/>
<line x1="516.4" y1="208.4" x2="522.7" y2="205.3" stroke="#e8a000" stroke-width="1.6"/>
<line x1="522.7" y1="205.3" x2="526.0" y2="203.6" stroke="#ee0000" stroke-width="1.6"/>
<line x1="624.8" y1="261.3" x2="616.5" y2="259.7" stroke="#8ad67a" stroke-width="1.6"/>
<line x1="616.5" y1="259.7" x2="610.8" y2="258.6" stroke="#ee0000" stroke-width="1.6"/>
<line x1="607.7" y1="136.2" x2="598.2" y2="135.7" stroke="#8ad67a" stroke-width="1.6"/>
<line x1="598.2" y1="135.7" x2="591.4" y2="135.4" stroke="#ee0000" stroke-width="1.6"/>
<line x1="613.1" y1="147.5" x2="614.7" y2="151.3" stroke="#8ad67a" stroke-width="1.6"/>
<line x1="614.7" y1="151.3" x2="615.3" y2="152.6" stroke="#ee0000" stroke-width="1.6"/>
<line x1="622.7" y1="166.7" x2="623.9" y2="172.1" stroke="#8ad67a" stroke-width="1.6"/>
<line x1="623.9" y1="172.1" x2="624.5" y2="174.8" stroke="#ee0000" stroke-width="1.6"/>
<line x1="526.8" y1="272.0" x2="529.1" y2="276.5" stroke="#8ad67a" stroke-width="1.6"/>
<line x1="529.1" y1="276.5" x2="530.2" y2="278.6" stroke="#ee0000" stroke-width="1.6"/>
<line x1="551.6" y1="136.2" x2="541.7" y2="146.9" stroke="#0000e6" stroke-width="1.6"/>
<line x1="541.7" y1="146.9" x2="534.4" y2="154.7" stroke="#ee0000" stroke-width="1.6"/>
<line x1="547.4" y1="283.4" x2="550.8" y2="289.4" stroke="#8ad67a" stroke-width="1.6"/>
<line x1="550.8" y1="289.4" x2="552.8" y2="293.0" stroke="#ee0000" stroke-width="1.6"/>
<line x1="504.1" y1="95.0" x2="502.5" y2="94.0" stroke="#8ad67a" stroke-width="1.6"/>
<line x1="502.5" y1="94.0" x2="502.2" y2="93.7" stroke="#ee0000" stroke-width="1.6"/>
<line x1="518.5" y1="216.4" x2="517.8" y2="213.0" stroke="#e8a000" stroke-width="1.6"/>
<line x1="517.8" y1="213.0" x2="517.6" y2="212.2" stroke="#ee0000" stroke-width="1.6"/>
<line x1="549.5" y1="243.1" x2="544.7" y2="240.1" stroke="#e8a000" stroke-width="1.6"/>
<line x1="544.7" y1="240.1" x2="542.5" y2="238.7" stroke="#ee0000" stroke-width="1.6"/>
<line x1="625.9" y1="132.0" x2="616.2" y2="136.3" stroke="#8ad67a" stroke-width="1.6"/>
<line x1="616.2" y1="136.3" x2="608.9" y2="139.5" stroke="#ee0000" stroke-width="1.6"/>
<line x1="548.4" y1="177.4" x2="552.0" y2="170.2" stroke="#e8a000" stroke-width="1.6"/>
<line x1="552.0" y1="170.2" x2="554.2" y2="165.9" stroke="#ee0000" stroke-width="1.6"/>
<line x1="551.6" y1="253.8" x2="537.2" y2="251.5" stroke="#0000e6" stroke-width="1.6"/>
<line x1="537.2" y1="251.5" x2="526.7" y2="249.8" stroke="#ee0000" stroke-width="1.6"/>
<line x1="518.4" y1="32.3" x2="513.3" y2="25.4" stroke="#e8a000" stroke-width="1.6"/>
<line x1="513.3" y1="25.4" x2="510.0" y2="21.2" stroke="#ee0000" stroke-width="1.6"/>
<line x1="628.0" y1="79.6" x2="621.5" y2="78.1" stroke="#8ad67a" stroke-width="1.6"/>
<line x1="621.5" y1="78.1" x2="617.7" y2="77.2" stroke="#ee0000" stroke-width="1.6"/>
<line x1="622.5" y1="68.5" x2="616.2" y2="75.8" stroke="#8ad67a" stroke-width="1.6"/>
<line x1="616.2" y1="75.8" x2="611.7" y2="81.1" stroke="#ee0000" stroke-width="1.6"/>
<line x1="525.0" y1="65.1" x2="523.4" y2="59.5" stroke="#8ad67a" stroke-width="1.6"/>
<line x1="523.4" y1="59.5" x2="522.5" y2="56.4" stroke="#ee0000" stroke-width="1.6"/>
<line x1="580.0" y1="208.4" x2="584.3" y2="216.1" stroke="#e8a000" stroke-width="1.6"/>
<line x1="584.3" y1="216.1" x2="587.0" y2="221.0" stroke="#ee0000" stroke-width="1.6"/>
<line x1="592.8" y1="160.3" x2="592.0" y2="145.8" stroke="#0000e6" stroke-width="1.6"/>
<line x1="592.0" y1="145.8" x2="591.4" y2="135.4" stroke="#ee0000" stroke-width="1.6"/>
<line x1="550.6" y1="195.6" x2="546.5" y2="194.9" stroke="#0000e6" stroke-width="1.6"/>
<line x1="546.5" y1="194.9" x2="545.4" y2="194.7" stroke="#ee0000" stroke-width="1.6"/>
<line x1="542.0" y1="227.0" x2="545.8" y2="225.6" stroke="#8ad67a" stroke-width="1.6"/>
<line x1="545.8" y1="225.6" x2="547.1" y2="225.2" stroke="#ee0000" stroke-width="1.6"/>
<line x1="548.4" y1="125.6" x2="549.7" y2="130.0" stroke="#e8a000" stroke-width="1.6"/>
<line x1="549.7" y1="130.0" x2="550.0" y2="131.3" stroke="#ee0000" stroke-width="1.6"/>
<line x1="599.4" y1="110.5" x2="596.8" y2="112.9" stroke="#8ad67a" stroke-width="1.6"/>
<line x1="596.8" y1="112.9" x2="596.1" y2="113.5" stroke="#ee0000" stroke-width="1.6"/>
<line x1="519.6" y1="119.1" x2="513.2" y2="116.2" stroke="#0000e6" stroke-width="1.6"/>
<line x1="513.2" y1="116.2" x2="510.3" y2="114.9" stroke="#ee0000" stroke-width="1.6"/>
<line x1="607.7" y1="244.2" x2="607.9" y2="237.1" stroke="#e8a000" stroke-width="1.6"/>
<line x1="607.9" y1="237.1" x2="608.0" y2="233.1" stroke="#ee0000" stroke-width="1.6"/>
<line x1="550.6" y1="195.6" x2="548.6" y2="212.4" stroke="#0000e6" stroke-width="1.6"/>
<line x1="548.6" y1="212.4" x2="547.1" y2="225.2" stroke="#ee0000" stroke-width="1.6"/>
<line x1="627.0" y1="196.6" x2="625.1" y2="199.2" stroke="#8ad67a" stroke-width="1.6"/>
<line x1="625.1" y1="199.2" x2="624.6" y2="199.9" stroke="#ee0000" stroke-width="1.6"/>
<line x1="578.9" y1="92.4" x2="572.4" y2="88.9" stroke="#e8a000" stroke-width="1.6"/>
<line x1="572.4" y1="88.9" x2="568.7" y2="86.9" stroke="#ee0000" stroke-width="1.6"/>
<line x1="528.9" y1="92.2" x2="532.3" y2="97.5" stroke="#8ad67a" stroke-width="1.6"/>
<line x1="532.3" y1="97.5" x2="534.3" y2="100.6" stroke="#ee0000" stroke-width="1.6"/>
<line x1="563.4" y1="152.8" x2="576.0" y2="142.1" stroke="#0000e6" stroke-width="1.6"/>
<line x1="576.0" y1="142.1" x2="585.5" y2="134.1" stroke="#ee0000" stroke-width="1.6"/>
<line x1="542.0" y1="227.0" x2="535.3" y2="222.9" stroke="#8ad67a" stroke-width="1.6"/>
<line x1="535.3" y1="222.9" x2="530.9" y2="220.3" stroke="#ee0000" stroke-width="1.6"/>
<line x1="537.4" y1="276.7" x2="532.5" y2="278.0" stroke="#8ad67a" stroke-width="1.6"/>
<line x1="532.5" y1="278.0" x2="530.2" y2="278.6" stroke="#ee0000" stroke-width="1.6"/>
<line x1="510.7" y1="84.4" x2="517.1" y2="88.4" stroke="#8ad67a" stroke-width="1.6"/>
<line x1="517.1" y1="88.4" x2="521.3" y2="90.9" stroke="#ee0000" stroke-width="1.6"/>
<line x1="518.5" y1="216.4" x2="514.3" y2="222.0" stroke="#e8a000" stroke-width="1.6"/>
<line x1="514.3" y1="222.0" x2="512.0" y2="225.0" stroke="#ee0000" stroke-width="1.6"/>
<line x1="574.4" y1="250.3" x2="570.7" y2="249.8" stroke="#8ad67a" stroke-width="1.6"/>
<line x1="570.7" y1="249.8" x2="569.8" y2="249.7" stroke="#ee0000" stroke-width="1.6"/>
<line x1="526.8" y1="272.0" x2="524.2" y2="265.6" stroke="#8ad67a" stroke-width="1.6"/>
<line x1="524.2" y1="265.6" x2="522.6" y2="261.7" stroke="#ee0000" stroke-width="1.6"/>
<line x1="592.8" y1="279.0" x2="591.7" y2="293.2" stroke="#0000e6" stroke-width="1.6"/>
<line x1="591.7" y1="293.2" x2="590.9" y2="303.5" stroke="#ee0000" stroke-width="1.6"/>
<line x1="506.8" y1="121.3" x2="509.2" y2="115.6" stroke="#8ad67a" stroke-width="1.6"/>
<line x1="509.2" y1="115.6" x2="510.5" y2="112.3" stroke="#ee0000" stroke-width="1.6"/>
<line x1="627.0" y1="57.7" x2="616.8" y2="52.5" stroke="#8ad67a" stroke-width="1.6"/>
<line x1="616.8" y1="52.5" x2="609.1" y2="48.5" stroke="#ee0000" stroke-width="1.6"/>
<line x1="579.7" y1="279.0" x2="586.4" y2="280.5" stroke="#e8a000" stroke-width="1.6"/>
<line x1="586.4" y1="280.5" x2="590.0" y2="281.3" stroke="#ee0000" stroke-width="1.6"/>
<line x1="526.2" y1="252.2" x2="528.6" y2="256.8" stroke="#8ad67a" stroke-width="1.6"/>
<line x1="528.6" y1="256.8" x2="529.8" y2="259.1" stroke="#ee0000" stroke-width="1.6"/>
<line x1="561.8" y1="42.3" x2="568.6" y2="43.0" stroke="#8ad67a" stroke-width="1.6"/>
<line x1="568.6" y1="43.0" x2="572.8" y2="43.4" stroke="#ee0000" stroke-width="1.6"/>
<line x1="532.0" y1="208.2" x2="527.2" y2="213.3" stroke="#8ad67a" stroke-width="1.6"/>
<line x1="527.2" y1="213.3" x2="524.3" y2="216.5" stroke="#ee0000" stroke-width="1.6"/>
<line x1="625.9" y1="76.4" x2="621.5" y2="75.7" stroke="#8ad67a" stroke-width="1.6"/>
<line x1="621.5" y1="75.7" x2="619.7" y2="75.5" stroke="#ee0000" stroke-width="1.6"/>
<line x1="518.5" y1="278.4" x2="525.9" y2="283.5" stroke="#e8a000" stroke-width="1.6"/>
<line x1="525.9" y1="283.5" x2="530.7" y2="286.8" stroke="#ee0000" stroke-width="1.6"/>
<line x1="525.3" y1="158.1" x2="524.4" y2="164.5" stroke="#8ad67a" stroke-width="1.6"/>
<line x1="524.4" y1="164.5" x2="523.9" y2="168.2" stroke="#ee0000" stroke-width="1.6"/>
<line x1="578.9" y1="212.1" x2="584.0" y2="217.7" stroke="#e8a000" stroke-width="1.6"/>
<line x1="584.0" y1="217.7" x2="587.0" y2="221.0" stroke="#ee0000" stroke-width="1.6"/>
<line x1="573.5" y1="187.0" x2="569.5" y2="203.3" stroke="#0000e6" stroke-width="1.6"/>
<line x1="569.5" y1="203.3" x2="566.5" y2="215.8" stroke="#ee0000" stroke-width="1.6"/>
<line x1="589.4" y1="35.9" x2="586.9" y2="41.0" stroke="#8ad67a" stroke-width="1.6"/>
<line x1="586.9" y1="41.0" x2="585.7" y2="43.7" stroke="#ee0000" stroke-width="1.6"/>
<line x1="537.7" y1="109.5" x2="537.8" y2="109.6" stroke="#8ad67a" stroke-width="1.6"/>
<line x1="537.8" y1="109.6" x2="537.9" y2="109.6" stroke="#ee0000" stroke-width="1.6"/>
<line x1="564.0" y1="35.6" x2="556.6" y2="29.0" stroke="#0000e6" stroke-width="1.6"/>
<line x1="556.6" y1="29.0" x2="552.2" y2="25.1" stroke="#ee0000" stroke-width="1.6"/>
<line x1="518.5" y1="266.6" x2="512.9" y2="259.5" stroke="#e8a000" stroke-width="1.6"/>
<line x1="512.9" y1="259.5" x2="509.4" y2="254.9" stroke="#ee0000" stroke-width="1.6"/>
<line x1="614.1" y1="203.0" x2="615.5" y2="200.0" stroke="#8ad67a" stroke-width="1.6"/>
<line x1="615.5" y1="200.0" x2="615.9" y2="199.2" stroke="#ee0000" stroke-width="1.6"/>
<line x1="565.5" y1="174.2" x2="562.3" y2="180.1" stroke="#8ad67a" stroke-width="1.6"/>
<line x1="562.3" y1="180.1" x2="560.3" y2="183.7" stroke="#ee0000" stroke-width="1.6"/>
<line x1="624.8" y1="214.3" x2="624.1" y2="221.0" stroke="#8ad67a" stroke-width="1.6"/>
<line x1="624.1" y1="221.0" x2="623.6" y2="225.1" stroke="#ee0000" stroke-width="1.6"/>
<line x1="603.5" y1="106.3" x2="607.2" y2="108.7" stroke="#8ad67a" stroke-width="1.6"/>
<line x1="607.2" y1="108.7" x2="608.6" y2="109.6" stroke="#ee0000" stroke-width="1.6"/>
<line x1="551.6" y1="136.2" x2="550.6" y2="145.3" stroke="#0000e6" stroke-width="1.6"/>
<line x1="550.6" y1="145.3" x2="550.1" y2="150.4" stroke="#ee0000" stroke-width="1.6"/>
<line x1="566.0" y1="177.7" x2="558.8" y2="179.7" stroke="#8ad67a" stroke-width="1.6"/>
<line x1="558.8" y1="179.7" x2="554.1" y2="180.9" stroke="#ee0000" stroke-width="1.6"/>
<line x1="509.5" y1="40.0" x2="516.8" y2="47.2" stroke="#8ad67a" stroke-width="1.6"/>
<line x1="516.8" y1="47.2" x2="522.1" y2="52.5" stroke="#ee0000" stroke-width="1.6"/>
<line x1="552.7" y1="146.4" x2="557.3" y2="143.0" stroke="#8ad67a" stroke-width="1.6"/>
<line x1="557.3" y1="143.0" x2="559.8" y2="141.1" stroke="#ee0000" stroke-width="1.6"/>
<line x1="569.3" y1="223.9" x2="567.4" y2="218.6" stroke="#8ad67a" stroke-width="1.6"/>
<line x1="567.4" y1="218.6" x2="566.5" y2="215.8" stroke="#ee0000" stroke-width="1.6"/>
<line x1="555.0" y1="22.3" x2="558.8" y2="20.2" stroke="#8ad67a" stroke-width="1.6"/>
<line x1="558.8" y1="20.2" x2="560.3" y2="19.3" stroke="#ee0000" stroke-width="1.6"/>
<line x1="624.8" y1="24.6" x2="623.5" y2="29.8" stroke="#8ad67a" stroke-width="1.6"/>
<line x1="623.5" y1="29.8" x2="622.9" y2="32.4" stroke="#ee0000" stroke-width="1.6"/>
<line x1="503.5" y1="270.9" x2="508.8" y2="285.0" stroke="#0000e6" stroke-width="1.6"/>
<line x1="508.8" y1="285.0" x2="512.7" y2="295.4" stroke="#ee0000" stroke-width="1.6"/>
<line x1="624.8" y1="214.3" x2="620.0" y2="216.7" stroke="#8ad67a" stroke-width="1.6"/>
<line x1="620.0" y1="216.7" x2="617.6" y2="217.9" stroke="#ee0000" stroke-width="1.6"/>
<line x1="581.4" y1="231.2" x2="577.9" y2="225.0" stroke="#8ad67a" stroke-width="1.6"/>
<line x1="577.9" y1="225.0" x2="575.7" y2="221.1" stroke="#ee0000" stroke-width="1.6"/>
<line x1="518.5" y1="266.6" x2="516.0" y2="263.9" stroke="#e8a000" stroke-width="1.6"/>
<line x1="516.0" y1="263.9" x2="515.4" y2="263.2" stroke="#ee0000" stroke-width="1.6"/>
<line x1="501.4" y1="105.3" x2="507.5" y2="99.8" stroke="#0000e6" stroke-width="1.6"/>
<line x1="507.5" y1="99.8" x2="510.6" y2="97.0" stroke="#ee0000" stroke-width="1.6"/>
<line x1="563.4" y1="152.8" x2="565.9" y2="149.9" stroke="#0000e6" stroke-width="1.6"/>
<line x1="565.9" y1="149.9" x2="566.6" y2="149.2" stroke="#ee0000" stroke-width="1.6"/>
<line x1="614.1" y1="86.0" x2="616.4" y2="80.3" stroke="#8ad67a" stroke-width="1.6"/>
<line x1="616.4" y1="80.3" x2="617.7" y2="77.2" stroke="#ee0000" stroke-width="1.6"/>
<line x1="506.8" y1="239.9" x2="508.3" y2="248.7" stroke="#8ad67a" stroke-width="1.6"/>
<line x1="508.3" y1="248.7" x2="509.4" y2="254.9" stroke="#ee0000" stroke-width="1.6"/>
<line x1="532.4" y1="96.7" x2="527.7" y2="90.1" stroke="#0000e6" stroke-width="1.6"/>
<line x1="527.7" y1="90.1" x2="525.2" y2="86.7" stroke="#ee0000" stroke-width="1.6"/>
<line x1="535.0" y1="41.2" x2="531.6" y2="43.8" stroke="#8ad67a" stroke-width="1.6"/>
<line x1="531.6" y1="43.8" x2="530.3" y2="44.8" stroke="#ee0000" stroke-width="1.6"/>
<line x1="616.7" y1="147.2" x2="611.8" y2="142.4" stroke="#8ad67a" stroke-width="1.6"/>
<line x1="611.8" y1="142.4" x2="608.9" y2="139.5" stroke="#ee0000" stroke-width="1.6"/>
<line x1="526.2" y1="54.5" x2="525.1" y2="55.6" stroke="#8ad67a" stroke-width="1.6"/>
<line x1="525.1" y1="55.6" x2="524.8" y2="55.9" stroke="#ee0000" stroke-width="1.6"/>
<line x1="565.0" y1="197.2" x2="562.2" y2="189.2" stroke="#8ad67a" stroke-width="1.6"/>
<line x1="562.2" y1="189.2" x2="560.3" y2="183.7" stroke="#ee0000" stroke-width="1.6"/>
<line x1="568.6" y1="289.0" x2="575.5" y2="290.9" stroke="#8ad67a" stroke-width="1.6"/>
<line x1="575.5" y1="290.9" x2="579.8" y2="292.1" stroke="#ee0000" stroke-width="1.6"/>
<line x1="526.2" y1="73.4" x2="522.5" y2="75.3" stroke="#8ad67a" stroke-width="1.6"/>
<line x1="522.5" y1="75.3" x2="521.2" y2="76.0" stroke="#ee0000" stroke-width="1.6"/>
<line x1="587.4" y1="72.1" x2="588.8" y2="74.5" stroke="#8ad67a" stroke-width="1.6"/>
<line x1="588.8" y1="74.5" x2="589.1" y2="75.1" stroke="#ee0000" stroke-width="1.6"/>
<line x1="533.5" y1="76.4" x2="533.2" y2="70.4" stroke="#8ad67a" stroke-width="1.6"/>
<line x1="533.2" y1="70.4" x2="533.0" y2="67.1" stroke="#ee0000" stroke-width="1.6"/>
<line x1="626.0" y1="206.0" x2="621.0" y2="213.0" stroke="#8ad67a" stroke-width="1.6"/>
<line x1="621.0" y1="213.0" x2="617.6" y2="217.9" stroke="#ee0000" stroke-width="1.6"/>
<line x1="561.2" y1="121.3" x2="566.6" y2="116.5" stroke="#8ad67a" stroke-width="1.6"/>
<line x1="566.6" y1="116.5" x2="569.9" y2="113.4" stroke="#ee0000" stroke-width="1.6"/>
<line x1="598.6" y1="129.1" x2="596.4" y2="125.3" stroke="#8ad67a" stroke-width="1.6"/>
<line x1="596.4" y1="125.3" x2="595.5" y2="123.9" stroke="#ee0000" stroke-width="1.6"/>
<line x1="593.8" y1="42.7" x2="587.8" y2="29.8" stroke="#0000e6" stroke-width="1.6"/>
<line x1="587.8" y1="29.8" x2="583.4" y2="20.5" stroke="#ee0000" stroke-width="1.6"/>
<line x1="502.8" y1="35.6" x2="510.4" y2="47.2" stroke="#0000e6" stroke-width="1.6"/>
<line x1="510.4" y1="47.2" x2="515.8" y2="55.4" stroke="#ee0000" stroke-width="1.6"/>
<line x1="513.4" y1="176.5" x2="515.5" y2="171.4" stroke="#8ad67a" stroke-width="1.6"/>
<line x1="515.5" y1="171.4" x2="516.6" y2="168.8" stroke="#ee0000" stroke-width="1.6"/>
<line x1="579.7" y1="279.0" x2="571.5" y2="276.6" stroke="#e8a000" stroke-width="1.6"/>
<line x1="571.5" y1="276.6" x2="566.3" y2="275.1" stroke="#ee0000" stroke-width="1.6"/>
<line x1="622.7" y1="41.7" x2="622.4" y2="46.6" stroke="#8ad67a" stroke-width="1.6"/>
<line x1="622.4" y1="46.6" x2="622.2" y2="48.8" stroke="#ee0000" stroke-width="1.6"/>
<line x1="590.6" y1="166.7" x2="583.1" y2="165.5" stroke="#8ad67a" stroke-width="1.6"/>
<line x1="583.1" y1="165.5" x2="578.4" y2="164.7" stroke="#ee0000" stroke-width="1.6"/>
<line x1="549.5" y1="243.1" x2="545.5" y2="250.5" stroke="#e8a000" stroke-width="1.6"/>
<line x1="545.5" y1="250.5" x2="542.9" y2="255.1" stroke="#ee0000" stroke-width="1.6"/>
<line x1="624.3" y1="233.9" x2="618.0" y2="224.0" stroke="#8ad67a" stroke-width="1.6"/>
<line x1="618.0" y1="224.0" x2="613.1" y2="216.4" stroke="#ee0000" stroke-width="1.6"/>
<line x1="565.0" y1="197.2" x2="572.4" y2="198.1" stroke="#8ad67a" stroke-width="1.6"/>
<line x1="572.4" y1="198.1" x2="577.2" y2="198.7" stroke="#ee0000" stroke-width="1.6"/>
<line x1="561.2" y1="121.3" x2="566.5" y2="118.6" stroke="#8ad67a" stroke-width="1.6"/>
<line x1="566.5" y1="118.6" x2="569.3" y2="117.2" stroke="#ee0000" stroke-width="1.6"/>
<line x1="607.7" y1="204.1" x2="601.1" y2="217.3" stroke="#0000e6" stroke-width="1.6"/>
<line x1="601.1" y1="217.3" x2="596.2" y2="226.9" stroke="#ee0000" stroke-width="1.6"/>
<line x1="567.1" y1="272.0" x2="561.4" y2="269.3" stroke="#0000e6" stroke-width="1.6"/>
<line x1="561.4" y1="269.3" x2="559.2" y2="268.3" stroke="#ee0000" stroke-width="1.6"/>
<line x1="518.4" y1="32.3" x2="523.3" y2="26.1" stroke="#e8a000" stroke-width="1.6"/>
<line x1="523.3" y1="26.1" x2="526.2" y2="22.4" stroke="#ee0000" stroke-width="1.6"/>
<line x1="570.3" y1="254.9" x2="569.9" y2="250.9" stroke="#8ad67a" stroke-width="1.6"/>
<line x1="569.9" y1="250.9" x2="569.8" y2="249.7" stroke="#ee0000" stroke-width="1.6"/>
<line x1="577.2" y1="101.3" x2="576.6" y2="103.6" stroke="#8ad67a" stroke-width="1.6"/>
<line x1="576.6" y1="103.6" x2="576.5" y2="104.2" stroke="#ee0000" stroke-width="1.6"/>
<line x1="559.6" y1="97.3" x2="565.0" y2="91.1" stroke="#8ad67a" stroke-width="1.6"/>
<line x1="565.0" y1="91.1" x2="568.7" y2="86.9" stroke="#ee0000" stroke-width="1.6"/>
<line x1="591.7" y1="32.0" x2="594.6" y2="31.5" stroke="#8ad67a" stroke-width="1.6"/>
<line x1="594.6" y1="31.5" x2="595.3" y2="31.4" stroke="#ee0000" stroke-width="1.6"/>
<line x1="555.1" y1="52.0" x2="552.5" y2="53.5" stroke="#8ad67a" stroke-width="1.6"/>
<line x1="552.5" y1="53.5" x2="551.9" y2="53.8" stroke="#ee0000" stroke-width="1.6"/>
<line x1="611.0" y1="66.2" x2="607.0" y2="65.7" stroke="#e8a000" stroke-width="1.6"/>
<line x1="607.0" y1="65.7" x2="606.0" y2="65.6" stroke="#ee0000" stroke-width="1.6"/>
<line x1="568.2" y1="86.0" x2="564.0" y2="88.7" stroke="#8ad67a" stroke-width="1.6"/>
<line x1="564.0" y1="88.7" x2="562.0" y2="89.9" stroke="#ee0000" stroke-width="1.6"/>
<line x1="572.5" y1="246.6" x2="570.6" y2="240.7" stroke="#8ad67a" stroke-width="1.6"/>
<line x1="570.6" y1="240.7" x2="569.6" y2="237.4" stroke="#ee0000" stroke-width="1.6"/>
<line x1="613.1" y1="107.4" x2="615.3" y2="115.7" stroke="#0000e6" stroke-width="1.6"/>
<line x1="615.3" y1="115.7" x2="616.5" y2="120.2" stroke="#ee0000" stroke-width="1.6"/>
<line x1="572.5" y1="141.3" x2="566.9" y2="139.5" stroke="#8ad67a" stroke-width="1.6"/>
<line x1="566.9" y1="139.5" x2="563.9" y2="138.6" stroke="#ee0000" stroke-width="1.6"/>
<line x1="546.2" y1="47.9" x2="550.0" y2="51.8" stroke="#8ad67a" stroke-width="1.6"/>
<line x1="550.0" y1="51.8" x2="551.9" y2="53.8" stroke="#ee0000" stroke-width="1.6"/>
<line x1="580.0" y1="33.1" x2="583.6" y2="39.8" stroke="#e8a000" stroke-width="1.6"/>
<line x1="583.6" y1="39.8" x2="585.7" y2="43.7" stroke="#ee0000" stroke-width="1.6"/>
<circle cx="526.7" cy="249.8" r="2.3" fill="url(#gr)"/>
<circle cx="526.2" cy="252.2" r="5.0" fill="url(#gl)" stroke="#5a9a4e" stroke-width="0.5"/>
<circle cx="609.7" cy="94.7" r="2.3" fill="url(#gr)"/>
<circle cx="618.1" cy="103.3" r="2.3" fill="url(#gr)"/>
<circle cx="567.9" cy="275.1" r="2.3" fill="url(#gr)"/>
<circle cx="575.2" cy="64.4" r="2.3" fill="url(#gr)"/>
<circle cx="591.0" cy="219.9" r="2.3" fill="url(#gr)"/>
<circle cx="501.3" cy="230.1" r="2.3" fill="url(#gr)"/>
<circle cx="587.0" cy="221.0" r="2.3" fill="url(#gr)"/>
<circle cx="581.9" cy="296.6" r="2.3" fill="url(#gr)"/>
<circle cx="624.5" cy="174.8" r="2.3" fill="url(#gr)"/>
<circle cx="614.8" cy="189.3" r="2.3" fill="url(#gr)"/>
<circle cx="519.1" cy="225.8" r="2.3" fill="url(#gr)"/>
<circle cx="545.4" cy="194.7" r="2.3" fill="url(#gr)"/>
<circle cx="515.8" cy="55.4" r="2.3" fill="url(#gr)"/>
<circle cx="608.9" cy="139.5" r="2.3" fill="url(#gr)"/>
<circle cx="561.8" cy="42.3" r="5.0" fill="url(#gl)" stroke="#5a9a4e" stroke-width="0.5"/>
<circle cx="602.2" cy="248.5" r="2.3" fill="url(#gr)"/>
<circle cx="534.7" cy="165.0" r="2.3" fill="url(#gr)"/>
<circle cx="526.2" cy="73.4" r="5.0" fill="url(#gl)" stroke="#5a9a4e" stroke-width="0.5"/>
<circle cx="571.9" cy="295.7" r="2.3" fill="url(#gr)"/>
<circle cx="507.8" cy="99.7" r="2.3" fill="url(#gr)"/>
<circle cx="538.5" cy="294.6" r="2.3" fill="url(#gr)"/>
<circle cx="619.7" cy="256.3" r="2.3" fill="url(#gr)"/>
<circle cx="524.7" cy="26.8" r="2.3" fill="url(#gr)"/>
<circle cx="561.2" cy="159.2" r="5.0" fill="url(#gl)" stroke="#5a9a4e" stroke-width="0.5"/>
<circle cx="605.6" cy="80.0" r="2.3" fill="url(#gr)"/>
<circle cx="525.2" cy="213.1" r="2.3" fill="url(#gr)"/>
<circle cx="591.7" cy="32.0" r="5.0" fill="url(#gl)" stroke="#5a9a4e" stroke-width="0.5"/>
<circle cx="513.8" cy="39.9" r="2.3" fill="url(#gr)"/>
<circle cx="579.2" cy="145.8" r="2.3" fill="url(#gr)"/>
<circle cx="512.0" cy="225.0" r="2.3" fill="url(#gr)"/>
<circle cx="596.9" cy="262.0" r="2.3" fill="url(#gr)"/>
<circle cx="618.0" cy="203.7" r="2.3" fill="url(#gr)"/>
<circle cx="512.4" cy="205.2" r="2.3" fill="url(#gr)"/>
<circle cx="571.6" cy="221.0" r="2.3" fill="url(#gr)"/>
<circle cx="594.7" cy="191.0" r="2.3" fill="url(#gr)"/>
<circle cx="580.1" cy="160.2" r="2.3" fill="url(#gr)"/>
<circle cx="590.7" cy="122.5" r="2.3" fill="url(#gr)"/>
<circle cx="568.7" cy="86.9" r="2.3" fill="url(#gr)"/>
<circle cx="567.8" cy="232.0" r="2.3" fill="url(#gr)"/>
<circle cx="521.6" cy="192.2" r="2.3" fill="url(#gr)"/>
<circle cx="569.3" cy="203.0" r="5.0" fill="url(#gl)" stroke="#5a9a4e" stroke-width="0.5"/>
<circle cx="545.6" cy="132.0" r="2.3" fill="url(#gr)"/>
<circle cx="546.2" cy="47.9" r="5.0" fill="url(#gl)" stroke="#5a9a4e" stroke-width="0.5"/>
<circle cx="547.6" cy="282.3" r="2.3" fill="url(#gr)"/>
<circle cx="624.6" cy="199.9" r="2.3" fill="url(#gr)"/>
<circle cx="531.7" cy="3.3" r="2.3" fill="url(#gr)"/>
<circle cx="509.1" cy="47.2" r="2.3" fill="url(#gr)"/>
<circle cx="517.0" cy="256.7" r="2.3" fill="url(#gr)"/>
<circle cx="592.8" cy="267.7" r="5.0" fill="url(#gl)" stroke="#5a9a4e" stroke-width="0.5"/>
<circle cx="555.0" cy="31.2" r="5.0" fill="url(#gl)" stroke="#5a9a4e" stroke-width="0.5"/>
<circle cx="569.8" cy="249.7" r="2.3" fill="url(#gr)"/>
<circle cx="513.9" cy="39.4" r="2.3" fill="url(#gr)"/>
<circle cx="567.6" cy="62.0" r="2.3" fill="url(#gr)"/>
<circle cx="517.3" cy="296.9" r="2.3" fill="url(#gr)"/>
<circle cx="526.2" cy="54.5" r="5.0" fill="url(#gl)" stroke="#5a9a4e" stroke-width="0.5"/>
<circle cx="564.5" cy="163.1" r="2.3" fill="url(#gr)"/>
<circle cx="580.5" cy="268.3" r="6.1" fill="url(#go)"/>
<circle cx="516.6" cy="168.8" r="2.3" fill="url(#gr)"/>
<circle cx="594.5" cy="185.8" r="2.3" fill="url(#gr)"/>
<circle cx="589.6" cy="74.4" r="2.3" fill="url(#gr)"/>
<circle cx="590.6" cy="166.7" r="5.0" fill="url(#gl)" stroke="#5a9a4e" stroke-width="0.5"/>
<circle cx="562.6" cy="93.2" r="2.3" fill="url(#gr)"/>
<circle cx="609.9" cy="119.1" r="6.1" fill="url(#go)"/>
<circle cx="610.2" cy="51.7" r="2.3" fill="url(#gr)"/>
<circle cx="579.8" cy="292.1" r="2.3" fill="url(#gr)"/>
<circle cx="539.2" cy="106.2" r="2.3" fill="url(#gr)"/>
<circle cx="559.2" cy="268.3" r="2.3" fill="url(#gr)"/>
<circle cx="607.7" cy="253.8" r="5.0" fill="url(#gl)" stroke="#5a9a4e" stroke-width="0.5"/>
<circle cx="594.7" cy="82.7" r="2.3" fill="url(#gr)"/>
<circle cx="519.0" cy="55.1" r="2.3" fill="url(#gr)"/>
<circle cx="578.9" cy="212.1" r="5.5" fill="url(#go)"/>
<circle cx="601.0" cy="238.9" r="2.3" fill="url(#gr)"/>
<circle cx="503.4" cy="138.5" r="2.3" fill="url(#gr)"/>
<circle cx="569.5" cy="21.0" r="2.3" fill="url(#gr)"/>
<circle cx="607.7" cy="136.2" r="5.0" fill="url(#gl)" stroke="#5a9a4e" stroke-width="0.5"/>
<circle cx="583.4" cy="20.5" r="2.3" fill="url(#gr)"/>
<circle cx="542.0" cy="62.0" r="2.3" fill="url(#gr)"/>
<circle cx="569.3" cy="20.3" r="5.0" fill="url(#gl)" stroke="#5a9a4e" stroke-width="0.5"/>
<circle cx="580.1" cy="188.0" r="2.3" fill="url(#gr)"/>
<circle cx="524.3" cy="216.5" r="2.3" fill="url(#gr)"/>
<circle cx="571.2" cy="82.7" r="2.3" fill="url(#gr)"/>
<circle cx="550.3" cy="143.4" r="2.3" fill="url(#gr)"/>
<circle cx="579.7" cy="279.0" r="5.0" fill="url(#go)"/>
<circle cx="536.9" cy="272.5" r="2.3" fill="url(#gr)"/>
<circle cx="616.2" cy="262.0" r="2.3" fill="url(#gr)"/>
<circle cx="510.8" cy="100.6" r="2.3" fill="url(#gr)"/>
<circle cx="619.9" cy="179.9" r="2.3" fill="url(#gr)"/>
<circle cx="507.2" cy="15.6" r="2.3" fill="url(#gr)"/>
<circle cx="605.6" cy="77.5" r="5.0" fill="url(#gl)" stroke="#5a9a4e" stroke-width="0.5"/>
<circle cx="562.0" cy="89.9" r="2.3" fill="url(#gr)"/>
<circle cx="577.3" cy="257.9" r="2.3" fill="url(#gr)"/>
<circle cx="613.7" cy="11.8" r="2.3" fill="url(#gr)"/>
<circle cx="576.1" cy="124.1" r="2.3" fill="url(#gr)"/>
<circle cx="588.5" cy="190.2" r="5.0" fill="url(#gl)" stroke="#5a9a4e" stroke-width="0.5"/>
<circle cx="554.2" cy="165.9" r="2.3" fill="url(#gr)"/>
<circle cx="569.9" cy="113.4" r="2.3" fill="url(#gr)"/>
<circle cx="542.3" cy="170.7" r="2.3" fill="url(#gr)"/>
<circle cx="546.3" cy="165.6" r="5.0" fill="url(#gl)" stroke="#5a9a4e" stroke-width="0.5"/>
<circle cx="572.5" cy="15.4" r="2.3" fill="url(#gr)"/>
<circle cx="593.0" cy="202.6" r="2.3" fill="url(#gr)"/>
<circle cx="525.9" cy="290.4" r="2.3" fill="url(#gr)"/>
<circle cx="537.7" cy="103.1" r="2.3" fill="url(#gr)"/>
<circle cx="537.4" cy="276.7" r="5.0" fill="url(#gl)" stroke="#5a9a4e" stroke-width="0.5"/>
<circle cx="553.8" cy="183.3" r="2.3" fill="url(#gr)"/>
<circle cx="558.7" cy="257.2" r="2.3" fill="url(#gr)"/>
<circle cx="521.3" cy="90.9" r="2.3" fill="url(#gr)"/>
<circle cx="517.6" cy="212.2" r="2.3" fill="url(#gr)"/>
<circle cx="566.2" cy="56.8" r="5.0" fill="url(#gl)" stroke="#5a9a4e" stroke-width="0.5"/>
<circle cx="561.1" cy="32.3" r="2.3" fill="url(#gr)"/>
<circle cx="555.3" cy="257.7" r="2.3" fill="url(#gr)"/>
<circle cx="588.1" cy="19.4" r="2.3" fill="url(#gr)"/>
<circle cx="575.7" cy="221.1" r="2.3" fill="url(#gr)"/>
<circle cx="523.2" cy="229.1" r="2.3" fill="url(#gr)"/>
<circle cx="559.9" cy="67.6" r="2.3" fill="url(#gr)"/>
<circle cx="519.9" cy="165.1" r="2.3" fill="url(#gr)"/>
<circle cx="546.3" cy="285.9" r="2.3" fill="url(#gr)"/>
<circle cx="535.2" cy="147.0" r="2.3" fill="url(#gr)"/>
<circle cx="523.1" cy="261.0" r="2.3" fill="url(#gr)"/>
<circle cx="603.1" cy="133.1" r="2.3" fill="url(#gr)"/>
<circle cx="529.2" cy="19.7" r="2.3" fill="url(#gr)"/>
<circle cx="530.9" cy="220.3" r="2.3" fill="url(#gr)"/>
<circle cx="533.0" cy="67.1" r="2.3" fill="url(#gr)"/>
<circle cx="529.7" cy="123.7" r="2.3" fill="url(#gr)"/>
<circle cx="559.1" cy="227.1" r="5.0" fill="url(#gl)" stroke="#5a9a4e" stroke-width="0.5"/>
<circle cx="588.3" cy="36.3" r="2.3" fill="url(#gr)"/>
<circle cx="509.4" cy="254.9" r="2.3" fill="url(#gr)"/>
<circle cx="508.8" cy="100.8" r="2.3" fill="url(#gr)"/>
<circle cx="614.1" cy="265.6" r="5.0" fill="url(#gl)" stroke="#5a9a4e" stroke-width="0.5"/>
<circle cx="582.4" cy="175.0" r="2.3" fill="url(#gr)"/>
<circle cx="622.9" cy="32.4" r="2.3" fill="url(#gr)"/>
<circle cx="556.0" cy="196.6" r="2.3" fill="url(#gr)"/>
<circle cx="601.7" cy="111.3" r="2.3" fill="url(#gr)"/>
<circle cx="501.5" cy="86.1" r="2.3" fill="url(#gr)"/>
<circle cx="538.5" cy="61.6" r="2.3" fill="url(#gr)"/>
<circle cx="504.9" cy="171.0" r="2.3" fill="url(#gr)"/>
<circle cx="558.7" cy="147.5" r="2.3" fill="url(#gr)"/>
<circle cx="522.5" cy="20.1" r="2.3" fill="url(#gr)"/>
<circle cx="568.6" cy="289.0" r="5.0" fill="url(#gl)" stroke="#5a9a4e" stroke-width="0.5"/>
<circle cx="614.1" cy="86.0" r="5.0" fill="url(#gl)" stroke="#5a9a4e" stroke-width="0.5"/>
<circle cx="611.0" cy="66.2" r="5.5" fill="url(#go)"/>
<circle cx="589.1" cy="75.1" r="2.3" fill="url(#gr)"/>
<circle cx="591.3" cy="114.3" r="2.3" fill="url(#gr)"/>
<circle cx="595.5" cy="223.0" r="2.3" fill="url(#gr)"/>
<circle cx="539.4" cy="11.0" r="2.3" fill="url(#gr)"/>
<circle cx="522.1" cy="155.3" r="2.3" fill="url(#gr)"/>
<circle cx="552.2" cy="25.1" r="2.3" fill="url(#gr)"/>
<circle cx="608.8" cy="126.6" r="5.5" fill="url(#go)"/>
<circle cx="555.7" cy="224.6" r="2.3" fill="url(#gr)"/>
<circle cx="566.5" cy="215.8" r="2.3" fill="url(#gr)"/>
<circle cx="562.9" cy="271.3" r="2.3" fill="url(#gr)"/>
<circle cx="543.3" cy="105.6" r="2.3" fill="url(#gr)"/>
<circle cx="510.3" cy="114.9" r="2.3" fill="url(#gr)"/>
<circle cx="595.6" cy="222.1" r="2.3" fill="url(#gr)"/>
<circle cx="569.3" cy="107.4" r="5.0" fill="url(#gl)" stroke="#5a9a4e" stroke-width="0.5"/>
<circle cx="516.1" cy="14.5" r="2.3" fill="url(#gr)"/>
<circle cx="593.9" cy="251.2" r="2.3" fill="url(#gr)"/>
<circle cx="603.5" cy="106.3" r="5.0" fill="url(#gl)" stroke="#5a9a4e" stroke-width="0.5"/>
<circle cx="592.2" cy="282.4" r="2.3" fill="url(#gr)"/>
<circle cx="587.4" cy="72.1" r="5.0" fill="url(#gl)" stroke="#5a9a4e" stroke-width="0.5"/>
<circle cx="606.0" cy="65.6" r="2.3" fill="url(#gr)"/>
<circle cx="591.4" cy="135.4" r="2.3" fill="url(#gr)"/>
<circle cx="535.0" cy="41.2" r="5.0" fill="url(#gl)" stroke="#5a9a4e" stroke-width="0.5"/>
<circle cx="596.1" cy="113.5" r="2.3" fill="url(#gr)"/>
<circle cx="538.8" cy="208.4" r="5.0" fill="url(#gl)" stroke="#5a9a4e" stroke-width="0.5"/>
<circle cx="548.4" cy="177.4" r="6.1" fill="url(#go)"/>
<circle cx="556.4" cy="226.2" r="2.3" fill="url(#gr)"/>
<circle cx="570.8" cy="259.5" r="2.3" fill="url(#gr)"/>
<circle cx="520.6" cy="246.3" r="5.3" fill="url(#gb)"/>
<circle cx="565.5" cy="202.0" r="5.0" fill="url(#gl)" stroke="#5a9a4e" stroke-width="0.5"/>
<circle cx="592.0" cy="110.2" r="2.3" fill="url(#gr)"/>
<circle cx="561.0" cy="178.4" r="2.3" fill="url(#gr)"/>
<circle cx="531.8" cy="222.6" r="2.3" fill="url(#gr)"/>
<circle cx="513.3" cy="174.6" r="2.3" fill="url(#gr)"/>
<circle cx="580.0" cy="150.7" r="5.5" fill="url(#go)"/>
<circle cx="530.0" cy="87.1" r="2.3" fill="url(#gr)"/>
<circle cx="593.5" cy="229.2" r="2.3" fill="url(#gr)"/>
<circle cx="503.5" cy="153.9" r="6.9" fill="url(#gb)"/>
<circle cx="581.4" cy="232.7" r="2.3" fill="url(#gr)"/>
<circle cx="568.2" cy="86.0" r="5.0" fill="url(#gl)" stroke="#5a9a4e" stroke-width="0.5"/>
<circle cx="515.3" cy="90.3" r="5.5" fill="url(#go)"/>
<circle cx="586.5" cy="166.5" r="2.3" fill="url(#gr)"/>
<circle cx="583.5" cy="191.9" r="2.3" fill="url(#gr)"/>
<circle cx="534.8" cy="177.8" r="2.3" fill="url(#gr)"/>
<circle cx="542.9" cy="255.1" r="2.3" fill="url(#gr)"/>
<circle cx="518.0" cy="42.0" r="4.4" fill="url(#go)"/>
<circle cx="613.1" cy="216.4" r="2.3" fill="url(#gr)"/>
<circle cx="522.6" cy="261.7" r="2.3" fill="url(#gr)"/>
<circle cx="613.1" cy="107.4" r="6.9" fill="url(#gb)"/>
<circle cx="517.6" cy="126.8" r="2.3" fill="url(#gr)"/>
<circle cx="615.3" cy="152.6" r="2.3" fill="url(#gr)"/>
<circle cx="533.2" cy="227.5" r="2.3" fill="url(#gr)"/>
<circle cx="569.7" cy="256.7" r="5.0" fill="url(#gl)" stroke="#5a9a4e" stroke-width="0.5"/>
<circle cx="573.8" cy="152.3" r="2.3" fill="url(#gr)"/>
<circle cx="595.2" cy="93.2" r="2.3" fill="url(#gr)"/>
<circle cx="615.9" cy="199.2" r="2.3" fill="url(#gr)"/>
<circle cx="596.0" cy="213.2" r="5.3" fill="url(#gb)"/>
<circle cx="525.0" cy="132.0" r="5.0" fill="url(#gl)" stroke="#5a9a4e" stroke-width="0.5"/>
<circle cx="588.8" cy="69.4" r="2.3" fill="url(#gr)"/>
<circle cx="533.1" cy="48.0" r="2.3" fill="url(#gr)"/>
<circle cx="518.5" cy="229.8" r="2.3" fill="url(#gr)"/>
<circle cx="595.3" cy="31.4" r="2.3" fill="url(#gr)"/>
<circle cx="583.1" cy="112.8" r="2.3" fill="url(#gr)"/>
<circle cx="587.8" cy="222.8" r="2.3" fill="url(#gr)"/>
<circle cx="589.6" cy="21.4" r="2.3" fill="url(#gr)"/>
<circle cx="576.5" cy="104.2" r="2.3" fill="url(#gr)"/>
<circle cx="596.4" cy="268.3" r="2.3" fill="url(#gr)"/>
<circle cx="610.8" cy="258.6" r="2.3" fill="url(#gr)"/>
<circle cx="510.5" cy="112.3" r="2.3" fill="url(#gr)"/>
<circle cx="626.5" cy="134.4" r="2.3" fill="url(#gr)"/>
<circle cx="569.3" cy="223.9" r="5.0" fill="url(#gl)" stroke="#5a9a4e" stroke-width="0.5"/>
<circle cx="590.6" cy="218.5" r="5.0" fill="url(#gl)" stroke="#5a9a4e" stroke-width="0.5"/>
<circle cx="589.4" cy="16.5" r="2.3" fill="url(#gr)"/>
<circle cx="589.4" cy="257.2" r="2.3" fill="url(#gr)"/>
<circle cx="611.6" cy="48.1" r="6.9" fill="url(#gb)"/>
<circle cx="585.3" cy="22.4" r="2.3" fill="url(#gr)"/>
<circle cx="564.3" cy="72.6" r="2.3" fill="url(#gr)"/>
<circle cx="517.4" cy="179.5" r="6.4" fill="url(#gb)"/>
<circle cx="607.6" cy="254.5" r="5.0" fill="url(#gl)" stroke="#5a9a4e" stroke-width="0.5"/>
<circle cx="574.1" cy="275.3" r="2.3" fill="url(#gr)"/>
<circle cx="590.6" cy="49.1" r="5.0" fill="url(#gl)" stroke="#5a9a4e" stroke-width="0.5"/>
<circle cx="512.7" cy="295.4" r="2.3" fill="url(#gr)"/>
<circle cx="508.4" cy="264.5" r="2.3" fill="url(#gr)"/>
<circle cx="582.0" cy="62.0" r="6.9" fill="url(#gb)"/>
<circle cx="622.2" cy="48.8" r="2.3" fill="url(#gr)"/>
<circle cx="502.2" cy="93.7" r="2.3" fill="url(#gr)"/>
<circle cx="569.6" cy="237.4" r="2.3" fill="url(#gr)"/>
<circle cx="606.9" cy="171.2" r="2.3" fill="url(#gr)"/>
<circle cx="587.8" cy="153.2" r="2.3" fill="url(#gr)"/>
<circle cx="518.5" cy="266.6" r="6.1" fill="url(#go)"/>
<circle cx="537.3" cy="135.1" r="2.3" fill="url(#gr)"/>
<circle cx="571.6" cy="294.4" r="2.3" fill="url(#gr)"/>
<circle cx="613.7" cy="28.4" r="2.3" fill="url(#gr)"/>
<circle cx="580.0" cy="208.4" r="5.5" fill="url(#go)"/>
<circle cx="524.0" cy="294.6" r="2.3" fill="url(#gr)"/>
<circle cx="558.0" cy="109.5" r="5.0" fill="url(#gl)" stroke="#5a9a4e" stroke-width="0.5"/>
<circle cx="535.6" cy="265.6" r="6.9" fill="url(#gb)"/>
<circle cx="531.5" cy="25.8" r="2.3" fill="url(#gr)"/>
<circle cx="595.4" cy="211.7" r="2.3" fill="url(#gr)"/>
<circle cx="537.8" cy="186.6" r="2.3" fill="url(#gr)"/>
<circle cx="547.8" cy="260.1" r="2.3" fill="url(#gr)"/>
<circle cx="607.7" cy="244.2" r="5.5" fill="url(#go)"/>
<circle cx="538.8" cy="273.0" r="2.3" fill="url(#gr)"/>
<circle cx="552.8" cy="293.0" r="2.3" fill="url(#gr)"/>
<circle cx="512.7" cy="73.8" r="2.3" fill="url(#gr)"/>
<circle cx="502.8" cy="35.6" r="6.6" fill="url(#gb)"/>
<circle cx="512.3" cy="276.8" r="2.3" fill="url(#gr)"/>
<circle cx="518.5" cy="278.4" r="5.5" fill="url(#go)"/>
<circle cx="609.1" cy="48.5" r="2.3" fill="url(#gr)"/>
<circle cx="530.3" cy="44.8" r="2.3" fill="url(#gr)"/>
<circle cx="512.7" cy="260.4" r="2.3" fill="url(#gr)"/>
<circle cx="529.7" cy="120.3" r="2.3" fill="url(#gr)"/>
<circle cx="571.6" cy="168.8" r="2.3" fill="url(#gr)"/>
<circle cx="557.5" cy="158.7" r="2.3" fill="url(#gr)"/>
<circle cx="508.9" cy="110.2" r="2.3" fill="url(#gr)"/>
<circle cx="563.2" cy="78.2" r="2.3" fill="url(#gr)"/>
<circle cx="604.8" cy="209.7" r="2.3" fill="url(#gr)"/>
<circle cx="603.9" cy="53.2" r="2.3" fill="url(#gr)"/>
<circle cx="611.7" cy="81.1" r="2.3" fill="url(#gr)"/>
<circle cx="606.7" cy="54.5" r="5.0" fill="url(#gl)" stroke="#5a9a4e" stroke-width="0.5"/>
<circle cx="529.2" cy="290.3" r="2.3" fill="url(#gr)"/>
<circle cx="524.6" cy="52.6" r="2.3" fill="url(#gr)"/>
<circle cx="563.4" cy="152.8" r="5.3" fill="url(#gb)"/>
<circle cx="565.5" cy="174.2" r="5.0" fill="url(#gl)" stroke="#5a9a4e" stroke-width="0.5"/>
<circle cx="618.9" cy="104.0" r="2.3" fill="url(#gr)"/>
<circle cx="604.9" cy="105.7" r="2.3" fill="url(#gr)"/>
<circle cx="592.8" cy="151.8" r="5.0" fill="url(#gl)" stroke="#5a9a4e" stroke-width="0.5"/>
<circle cx="553.1" cy="116.1" r="2.3" fill="url(#gr)"/>
<circle cx="512.8" cy="108.3" r="2.3" fill="url(#gr)"/>
<circle cx="535.6" cy="147.5" r="6.9" fill="url(#gb)"/>
<circle cx="516.4" cy="208.4" r="5.5" fill="url(#go)"/>
<circle cx="569.3" cy="117.2" r="2.3" fill="url(#gr)"/>
<circle cx="563.9" cy="138.6" r="2.3" fill="url(#gr)"/>
<circle cx="615.4" cy="279.0" r="5.0" fill="url(#gl)" stroke="#5a9a4e" stroke-width="0.5"/>
<circle cx="534.4" cy="154.7" r="2.3" fill="url(#gr)"/>
<circle cx="595.5" cy="123.9" r="2.3" fill="url(#gr)"/>
<circle cx="507.7" cy="286.8" r="2.3" fill="url(#gr)"/>
<circle cx="581.0" cy="120.2" r="5.0" fill="url(#gl)" stroke="#5a9a4e" stroke-width="0.5"/>
<circle cx="521.2" cy="76.0" r="2.3" fill="url(#gr)"/>
<circle cx="592.8" cy="160.3" r="5.3" fill="url(#gb)"/>
<circle cx="561.2" cy="121.3" r="5.0" fill="url(#gl)" stroke="#5a9a4e" stroke-width="0.5"/>
<circle cx="523.8" cy="193.4" r="5.0" fill="url(#gl)" stroke="#5a9a4e" stroke-width="0.5"/>
<circle cx="522.1" cy="247.1" r="2.3" fill="url(#gr)"/>
<circle cx="575.2" cy="187.9" r="2.3" fill="url(#gr)"/>
<circle cx="524.8" cy="55.9" r="2.3" fill="url(#gr)"/>
<circle cx="598.7" cy="259.3" r="2.3" fill="url(#gr)"/>
<circle cx="577.8" cy="124.5" r="6.9" fill="url(#gb)"/>
<circle cx="506.1" cy="160.9" r="2.3" fill="url(#gr)"/>
<circle cx="592.7" cy="270.0" r="2.3" fill="url(#gr)"/>
<circle cx="569.3" cy="100.0" r="4.2" fill="url(#gb)"/>
<circle cx="560.2" cy="156.4" r="2.3" fill="url(#gr)"/>
<circle cx="553.0" cy="248.7" r="2.3" fill="url(#gr)"/>
<circle cx="547.9" cy="196.8" r="2.3" fill="url(#gr)"/>
<circle cx="593.3" cy="146.0" r="2.3" fill="url(#gr)"/>
<circle cx="533.5" cy="76.4" r="5.0" fill="url(#gl)" stroke="#5a9a4e" stroke-width="0.5"/>
<circle cx="502.0" cy="135.4" r="2.3" fill="url(#gr)"/>
<circle cx="580.0" cy="33.1" r="5.5" fill="url(#go)"/>
<circle cx="561.7" cy="92.2" r="2.3" fill="url(#gr)"/>
<circle cx="530.2" cy="278.6" r="2.3" fill="url(#gr)"/>
<circle cx="616.5" cy="120.2" r="2.3" fill="url(#gr)"/>
<circle cx="566.6" cy="149.2" r="2.3" fill="url(#gr)"/>
<circle cx="501.4" cy="105.3" r="6.4" fill="url(#gb)"/>
<circle cx="541.1" cy="253.6" r="2.3" fill="url(#gr)"/>
<circle cx="611.0" cy="184.9" r="6.1" fill="url(#go)"/>
<circle cx="598.0" cy="167.7" r="2.3" fill="url(#gr)"/>
<circle cx="536.2" cy="30.0" r="6.9" fill="url(#gb)"/>
<circle cx="503.5" cy="270.9" r="6.9" fill="url(#gb)"/>
<circle cx="595.0" cy="246.2" r="2.3" fill="url(#gr)"/>
<circle cx="560.2" cy="78.0" r="2.3" fill="url(#gr)"/>
<circle cx="581.8" cy="45.0" r="2.3" fill="url(#gr)"/>
<circle cx="529.2" cy="122.0" r="2.3" fill="url(#gr)"/>
<circle cx="573.5" cy="68.4" r="5.3" fill="url(#gb)"/>
<circle cx="593.2" cy="235.4" r="2.3" fill="url(#gr)"/>
<circle cx="577.2" cy="198.7" r="2.3" fill="url(#gr)"/>
<circle cx="621.2" cy="157.5" r="2.3" fill="url(#gr)"/>
<circle cx="550.1" cy="57.0" r="2.3" fill="url(#gr)"/>
<circle cx="550.6" cy="47.7" r="2.3" fill="url(#gr)"/>
<circle cx="576.5" cy="221.6" r="2.3" fill="url(#gr)"/>
<circle cx="586.5" cy="198.3" r="2.3" fill="url(#gr)"/>
<circle cx="590.9" cy="303.5" r="2.3" fill="url(#gr)"/>
<circle cx="599.6" cy="64.8" r="2.3" fill="url(#gr)"/>
<circle cx="530.7" cy="286.8" r="2.3" fill="url(#gr)"/>
<circle cx="584.0" cy="80.0" r="2.3" fill="url(#gr)"/>
<circle cx="522.5" cy="56.4" r="2.3" fill="url(#gr)"/>
<circle cx="524.9" cy="249.5" r="5.0" fill="url(#gl)" stroke="#5a9a4e" stroke-width="0.5"/>
<circle cx="608.8" cy="237.8" r="6.1" fill="url(#go)"/>
<circle cx="607.9" cy="255.5" r="2.3" fill="url(#gr)"/>
<circle cx="562.8" cy="237.4" r="2.3" fill="url(#gr)"/>
<circle cx="628.8" cy="127.0" r="2.3" fill="url(#gr)"/>
<circle cx="617.7" cy="77.2" r="2.3" fill="url(#gr)"/>
<circle cx="580.3" cy="156.1" r="2.3" fill="url(#gr)"/>
<circle cx="565.7" cy="38.9" r="2.3" fill="url(#gr)"/>
<circle cx="529.8" cy="259.1" r="2.3" fill="url(#gr)"/>
<circle cx="564.0" cy="35.6" r="6.4" fill="url(#gb)"/>
<circle cx="533.5" cy="191.3" r="5.0" fill="url(#gl)" stroke="#5a9a4e" stroke-width="0.5"/>
<circle cx="582.1" cy="179.5" r="6.9" fill="url(#gb)"/>
<circle cx="581.2" cy="262.5" r="2.3" fill="url(#gr)"/>
<circle cx="523.9" cy="168.2" r="2.3" fill="url(#gr)"/>
<circle cx="569.3" cy="175.3" r="5.0" fill="url(#gl)" stroke="#5a9a4e" stroke-width="0.5"/>
<circle cx="582.8" cy="232.8" r="2.3" fill="url(#gr)"/>
<circle cx="566.0" cy="15.0" r="2.3" fill="url(#gr)"/>
<circle cx="565.4" cy="78.5" r="2.3" fill="url(#gr)"/>
<circle cx="549.5" cy="243.1" r="5.5" fill="url(#go)"/>
<circle cx="502.5" cy="221.8" r="6.9" fill="url(#gb)"/>
<circle cx="589.4" cy="293.2" r="2.3" fill="url(#gr)"/>
<circle cx="522.1" cy="12.7" r="2.3" fill="url(#gr)"/>
<circle cx="501.5" cy="102.7" r="2.3" fill="url(#gr)"/>
<circle cx="624.6" cy="107.4" r="2.3" fill="url(#gr)"/>
<circle cx="623.6" cy="225.1" r="2.3" fill="url(#gr)"/>
<circle cx="537.7" cy="109.5" r="5.0" fill="url(#gl)" stroke="#5a9a4e" stroke-width="0.5"/>
<circle cx="563.4" cy="269.8" r="5.8" fill="url(#gb)"/>
<circle cx="560.3" cy="183.7" r="2.3" fill="url(#gr)"/>
<circle cx="542.0" cy="227.0" r="5.0" fill="url(#gl)" stroke="#5a9a4e" stroke-width="0.5"/>
<circle cx="613.1" cy="225.0" r="6.4" fill="url(#gb)"/>
<circle cx="593.9" cy="191.6" r="2.3" fill="url(#gr)"/>
<circle cx="591.8" cy="192.8" r="2.3" fill="url(#gr)"/>
<circle cx="617.7" cy="105.4" r="2.3" fill="url(#gr)"/>
<circle cx="587.4" cy="251.4" r="2.3" fill="url(#gr)"/>
<circle cx="532.4" cy="96.7" r="5.8" fill="url(#gb)"/>
<circle cx="512.6" cy="249.2" r="2.3" fill="url(#gr)"/>
<circle cx="550.1" cy="150.4" r="2.3" fill="url(#gr)"/>
<circle cx="588.3" cy="59.7" r="2.3" fill="url(#gr)"/>
<circle cx="522.1" cy="52.5" r="2.3" fill="url(#gr)"/>
<circle cx="538.3" cy="145.0" r="2.3" fill="url(#gr)"/>
<circle cx="590.2" cy="183.8" r="2.3" fill="url(#gr)"/>
<circle cx="538.8" cy="95.6" r="5.0" fill="url(#gl)" stroke="#5a9a4e" stroke-width="0.5"/>
<circle cx="593.5" cy="275.3" r="2.3" fill="url(#gr)"/>
<circle cx="505.2" cy="222.8" r="2.3" fill="url(#gr)"/>
<circle cx="542.5" cy="238.7" r="2.3" fill="url(#gr)"/>
<circle cx="559.0" cy="85.0" r="5.0" fill="url(#gl)" stroke="#5a9a4e" stroke-width="0.5"/>
<circle cx="518.4" cy="32.3" r="5.5" fill="url(#go)"/>
<circle cx="518.5" cy="216.4" r="5.5" fill="url(#go)"/>
<circle cx="547.4" cy="283.4" r="5.0" fill="url(#gl)" stroke="#5a9a4e" stroke-width="0.5"/>
<circle cx="607.7" cy="204.1" r="4.8" fill="url(#gb)"/>
<circle cx="575.7" cy="241.0" r="6.4" fill="url(#gb)"/>
<circle cx="562.1" cy="254.0" r="2.3" fill="url(#gr)"/>
<circle cx="578.6" cy="209.9" r="2.3" fill="url(#gr)"/>
<circle cx="618.2" cy="27.7" r="2.3" fill="url(#gr)"/>
<circle cx="535.2" cy="55.7" r="2.3" fill="url(#gr)"/>
<circle cx="517.3" cy="63.4" r="6.4" fill="url(#gb)"/>
<circle cx="559.8" cy="141.1" r="2.3" fill="url(#gr)"/>
<circle cx="510.2" cy="290.9" r="2.3" fill="url(#gr)"/>
<circle cx="558.4" cy="270.8" r="2.3" fill="url(#gr)"/>
<circle cx="552.7" cy="146.4" r="5.0" fill="url(#gl)" stroke="#5a9a4e" stroke-width="0.5"/>
<circle cx="518.3" cy="162.3" r="2.3" fill="url(#gr)"/>
<circle cx="529.8" cy="70.8" r="2.3" fill="url(#gr)"/>
<circle cx="550.6" cy="195.6" r="6.9" fill="url(#gb)"/>
<circle cx="510.6" cy="97.0" r="2.3" fill="url(#gr)"/>
<circle cx="554.1" cy="84.3" r="2.3" fill="url(#gr)"/>
<circle cx="572.1" cy="58.2" r="2.3" fill="url(#gr)"/>
<circle cx="608.0" cy="233.1" r="2.3" fill="url(#gr)"/>
<circle cx="596.2" cy="147.4" r="2.3" fill="url(#gr)"/>
<circle cx="536.9" cy="128.2" r="2.3" fill="url(#gr)"/>
<circle cx="569.3" cy="83.5" r="2.3" fill="url(#gr)"/>
<circle cx="511.4" cy="60.4" r="2.3" fill="url(#gr)"/>
<circle cx="552.9" cy="124.0" r="2.3" fill="url(#gr)"/>
<circle cx="551.6" cy="136.2" r="6.4" fill="url(#gb)"/>
<circle cx="567.1" cy="272.0" r="4.2" fill="url(#gb)"/>
<circle cx="501.5" cy="95.2" r="2.3" fill="url(#gr)"/>
<circle cx="548.4" cy="125.6" r="5.5" fill="url(#go)"/>
<circle cx="518.5" cy="149.6" r="5.5" fill="url(#go)"/>
<circle cx="544.3" cy="118.7" r="2.3" fill="url(#gr)"/>
<circle cx="536.4" cy="258.2" r="2.3" fill="url(#gr)"/>
<circle cx="579.8" cy="37.4" r="2.3" fill="url(#gr)"/>
<circle cx="598.6" cy="85.5" r="2.3" fill="url(#gr)"/>
<circle cx="526.2" cy="22.4" r="2.3" fill="url(#gr)"/>
<circle cx="622.9" cy="186.8" r="2.3" fill="url(#gr)"/>
<circle cx="527.1" cy="146.4" r="2.3" fill="url(#gr)"/>
<circle cx="555.0" cy="22.3" r="5.0" fill="url(#gl)" stroke="#5a9a4e" stroke-width="0.5"/>
<circle cx="560.8" cy="265.0" r="2.3" fill="url(#gr)"/>
<circle cx="592.8" cy="279.0" r="6.7" fill="url(#gb)"/>
<circle cx="594.9" cy="95.6" r="6.4" fill="url(#gb)"/>
<circle cx="537.9" cy="109.6" r="2.3" fill="url(#gr)"/>
<circle cx="527.6" cy="203.7" r="2.3" fill="url(#gr)"/>
<circle cx="572.8" cy="43.4" r="2.3" fill="url(#gr)"/>
<circle cx="551.9" cy="53.8" r="2.3" fill="url(#gr)"/>
<circle cx="590.6" cy="185.1" r="2.3" fill="url(#gr)"/>
<circle cx="594.1" cy="94.6" r="2.3" fill="url(#gr)"/>
<circle cx="557.0" cy="205.2" r="5.0" fill="url(#gl)" stroke="#5a9a4e" stroke-width="0.5"/>
<circle cx="578.3" cy="13.6" r="2.3" fill="url(#gr)"/>
<circle cx="562.8" cy="61.8" r="2.3" fill="url(#gr)"/>
<circle cx="526.0" cy="203.6" r="2.3" fill="url(#gr)"/>
<circle cx="607.9" cy="260.2" r="2.3" fill="url(#gr)"/>
<circle cx="614.1" cy="203.0" r="5.0" fill="url(#gl)" stroke="#5a9a4e" stroke-width="0.5"/>
<circle cx="519.6" cy="119.1" r="6.9" fill="url(#gb)"/>
<circle cx="623.0" cy="121.7" r="2.3" fill="url(#gr)"/>
<circle cx="578.9" cy="92.4" r="5.5" fill="url(#go)"/>
<circle cx="619.7" cy="227.3" r="2.3" fill="url(#gr)"/>
<circle cx="521.7" cy="113.8" r="2.3" fill="url(#gr)"/>
<circle cx="594.3" cy="186.7" r="2.3" fill="url(#gr)"/>
<circle cx="555.5" cy="186.8" r="2.3" fill="url(#gr)"/>
<circle cx="596.2" cy="226.9" r="2.3" fill="url(#gr)"/>
<circle cx="570.3" cy="254.9" r="5.0" fill="url(#gl)" stroke="#5a9a4e" stroke-width="0.5"/>
<circle cx="616.3" cy="277.3" r="5.0" fill="url(#gl)" stroke="#5a9a4e" stroke-width="0.5"/>
<circle cx="548.4" cy="60.1" r="6.1" fill="url(#go)"/>
<circle cx="522.8" cy="101.0" r="5.0" fill="url(#go)"/>
<circle cx="605.6" cy="172.0" r="5.0" fill="url(#gl)" stroke="#5a9a4e" stroke-width="0.5"/>
<circle cx="534.3" cy="166.0" r="2.3" fill="url(#gr)"/>
<circle cx="542.5" cy="194.1" r="2.3" fill="url(#gr)"/>
<circle cx="584.0" cy="204.2" r="2.3" fill="url(#gr)"/>
<circle cx="585.3" cy="287.9" r="2.3" fill="url(#gr)"/>
<circle cx="511.2" cy="135.0" r="2.3" fill="url(#gr)"/>
<circle cx="578.4" cy="164.7" r="2.3" fill="url(#gr)"/>
<circle cx="605.0" cy="45.1" r="2.3" fill="url(#gr)"/>
<circle cx="576.4" cy="260.8" r="2.3" fill="url(#gr)"/>
<circle cx="547.1" cy="225.2" r="2.3" fill="url(#gr)"/>
<circle cx="520.6" cy="236.7" r="6.9" fill="url(#gb)"/>
<circle cx="524.9" cy="172.0" r="5.0" fill="url(#gl)" stroke="#5a9a4e" stroke-width="0.5"/>
<circle cx="560.3" cy="19.3" r="2.3" fill="url(#gr)"/>
<circle cx="513.0" cy="295.1" r="2.3" fill="url(#gr)"/>
<circle cx="588.5" cy="69.4" r="5.0" fill="url(#gl)" stroke="#5a9a4e" stroke-width="0.5"/>
<circle cx="577.6" cy="258.4" r="2.3" fill="url(#gr)"/>
<circle cx="559.9" cy="114.7" r="2.3" fill="url(#gr)"/>
<circle cx="566.7" cy="54.6" r="2.3" fill="url(#gr)"/>
<circle cx="590.6" cy="101.0" r="5.0" fill="url(#gl)" stroke="#5a9a4e" stroke-width="0.5"/>
<circle cx="575.1" cy="244.3" r="2.3" fill="url(#gr)"/>
<circle cx="609.4" cy="172.1" r="2.3" fill="url(#gr)"/>
<circle cx="568.3" cy="144.1" r="2.3" fill="url(#gr)"/>
<circle cx="560.5" cy="155.8" r="2.3" fill="url(#gr)"/>
<circle cx="590.0" cy="281.3" r="2.3" fill="url(#gr)"/>
<circle cx="510.0" cy="21.2" r="2.3" fill="url(#gr)"/>
<circle cx="566.3" cy="275.1" r="2.3" fill="url(#gr)"/>
<circle cx="523.8" cy="76.4" r="5.0" fill="url(#gl)" stroke="#5a9a4e" stroke-width="0.5"/>
<circle cx="601.5" cy="129.1" r="2.3" fill="url(#gr)"/>
<circle cx="616.5" cy="296.8" r="2.3" fill="url(#gr)"/>
<circle cx="547.6" cy="270.0" r="2.3" fill="url(#gr)"/>
<circle cx="536.9" cy="98.3" r="2.3" fill="url(#gr)"/>
<circle cx="610.7" cy="198.4" r="2.3" fill="url(#gr)"/>
<circle cx="554.1" cy="180.9" r="2.3" fill="url(#gr)"/>
<circle cx="550.0" cy="131.3" r="2.3" fill="url(#gr)"/>
<circle cx="513.8" cy="58.5" r="2.3" fill="url(#gr)"/>
<circle cx="585.5" cy="134.1" r="2.3" fill="url(#gr)"/>
<circle cx="610.3" cy="251.3" r="2.3" fill="url(#gr)"/>
<circle cx="572.1" cy="85.8" r="2.3" fill="url(#gr)"/>
<circle cx="505.3" cy="208.1" r="2.3" fill="url(#gr)"/>
<circle cx="551.6" cy="253.8" r="6.9" fill="url(#gb)"/>
<circle cx="550.6" cy="77.5" r="6.4" fill="url(#gb)"/>
<circle cx="569.3" cy="56.6" r="5.0" fill="url(#gl)" stroke="#5a9a4e" stroke-width="0.5"/>
<circle cx="546.2" cy="196.0" r="2.3" fill="url(#gr)"/>
<circle cx="515.4" cy="263.2" r="2.3" fill="url(#gr)"/>
<circle cx="545.2" cy="240.4" r="2.3" fill="url(#gr)"/>
<circle cx="536.4" cy="85.1" r="2.3" fill="url(#gr)"/>
<circle cx="608.6" cy="109.6" r="2.3" fill="url(#gr)"/>
<circle cx="591.9" cy="220.4" r="2.3" fill="url(#gr)"/>
<circle cx="576.2" cy="46.5" r="2.3" fill="url(#gr)"/>
<circle cx="593.8" cy="42.7" r="5.3" fill="url(#gb)"/>
<circle cx="569.3" cy="136.2" r="5.0" fill="url(#gl)" stroke="#5a9a4e" stroke-width="0.5"/>
<circle cx="604.4" cy="65.4" r="2.3" fill="url(#gr)"/>
<circle cx="514.6" cy="231.6" r="2.3" fill="url(#gr)"/>
<circle cx="612.0" cy="165.6" r="6.9" fill="url(#gb)"/>
<circle cx="543.4" cy="24.7" r="2.3" fill="url(#gr)"/>
<circle cx="617.6" cy="217.9" r="2.3" fill="url(#gr)"/>
<circle cx="613.0" cy="30.0" r="5.0" fill="url(#gl)" stroke="#5a9a4e" stroke-width="0.5"/>
<circle cx="520.6" cy="86.7" r="2.3" fill="url(#gr)"/>
<circle cx="509.7" cy="190.9" r="2.3" fill="url(#gr)"/>
<circle cx="605.1" cy="259.2" r="2.3" fill="url(#gr)"/>
<circle cx="527.3" cy="63.5" r="2.3" fill="url(#gr)"/>
<circle cx="555.2" cy="220.7" r="2.3" fill="url(#gr)"/>
<circle cx="565.2" cy="294.6" r="2.3" fill="url(#gr)"/>
<circle cx="525.2" cy="86.7" r="2.3" fill="url(#gr)"/>
<circle cx="585.7" cy="43.7" r="2.3" fill="url(#gr)"/>
<circle cx="619.7" cy="75.5" r="2.3" fill="url(#gr)"/>
<circle cx="554.1" cy="292.4" r="2.3" fill="url(#gr)"/>
<circle cx="573.5" cy="187.0" r="4.2" fill="url(#gb)"/>
<circle cx="598.5" cy="76.9" r="2.3" fill="url(#gr)"/>
<circle cx="510.5" cy="131.6" r="2.3" fill="url(#gr)"/>
<circle cx="575.2" cy="248.0" r="2.3" fill="url(#gr)"/>
<circle cx="613.1" cy="147.5" r="5.0" fill="url(#gl)" stroke="#5a9a4e" stroke-width="0.5"/>
<circle cx="560.8" cy="277.9" r="5.0" fill="url(#gl)" stroke="#5a9a4e" stroke-width="0.5"/>
<circle cx="534.3" cy="100.6" r="2.3" fill="url(#gr)"/>
<circle cx="608.4" cy="180.0" r="2.3" fill="url(#gr)"/>
<circle cx="538.8" cy="213.2" r="5.0" fill="url(#gl)" stroke="#5a9a4e" stroke-width="0.5"/>
<circle cx="505.0" cy="292.4" r="2.3" fill="url(#gr)"/>
<circle cx="509.5" cy="40.0" r="5.0" fill="url(#gl)" stroke="#5a9a4e" stroke-width="0.5"/>
<circle cx="505.0" cy="62.3" r="5.0" fill="url(#gl)" stroke="#5a9a4e" stroke-width="0.5"/>
<circle cx="624.8" cy="24.6" r="5.0" fill="url(#gl)" stroke="#5a9a4e" stroke-width="0.5"/>
<circle cx="624.8" cy="50.2" r="5.0" fill="url(#gl)" stroke="#5a9a4e" stroke-width="0.5"/>
<circle cx="622.7" cy="41.7" r="5.0" fill="url(#gl)" stroke="#5a9a4e" stroke-width="0.5"/>
<circle cx="627.0" cy="57.7" r="5.0" fill="url(#gl)" stroke="#5a9a4e" stroke-width="0.5"/>
<circle cx="507.8" cy="86.0" r="5.0" fill="url(#gl)" stroke="#5a9a4e" stroke-width="0.5"/>
<circle cx="506.8" cy="103.0" r="5.0" fill="url(#gl)" stroke="#5a9a4e" stroke-width="0.5"/>
<circle cx="506.8" cy="121.3" r="5.0" fill="url(#gl)" stroke="#5a9a4e" stroke-width="0.5"/>
<circle cx="623.8" cy="97.8" r="5.0" fill="url(#gl)" stroke="#5a9a4e" stroke-width="0.5"/>
<circle cx="625.9" cy="76.4" r="5.0" fill="url(#gl)" stroke="#5a9a4e" stroke-width="0.5"/>
<circle cx="628.0" cy="79.6" r="5.0" fill="url(#gl)" stroke="#5a9a4e" stroke-width="0.5"/>
<circle cx="625.9" cy="113.8" r="5.0" fill="url(#gl)" stroke="#5a9a4e" stroke-width="0.5"/>
<circle cx="627.0" cy="121.3" r="5.0" fill="url(#gl)" stroke="#5a9a4e" stroke-width="0.5"/>
<circle cx="625.9" cy="132.0" r="5.0" fill="url(#gl)" stroke="#5a9a4e" stroke-width="0.5"/>
<circle cx="508.9" cy="157.1" r="5.0" fill="url(#gl)" stroke="#5a9a4e" stroke-width="0.5"/>
<circle cx="505.7" cy="179.5" r="5.0" fill="url(#gl)" stroke="#5a9a4e" stroke-width="0.5"/>
<circle cx="508.9" cy="204.1" r="5.0" fill="url(#gl)" stroke="#5a9a4e" stroke-width="0.5"/>
<circle cx="624.8" cy="146.4" r="5.0" fill="url(#gl)" stroke="#5a9a4e" stroke-width="0.5"/>
<circle cx="622.7" cy="166.7" r="5.0" fill="url(#gl)" stroke="#5a9a4e" stroke-width="0.5"/>
<circle cx="627.0" cy="176.3" r="5.0" fill="url(#gl)" stroke="#5a9a4e" stroke-width="0.5"/>
<circle cx="622.7" cy="191.3" r="5.0" fill="url(#gl)" stroke="#5a9a4e" stroke-width="0.5"/>
<circle cx="627.0" cy="196.6" r="5.0" fill="url(#gl)" stroke="#5a9a4e" stroke-width="0.5"/>
<circle cx="505.7" cy="218.5" r="5.0" fill="url(#gl)" stroke="#5a9a4e" stroke-width="0.5"/>
<circle cx="506.8" cy="239.9" r="5.0" fill="url(#gl)" stroke="#5a9a4e" stroke-width="0.5"/>
<circle cx="624.8" cy="214.3" r="5.0" fill="url(#gl)" stroke="#5a9a4e" stroke-width="0.5"/>
<circle cx="580.0" cy="237.8" r="5.0" fill="url(#gl)" stroke="#5a9a4e" stroke-width="0.5"/>
<circle cx="627.0" cy="233.5" r="5.0" fill="url(#gl)" stroke="#5a9a4e" stroke-width="0.5"/>
<circle cx="624.8" cy="239.9" r="5.0" fill="url(#gl)" stroke="#5a9a4e" stroke-width="0.5"/>
<circle cx="627.0" cy="250.6" r="5.0" fill="url(#gl)" stroke="#5a9a4e" stroke-width="0.5"/>
<circle cx="624.8" cy="261.3" r="5.0" fill="url(#gl)" stroke="#5a9a4e" stroke-width="0.5"/>
<circle cx="622.5" cy="68.5" r="5.0" fill="url(#gl)" stroke="#5a9a4e" stroke-width="0.5"/>
<circle cx="625.5" cy="73.0" r="5.0" fill="url(#gl)" stroke="#5a9a4e" stroke-width="0.5"/>
<circle cx="625.0" cy="93.5" r="5.0" fill="url(#gl)" stroke="#5a9a4e" stroke-width="0.5"/>
<circle cx="625.5" cy="157.5" r="5.0" fill="url(#gl)" stroke="#5a9a4e" stroke-width="0.5"/>
<circle cx="623.7" cy="187.5" r="5.0" fill="url(#gl)" stroke="#5a9a4e" stroke-width="0.5"/>
<circle cx="626.0" cy="206.0" r="5.0" fill="url(#gl)" stroke="#5a9a4e" stroke-width="0.5"/>
<circle cx="509.5" cy="274.5" r="5.0" fill="url(#gl)" stroke="#5a9a4e" stroke-width="0.5"/>
<circle cx="624.3" cy="281.2" r="5.0" fill="url(#gl)" stroke="#5a9a4e" stroke-width="0.5"/>
<circle cx="626.5" cy="252.2" r="5.0" fill="url(#gl)" stroke="#5a9a4e" stroke-width="0.5"/></g>
<text x="444.2" y="13.6" font-size="13" font-weight="bold" fill="#111" font-family="Liberation Sans, sans-serif">(b)</text>
<text x="444.6" y="320.1" font-size="11.2" fill="#111" stroke="#111" stroke-width="0.22" textLength="41.2" lengthAdjust="spacingAndGlyphs" font-family="Liberation Sans, sans-serif">Li (100)</text>
<line x1="501.7" y1="311.4" x2="497.6" y2="321.8" stroke="#1a1a1a" stroke-width="1.05"/>
<text x="515.1" y="320.1" font-size="11.2" fill="#111" stroke="#111" stroke-width="0.22" textLength="84.1" lengthAdjust="spacingAndGlyphs" font-family="Liberation Sans, sans-serif">LLZO (100) with</text>
<text x="518.2" y="335.8" font-size="11.2" fill="#111" stroke="#111" stroke-width="0.22" textLength="76.8" lengthAdjust="spacingAndGlyphs" font-family="Liberation Sans, sans-serif">Li termination</text>
</svg>
</body></html>
